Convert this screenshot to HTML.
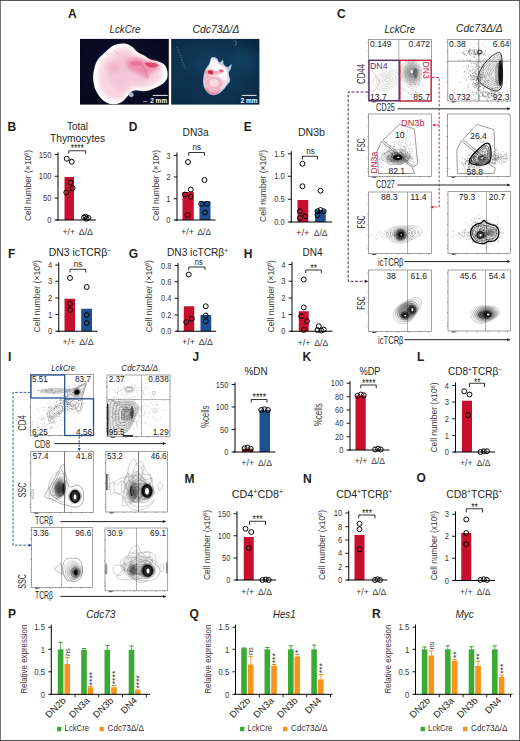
<!DOCTYPE html>
<html lang="en"><head><meta charset="utf-8"><title>Figure</title>
<style>
html,body{margin:0;padding:0;background:#fff;}
svg{display:block;font-family:"Liberation Sans", sans-serif;}
</style></head><body>
<svg width="520" height="741" viewBox="0 0 520 741">
<defs>
<filter id="b1" x="-20%" y="-20%" width="140%" height="140%"><feGaussianBlur stdDeviation="0.7"/></filter>
<filter id="b2" x="-30%" y="-30%" width="160%" height="160%"><feGaussianBlur stdDeviation="2.2"/></filter>
<filter id="b3" x="-30%" y="-30%" width="160%" height="160%"><feGaussianBlur stdDeviation="4"/></filter>
<filter id="b05" x="-20%" y="-20%" width="140%" height="140%"><feGaussianBlur stdDeviation="0.45"/></filter>
<radialGradient id="bg1" cx="50%" cy="45%" r="70%"><stop offset="0" stop-color="#0d1230"/><stop offset="1" stop-color="#05071a"/></radialGradient>
<radialGradient id="bg2" cx="45%" cy="50%" r="75%"><stop offset="0" stop-color="#12405f"/><stop offset="0.6" stop-color="#0d3350"/><stop offset="1" stop-color="#08233c"/></radialGradient>
<radialGradient id="th1" cx="45%" cy="50%" r="60%"><stop offset="0" stop-color="#f6bccb"/><stop offset="0.55" stop-color="#f8cbd7"/><stop offset="0.85" stop-color="#fde3ea"/><stop offset="1" stop-color="#ffffff"/></radialGradient>
<radialGradient id="th2" cx="50%" cy="55%" r="60%"><stop offset="0" stop-color="#f7c3d0"/><stop offset="0.7" stop-color="#f3b4c6"/><stop offset="1" stop-color="#f9dbe6"/></radialGradient>
<clipPath id="cpA1"><rect x="80" y="38.9" width="88.8" height="65.7"/></clipPath>
<clipPath id="cpA2"><rect x="171.2" y="38.9" width="88.2" height="65.7"/></clipPath>
<radialGradient id="gdark"><stop offset="0" stop-color="#000" stop-opacity="0.95"/><stop offset="0.45" stop-color="#000" stop-opacity="0.75"/><stop offset="0.8" stop-color="#000" stop-opacity="0.35"/><stop offset="1" stop-color="#000" stop-opacity="0"/></radialGradient>
<radialGradient id="gmid"><stop offset="0" stop-color="#000" stop-opacity="0.6"/><stop offset="0.6" stop-color="#000" stop-opacity="0.3"/><stop offset="1" stop-color="#000" stop-opacity="0"/></radialGradient>
<radialGradient id="glight"><stop offset="0" stop-color="#000" stop-opacity="0.25"/><stop offset="1" stop-color="#000" stop-opacity="0"/></radialGradient>
</defs>
<rect x="0" y="0" width="520" height="741" fill="#fff"/>
<text x="68.00" y="17.60" font-size="12" font-weight="700" fill="#231f20">A</text>
<text x="109.50" y="32.50" font-size="10.5" font-style="italic" fill="#231f20" textLength="31.00" lengthAdjust="spacingAndGlyphs">LckCre</text>
<text x="192.50" y="32.50" font-size="10.5" font-style="italic" fill="#231f20" textLength="47.00" lengthAdjust="spacingAndGlyphs">Cdc73Δ/Δ</text>
<rect x="80.00" y="38.90" width="88.80" height="65.70" fill="url(#bg1)" />
<g clip-path="url(#cpA1)">
<path d="M117.8,44.1C120.0,43.6 122.6,43.1 125.0,43.6C127.4,44.0 130.1,45.4 132.2,46.8C134.3,48.3 135.5,50.8 137.7,52.3C139.8,53.8 142.8,54.7 144.9,55.9C147.0,57.1 148.2,58.6 150.3,59.5C152.4,60.4 155.1,60.4 157.5,61.3C159.9,62.2 163.1,63.1 164.8,64.9C166.4,66.7 167.2,69.7 167.5,72.2C167.8,74.6 167.6,77.3 166.6,79.4C165.5,81.5 163.3,83.3 161.2,84.8C159.0,86.3 156.6,87.4 153.9,88.4C151.2,89.5 147.9,90.8 144.9,91.1C141.9,91.4 138.3,90.0 135.8,90.2C133.4,90.4 131.9,91.3 130.4,92.4C129.0,93.5 128.7,94.9 127.2,96.6C125.7,98.2 123.9,100.9 121.4,102.2C118.9,103.5 115.4,104.7 112.3,104.3C109.3,104.0 105.7,102.4 102.9,100.2C100.2,98.0 97.7,94.6 96.1,91.1C94.4,87.7 93.5,83.1 93.2,79.4C92.9,75.6 93.5,71.9 94.3,68.5C95.1,65.2 96.1,62.2 97.9,59.5C99.7,56.8 102.9,54.4 105.1,52.3C107.4,50.2 109.3,48.2 111.4,46.8C113.6,45.5 115.5,44.7 117.8,44.1Z" fill="#fff" stroke="none" stroke-width="1" filter="url(#b1)"/>
<path d="M119.2,48.0C121.1,47.6 123.3,47.2 125.4,47.6C127.5,48.0 129.8,49.1 131.6,50.4C133.5,51.6 134.5,53.7 136.3,55.0C138.1,56.3 140.7,57.1 142.5,58.1C144.3,59.2 145.4,60.5 147.2,61.2C149.0,62.0 151.3,62.0 153.4,62.8C155.5,63.6 158.2,64.4 159.6,65.9C161.0,67.5 161.7,70.1 162.0,72.1C162.2,74.2 162.1,76.5 161.2,78.4C160.3,80.2 158.3,81.7 156.5,83.0C154.7,84.3 152.6,85.2 150.3,86.1C148.0,87.0 145.1,88.2 142.5,88.5C139.9,88.7 136.8,87.5 134.7,87.7C132.7,87.9 131.3,88.6 130.1,89.5C128.8,90.5 128.6,91.7 127.3,93.1C126.0,94.5 124.4,96.8 122.3,97.9C120.2,99.1 117.2,100.1 114.5,99.8C111.9,99.5 108.8,98.1 106.5,96.2C104.1,94.3 101.9,91.4 100.5,88.5C99.1,85.5 98.3,81.6 98.1,78.4C97.8,75.1 98.3,71.9 99.0,69.0C99.7,66.2 100.5,63.6 102.1,61.2C103.7,58.9 106.4,56.8 108.3,55.0C110.3,53.2 111.9,51.5 113.8,50.4C115.6,49.2 117.3,48.5 119.2,48.0Z" fill="#f8d6e1" stroke="none" stroke-width="1" filter="url(#b2)"/>
<path d="M123.2,54.0C124.6,53.6 126.2,53.3 127.7,53.6C129.2,53.9 130.8,54.7 132.1,55.6C133.5,56.5 134.2,58.1 135.5,59.0C136.8,59.9 138.7,60.5 140.0,61.2C141.3,62.0 142.0,62.9 143.4,63.5C144.7,64.1 146.3,64.1 147.8,64.6C149.3,65.2 151.3,65.7 152.3,66.9C153.3,68.0 153.8,69.8 154.0,71.3C154.2,72.8 154.1,74.5 153.4,75.8C152.8,77.1 151.4,78.2 150.1,79.2C148.8,80.1 147.3,80.8 145.6,81.4C143.9,82.1 141.9,82.9 140.0,83.1C138.1,83.3 135.9,82.4 134.4,82.5C132.9,82.7 131.9,83.2 131.0,83.9C130.1,84.5 129.9,85.5 129.0,86.5C128.1,87.5 126.9,89.1 125.4,89.9C123.9,90.7 121.7,91.5 119.8,91.3C117.9,91.1 115.7,90.1 114.0,88.7C112.3,87.3 110.7,85.3 109.7,83.1C108.7,81.0 108.1,78.2 107.9,75.8C107.7,73.5 108.1,71.1 108.6,69.1C109.1,67.0 109.7,65.2 110.8,63.5C112.0,61.8 113.9,60.3 115.3,59.0C116.7,57.7 117.9,56.5 119.3,55.6C120.6,54.8 121.8,54.3 123.2,54.0Z" fill="#f3bfd4" stroke="none" stroke-width="1" opacity="0.65" filter="url(#b2)"/>
<path d="M126.8,61.3C128.3,59.8 132.5,57.8 135.8,57.7C139.2,57.5 143.1,59.5 146.7,60.4C150.3,61.3 155.4,61.8 157.5,63.1C159.6,64.5 160.6,67.0 159.3,68.5C158.1,70.0 152.4,70.6 150.3,72.2C148.2,73.7 148.5,77.3 146.7,77.6C144.9,77.9 141.9,75.2 139.5,74.0C137.1,72.8 134.3,71.6 132.2,70.3C130.1,69.1 127.7,68.2 126.8,66.7C125.9,65.2 125.3,62.8 126.8,61.3Z" fill="#e6608a" stroke="none" stroke-width="1" opacity="0.55" filter="url(#b2)"/>
<path d="M129.5,63.1C129.5,62.3 135.4,60.9 137.7,60.9C139.9,60.9 143.1,62.3 143.1,63.1C143.1,63.9 139.9,65.8 137.7,65.8C135.4,65.8 129.5,63.9 129.5,63.1Z" fill="#e0507a" stroke="none" stroke-width="1" opacity="0.4" filter="url(#b1)"/>
<path d="M144.9,62.8C145.6,62.0 152.6,62.6 154.8,63.1C157.1,63.6 159.2,65.1 158.4,65.8C157.7,66.6 152.6,68.1 150.3,67.6C148.0,67.1 144.1,63.5 144.9,62.8Z" fill="#d32650" stroke="none" stroke-width="1" opacity="0.7" filter="url(#b1)"/>
<ellipse cx="113.2" cy="67.6" rx="7" ry="5" fill="#ee9db4" opacity="0.45" filter="url(#b2)"/>
<path d="M142.2,64.9C142.6,65.7 144.1,67.8 144.9,69.4C145.6,71.1 146.2,73.4 146.7,74.9C147.1,76.4 147.4,77.9 147.6,78.5" fill="none" stroke="#c0315a" stroke-width="0.5" opacity="0.6"/>
<path d="M115.1,51.4C115.4,51.7 116.3,52.7 116.9,53.2C117.5,53.6 118.4,53.9 118.7,54.1" fill="none" stroke="#c03a5a" stroke-width="0.5" opacity="0.5"/>
<path d="M128.6,93.5C128.9,92.7 131.4,92.0 132.2,92.4C133.1,92.8 134.0,94.9 133.7,95.7C133.4,96.4 131.3,97.5 130.4,97.1C129.6,96.7 128.3,94.3 128.6,93.5Z" fill="#c9d4f0" stroke="none" stroke-width="1" opacity="0.85" filter="url(#b05)"/>
</g>
<line x1="152.80" y1="95.40" x2="167.80" y2="95.40" stroke="#fff" stroke-width="0.9" />
<text x="158.70" y="103.30" font-size="7" text-anchor="middle" font-weight="700" fill="#fff" textLength="17.00" lengthAdjust="spacingAndGlyphs">2 mm</text>
<line x1="143.00" y1="101.70" x2="147.20" y2="101.40" stroke="#c8cce0" stroke-width="0.7" />
<rect x="171.20" y="38.90" width="88.20" height="65.70" fill="url(#bg2)" />
<g clip-path="url(#cpA2)">
<path d="M177.0,46.8C177.5,48.1 178.8,51.7 179.7,54.1C180.7,56.5 181.4,58.7 182.5,61.3C183.5,63.9 185.5,68.1 186.1,69.4" fill="none" stroke="#8fc0dc" stroke-width="0.8" opacity="0.55" stroke-dasharray="1.5 1.2" filter="url(#b05)"/>
<path d="M234.9,40.5C235.1,41.0 236.3,42.3 236.3,43.2C236.4,44.1 235.4,45.5 235.2,45.9" fill="none" stroke="#7fb3d2" stroke-width="1.2" opacity="0.45" filter="url(#b05)"/>
<ellipse cx="200" cy="85" rx="22" ry="12" fill="#0a2a45" opacity="0.5" filter="url(#b3)"/>
<ellipse cx="245" cy="60" rx="14" ry="12" fill="#164a6b" opacity="0.45" filter="url(#b3)"/>
<path d="M213.3,57.1C214.3,57.1 216.1,57.7 217.1,58.6C218.1,59.5 218.5,62.2 219.5,62.4C220.5,62.6 222.2,59.7 222.9,60.0C223.6,60.3 223.0,63.1 223.8,64.3C224.6,65.5 226.4,67.2 227.7,67.2C229.0,67.2 231.0,64.0 231.5,64.3C232.0,64.6 231.1,67.8 230.6,69.2C230.1,70.7 228.8,71.1 228.7,73.0C228.6,74.9 230.4,78.6 230.1,80.7C229.8,82.8 227.9,83.9 226.7,85.5C225.5,87.1 224.5,88.8 222.9,90.3C221.3,91.8 219.2,93.9 217.1,94.6C215.0,95.3 212.3,95.3 210.4,94.6C208.5,93.9 206.8,92.1 205.6,90.3C204.4,88.5 203.5,86.2 203.2,83.6C202.9,81.0 203.3,77.3 203.7,74.9C204.1,72.5 204.6,71.1 205.6,69.2C206.6,67.3 208.5,65.2 209.4,63.4C210.3,61.6 210.2,59.6 210.9,58.6C211.6,57.6 212.3,57.1 213.3,57.1Z" fill="#d6e6f4" stroke="none" stroke-width="1" opacity="0.85" filter="url(#b1)"/>
<path d="M213.3,58.2C214.1,58.2 215.6,58.9 216.5,59.8C217.4,60.7 217.9,62.5 219.0,63.5C220.1,64.5 221.8,64.7 223.0,65.5C224.2,66.3 225.7,67.1 226.5,68.5C227.3,69.9 227.6,72.0 228.0,74.0C228.4,76.0 229.2,78.7 228.8,80.5C228.4,82.3 226.8,83.5 225.6,85.0C224.4,86.5 223.4,88.0 221.9,89.4C220.4,90.8 218.4,92.7 216.6,93.4C214.8,94.1 212.5,94.0 210.8,93.4C209.1,92.8 207.7,91.3 206.6,89.6C205.5,87.9 204.7,85.7 204.4,83.3C204.1,80.9 204.5,77.5 204.9,75.2C205.3,72.9 205.8,71.6 206.7,69.7C207.6,67.8 209.4,65.7 210.2,64.0C211.0,62.3 211.0,60.6 211.5,59.6C212.0,58.6 212.5,58.2 213.3,58.2Z" fill="#f8dbe4" stroke="none" stroke-width="1" filter="url(#b05)"/>
<path d="M211.5,60.0C212.6,58.9 214.8,59.7 216.0,60.5C217.2,61.3 217.7,63.8 219.0,65.0C220.3,66.2 222.7,66.3 224.0,67.5C225.3,68.7 226.6,69.9 227.0,72.0C227.4,74.1 227.5,79.0 226.5,80.0C225.5,81.0 223.1,79.8 221.0,78.0C218.9,76.2 215.9,71.3 214.0,69.5C212.1,67.7 209.9,68.6 209.5,67.0C209.1,65.4 210.4,61.1 211.5,60.0Z" fill="#fff" stroke="none" stroke-width="1" opacity="0.9" filter="url(#b1)"/>
<path d="M205.5,76.0C206.7,74.9 209.8,76.2 212.0,76.5C214.2,76.8 217.2,76.9 219.0,78.0C220.8,79.1 222.8,81.2 223.0,83.0C223.2,84.8 221.3,87.3 220.0,89.0C218.7,90.7 216.6,92.3 215.0,93.0C213.4,93.7 211.9,93.7 210.5,93.0C209.1,92.3 207.4,90.7 206.5,89.0C205.6,87.3 205.0,85.2 204.8,83.0C204.6,80.8 204.3,77.1 205.5,76.0Z" fill="#f3a9be" stroke="none" stroke-width="1" opacity="0.7" filter="url(#b1)"/>
<path d="M206.0,87.0C206.6,87.2 208.3,90.6 210.0,91.5C211.7,92.4 214.2,93.0 216.0,92.5C217.8,92.0 220.8,88.2 221.0,88.5C221.2,88.8 218.7,93.0 217.0,94.0C215.3,95.0 212.4,94.8 210.6,94.2C208.8,93.6 207.0,91.5 206.2,90.3C205.4,89.1 205.4,86.8 206.0,87.0Z" fill="#e36f90" stroke="none" stroke-width="1" opacity="0.7" filter="url(#b1)"/>
<ellipse cx="214" cy="83" rx="4.5" ry="4" fill="#fdebf0" opacity="0.7" filter="url(#b1)"/>
<path d="M205.5,71.5C206.3,70.7 208.2,69.9 210.0,69.8C211.8,69.7 214.0,71.0 216.0,71.0C218.0,71.0 220.7,69.4 222.0,69.5C223.3,69.6 224.2,70.8 224.0,71.5C223.8,72.2 222.5,73.3 221.0,73.8C219.5,74.3 217.0,74.2 215.0,74.5C213.0,74.8 210.6,75.3 209.0,75.3C207.4,75.3 206.0,75.1 205.4,74.5C204.8,73.9 204.7,72.3 205.5,71.5Z" fill="#ee7f9c" stroke="none" stroke-width="1" opacity="0.55" filter="url(#b1)"/>
<ellipse cx="210.6" cy="72.2" rx="2.6" ry="1.9" fill="#d3123e" filter="url(#b05)" transform="rotate(15 210.6 72.2)"/>
<ellipse cx="221.2" cy="70.8" rx="2.2" ry="1.4" fill="#e2507a" opacity="0.85" filter="url(#b05)"/>
</g>
<line x1="241.80" y1="95.40" x2="256.60" y2="95.40" stroke="#fff" stroke-width="0.9" />
<text x="249.00" y="103.30" font-size="7" text-anchor="middle" font-weight="700" fill="#fff" textLength="17.00" lengthAdjust="spacingAndGlyphs">2 mm</text>
<text x="77.50" y="129.50" font-size="10" text-anchor="middle" fill="#231f20" textLength="21.00" lengthAdjust="spacingAndGlyphs">Total</text>
<text x="7.50" y="131.30" font-size="12" font-weight="700" fill="#231f20">B</text>
<text x="50.00" y="142.00" font-size="10" fill="#231f20" textLength="55.00" lengthAdjust="spacingAndGlyphs">Thymocytes</text>
<rect x="64.50" y="177.00" width="9.50" height="43.00" fill="#c8102e" />
<line x1="58.00" y1="152.50" x2="58.00" y2="220.50" stroke="#000" stroke-width="1" />
<line x1="56.50" y1="220.00" x2="96.00" y2="220.00" stroke="#000" stroke-width="1" />
<line x1="54.60" y1="154.50" x2="58.00" y2="154.50" stroke="#000" stroke-width="0.9" />
<text x="51.40" y="157.70" font-size="9.6" text-anchor="end" fill="#3a3a3a" textLength="12.60" lengthAdjust="spacingAndGlyphs">150</text>
<line x1="54.60" y1="176.25" x2="58.00" y2="176.25" stroke="#000" stroke-width="0.9" />
<text x="51.40" y="179.45" font-size="9.6" text-anchor="end" fill="#3a3a3a" textLength="12.60" lengthAdjust="spacingAndGlyphs">100</text>
<line x1="54.60" y1="198.00" x2="58.00" y2="198.00" stroke="#000" stroke-width="0.9" />
<text x="51.40" y="201.20" font-size="9.6" text-anchor="end" fill="#3a3a3a" textLength="8.40" lengthAdjust="spacingAndGlyphs">50</text>
<line x1="54.60" y1="220.00" x2="58.00" y2="220.00" stroke="#000" stroke-width="0.9" />
<text x="51.40" y="223.20" font-size="9.6" text-anchor="end" fill="#3a3a3a" textLength="4.20" lengthAdjust="spacingAndGlyphs">0</text>
<circle cx="66.75" cy="158.75" r="2.45" fill="none" stroke="#000" stroke-width="1.0"/>
<circle cx="71.75" cy="161.75" r="2.45" fill="none" stroke="#000" stroke-width="1.0"/>
<circle cx="70.50" cy="182.50" r="2.45" fill="none" stroke="#000" stroke-width="1.0"/>
<circle cx="72.50" cy="188.25" r="2.45" fill="none" stroke="#000" stroke-width="1.0"/>
<circle cx="66.25" cy="192.50" r="2.45" fill="none" stroke="#000" stroke-width="1.0"/>
<circle cx="84.00" cy="217.50" r="2.45" fill="none" stroke="#000" stroke-width="1.0"/>
<circle cx="86.50" cy="218.70" r="2.45" fill="none" stroke="#000" stroke-width="1.0"/>
<circle cx="88.30" cy="217.80" r="2.45" fill="none" stroke="#000" stroke-width="1.0"/>
<circle cx="85.50" cy="216.60" r="2.45" fill="none" stroke="#000" stroke-width="1.0"/>
<path d="M68.75,153.75V150.75H85.75V153.75" fill="none" stroke="#000" stroke-width="0.8" />
<text x="77.20" y="152.40" font-size="10.5" text-anchor="middle" fill="#231f20" textLength="13.00" lengthAdjust="spacingAndGlyphs">****</text>
<text x="62.50" y="234.50" font-size="9" fill="#3a3a3a" textLength="12.50" lengthAdjust="spacingAndGlyphs">+/+</text>
<text x="78.75" y="234.50" font-size="9" fill="#3a3a3a" textLength="14.25" lengthAdjust="spacingAndGlyphs">Δ/Δ</text>
<text x="30.70" y="221.00" font-size="9.7" fill="#3a3a3a" transform="rotate(-90 30.70 221.00)" textLength="71.00" lengthAdjust="spacingAndGlyphs">Cell number (×10<tspan dy="-2.6" font-size="6.0">6</tspan><tspan dy="2.6">)</tspan></text>
<text x="128.75" y="131.30" font-size="12" font-weight="700" fill="#231f20">D</text>
<text x="182.50" y="136.25" font-size="10" fill="#231f20" textLength="26.25" lengthAdjust="spacingAndGlyphs">DN3a</text>
<rect x="182.50" y="192.00" width="11.25" height="28.00" fill="#c8102e" />
<rect x="199.50" y="201.25" width="11.00" height="18.75" fill="#1d4f91" />
<line x1="177.00" y1="152.50" x2="177.00" y2="220.50" stroke="#000" stroke-width="1" />
<line x1="175.50" y1="220.00" x2="215.50" y2="220.00" stroke="#000" stroke-width="1" />
<line x1="173.60" y1="155.50" x2="177.00" y2="155.50" stroke="#000" stroke-width="0.9" />
<text x="170.40" y="158.70" font-size="9.6" text-anchor="end" fill="#3a3a3a" textLength="4.20" lengthAdjust="spacingAndGlyphs">3</text>
<line x1="173.60" y1="177.00" x2="177.00" y2="177.00" stroke="#000" stroke-width="0.9" />
<text x="170.40" y="180.20" font-size="9.6" text-anchor="end" fill="#3a3a3a" textLength="4.20" lengthAdjust="spacingAndGlyphs">2</text>
<line x1="173.60" y1="198.75" x2="177.00" y2="198.75" stroke="#000" stroke-width="0.9" />
<text x="170.40" y="201.95" font-size="9.6" text-anchor="end" fill="#3a3a3a" textLength="4.20" lengthAdjust="spacingAndGlyphs">1</text>
<line x1="173.60" y1="220.00" x2="177.00" y2="220.00" stroke="#000" stroke-width="0.9" />
<text x="170.40" y="223.20" font-size="9.6" text-anchor="end" fill="#3a3a3a" textLength="4.20" lengthAdjust="spacingAndGlyphs">0</text>
<circle cx="188.00" cy="162.00" r="2.45" fill="none" stroke="#000" stroke-width="1.0"/>
<circle cx="190.75" cy="189.50" r="2.45" fill="none" stroke="#000" stroke-width="1.0"/>
<circle cx="185.00" cy="194.50" r="2.45" fill="none" stroke="#000" stroke-width="1.0"/>
<circle cx="190.75" cy="196.75" r="2.45" fill="none" stroke="#000" stroke-width="1.0"/>
<circle cx="187.50" cy="215.00" r="2.45" fill="none" stroke="#000" stroke-width="1.0"/>
<circle cx="204.50" cy="180.00" r="2.45" fill="none" stroke="#000" stroke-width="1.0"/>
<circle cx="201.25" cy="203.75" r="2.45" fill="none" stroke="#000" stroke-width="1.0"/>
<circle cx="207.00" cy="203.75" r="2.45" fill="none" stroke="#000" stroke-width="1.0"/>
<circle cx="205.00" cy="212.50" r="2.45" fill="none" stroke="#000" stroke-width="1.0"/>
<path d="M188.75,155.75V152.50H204.50V155.75" fill="none" stroke="#000" stroke-width="0.8" />
<text x="196.80" y="150.30" font-size="8.3" text-anchor="middle" fill="#231f20" textLength="8.50" lengthAdjust="spacingAndGlyphs">ns</text>
<text x="181.00" y="234.50" font-size="9" fill="#3a3a3a" textLength="13.00" lengthAdjust="spacingAndGlyphs">+/+</text>
<text x="197.50" y="234.50" font-size="9" fill="#3a3a3a" textLength="13.50" lengthAdjust="spacingAndGlyphs">Δ/Δ</text>
<text x="159.20" y="221.00" font-size="9.7" fill="#3a3a3a" transform="rotate(-90 159.20 221.00)" textLength="71.00" lengthAdjust="spacingAndGlyphs">Cell number (×10<tspan dy="-2.6" font-size="6.0">6</tspan><tspan dy="2.6">)</tspan></text>
<text x="243.75" y="131.30" font-size="12" font-weight="700" fill="#231f20">E</text>
<text x="298.00" y="136.25" font-size="10" fill="#231f20" textLength="27.00" lengthAdjust="spacingAndGlyphs">DN3b</text>
<rect x="297.50" y="200.00" width="10.75" height="22.00" fill="#c8102e" />
<rect x="315.00" y="210.00" width="10.75" height="12.00" fill="#1d4f91" />
<line x1="291.25" y1="151.25" x2="291.25" y2="222.50" stroke="#000" stroke-width="1" />
<line x1="289.75" y1="222.00" x2="332.00" y2="222.00" stroke="#000" stroke-width="1" />
<line x1="287.85" y1="153.75" x2="291.25" y2="153.75" stroke="#000" stroke-width="0.9" />
<text x="284.65" y="156.95" font-size="9.6" text-anchor="end" fill="#3a3a3a" textLength="10.40" lengthAdjust="spacingAndGlyphs">1.5</text>
<line x1="287.85" y1="176.25" x2="291.25" y2="176.25" stroke="#000" stroke-width="0.9" />
<text x="284.65" y="179.45" font-size="9.6" text-anchor="end" fill="#3a3a3a" textLength="10.40" lengthAdjust="spacingAndGlyphs">1.0</text>
<line x1="287.85" y1="199.25" x2="291.25" y2="199.25" stroke="#000" stroke-width="0.9" />
<text x="284.65" y="202.45" font-size="9.6" text-anchor="end" fill="#3a3a3a" textLength="10.40" lengthAdjust="spacingAndGlyphs">0.5</text>
<line x1="287.85" y1="222.00" x2="291.25" y2="222.00" stroke="#000" stroke-width="0.9" />
<text x="284.65" y="225.20" font-size="9.6" text-anchor="end" fill="#3a3a3a" textLength="10.40" lengthAdjust="spacingAndGlyphs">0.0</text>
<circle cx="302.50" cy="163.75" r="2.45" fill="none" stroke="#000" stroke-width="1.0"/>
<circle cx="302.50" cy="186.25" r="2.45" fill="none" stroke="#000" stroke-width="1.0"/>
<circle cx="300.00" cy="211.25" r="2.45" fill="none" stroke="#000" stroke-width="1.0"/>
<circle cx="305.00" cy="216.25" r="2.45" fill="none" stroke="#000" stroke-width="1.0"/>
<circle cx="300.00" cy="218.00" r="2.45" fill="none" stroke="#000" stroke-width="1.0"/>
<circle cx="320.50" cy="190.75" r="2.45" fill="none" stroke="#000" stroke-width="1.0"/>
<circle cx="317.50" cy="211.25" r="2.45" fill="none" stroke="#000" stroke-width="1.0"/>
<circle cx="320.50" cy="210.00" r="2.45" fill="none" stroke="#000" stroke-width="1.0"/>
<circle cx="323.75" cy="211.25" r="2.45" fill="none" stroke="#000" stroke-width="1.0"/>
<circle cx="317.50" cy="215.00" r="2.45" fill="none" stroke="#000" stroke-width="1.0"/>
<path d="M302.50,159.50V156.25H317.50V159.50" fill="none" stroke="#000" stroke-width="0.8" />
<text x="310.50" y="154.00" font-size="8.3" text-anchor="middle" fill="#231f20" textLength="8.50" lengthAdjust="spacingAndGlyphs">ns</text>
<text x="296.00" y="236.00" font-size="9" fill="#3a3a3a" textLength="13.50" lengthAdjust="spacingAndGlyphs">+/+</text>
<text x="313.75" y="236.00" font-size="9" fill="#3a3a3a" textLength="13.75" lengthAdjust="spacingAndGlyphs">Δ/Δ</text>
<text x="265.70" y="222.00" font-size="9.7" fill="#3a3a3a" transform="rotate(-90 265.70 222.00)" textLength="72.00" lengthAdjust="spacingAndGlyphs">Cell number (×10<tspan dy="-2.6" font-size="6.0">6</tspan><tspan dy="2.6">)</tspan></text>
<text x="8.00" y="258.00" font-size="12" font-weight="700" fill="#231f20">F</text>
<text x="48.75" y="256.25" font-size="10" fill="#231f20" textLength="62.50" lengthAdjust="spacingAndGlyphs">DN3 icTCRβ<tspan dy="-3.2" font-size="6.5">−</tspan></text>
<rect x="64.50" y="298.75" width="10.50" height="32.50" fill="#c8102e" />
<rect x="81.25" y="308.75" width="10.75" height="22.50" fill="#1d4f91" />
<line x1="58.75" y1="262.50" x2="58.75" y2="331.75" stroke="#000" stroke-width="1" />
<line x1="57.25" y1="331.25" x2="97.50" y2="331.25" stroke="#000" stroke-width="1" />
<line x1="55.35" y1="265.00" x2="58.75" y2="265.00" stroke="#000" stroke-width="0.9" />
<text x="52.15" y="268.20" font-size="9.6" text-anchor="end" fill="#3a3a3a" textLength="4.20" lengthAdjust="spacingAndGlyphs">4</text>
<line x1="55.35" y1="281.25" x2="58.75" y2="281.25" stroke="#000" stroke-width="0.9" />
<text x="52.15" y="284.45" font-size="9.6" text-anchor="end" fill="#3a3a3a" textLength="4.20" lengthAdjust="spacingAndGlyphs">3</text>
<line x1="55.35" y1="298.00" x2="58.75" y2="298.00" stroke="#000" stroke-width="0.9" />
<text x="52.15" y="301.20" font-size="9.6" text-anchor="end" fill="#3a3a3a" textLength="4.20" lengthAdjust="spacingAndGlyphs">2</text>
<line x1="55.35" y1="314.50" x2="58.75" y2="314.50" stroke="#000" stroke-width="0.9" />
<text x="52.15" y="317.70" font-size="9.6" text-anchor="end" fill="#3a3a3a" textLength="4.20" lengthAdjust="spacingAndGlyphs">1</text>
<line x1="55.35" y1="331.25" x2="58.75" y2="331.25" stroke="#000" stroke-width="0.9" />
<text x="52.15" y="334.45" font-size="9.6" text-anchor="end" fill="#3a3a3a" textLength="4.20" lengthAdjust="spacingAndGlyphs">0</text>
<circle cx="70.00" cy="278.00" r="2.45" fill="none" stroke="#000" stroke-width="1.0"/>
<circle cx="70.00" cy="303.75" r="2.45" fill="none" stroke="#000" stroke-width="1.0"/>
<circle cx="70.00" cy="310.00" r="2.45" fill="none" stroke="#000" stroke-width="1.0"/>
<circle cx="86.75" cy="287.00" r="2.45" fill="none" stroke="#000" stroke-width="1.0"/>
<circle cx="86.75" cy="315.00" r="2.45" fill="none" stroke="#000" stroke-width="1.0"/>
<circle cx="86.75" cy="323.00" r="2.45" fill="none" stroke="#000" stroke-width="1.0"/>
<path d="M70.00,272.50V269.25H85.75V272.50" fill="none" stroke="#000" stroke-width="0.8" />
<text x="78.00" y="267.00" font-size="8.3" text-anchor="middle" fill="#231f20" textLength="8.50" lengthAdjust="spacingAndGlyphs">ns</text>
<text x="62.50" y="345.00" font-size="9" fill="#3a3a3a" textLength="13.00" lengthAdjust="spacingAndGlyphs">+/+</text>
<text x="79.25" y="345.00" font-size="9" fill="#3a3a3a" textLength="14.50" lengthAdjust="spacingAndGlyphs">Δ/Δ</text>
<text x="39.70" y="332.50" font-size="9.7" fill="#3a3a3a" transform="rotate(-90 39.70 332.50)" textLength="72.50" lengthAdjust="spacingAndGlyphs">Cell number (×10<tspan dy="-2.6" font-size="6.0">6</tspan><tspan dy="2.6">)</tspan></text>
<text x="128.75" y="258.00" font-size="12" font-weight="700" fill="#231f20">G</text>
<text x="167.00" y="256.25" font-size="10" fill="#231f20" textLength="61.00" lengthAdjust="spacingAndGlyphs">DN3 icTCRβ<tspan dy="-3.2" font-size="6.5">+</tspan></text>
<rect x="183.75" y="306.25" width="10.50" height="25.00" fill="#c8102e" />
<rect x="200.50" y="315.00" width="10.75" height="16.25" fill="#1d4f91" />
<line x1="178.00" y1="263.00" x2="178.00" y2="331.75" stroke="#000" stroke-width="1" />
<line x1="176.50" y1="331.25" x2="216.25" y2="331.25" stroke="#000" stroke-width="1" />
<line x1="174.60" y1="265.50" x2="178.00" y2="265.50" stroke="#000" stroke-width="0.9" />
<text x="171.40" y="268.70" font-size="9.6" text-anchor="end" fill="#3a3a3a" textLength="10.40" lengthAdjust="spacingAndGlyphs">0.8</text>
<line x1="174.60" y1="281.75" x2="178.00" y2="281.75" stroke="#000" stroke-width="0.9" />
<text x="171.40" y="284.95" font-size="9.6" text-anchor="end" fill="#3a3a3a" textLength="10.40" lengthAdjust="spacingAndGlyphs">0.6</text>
<line x1="174.60" y1="298.25" x2="178.00" y2="298.25" stroke="#000" stroke-width="0.9" />
<text x="171.40" y="301.45" font-size="9.6" text-anchor="end" fill="#3a3a3a" textLength="10.40" lengthAdjust="spacingAndGlyphs">0.4</text>
<line x1="174.60" y1="315.00" x2="178.00" y2="315.00" stroke="#000" stroke-width="0.9" />
<text x="171.40" y="318.20" font-size="9.6" text-anchor="end" fill="#3a3a3a" textLength="10.40" lengthAdjust="spacingAndGlyphs">0.2</text>
<line x1="174.60" y1="331.25" x2="178.00" y2="331.25" stroke="#000" stroke-width="0.9" />
<text x="171.40" y="334.45" font-size="9.6" text-anchor="end" fill="#3a3a3a" textLength="10.40" lengthAdjust="spacingAndGlyphs">0.0</text>
<circle cx="188.75" cy="274.50" r="2.45" fill="none" stroke="#000" stroke-width="1.0"/>
<circle cx="191.75" cy="318.75" r="2.45" fill="none" stroke="#000" stroke-width="1.0"/>
<circle cx="186.25" cy="322.00" r="2.45" fill="none" stroke="#000" stroke-width="1.0"/>
<circle cx="205.75" cy="306.25" r="2.45" fill="none" stroke="#000" stroke-width="1.0"/>
<circle cx="205.75" cy="315.50" r="2.45" fill="none" stroke="#000" stroke-width="1.0"/>
<circle cx="205.75" cy="321.25" r="2.45" fill="none" stroke="#000" stroke-width="1.0"/>
<path d="M188.75,270.00V267.00H205.00V270.00" fill="none" stroke="#000" stroke-width="0.8" />
<text x="198.70" y="264.80" font-size="8.3" text-anchor="middle" fill="#231f20" textLength="8.00" lengthAdjust="spacingAndGlyphs">ns</text>
<text x="182.00" y="345.00" font-size="9" fill="#3a3a3a" textLength="13.00" lengthAdjust="spacingAndGlyphs">+/+</text>
<text x="198.75" y="345.00" font-size="9" fill="#3a3a3a" textLength="14.25" lengthAdjust="spacingAndGlyphs">Δ/Δ</text>
<text x="152.00" y="332.50" font-size="9.7" fill="#3a3a3a" transform="rotate(-90 152.00 332.50)" textLength="72.50" lengthAdjust="spacingAndGlyphs">Cell number (×10<tspan dy="-2.6" font-size="6.0">6</tspan><tspan dy="2.6">)</tspan></text>
<text x="243.75" y="258.00" font-size="12" font-weight="700" fill="#231f20">H</text>
<text x="302.50" y="255.50" font-size="10" fill="#231f20" textLength="20.00" lengthAdjust="spacingAndGlyphs">DN4</text>
<rect x="298.75" y="311.25" width="10.00" height="20.00" fill="#c8102e" />
<line x1="292.00" y1="261.75" x2="292.00" y2="331.75" stroke="#000" stroke-width="1" />
<line x1="290.50" y1="331.25" x2="332.50" y2="331.25" stroke="#000" stroke-width="1" />
<line x1="288.60" y1="264.50" x2="292.00" y2="264.50" stroke="#000" stroke-width="0.9" />
<text x="285.40" y="267.70" font-size="9.6" text-anchor="end" fill="#3a3a3a" textLength="4.20" lengthAdjust="spacingAndGlyphs">4</text>
<line x1="288.60" y1="281.25" x2="292.00" y2="281.25" stroke="#000" stroke-width="0.9" />
<text x="285.40" y="284.45" font-size="9.6" text-anchor="end" fill="#3a3a3a" textLength="4.20" lengthAdjust="spacingAndGlyphs">3</text>
<line x1="288.60" y1="298.00" x2="292.00" y2="298.00" stroke="#000" stroke-width="0.9" />
<text x="285.40" y="301.20" font-size="9.6" text-anchor="end" fill="#3a3a3a" textLength="4.20" lengthAdjust="spacingAndGlyphs">2</text>
<line x1="288.60" y1="314.50" x2="292.00" y2="314.50" stroke="#000" stroke-width="0.9" />
<text x="285.40" y="317.70" font-size="9.6" text-anchor="end" fill="#3a3a3a" textLength="4.20" lengthAdjust="spacingAndGlyphs">1</text>
<line x1="288.60" y1="331.25" x2="292.00" y2="331.25" stroke="#000" stroke-width="0.9" />
<text x="285.40" y="334.45" font-size="9.6" text-anchor="end" fill="#3a3a3a" textLength="4.20" lengthAdjust="spacingAndGlyphs">0</text>
<circle cx="303.75" cy="279.50" r="2.45" fill="none" stroke="#000" stroke-width="1.0"/>
<circle cx="303.75" cy="307.50" r="2.45" fill="none" stroke="#000" stroke-width="1.0"/>
<circle cx="301.25" cy="316.25" r="2.45" fill="none" stroke="#000" stroke-width="1.0"/>
<circle cx="307.00" cy="321.25" r="2.45" fill="none" stroke="#000" stroke-width="1.0"/>
<circle cx="303.75" cy="330.00" r="2.45" fill="none" stroke="#000" stroke-width="1.0"/>
<circle cx="318.75" cy="326.25" r="2.45" fill="none" stroke="#000" stroke-width="1.0"/>
<circle cx="317.50" cy="330.00" r="2.45" fill="none" stroke="#000" stroke-width="1.0"/>
<circle cx="321.25" cy="330.50" r="2.45" fill="none" stroke="#000" stroke-width="1.0"/>
<circle cx="323.75" cy="329.50" r="2.45" fill="none" stroke="#000" stroke-width="1.0"/>
<path d="M305.75,273.00V270.00H321.25V273.00" fill="none" stroke="#000" stroke-width="0.8" />
<text x="313.70" y="272.30" font-size="10.5" text-anchor="middle" fill="#231f20" textLength="6.50" lengthAdjust="spacingAndGlyphs">**</text>
<text x="297.50" y="345.50" font-size="9" fill="#3a3a3a" textLength="13.00" lengthAdjust="spacingAndGlyphs">+/+</text>
<text x="314.25" y="345.50" font-size="9" fill="#3a3a3a" textLength="14.00" lengthAdjust="spacingAndGlyphs">Δ/Δ</text>
<text x="274.00" y="332.50" font-size="9.7" fill="#3a3a3a" transform="rotate(-90 274.00 332.50)" textLength="72.50" lengthAdjust="spacingAndGlyphs">Cell number (×10<tspan dy="-2.6" font-size="6.0">6</tspan><tspan dy="2.6">)</tspan></text>
<text x="192.50" y="360.60" font-size="12" font-weight="700" fill="#231f20">J</text>
<text x="244.50" y="375.00" font-size="10" fill="#231f20" textLength="23.00" lengthAdjust="spacingAndGlyphs">%DN</text>
<rect x="242.00" y="448.75" width="11.25" height="3.25" fill="#8a1a2a" />
<rect x="259.50" y="410.00" width="10.50" height="42.00" fill="#1d4f91" />
<line x1="235.00" y1="382.50" x2="235.00" y2="452.50" stroke="#000" stroke-width="1" />
<line x1="233.50" y1="452.00" x2="275.50" y2="452.00" stroke="#000" stroke-width="1" />
<line x1="231.60" y1="384.50" x2="235.00" y2="384.50" stroke="#000" stroke-width="0.9" />
<text x="228.40" y="387.70" font-size="9.6" text-anchor="end" fill="#3a3a3a" textLength="12.60" lengthAdjust="spacingAndGlyphs">150</text>
<line x1="231.60" y1="407.00" x2="235.00" y2="407.00" stroke="#000" stroke-width="0.9" />
<text x="228.40" y="410.20" font-size="9.6" text-anchor="end" fill="#3a3a3a" textLength="12.60" lengthAdjust="spacingAndGlyphs">100</text>
<line x1="231.60" y1="429.50" x2="235.00" y2="429.50" stroke="#000" stroke-width="0.9" />
<text x="228.40" y="432.70" font-size="9.6" text-anchor="end" fill="#3a3a3a" textLength="8.40" lengthAdjust="spacingAndGlyphs">50</text>
<line x1="231.60" y1="452.00" x2="235.00" y2="452.00" stroke="#000" stroke-width="0.9" />
<text x="228.40" y="455.20" font-size="9.6" text-anchor="end" fill="#3a3a3a" textLength="4.20" lengthAdjust="spacingAndGlyphs">0</text>
<circle cx="244.50" cy="448.25" r="2.45" fill="none" stroke="#000" stroke-width="1.0"/>
<circle cx="247.50" cy="447.50" r="2.45" fill="none" stroke="#000" stroke-width="1.0"/>
<circle cx="250.75" cy="448.75" r="2.45" fill="none" stroke="#000" stroke-width="1.0"/>
<circle cx="261.25" cy="410.00" r="2.45" fill="none" stroke="#000" stroke-width="1.0"/>
<circle cx="264.50" cy="409.25" r="2.45" fill="none" stroke="#000" stroke-width="1.0"/>
<circle cx="268.00" cy="410.00" r="2.45" fill="none" stroke="#000" stroke-width="1.0"/>
<path d="M251.25,402.50V399.50H267.00V402.50" fill="none" stroke="#000" stroke-width="0.8" />
<text x="259.30" y="401.20" font-size="10.5" text-anchor="middle" fill="#231f20" textLength="13.50" lengthAdjust="spacingAndGlyphs">****</text>
<text x="241.25" y="466.00" font-size="9" fill="#3a3a3a" textLength="13.00" lengthAdjust="spacingAndGlyphs">+/+</text>
<text x="258.00" y="466.00" font-size="9" fill="#3a3a3a" textLength="14.00" lengthAdjust="spacingAndGlyphs">Δ/Δ</text>
<text x="208.80" y="428.00" font-size="10" fill="#3a3a3a" transform="rotate(-90 208.80 428.00)" textLength="22.50" lengthAdjust="spacingAndGlyphs">%cells</text>
<text x="302.50" y="360.60" font-size="12" font-weight="700" fill="#231f20">K</text>
<text x="359.50" y="375.00" font-size="10" fill="#231f20" textLength="21.00" lengthAdjust="spacingAndGlyphs">%DP</text>
<rect x="355.50" y="395.50" width="10.25" height="54.50" fill="#c8102e" />
<line x1="350.00" y1="381.25" x2="350.00" y2="450.50" stroke="#000" stroke-width="1" />
<line x1="348.50" y1="450.00" x2="389.50" y2="450.00" stroke="#000" stroke-width="1" />
<line x1="346.60" y1="383.25" x2="350.00" y2="383.25" stroke="#000" stroke-width="0.9" />
<text x="343.40" y="386.45" font-size="9.6" text-anchor="end" fill="#3a3a3a" textLength="12.60" lengthAdjust="spacingAndGlyphs">100</text>
<line x1="346.60" y1="396.75" x2="350.00" y2="396.75" stroke="#000" stroke-width="0.9" />
<text x="343.40" y="399.95" font-size="9.6" text-anchor="end" fill="#3a3a3a" textLength="8.40" lengthAdjust="spacingAndGlyphs">80</text>
<line x1="346.60" y1="410.00" x2="350.00" y2="410.00" stroke="#000" stroke-width="0.9" />
<text x="343.40" y="413.20" font-size="9.6" text-anchor="end" fill="#3a3a3a" textLength="8.40" lengthAdjust="spacingAndGlyphs">60</text>
<line x1="346.60" y1="423.25" x2="350.00" y2="423.25" stroke="#000" stroke-width="0.9" />
<text x="343.40" y="426.45" font-size="9.6" text-anchor="end" fill="#3a3a3a" textLength="8.40" lengthAdjust="spacingAndGlyphs">40</text>
<line x1="346.60" y1="436.75" x2="350.00" y2="436.75" stroke="#000" stroke-width="0.9" />
<text x="343.40" y="439.95" font-size="9.6" text-anchor="end" fill="#3a3a3a" textLength="8.40" lengthAdjust="spacingAndGlyphs">20</text>
<line x1="346.60" y1="450.00" x2="350.00" y2="450.00" stroke="#000" stroke-width="0.9" />
<text x="343.40" y="453.20" font-size="9.6" text-anchor="end" fill="#3a3a3a" textLength="4.20" lengthAdjust="spacingAndGlyphs">0</text>
<circle cx="357.50" cy="395.75" r="2.45" fill="none" stroke="#000" stroke-width="1.0"/>
<circle cx="360.75" cy="394.50" r="2.45" fill="none" stroke="#000" stroke-width="1.0"/>
<circle cx="363.75" cy="395.25" r="2.45" fill="none" stroke="#000" stroke-width="1.0"/>
<circle cx="375.00" cy="449.50" r="2.45" fill="none" stroke="#000" stroke-width="1.0"/>
<circle cx="378.00" cy="448.75" r="2.45" fill="none" stroke="#000" stroke-width="1.0"/>
<circle cx="380.75" cy="449.50" r="2.45" fill="none" stroke="#000" stroke-width="1.0"/>
<path d="M360.75,388.25V385.00H376.25V388.25" fill="none" stroke="#000" stroke-width="0.8" />
<text x="368.80" y="387.00" font-size="10.5" text-anchor="middle" fill="#231f20" textLength="13.50" lengthAdjust="spacingAndGlyphs">****</text>
<text x="354.50" y="464.00" font-size="9" fill="#3a3a3a" textLength="13.00" lengthAdjust="spacingAndGlyphs">+/+</text>
<text x="371.25" y="464.00" font-size="9" fill="#3a3a3a" textLength="13.75" lengthAdjust="spacingAndGlyphs">Δ/Δ</text>
<text x="321.80" y="426.25" font-size="10" fill="#3a3a3a" transform="rotate(-90 321.80 426.25)" textLength="23.00" lengthAdjust="spacingAndGlyphs">%cells</text>
<text x="417.00" y="360.60" font-size="12" font-weight="700" fill="#231f20">L</text>
<text x="448.00" y="375.00" font-size="10" fill="#231f20" textLength="54.00" lengthAdjust="spacingAndGlyphs">CD8<tspan dy="-3.2" font-size="6.5">+</tspan><tspan dy="3.2">TCRβ</tspan><tspan dy="-3.2" font-size="6.5">−</tspan></text>
<rect x="462.00" y="400.75" width="10.00" height="51.25" fill="#c8102e" />
<line x1="455.50" y1="382.50" x2="455.50" y2="452.50" stroke="#000" stroke-width="1" />
<line x1="454.00" y1="452.00" x2="495.00" y2="452.00" stroke="#000" stroke-width="1" />
<line x1="452.10" y1="385.50" x2="455.50" y2="385.50" stroke="#000" stroke-width="0.9" />
<text x="448.90" y="388.70" font-size="9.6" text-anchor="end" fill="#3a3a3a" textLength="4.20" lengthAdjust="spacingAndGlyphs">4</text>
<line x1="452.10" y1="402.00" x2="455.50" y2="402.00" stroke="#000" stroke-width="0.9" />
<text x="448.90" y="405.20" font-size="9.6" text-anchor="end" fill="#3a3a3a" textLength="4.20" lengthAdjust="spacingAndGlyphs">3</text>
<line x1="452.10" y1="418.75" x2="455.50" y2="418.75" stroke="#000" stroke-width="0.9" />
<text x="448.90" y="421.95" font-size="9.6" text-anchor="end" fill="#3a3a3a" textLength="4.20" lengthAdjust="spacingAndGlyphs">2</text>
<line x1="452.10" y1="435.50" x2="455.50" y2="435.50" stroke="#000" stroke-width="0.9" />
<text x="448.90" y="438.70" font-size="9.6" text-anchor="end" fill="#3a3a3a" textLength="4.20" lengthAdjust="spacingAndGlyphs">1</text>
<line x1="452.10" y1="452.00" x2="455.50" y2="452.00" stroke="#000" stroke-width="0.9" />
<text x="448.90" y="455.20" font-size="9.6" text-anchor="end" fill="#3a3a3a" textLength="4.20" lengthAdjust="spacingAndGlyphs">0</text>
<circle cx="464.25" cy="391.25" r="2.45" fill="none" stroke="#000" stroke-width="1.0"/>
<circle cx="469.50" cy="394.50" r="2.45" fill="none" stroke="#000" stroke-width="1.0"/>
<circle cx="468.00" cy="415.00" r="2.45" fill="none" stroke="#000" stroke-width="1.0"/>
<circle cx="480.50" cy="452.00" r="2.45" fill="none" stroke="#000" stroke-width="1.0"/>
<circle cx="483.75" cy="451.25" r="2.45" fill="none" stroke="#000" stroke-width="1.0"/>
<circle cx="487.00" cy="451.25" r="2.45" fill="none" stroke="#000" stroke-width="1.0"/>
<path d="M469.50,387.00V383.25H484.50V387.00" fill="none" stroke="#000" stroke-width="0.8" />
<text x="477.20" y="385.80" font-size="10.5" text-anchor="middle" fill="#231f20" textLength="6.50" lengthAdjust="spacingAndGlyphs">**</text>
<text x="460.00" y="466.00" font-size="9" fill="#3a3a3a" textLength="12.50" lengthAdjust="spacingAndGlyphs">+/+</text>
<text x="476.75" y="466.00" font-size="9" fill="#3a3a3a" textLength="13.75" lengthAdjust="spacingAndGlyphs">Δ/Δ</text>
<text x="437.20" y="452.50" font-size="9.7" fill="#3a3a3a" transform="rotate(-90 437.20 452.50)" textLength="70.00" lengthAdjust="spacingAndGlyphs">Cell number (x10<tspan dy="-2.6" font-size="6.0">6</tspan><tspan dy="2.6">)</tspan></text>
<text x="184.50" y="482.60" font-size="12" font-weight="700" fill="#231f20">M</text>
<text x="231.75" y="497.50" font-size="10" fill="#231f20" textLength="51.25" lengthAdjust="spacingAndGlyphs">CD4<tspan dy="-3.2" font-size="6.5">+</tspan><tspan dy="3.2">CD8</tspan><tspan dy="-3.2" font-size="6.5">+</tspan></text>
<rect x="243.75" y="537.00" width="10.00" height="43.00" fill="#c8102e" />
<line x1="237.00" y1="511.25" x2="237.00" y2="580.50" stroke="#000" stroke-width="1" />
<line x1="235.50" y1="580.00" x2="276.25" y2="580.00" stroke="#000" stroke-width="1" />
<line x1="233.60" y1="513.75" x2="237.00" y2="513.75" stroke="#000" stroke-width="0.9" />
<text x="230.40" y="516.95" font-size="9.6" text-anchor="end" fill="#3a3a3a" textLength="12.60" lengthAdjust="spacingAndGlyphs">150</text>
<line x1="233.60" y1="535.75" x2="237.00" y2="535.75" stroke="#000" stroke-width="0.9" />
<text x="230.40" y="538.95" font-size="9.6" text-anchor="end" fill="#3a3a3a" textLength="12.60" lengthAdjust="spacingAndGlyphs">100</text>
<line x1="233.60" y1="558.00" x2="237.00" y2="558.00" stroke="#000" stroke-width="0.9" />
<text x="230.40" y="561.20" font-size="9.6" text-anchor="end" fill="#3a3a3a" textLength="8.40" lengthAdjust="spacingAndGlyphs">50</text>
<line x1="233.60" y1="580.00" x2="237.00" y2="580.00" stroke="#000" stroke-width="0.9" />
<text x="230.40" y="583.20" font-size="9.6" text-anchor="end" fill="#3a3a3a" textLength="4.20" lengthAdjust="spacingAndGlyphs">0</text>
<circle cx="245.50" cy="528.75" r="2.45" fill="none" stroke="#000" stroke-width="1.0"/>
<circle cx="251.25" cy="532.00" r="2.45" fill="none" stroke="#000" stroke-width="1.0"/>
<circle cx="248.75" cy="548.00" r="2.45" fill="none" stroke="#000" stroke-width="1.0"/>
<circle cx="262.50" cy="580.00" r="2.45" fill="none" stroke="#000" stroke-width="1.0"/>
<circle cx="265.75" cy="579.50" r="2.45" fill="none" stroke="#000" stroke-width="1.0"/>
<circle cx="268.75" cy="580.00" r="2.45" fill="none" stroke="#000" stroke-width="1.0"/>
<path d="M249.50,525.00V521.25H265.50V525.00" fill="none" stroke="#000" stroke-width="0.8" />
<text x="257.60" y="523.30" font-size="10.5" text-anchor="middle" fill="#231f20" textLength="10.00" lengthAdjust="spacingAndGlyphs">***</text>
<text x="241.25" y="594.50" font-size="9" fill="#3a3a3a" textLength="13.00" lengthAdjust="spacingAndGlyphs">+/+</text>
<text x="258.00" y="594.50" font-size="9" fill="#3a3a3a" textLength="14.00" lengthAdjust="spacingAndGlyphs">Δ/Δ</text>
<text x="209.70" y="580.00" font-size="9.7" fill="#3a3a3a" transform="rotate(-90 209.70 580.00)" textLength="70.00" lengthAdjust="spacingAndGlyphs">Cell number (x10<tspan dy="-2.6" font-size="6.0">6</tspan><tspan dy="2.6">)</tspan></text>
<text x="303.00" y="482.60" font-size="12" font-weight="700" fill="#231f20">N</text>
<text x="336.25" y="497.50" font-size="10" fill="#231f20" textLength="56.25" lengthAdjust="spacingAndGlyphs">CD4<tspan dy="-3.2" font-size="6.5">+</tspan><tspan dy="3.2">TCRβ</tspan><tspan dy="-3.2" font-size="6.5">+</tspan></text>
<rect x="354.50" y="535.00" width="10.00" height="45.00" fill="#c8102e" />
<line x1="348.75" y1="510.75" x2="348.75" y2="580.50" stroke="#000" stroke-width="1" />
<line x1="347.25" y1="580.00" x2="387.50" y2="580.00" stroke="#000" stroke-width="1" />
<line x1="345.35" y1="513.00" x2="348.75" y2="513.00" stroke="#000" stroke-width="0.9" />
<text x="342.15" y="516.20" font-size="9.6" text-anchor="end" fill="#3a3a3a" textLength="8.40" lengthAdjust="spacingAndGlyphs">10</text>
<line x1="345.35" y1="526.75" x2="348.75" y2="526.75" stroke="#000" stroke-width="0.9" />
<text x="342.15" y="529.95" font-size="9.6" text-anchor="end" fill="#3a3a3a" textLength="4.20" lengthAdjust="spacingAndGlyphs">8</text>
<line x1="345.35" y1="540.00" x2="348.75" y2="540.00" stroke="#000" stroke-width="0.9" />
<text x="342.15" y="543.20" font-size="9.6" text-anchor="end" fill="#3a3a3a" textLength="4.20" lengthAdjust="spacingAndGlyphs">6</text>
<line x1="345.35" y1="553.25" x2="348.75" y2="553.25" stroke="#000" stroke-width="0.9" />
<text x="342.15" y="556.45" font-size="9.6" text-anchor="end" fill="#3a3a3a" textLength="4.20" lengthAdjust="spacingAndGlyphs">4</text>
<line x1="345.35" y1="566.75" x2="348.75" y2="566.75" stroke="#000" stroke-width="0.9" />
<text x="342.15" y="569.95" font-size="9.6" text-anchor="end" fill="#3a3a3a" textLength="4.20" lengthAdjust="spacingAndGlyphs">2</text>
<line x1="345.35" y1="580.00" x2="348.75" y2="580.00" stroke="#000" stroke-width="0.9" />
<text x="342.15" y="583.20" font-size="9.6" text-anchor="end" fill="#3a3a3a" textLength="4.20" lengthAdjust="spacingAndGlyphs">0</text>
<circle cx="359.50" cy="523.75" r="2.45" fill="none" stroke="#000" stroke-width="1.0"/>
<circle cx="359.50" cy="529.25" r="2.45" fill="none" stroke="#000" stroke-width="1.0"/>
<circle cx="359.50" cy="549.25" r="2.45" fill="none" stroke="#000" stroke-width="1.0"/>
<circle cx="375.00" cy="580.00" r="2.45" fill="none" stroke="#000" stroke-width="1.0"/>
<circle cx="377.50" cy="579.25" r="2.45" fill="none" stroke="#000" stroke-width="1.0"/>
<circle cx="380.00" cy="580.00" r="2.45" fill="none" stroke="#000" stroke-width="1.0"/>
<path d="M358.75,518.25V515.00H375.00V518.25" fill="none" stroke="#000" stroke-width="0.8" />
<text x="367.00" y="517.00" font-size="10.5" text-anchor="middle" fill="#231f20" textLength="10.00" lengthAdjust="spacingAndGlyphs">***</text>
<text x="356.25" y="595.00" font-size="9" fill="#3a3a3a" textLength="12.50" lengthAdjust="spacingAndGlyphs">+/+</text>
<text x="372.50" y="595.00" font-size="9" fill="#3a3a3a" textLength="13.75" lengthAdjust="spacingAndGlyphs">Δ/Δ</text>
<text x="324.70" y="580.00" font-size="9.7" fill="#3a3a3a" transform="rotate(-90 324.70 580.00)" textLength="70.00" lengthAdjust="spacingAndGlyphs">Cell number (x10<tspan dy="-2.6" font-size="6.0">6</tspan><tspan dy="2.6">)</tspan></text>
<text x="416.50" y="482.40" font-size="12" font-weight="700" fill="#231f20">O</text>
<text x="446.25" y="497.50" font-size="10" fill="#231f20" textLength="56.25" lengthAdjust="spacingAndGlyphs">CD8<tspan dy="-3.2" font-size="6.5">+</tspan><tspan dy="3.2">TCRβ</tspan><tspan dy="-3.2" font-size="6.5">+</tspan></text>
<rect x="461.25" y="533.00" width="10.00" height="47.50" fill="#c8102e" />
<line x1="455.50" y1="511.25" x2="455.50" y2="581.00" stroke="#000" stroke-width="1" />
<line x1="454.00" y1="580.50" x2="495.00" y2="580.50" stroke="#000" stroke-width="1" />
<line x1="452.10" y1="514.25" x2="455.50" y2="514.25" stroke="#000" stroke-width="0.9" />
<text x="448.90" y="517.45" font-size="9.6" text-anchor="end" fill="#3a3a3a" textLength="4.20" lengthAdjust="spacingAndGlyphs">3</text>
<line x1="452.10" y1="536.25" x2="455.50" y2="536.25" stroke="#000" stroke-width="0.9" />
<text x="448.90" y="539.45" font-size="9.6" text-anchor="end" fill="#3a3a3a" textLength="4.20" lengthAdjust="spacingAndGlyphs">2</text>
<line x1="452.10" y1="558.25" x2="455.50" y2="558.25" stroke="#000" stroke-width="0.9" />
<text x="448.90" y="561.45" font-size="9.6" text-anchor="end" fill="#3a3a3a" textLength="4.20" lengthAdjust="spacingAndGlyphs">1</text>
<line x1="452.10" y1="580.50" x2="455.50" y2="580.50" stroke="#000" stroke-width="0.9" />
<text x="448.90" y="583.70" font-size="9.6" text-anchor="end" fill="#3a3a3a" textLength="4.20" lengthAdjust="spacingAndGlyphs">0</text>
<circle cx="466.25" cy="519.50" r="2.45" fill="none" stroke="#000" stroke-width="1.0"/>
<circle cx="466.25" cy="533.00" r="2.45" fill="none" stroke="#000" stroke-width="1.0"/>
<circle cx="466.25" cy="544.25" r="2.45" fill="none" stroke="#000" stroke-width="1.0"/>
<circle cx="480.50" cy="580.00" r="2.45" fill="none" stroke="#000" stroke-width="1.0"/>
<circle cx="483.75" cy="579.25" r="2.45" fill="none" stroke="#000" stroke-width="1.0"/>
<circle cx="487.00" cy="580.00" r="2.45" fill="none" stroke="#000" stroke-width="1.0"/>
<path d="M466.25,512.50V508.75H482.50V512.50" fill="none" stroke="#000" stroke-width="0.8" />
<text x="474.50" y="511.00" font-size="10.5" text-anchor="middle" fill="#231f20" textLength="6.50" lengthAdjust="spacingAndGlyphs">**</text>
<text x="460.00" y="595.00" font-size="9" fill="#3a3a3a" textLength="12.50" lengthAdjust="spacingAndGlyphs">+/+</text>
<text x="476.75" y="595.00" font-size="9" fill="#3a3a3a" textLength="13.75" lengthAdjust="spacingAndGlyphs">Δ/Δ</text>
<text x="437.20" y="580.50" font-size="9.7" fill="#3a3a3a" transform="rotate(-90 437.20 580.50)" textLength="69.50" lengthAdjust="spacingAndGlyphs">Cell number (x10<tspan dy="-2.6" font-size="6.0">6</tspan><tspan dy="2.6">)</tspan></text>
<text x="337.00" y="17.60" font-size="12" font-weight="700" fill="#231f20">C</text>
<text x="384.50" y="32.50" font-size="10.5" font-style="italic" fill="#231f20" textLength="30.50" lengthAdjust="spacingAndGlyphs">LckCre</text>
<text x="456.00" y="32.40" font-size="10.5" font-style="italic" fill="#231f20" textLength="46.70" lengthAdjust="spacingAndGlyphs">Cdc73Δ/Δ</text>
<rect x="368.40" y="39.40" width="63.00" height="61.60" fill="#fff" stroke="#7a7a7a" stroke-width="0.7" />
<line x1="373.44" y1="101.00" x2="373.44" y2="102.10" stroke="#555" stroke-width="0.5" />
<line x1="367.30" y1="96.07" x2="368.40" y2="96.07" stroke="#555" stroke-width="0.5" />
<line x1="376.59" y1="101.00" x2="376.59" y2="102.10" stroke="#555" stroke-width="0.5" />
<line x1="367.30" y1="92.99" x2="368.40" y2="92.99" stroke="#555" stroke-width="0.5" />
<line x1="387.30" y1="101.00" x2="387.30" y2="102.10" stroke="#555" stroke-width="0.5" />
<line x1="367.30" y1="82.52" x2="368.40" y2="82.52" stroke="#555" stroke-width="0.5" />
<line x1="398.01" y1="101.00" x2="398.01" y2="102.10" stroke="#555" stroke-width="0.5" />
<line x1="367.30" y1="72.05" x2="368.40" y2="72.05" stroke="#555" stroke-width="0.5" />
<line x1="408.72" y1="101.00" x2="408.72" y2="102.10" stroke="#555" stroke-width="0.5" />
<line x1="367.30" y1="61.58" x2="368.40" y2="61.58" stroke="#555" stroke-width="0.5" />
<line x1="419.43" y1="101.00" x2="419.43" y2="102.10" stroke="#555" stroke-width="0.5" />
<line x1="367.30" y1="51.10" x2="368.40" y2="51.10" stroke="#555" stroke-width="0.5" />
<line x1="428.25" y1="101.00" x2="428.25" y2="102.10" stroke="#555" stroke-width="0.5" />
<line x1="367.30" y1="42.48" x2="368.40" y2="42.48" stroke="#555" stroke-width="0.5" />
<line x1="372.18" y1="101.90" x2="375.96" y2="101.90" stroke="#222" stroke-width="0.8" />
<line x1="398.80" y1="39.40" x2="398.80" y2="101.00" stroke="#7a7a7a" stroke-width="0.6" />
<line x1="368.40" y1="60.00" x2="431.40" y2="60.00" stroke="#7a7a7a" stroke-width="0.6" />
<path d="M402.4,75.2C402.4,76.8 400.8,78.9 399.8,80.3C398.7,81.8 397.4,82.8 396.2,84.0C395.1,85.2 394.3,86.5 392.9,87.6C391.4,88.7 389.5,90.0 387.7,90.5C385.8,91.0 383.4,90.9 381.7,90.5C379.9,90.1 378.4,89.0 377.1,88.0C375.8,87.0 374.6,85.8 374.0,84.4C373.4,83.0 372.9,81.1 373.4,79.6C373.9,78.1 375.5,76.3 377.0,75.1C378.5,74.0 380.8,73.5 382.5,72.9C384.2,72.3 385.6,72.1 387.4,71.5C389.2,71.0 391.1,69.9 393.2,69.8C395.3,69.6 398.3,69.6 399.8,70.5C401.4,71.4 402.4,73.5 402.4,75.2Z" fill="none" stroke="#8a8a8a" stroke-width="0.45" opacity="0.55"/>
<path d="M399.2,76.2C399.2,77.5 398.1,79.1 397.4,80.3C396.6,81.5 395.6,82.3 394.7,83.3C393.7,84.3 393.0,85.3 391.8,86.2C390.7,87.0 389.1,88.0 387.6,88.4C386.1,88.7 384.3,88.7 382.9,88.3C381.5,88.0 380.2,87.2 379.2,86.4C378.2,85.6 377.3,84.6 376.8,83.5C376.3,82.4 376.0,80.9 376.4,79.7C376.8,78.5 378.0,77.0 379.1,76.1C380.3,75.2 382.0,74.7 383.4,74.2C384.8,73.7 386.0,73.4 387.4,73.0C388.8,72.6 390.4,71.9 392.0,71.8C393.7,71.8 395.9,71.9 397.1,72.6C398.3,73.3 399.1,74.9 399.2,76.2Z" fill="none" stroke="#8a8a8a" stroke-width="0.45" opacity="0.66"/>
<path d="M396.1,77.2C396.1,78.2 395.5,79.3 395.0,80.2C394.5,81.1 393.7,81.8 393.0,82.6C392.3,83.3 391.7,84.1 390.8,84.7C389.9,85.3 388.7,86.0 387.6,86.2C386.5,86.5 385.1,86.5 384.0,86.2C383.0,86.0 382.0,85.4 381.3,84.8C380.5,84.2 379.9,83.4 379.5,82.6C379.2,81.8 379.0,80.7 379.3,79.8C379.5,78.8 380.4,77.8 381.2,77.1C382.1,76.4 383.3,75.9 384.4,75.5C385.4,75.1 386.3,74.9 387.4,74.6C388.5,74.3 389.7,73.9 390.9,73.9C392.1,73.9 393.7,74.0 394.5,74.6C395.4,75.1 396.0,76.3 396.1,77.2Z" fill="none" stroke="#8a8a8a" stroke-width="0.45" opacity="0.78"/>
<path d="M393.1,78.2C393.2,78.8 392.8,79.5 392.5,80.1C392.2,80.7 391.8,81.3 391.3,81.8C390.8,82.3 390.4,82.8 389.7,83.2C389.1,83.6 388.3,84.0 387.6,84.1C386.8,84.3 385.9,84.3 385.2,84.1C384.5,84.0 383.9,83.6 383.4,83.2C382.9,82.8 382.4,82.3 382.2,81.7C382.0,81.2 381.9,80.5 382.1,79.8C382.3,79.2 382.8,78.5 383.3,78.1C383.9,77.6 384.7,77.2 385.3,76.9C386.0,76.6 386.7,76.5 387.4,76.3C388.2,76.1 389.0,75.9 389.8,75.9C390.5,76.0 391.5,76.1 392.1,76.5C392.6,76.9 393.0,77.6 393.1,78.2Z" fill="none" stroke="#8a8a8a" stroke-width="0.45" opacity="0.89"/>
<path d="M390.2,79.1C390.3,79.4 390.2,79.8 390.0,80.1C389.9,80.4 389.7,80.6 389.4,80.9C389.2,81.2 389.0,81.4 388.6,81.6C388.3,81.8 387.9,82.0 387.5,82.1C387.2,82.1 386.7,82.1 386.4,82.0C386.0,82.0 385.7,81.8 385.4,81.6C385.2,81.4 385.0,81.1 384.9,80.9C384.8,80.6 384.7,80.2 384.8,79.9C384.9,79.6 385.1,79.3 385.4,79.0C385.7,78.8 386.1,78.6 386.4,78.4C386.7,78.3 387.1,78.2 387.5,78.1C387.8,78.0 388.3,77.9 388.6,78.0C389.0,78.0 389.4,78.1 389.7,78.3C390.0,78.5 390.2,78.8 390.2,79.1Z" fill="none" stroke="#8a8a8a" stroke-width="0.45" opacity="1.00"/>
<path d="M372,70 L380,82 L374,92" fill="none" stroke="#999" stroke-width="0.4" />
<path d="M402,88 L410,95 L418,92" fill="none" stroke="#999" stroke-width="0.4" />
<path d="M421.9,71.4C422.0,73.6 421.6,75.8 421.2,77.7C420.8,79.7 420.2,81.5 419.3,83.0C418.5,84.5 417.4,85.9 416.1,86.5C414.9,87.2 413.4,87.3 412.0,87.0C410.6,86.6 409.2,85.7 408.0,84.6C406.7,83.5 405.4,82.1 404.4,80.3C403.4,78.6 402.4,76.4 402.0,74.2C401.6,72.0 401.6,69.2 402.1,67.3C402.6,65.3 403.8,63.6 404.8,62.5C405.9,61.3 407.2,60.9 408.4,60.3C409.7,59.8 410.8,59.3 412.2,59.2C413.5,59.1 415.2,59.1 416.5,60.0C417.9,60.9 419.5,62.7 420.4,64.6C421.2,66.5 421.7,69.2 421.9,71.4Z" fill="url(#gmid)" opacity="0.7" stroke="none"/>
<path d="M421.8,72.1C421.9,74.4 421.5,76.7 421.1,78.8C420.6,80.8 420.0,82.7 419.1,84.3C418.2,85.8 417.0,87.3 415.8,88.0C414.5,88.7 412.8,88.8 411.4,88.4C410.0,88.1 408.5,87.1 407.2,85.9C405.8,84.8 404.5,83.3 403.4,81.5C402.4,79.7 401.2,77.3 400.8,75.0C400.4,72.7 400.4,69.8 400.9,67.7C401.5,65.7 402.7,63.9 403.9,62.7C405.0,61.5 406.4,61.0 407.7,60.4C408.9,59.9 410.2,59.3 411.6,59.2C413.0,59.2 414.7,59.1 416.2,60.1C417.6,61.0 419.3,62.9 420.2,64.9C421.1,66.9 421.6,69.7 421.8,72.1Z" fill="none" stroke="#555" stroke-width="0.35" opacity="0.55"/>
<path d="M420.8,72.0C420.9,74.1 420.6,76.2 420.2,78.0C419.8,79.8 419.2,81.6 418.4,82.9C417.7,84.3 416.6,85.6 415.4,86.2C414.3,86.8 412.8,86.9 411.6,86.6C410.3,86.3 409.0,85.4 407.8,84.4C406.6,83.4 405.4,82.0 404.5,80.4C403.5,78.8 402.6,76.7 402.2,74.6C401.8,72.6 401.9,70.0 402.3,68.2C402.7,66.4 403.9,64.8 404.8,63.7C405.8,62.6 407.1,62.1 408.2,61.6C409.3,61.1 410.5,60.6 411.7,60.6C413.0,60.5 414.5,60.5 415.8,61.4C417.1,62.3 418.5,63.9 419.3,65.7C420.2,67.5 420.6,70.0 420.8,72.0Z" fill="none" stroke="#555" stroke-width="0.35" opacity="0.61"/>
<path d="M419.8,72.0C419.9,73.8 419.6,75.6 419.3,77.2C419.0,78.8 418.5,80.4 417.8,81.6C417.1,82.8 416.1,83.9 415.1,84.5C414.1,85.0 412.8,85.1 411.7,84.8C410.6,84.6 409.4,83.8 408.4,82.9C407.4,82.0 406.3,80.8 405.5,79.3C404.7,77.9 403.9,76.1 403.6,74.3C403.3,72.5 403.3,70.3 403.6,68.7C404.0,67.1 405.0,65.6 405.8,64.7C406.7,63.7 407.7,63.2 408.7,62.7C409.8,62.3 410.8,61.9 411.9,61.9C413.0,61.9 414.3,62.0 415.4,62.7C416.5,63.5 417.8,64.9 418.5,66.5C419.2,68.0 419.6,70.2 419.8,72.0Z" fill="none" stroke="#555" stroke-width="0.35" opacity="0.66"/>
<path d="M418.8,72.0C418.9,73.5 418.7,75.1 418.4,76.5C418.1,77.9 417.7,79.2 417.1,80.2C416.5,81.2 415.7,82.2 414.8,82.7C413.9,83.1 412.8,83.2 411.9,83.0C410.9,82.8 409.9,82.1 409.0,81.3C408.1,80.5 407.2,79.5 406.6,78.3C405.9,77.0 405.2,75.5 404.9,73.9C404.7,72.4 404.7,70.5 405.0,69.1C405.3,67.7 406.1,66.5 406.8,65.6C407.5,64.8 408.4,64.3 409.3,63.9C410.2,63.5 411.1,63.2 412.0,63.2C413.0,63.2 414.1,63.4 415.1,64.0C416.0,64.7 417.1,65.9 417.7,67.3C418.3,68.6 418.6,70.4 418.8,72.0Z" fill="none" stroke="#555" stroke-width="0.35" opacity="0.72"/>
<path d="M417.8,72.0C417.9,73.2 417.7,74.6 417.5,75.7C417.3,76.9 416.9,78.0 416.4,78.8C415.9,79.7 415.2,80.5 414.5,80.9C413.8,81.3 412.9,81.4 412.0,81.2C411.2,81.0 410.4,80.4 409.6,79.8C408.9,79.1 408.2,78.2 407.6,77.2C407.0,76.2 406.5,74.8 406.3,73.6C406.0,72.3 406.0,70.7 406.3,69.6C406.6,68.4 407.2,67.4 407.8,66.6C408.4,65.9 409.1,65.5 409.9,65.2C410.6,64.8 411.4,64.6 412.2,64.6C413.0,64.6 413.9,64.8 414.7,65.3C415.5,65.9 416.3,66.9 416.9,68.0C417.4,69.1 417.7,70.7 417.8,72.0Z" fill="none" stroke="#555" stroke-width="0.35" opacity="0.78"/>
<path d="M416.8,71.9C416.9,72.9 416.8,74.0 416.6,75.0C416.4,75.9 416.1,76.8 415.7,77.5C415.3,78.2 414.8,78.8 414.2,79.1C413.6,79.4 412.9,79.5 412.2,79.3C411.6,79.2 410.9,78.8 410.3,78.2C409.7,77.7 409.1,77.0 408.6,76.1C408.2,75.3 407.7,74.2 407.6,73.2C407.4,72.2 407.4,71.0 407.6,70.0C407.8,69.1 408.3,68.2 408.8,67.6C409.2,67.0 409.9,66.7 410.4,66.4C411.0,66.1 411.6,65.9 412.3,66.0C412.9,66.0 413.7,66.1 414.3,66.6C414.9,67.1 415.6,67.9 416.0,68.8C416.5,69.7 416.7,70.9 416.8,71.9Z" fill="none" stroke="#555" stroke-width="0.35" opacity="0.83"/>
<path d="M415.8,71.9C415.9,72.7 415.8,73.5 415.7,74.2C415.6,74.9 415.3,75.6 415.0,76.1C414.7,76.6 414.3,77.1 413.9,77.3C413.4,77.6 412.9,77.6 412.4,77.5C411.9,77.4 411.4,77.1 410.9,76.7C410.5,76.3 410.0,75.7 409.7,75.1C409.3,74.4 409.0,73.6 408.9,72.9C408.8,72.1 408.8,71.2 408.9,70.5C409.1,69.8 409.4,69.1 409.8,68.7C410.1,68.2 410.6,67.9 411.0,67.7C411.5,67.5 411.9,67.3 412.4,67.4C412.9,67.4 413.5,67.5 414.0,67.9C414.4,68.3 414.9,68.9 415.2,69.6C415.6,70.2 415.8,71.1 415.8,71.9Z" fill="none" stroke="#555" stroke-width="0.35" opacity="0.89"/>
<path d="M414.9,71.9C414.9,72.4 414.9,72.9 414.8,73.4C414.7,73.9 414.5,74.4 414.3,74.7C414.1,75.1 413.8,75.4 413.5,75.5C413.2,75.7 412.9,75.7 412.5,75.7C412.2,75.6 411.8,75.4 411.5,75.1C411.2,74.8 410.9,74.4 410.7,74.0C410.5,73.6 410.3,73.0 410.2,72.5C410.1,72.0 410.1,71.4 410.2,70.9C410.3,70.4 410.5,70.0 410.8,69.7C411.0,69.3 411.3,69.1 411.6,69.0C411.9,68.8 412.2,68.8 412.6,68.8C412.9,68.8 413.3,68.9 413.6,69.2C413.9,69.4 414.3,69.8 414.5,70.3C414.7,70.7 414.8,71.3 414.9,71.9Z" fill="none" stroke="#555" stroke-width="0.35" opacity="0.94"/>
<path d="M413.9,71.8C413.9,72.1 413.9,72.4 413.9,72.6C413.8,72.9 413.7,73.1 413.6,73.3C413.5,73.5 413.4,73.7 413.2,73.8C413.1,73.8 412.9,73.9 412.7,73.8C412.5,73.8 412.3,73.7 412.2,73.5C412.0,73.4 411.9,73.2 411.7,73.0C411.6,72.7 411.5,72.4 411.5,72.2C411.4,71.9 411.4,71.6 411.5,71.3C411.5,71.1 411.6,70.8 411.8,70.7C411.9,70.5 412.0,70.4 412.2,70.3C412.4,70.2 412.5,70.2 412.7,70.2C412.9,70.2 413.1,70.3 413.2,70.4C413.4,70.6 413.6,70.8 413.7,71.0C413.8,71.2 413.9,71.6 413.9,71.8Z" fill="none" stroke="#555" stroke-width="0.35" opacity="1.00"/>
<ellipse cx="415.4" cy="73" rx="2.4" ry="5.5" fill="#000" opacity="0.3" filter="url(#b1)"/>
<ellipse cx="411.8" cy="71.5" rx="1.2" ry="1.8" fill="#fff" opacity="0.95"/>
<path d="M410.2,84.1h0.01M410.4,74.2h0.01M405.5,75.4h0.01M419.8,83.1h0.01M419.3,81.0h0.01M414.8,80.2h0.01M400.3,88.3h0.01M415.5,84.0h0.01M400.2,57.1h0.01M405.8,72.4h0.01M414.1,77.4h0.01M415.6,70.3h0.01M414.2,82.7h0.01M407.4,98.6h0.01M415.9,92.4h0.01M407.7,69.1h0.01M409.6,76.7h0.01M416.4,81.0h0.01M408.9,66.5h0.01M408.4,92.7h0.01M406.3,80.9h0.01M415.0,60.1h0.01M412.3,93.7h0.01M397.9,74.1h0.01M411.3,68.2h0.01M415.5,77.3h0.01M401.7,87.9h0.01M416.7,89.4h0.01M422.1,82.3h0.01M412.8,62.4h0.01M416.3,70.7h0.01M408.8,62.8h0.01M405.2,71.6h0.01M421.0,53.6h0.01M401.8,80.9h0.01M422.1,84.9h0.01M398.7,47.8h0.01M414.5,69.2h0.01M404.2,89.7h0.01M419.7,79.9h0.01M413.7,83.2h0.01M423.2,85.4h0.01M415.6,84.6h0.01M401.0,93.4h0.01M418.7,84.4h0.01M398.2,70.4h0.01M417.9,56.3h0.01M410.7,90.2h0.01M402.8,97.3h0.01M415.9,76.2h0.01" stroke="#000" stroke-width="0.6" stroke-linecap="round" opacity="0.35" fill="none"/>
<rect x="369.00" y="60.40" width="30.30" height="40.30" fill="none" stroke="#54296b" stroke-width="1.3" />
<rect x="399.90" y="60.40" width="31.20" height="40.60" fill="none" stroke="#c41e3a" stroke-width="1.3" />
<text x="370.00" y="47.20" font-size="8.3" fill="#222" textLength="21.50" lengthAdjust="spacingAndGlyphs">0.149</text>
<text x="430.00" y="47.20" font-size="8.3" text-anchor="end" fill="#222" textLength="21.50" lengthAdjust="spacingAndGlyphs">0.472</text>
<text x="370.00" y="99.60" font-size="8.3" fill="#222" textLength="16.65" lengthAdjust="spacingAndGlyphs">13.7</text>
<text x="430.00" y="99.60" font-size="8.3" text-anchor="end" fill="#222" textLength="16.65" lengthAdjust="spacingAndGlyphs">85.7</text>
<text x="370.00" y="69.00" font-size="8.6" fill="#5c2d7a" textLength="17.50" lengthAdjust="spacingAndGlyphs">DN4</text>
<text x="422.6" y="61.5" font-size="8.6" fill="#c41e3a" transform="rotate(90 422.6 61.5)" textLength="17.5" lengthAdjust="spacingAndGlyphs">DN3</text>
<rect x="447.80" y="39.40" width="62.70" height="61.60" fill="#fff" stroke="#7a7a7a" stroke-width="0.7" />
<line x1="452.82" y1="101.00" x2="452.82" y2="102.10" stroke="#555" stroke-width="0.5" />
<line x1="446.70" y1="96.07" x2="447.80" y2="96.07" stroke="#555" stroke-width="0.5" />
<line x1="455.95" y1="101.00" x2="455.95" y2="102.10" stroke="#555" stroke-width="0.5" />
<line x1="446.70" y1="92.99" x2="447.80" y2="92.99" stroke="#555" stroke-width="0.5" />
<line x1="466.61" y1="101.00" x2="466.61" y2="102.10" stroke="#555" stroke-width="0.5" />
<line x1="446.70" y1="82.52" x2="447.80" y2="82.52" stroke="#555" stroke-width="0.5" />
<line x1="477.27" y1="101.00" x2="477.27" y2="102.10" stroke="#555" stroke-width="0.5" />
<line x1="446.70" y1="72.05" x2="447.80" y2="72.05" stroke="#555" stroke-width="0.5" />
<line x1="487.93" y1="101.00" x2="487.93" y2="102.10" stroke="#555" stroke-width="0.5" />
<line x1="446.70" y1="61.58" x2="447.80" y2="61.58" stroke="#555" stroke-width="0.5" />
<line x1="498.59" y1="101.00" x2="498.59" y2="102.10" stroke="#555" stroke-width="0.5" />
<line x1="446.70" y1="51.10" x2="447.80" y2="51.10" stroke="#555" stroke-width="0.5" />
<line x1="507.37" y1="101.00" x2="507.37" y2="102.10" stroke="#555" stroke-width="0.5" />
<line x1="446.70" y1="42.48" x2="447.80" y2="42.48" stroke="#555" stroke-width="0.5" />
<line x1="451.56" y1="101.90" x2="455.32" y2="101.90" stroke="#222" stroke-width="0.8" />
<line x1="478.70" y1="39.40" x2="478.70" y2="101.00" stroke="#555" stroke-width="0.6" />
<line x1="447.80" y1="61.20" x2="510.50" y2="61.20" stroke="#555" stroke-width="0.6" />
<path d="M478.5,83.5h0.01M477.5,88.5h0.01M474.0,72.9h0.01M481.7,77.3h0.01M473.0,86.5h0.01M483.6,72.6h0.01M470.8,75.7h0.01M476.3,74.0h0.01M483.3,66.7h0.01M482.7,64.3h0.01M473.5,83.3h0.01M482.1,85.6h0.01M478.6,78.4h0.01M477.7,82.8h0.01M476.2,79.8h0.01M479.6,77.0h0.01M480.4,82.7h0.01M486.0,80.2h0.01M475.1,73.3h0.01M476.9,86.2h0.01M475.5,80.9h0.01M485.3,51.4h0.01M471.9,79.4h0.01M478.8,79.4h0.01M475.1,83.6h0.01M478.3,71.8h0.01M487.9,80.6h0.01M474.5,76.0h0.01M476.0,76.4h0.01M464.7,72.1h0.01M481.5,65.3h0.01M476.7,86.5h0.01M480.9,91.9h0.01M469.3,73.5h0.01M475.5,83.2h0.01M481.9,50.2h0.01M481.9,62.5h0.01M480.1,62.1h0.01M477.8,88.9h0.01M476.3,78.9h0.01M480.6,78.4h0.01M476.6,92.3h0.01M481.7,74.1h0.01M489.4,65.5h0.01M481.1,74.3h0.01M477.6,84.1h0.01M478.0,83.4h0.01M470.1,61.9h0.01M479.8,67.4h0.01M472.4,62.3h0.01M482.7,84.5h0.01M483.6,67.6h0.01M477.0,65.6h0.01M480.4,92.9h0.01M473.0,92.6h0.01M481.4,75.2h0.01M468.1,91.1h0.01M476.6,71.0h0.01M478.8,81.1h0.01M483.7,66.8h0.01M482.1,91.9h0.01M483.5,75.2h0.01M473.7,87.2h0.01M477.5,78.2h0.01M483.4,74.4h0.01M466.7,73.1h0.01M468.7,85.2h0.01M478.4,70.9h0.01M477.0,85.3h0.01M477.4,90.3h0.01M476.7,87.4h0.01M483.7,93.1h0.01M474.0,85.8h0.01M468.6,66.2h0.01M468.2,87.7h0.01M471.5,76.9h0.01M476.1,76.7h0.01M474.3,79.3h0.01M485.1,77.4h0.01M479.4,87.0h0.01M476.1,64.4h0.01M474.5,87.7h0.01M469.6,71.0h0.01M481.5,84.9h0.01M477.0,85.1h0.01M477.7,65.2h0.01M470.0,70.6h0.01M481.2,71.3h0.01M472.9,69.3h0.01M470.1,75.8h0.01M471.7,80.6h0.01M466.4,80.3h0.01M474.1,57.6h0.01M480.3,74.2h0.01M467.0,68.2h0.01M478.3,72.4h0.01M480.5,84.5h0.01M480.0,80.3h0.01M483.0,83.6h0.01M479.0,56.2h0.01M481.0,90.1h0.01M475.7,72.3h0.01M485.7,59.4h0.01M472.8,83.9h0.01M485.5,75.8h0.01M479.5,86.0h0.01M472.9,76.1h0.01M478.3,85.3h0.01M476.8,75.0h0.01M472.4,73.4h0.01M481.0,78.0h0.01M473.2,68.6h0.01M489.0,88.4h0.01M479.9,51.1h0.01M479.8,81.8h0.01M484.6,81.3h0.01M476.7,82.2h0.01M468.3,87.3h0.01M478.5,70.0h0.01M483.0,95.1h0.01M470.7,70.3h0.01M478.3,78.8h0.01M475.2,67.3h0.01M486.5,87.4h0.01M471.6,63.5h0.01M484.7,86.9h0.01M485.2,85.1h0.01M473.1,79.6h0.01M467.3,69.5h0.01M476.7,82.2h0.01M473.7,75.8h0.01M479.1,80.8h0.01M479.9,79.1h0.01M475.5,84.9h0.01M477.2,68.7h0.01M474.2,77.0h0.01M476.5,78.6h0.01M477.0,78.8h0.01M476.4,64.4h0.01M478.9,87.5h0.01M479.0,75.1h0.01M479.0,67.3h0.01M468.5,77.6h0.01M472.8,84.4h0.01M472.1,50.7h0.01M472.3,92.8h0.01M475.3,63.3h0.01M473.6,82.2h0.01M479.2,78.8h0.01M483.7,84.1h0.01M476.9,83.0h0.01M484.4,86.7h0.01M481.6,66.2h0.01M476.3,84.3h0.01M475.7,87.7h0.01M479.7,86.1h0.01M482.6,74.8h0.01M475.5,85.7h0.01M481.4,77.1h0.01M471.7,78.9h0.01M478.6,88.3h0.01M480.5,77.2h0.01M480.8,82.4h0.01M477.9,77.6h0.01M475.9,83.9h0.01M472.3,70.7h0.01M477.0,62.4h0.01M475.0,56.9h0.01M473.9,82.7h0.01M479.5,76.5h0.01M476.0,62.8h0.01M485.2,82.2h0.01M481.9,68.2h0.01M476.2,58.8h0.01M480.5,86.4h0.01M468.5,76.5h0.01M479.8,59.4h0.01M468.8,66.3h0.01M474.2,63.0h0.01M477.1,79.5h0.01M479.9,84.0h0.01M483.8,88.6h0.01M471.1,71.9h0.01M472.2,66.2h0.01M476.6,77.1h0.01M479.2,61.1h0.01M471.4,76.8h0.01M476.1,73.9h0.01M476.7,69.4h0.01M480.2,80.5h0.01M476.6,70.3h0.01M476.2,49.8h0.01M472.6,77.4h0.01M470.2,79.0h0.01M477.7,63.2h0.01M475.9,73.9h0.01M479.1,83.1h0.01M476.8,68.5h0.01M476.4,76.3h0.01M480.3,79.9h0.01M473.7,63.5h0.01M475.3,69.6h0.01M472.0,75.8h0.01M474.8,78.1h0.01M479.4,72.9h0.01M487.5,73.8h0.01M482.0,78.2h0.01M482.0,53.2h0.01M473.6,79.5h0.01M479.7,100.4h0.01M478.5,89.8h0.01M480.4,86.5h0.01M479.3,75.4h0.01M479.3,66.2h0.01M482.3,66.8h0.01M478.1,98.2h0.01M476.0,77.2h0.01M482.2,77.3h0.01M473.4,79.6h0.01M479.6,84.1h0.01M473.5,94.5h0.01M484.5,77.2h0.01M478.2,72.7h0.01M483.4,70.0h0.01M480.0,72.2h0.01M473.9,84.2h0.01M483.0,76.9h0.01M474.0,85.1h0.01M476.8,80.1h0.01M483.9,88.3h0.01M474.7,99.8h0.01M477.0,84.9h0.01M474.1,76.6h0.01M469.1,94.9h0.01M483.1,64.8h0.01M470.2,60.8h0.01M482.3,72.4h0.01M476.7,73.9h0.01M476.5,66.1h0.01M477.1,62.6h0.01M476.7,80.1h0.01M479.1,74.7h0.01M472.9,78.6h0.01M474.8,92.7h0.01M480.5,75.8h0.01M474.9,70.0h0.01M472.8,73.5h0.01M478.3,82.2h0.01M479.6,98.0h0.01M473.8,77.1h0.01M489.6,58.3h0.01M474.7,78.7h0.01M477.7,81.1h0.01M475.9,80.7h0.01M477.2,84.7h0.01M468.5,68.1h0.01M477.0,66.7h0.01" stroke="#000" stroke-width="0.6" stroke-linecap="round" opacity="0.55" fill="none"/>
<path d="M479.6,96.2h0.01M482.8,96.2h0.01M494.0,95.1h0.01M492.1,93.6h0.01M476.7,93.9h0.01M491.6,92.1h0.01M487.2,96.6h0.01M481.0,96.2h0.01M502.9,92.1h0.01M489.2,93.5h0.01M500.3,95.1h0.01M495.2,91.6h0.01M487.9,94.0h0.01M473.8,99.0h0.01M495.2,87.9h0.01M494.0,93.5h0.01M491.6,95.3h0.01M476.0,93.3h0.01M499.9,92.0h0.01M479.8,89.2h0.01M478.2,95.2h0.01M501.5,95.5h0.01M483.8,91.6h0.01M492.2,95.9h0.01M479.9,89.9h0.01M490.3,94.9h0.01M477.5,93.3h0.01M483.7,95.6h0.01M487.1,93.7h0.01M485.2,97.7h0.01M499.1,92.7h0.01M494.8,91.3h0.01M488.6,96.6h0.01M500.1,92.7h0.01M487.4,94.7h0.01M476.0,94.1h0.01M482.6,95.3h0.01M479.0,87.1h0.01M488.3,94.9h0.01M483.6,97.1h0.01M485.8,91.9h0.01M491.8,88.5h0.01M482.6,93.9h0.01M494.8,93.4h0.01M490.5,91.7h0.01M490.4,99.8h0.01M482.8,94.1h0.01M489.4,97.6h0.01M478.1,86.6h0.01M492.8,96.8h0.01M489.6,94.9h0.01M495.4,95.3h0.01M501.3,89.7h0.01M485.0,81.9h0.01M494.5,92.7h0.01M488.0,93.1h0.01M484.0,91.1h0.01M483.0,96.2h0.01M488.3,94.2h0.01M486.6,97.2h0.01M492.0,93.5h0.01M493.3,93.5h0.01M478.8,99.1h0.01M491.7,90.6h0.01M496.6,95.2h0.01M475.5,99.6h0.01M490.7,97.1h0.01M489.6,93.5h0.01M475.6,97.4h0.01M488.2,93.0h0.01M490.8,94.3h0.01M493.4,92.7h0.01M487.7,86.5h0.01M484.6,96.4h0.01M498.7,92.7h0.01M487.0,99.5h0.01M485.4,96.6h0.01M501.4,94.1h0.01M497.8,91.5h0.01M489.7,93.7h0.01M488.9,98.0h0.01M507.1,91.7h0.01M483.4,95.7h0.01M479.6,95.7h0.01M492.6,93.0h0.01M492.2,88.6h0.01M494.1,88.6h0.01M482.4,92.1h0.01M484.8,97.0h0.01M488.7,92.6h0.01M492.3,99.5h0.01M488.0,95.3h0.01M497.9,94.9h0.01M505.7,87.1h0.01M487.7,95.5h0.01M495.7,96.3h0.01M485.8,90.3h0.01M488.8,97.6h0.01M479.3,90.4h0.01M487.8,87.2h0.01M485.9,92.5h0.01M491.6,91.5h0.01M480.9,92.6h0.01M487.6,91.7h0.01M488.1,96.6h0.01M497.5,100.0h0.01M481.7,92.5h0.01M482.2,93.9h0.01M492.2,89.2h0.01M491.7,93.9h0.01M473.4,95.0h0.01M497.6,87.5h0.01M494.5,94.7h0.01M491.8,95.5h0.01M498.4,93.2h0.01M495.0,92.6h0.01M493.8,91.2h0.01M487.1,100.1h0.01M491.6,93.4h0.01M478.8,91.2h0.01M489.5,97.3h0.01M491.4,95.8h0.01M487.7,98.7h0.01M484.9,92.1h0.01M495.1,94.2h0.01M485.8,92.0h0.01M485.9,96.2h0.01M490.8,89.8h0.01M491.4,94.6h0.01M480.0,96.7h0.01M485.8,92.8h0.01M494.4,98.6h0.01M482.5,95.5h0.01" stroke="#000" stroke-width="0.6" stroke-linecap="round" opacity="0.5" fill="none"/>
<path d="M472.1,91.1h0.01M469.6,85.0h0.01M473.0,80.0h0.01M478.5,61.3h0.01M453.7,85.7h0.01M452.5,90.4h0.01M470.8,74.3h0.01M500.2,73.9h0.01M457.7,44.9h0.01M498.9,83.8h0.01M466.9,85.8h0.01M487.9,82.4h0.01M494.4,83.7h0.01M482.7,79.9h0.01M474.7,72.6h0.01M494.2,64.9h0.01M498.4,59.4h0.01M484.3,63.6h0.01M482.5,60.9h0.01M454.4,89.5h0.01M484.9,63.1h0.01M483.2,87.8h0.01M464.4,70.2h0.01M488.6,80.4h0.01M499.9,77.3h0.01M480.2,67.5h0.01M484.2,65.2h0.01M463.6,60.2h0.01M470.5,62.2h0.01M461.5,82.2h0.01M459.0,82.6h0.01M463.8,77.6h0.01M502.0,75.3h0.01M468.3,72.8h0.01M482.4,44.3h0.01M470.3,74.6h0.01M472.5,73.3h0.01M491.7,84.3h0.01M494.5,81.4h0.01M475.4,71.7h0.01M475.7,67.0h0.01M477.1,44.4h0.01M474.7,71.6h0.01M464.4,71.6h0.01M488.2,69.4h0.01M476.7,42.8h0.01M488.3,67.2h0.01M493.6,78.0h0.01M480.4,62.6h0.01M490.2,64.2h0.01M483.6,63.8h0.01M483.2,84.1h0.01M466.0,71.5h0.01M489.9,74.3h0.01M465.5,41.3h0.01M493.7,96.5h0.01M494.8,85.0h0.01M470.1,60.6h0.01M494.2,57.4h0.01M451.0,56.0h0.01M469.0,60.3h0.01M483.7,60.0h0.01M501.0,70.7h0.01M462.6,92.9h0.01M470.7,75.5h0.01M479.8,67.0h0.01M485.2,60.9h0.01M459.7,59.9h0.01M479.6,72.9h0.01M488.9,73.9h0.01M467.3,60.7h0.01M487.8,80.5h0.01M478.1,69.2h0.01M495.0,72.2h0.01M491.8,81.3h0.01M483.4,92.9h0.01M470.8,66.3h0.01M467.1,59.2h0.01M504.9,100.1h0.01M480.4,81.1h0.01M498.8,84.9h0.01M499.3,51.8h0.01M469.8,79.2h0.01M503.0,73.7h0.01M466.3,66.3h0.01M469.4,58.3h0.01M504.0,62.0h0.01M499.0,77.4h0.01M470.2,78.6h0.01M505.9,82.0h0.01M500.2,73.6h0.01M488.3,68.8h0.01M486.8,92.8h0.01M457.1,71.0h0.01M483.8,62.9h0.01M475.1,84.6h0.01M485.2,47.2h0.01M479.5,54.1h0.01M479.1,54.5h0.01M481.1,79.5h0.01M480.5,76.5h0.01M466.4,94.9h0.01M469.5,42.9h0.01M477.0,59.8h0.01M463.8,66.3h0.01M484.7,53.1h0.01M477.8,94.8h0.01M490.9,69.6h0.01M482.0,70.1h0.01M479.2,83.7h0.01M479.7,57.8h0.01" stroke="#000" stroke-width="0.6" stroke-linecap="round" opacity="0.4" fill="none"/>
<path d="M476.9,51.5h0.01M473.9,56.5h0.01M466.7,50.6h0.01M464.5,48.3h0.01M461.7,53.3h0.01M469.2,49.2h0.01M464.1,53.7h0.01M468.3,51.9h0.01M475.0,55.0h0.01M484.6,54.5h0.01M473.9,52.9h0.01M483.8,55.2h0.01M471.1,53.4h0.01M474.7,52.7h0.01M470.0,50.2h0.01M469.8,49.8h0.01M480.3,53.6h0.01M465.8,55.1h0.01M478.4,49.2h0.01M484.0,54.1h0.01M485.4,50.4h0.01M476.2,53.4h0.01M474.2,52.9h0.01M479.3,49.9h0.01M465.5,50.1h0.01M469.7,51.5h0.01M475.2,53.1h0.01M473.2,51.4h0.01M470.3,54.3h0.01M477.6,52.8h0.01M471.1,55.4h0.01M469.4,53.8h0.01M479.9,52.1h0.01M478.0,50.6h0.01M479.1,53.0h0.01M463.5,53.8h0.01M467.6,54.9h0.01M468.9,52.3h0.01M474.7,52.0h0.01M474.6,51.6h0.01M477.0,52.6h0.01M474.3,47.6h0.01M480.0,52.7h0.01M462.3,52.8h0.01M475.8,54.5h0.01M466.5,55.4h0.01M472.0,56.9h0.01M472.1,53.8h0.01M470.8,50.6h0.01M479.6,54.2h0.01M482.2,54.1h0.01M469.6,49.6h0.01M469.1,51.4h0.01M468.1,53.6h0.01M475.0,52.1h0.01M474.0,52.3h0.01M474.3,54.0h0.01M478.8,51.4h0.01M464.0,55.2h0.01M473.7,54.6h0.01M463.1,52.0h0.01M473.2,50.0h0.01M469.9,53.9h0.01M479.5,55.5h0.01M467.8,50.1h0.01M476.1,54.3h0.01M474.2,50.3h0.01M477.7,54.0h0.01M476.3,51.7h0.01M474.8,54.0h0.01M469.6,49.3h0.01M475.0,53.5h0.01M473.1,54.2h0.01M469.5,52.5h0.01M471.2,53.6h0.01M482.6,52.1h0.01M485.3,55.4h0.01M477.7,53.7h0.01M483.6,52.3h0.01M472.3,50.7h0.01M475.8,55.0h0.01M476.2,53.4h0.01M471.8,52.9h0.01M464.4,54.5h0.01M470.5,50.6h0.01M468.5,51.1h0.01M478.1,54.5h0.01M464.9,54.3h0.01M478.3,51.6h0.01M464.1,51.3h0.01M469.2,53.2h0.01M470.9,48.9h0.01M474.4,49.8h0.01M478.4,50.4h0.01M468.8,51.1h0.01M469.7,54.9h0.01M478.1,53.7h0.01M474.9,49.8h0.01M469.9,51.6h0.01M467.1,53.5h0.01M468.6,51.3h0.01M466.7,48.9h0.01M476.6,55.0h0.01M474.0,50.8h0.01M456.8,52.9h0.01M480.3,53.1h0.01M478.6,55.3h0.01M479.8,51.8h0.01M479.3,54.0h0.01M463.8,51.9h0.01" stroke="#000" stroke-width="0.6" stroke-linecap="round" opacity="0.5" fill="none"/>
<path d="M477.9,77.3C478.1,75.4 479.2,72.6 480.3,70.3C481.4,68.0 483.0,65.8 484.6,63.6C486.2,61.5 488.1,59.2 490.2,57.4C492.3,55.6 495.5,53.3 497.3,52.9C499.1,52.5 500.3,51.9 501.2,54.7C502.1,57.5 502.4,64.6 502.5,69.7C502.6,74.8 502.8,81.9 501.9,85.4C501.0,88.9 499.3,90.2 497.3,90.8C495.3,91.4 492.3,90.2 490.0,89.3C487.7,88.4 485.4,86.9 483.6,85.6C481.8,84.3 480.1,83.0 479.2,81.6C478.2,80.2 477.7,79.2 477.9,77.3Z" fill="#000" stroke="none" stroke-width="1" opacity="0.07"/>
<path d="M477.9,77.3C478.1,75.4 479.2,72.6 480.3,70.3C481.4,68.0 483.0,65.8 484.6,63.6C486.2,61.5 488.1,59.2 490.2,57.4C492.3,55.6 495.5,53.3 497.3,52.9C499.1,52.5 500.3,51.9 501.2,54.7C502.1,57.5 502.4,64.6 502.5,69.7C502.6,74.8 502.8,81.9 501.9,85.4C501.0,88.9 499.3,90.2 497.3,90.8C495.3,91.4 492.3,90.2 490.0,89.3C487.7,88.4 485.4,86.9 483.6,85.6C481.8,84.3 480.1,83.0 479.2,81.6C478.2,80.2 477.7,79.2 477.9,77.3Z" fill="none" stroke="#111" stroke-width="0.9" opacity="0.95"/>
<path d="M480.1,77.0C480.2,75.3 481.2,72.7 482.2,70.7C483.2,68.6 484.6,66.6 486.1,64.6C487.6,62.7 489.2,60.7 491.1,59.1C493.0,57.5 495.9,55.4 497.5,55.0C499.2,54.6 500.2,54.1 501.0,56.6C501.8,59.2 502.1,65.5 502.2,70.1C502.3,74.7 502.4,81.1 501.7,84.3C500.9,87.4 499.3,88.5 497.5,89.1C495.7,89.7 493.0,88.5 490.9,87.8C488.9,87.0 486.8,85.6 485.2,84.4C483.6,83.3 482.1,82.1 481.2,80.8C480.4,79.6 479.9,78.7 480.1,77.0Z" fill="none" stroke="#111" stroke-width="0.35" opacity="0.7"/>
<path d="M482.2,76.6C482.4,75.1 483.2,72.9 484.1,71.0C485.0,69.2 486.3,67.4 487.6,65.7C488.9,64.0 490.4,62.1 492.1,60.7C493.8,59.3 496.3,57.5 497.7,57.1C499.2,56.8 500.2,56.3 500.9,58.6C501.6,60.8 501.8,66.5 501.9,70.6C502.0,74.7 502.1,80.3 501.4,83.1C500.7,85.9 499.3,86.9 497.7,87.4C496.2,88.0 493.7,86.9 491.9,86.2C490.1,85.5 488.2,84.3 486.8,83.3C485.3,82.3 484.0,81.2 483.3,80.1C482.5,79.0 482.1,78.1 482.2,76.6Z" fill="none" stroke="#111" stroke-width="0.35" opacity="0.6"/>
<path d="M484.4,76.3C484.5,75.0 485.3,73.0 486.1,71.4C486.8,69.8 487.9,68.2 489.1,66.7C490.2,65.2 491.5,63.6 493.0,62.4C494.5,61.1 496.7,59.5 498.0,59.2C499.2,58.9 500.1,58.5 500.7,60.5C501.3,62.5 501.5,67.4 501.6,71.0C501.7,74.6 501.8,79.5 501.2,82.0C500.6,84.4 499.3,85.3 498.0,85.8C496.6,86.2 494.4,85.3 492.9,84.7C491.3,84.1 489.6,83.0 488.4,82.1C487.1,81.2 486.0,80.3 485.3,79.3C484.6,78.4 484.3,77.6 484.4,76.3Z" fill="none" stroke="#111" stroke-width="0.35" opacity="0.6"/>
<path d="M486.5,76.0C486.6,74.9 487.3,73.2 488.0,71.8C488.7,70.4 489.6,69.1 490.6,67.8C491.6,66.5 492.7,65.1 493.9,64.0C495.2,63.0 497.1,61.6 498.2,61.3C499.3,61.1 500.0,60.7 500.5,62.4C501.0,64.1 501.2,68.3 501.3,71.4C501.4,74.5 501.5,78.7 500.9,80.8C500.4,83.0 499.4,83.7 498.2,84.1C497.0,84.5 495.2,83.7 493.8,83.2C492.4,82.7 491.0,81.7 490.0,81.0C488.9,80.2 487.9,79.4 487.3,78.6C486.8,77.7 486.4,77.1 486.5,76.0Z" fill="none" stroke="#111" stroke-width="0.35" opacity="0.6"/>
<path d="M488.7,75.7C488.8,74.7 489.3,73.3 489.9,72.2C490.5,71.0 491.2,69.9 492.1,68.8C492.9,67.7 493.8,66.6 494.9,65.7C495.9,64.8 497.5,63.7 498.4,63.5C499.3,63.2 499.9,62.9 500.4,64.3C500.8,65.8 500.9,69.3 501.0,71.8C501.1,74.4 501.1,77.9 500.7,79.7C500.3,81.5 499.4,82.1 498.4,82.4C497.4,82.7 495.9,82.1 494.8,81.7C493.6,81.2 492.4,80.4 491.6,79.8C490.7,79.2 489.8,78.5 489.4,77.8C488.9,77.1 488.6,76.6 488.7,75.7Z" fill="none" stroke="#111" stroke-width="0.35" opacity="0.7"/>
<path d="M490.9,75.3C490.9,74.6 491.4,73.4 491.8,72.5C492.3,71.6 492.9,70.7 493.5,69.8C494.2,69.0 494.9,68.1 495.8,67.4C496.6,66.6 497.9,65.7 498.6,65.6C499.4,65.4 499.8,65.2 500.2,66.3C500.5,67.4 500.7,70.2 500.7,72.3C500.7,74.3 500.8,77.2 500.5,78.6C500.1,80.0 499.4,80.5 498.6,80.7C497.8,81.0 496.6,80.5 495.7,80.1C494.8,79.8 493.9,79.2 493.1,78.6C492.4,78.1 491.8,77.6 491.4,77.0C491.0,76.5 490.8,76.1 490.9,75.3Z" fill="none" stroke="#111" stroke-width="0.35" opacity="0.8"/>
<ellipse cx="500.3" cy="73" rx="2.1" ry="13" fill="#000" opacity="0.85" filter="url(#b05)"/>
<ellipse cx="498" cy="74" rx="3.2" ry="12" fill="#000" opacity="0.25" filter="url(#b1)"/>
<circle cx="479.8" cy="52" r="2.6" fill="#000" opacity="0.55" filter="url(#b05)"/>
<circle cx="479.8" cy="52" r="1" fill="#fff"/>
<text x="449.00" y="47.20" font-size="8.3" fill="#222" textLength="16.65" lengthAdjust="spacingAndGlyphs">0.38</text>
<text x="509.50" y="47.20" font-size="8.3" text-anchor="end" fill="#222" textLength="16.65" lengthAdjust="spacingAndGlyphs">6.64</text>
<text x="449.00" y="99.60" font-size="8.3" fill="#222" textLength="21.50" lengthAdjust="spacingAndGlyphs">0.732</text>
<text x="509.50" y="99.60" font-size="8.3" text-anchor="end" fill="#222" textLength="16.65" lengthAdjust="spacingAndGlyphs">92.3</text>
<text x="364.60" y="84.00" font-size="10.8" fill="#2a2a2a" transform="rotate(-90 364.60 84.00)" textLength="20.00" lengthAdjust="spacingAndGlyphs">CD44</text>
<text x="376.00" y="111.20" font-size="10.8" fill="#2a2a2a" textLength="19.00" lengthAdjust="spacingAndGlyphs">CD25</text>
<line x1="397.50" y1="108.80" x2="508.60" y2="108.80" stroke="#222" stroke-width="1" />
<path d="M510.60,108.80l-3.4,-1.5v3z" fill="#222" stroke="none" stroke-width="1" />
<rect x="368.40" y="114.00" width="63.20" height="62.40" fill="#fff" stroke="#7a7a7a" stroke-width="0.7" />
<line x1="373.46" y1="176.40" x2="373.46" y2="177.50" stroke="#555" stroke-width="0.5" />
<line x1="367.30" y1="171.41" x2="368.40" y2="171.41" stroke="#555" stroke-width="0.5" />
<line x1="376.62" y1="176.40" x2="376.62" y2="177.50" stroke="#555" stroke-width="0.5" />
<line x1="367.30" y1="168.29" x2="368.40" y2="168.29" stroke="#555" stroke-width="0.5" />
<line x1="387.36" y1="176.40" x2="387.36" y2="177.50" stroke="#555" stroke-width="0.5" />
<line x1="367.30" y1="157.68" x2="368.40" y2="157.68" stroke="#555" stroke-width="0.5" />
<line x1="398.10" y1="176.40" x2="398.10" y2="177.50" stroke="#555" stroke-width="0.5" />
<line x1="367.30" y1="147.07" x2="368.40" y2="147.07" stroke="#555" stroke-width="0.5" />
<line x1="408.85" y1="176.40" x2="408.85" y2="177.50" stroke="#555" stroke-width="0.5" />
<line x1="367.30" y1="136.46" x2="368.40" y2="136.46" stroke="#555" stroke-width="0.5" />
<line x1="419.59" y1="176.40" x2="419.59" y2="177.50" stroke="#555" stroke-width="0.5" />
<line x1="367.30" y1="125.86" x2="368.40" y2="125.86" stroke="#555" stroke-width="0.5" />
<line x1="428.44" y1="176.40" x2="428.44" y2="177.50" stroke="#555" stroke-width="0.5" />
<line x1="367.30" y1="117.12" x2="368.40" y2="117.12" stroke="#555" stroke-width="0.5" />
<line x1="372.19" y1="177.30" x2="375.98" y2="177.30" stroke="#222" stroke-width="0.8" />
<path d="M386.6,155.5h0.01M402.6,150.7h0.01M381.6,162.5h0.01M401.0,163.4h0.01M387.4,161.3h0.01M414.6,166.0h0.01M396.3,157.3h0.01M396.8,161.0h0.01M406.3,156.4h0.01M387.1,159.7h0.01M394.2,159.1h0.01M400.1,164.1h0.01M407.1,153.7h0.01M400.8,164.8h0.01M393.7,158.2h0.01M407.5,162.3h0.01M402.1,149.4h0.01M387.9,157.2h0.01M401.1,168.7h0.01M391.1,161.7h0.01M404.2,147.6h0.01M391.5,156.8h0.01M394.1,155.2h0.01M401.8,152.0h0.01M401.7,152.8h0.01M393.6,158.7h0.01M393.4,157.4h0.01M410.8,156.1h0.01M396.8,159.7h0.01M395.1,161.4h0.01M387.7,159.1h0.01M393.9,152.0h0.01M412.2,151.7h0.01M412.1,159.3h0.01M409.6,151.1h0.01M407.6,163.3h0.01M397.1,155.4h0.01M417.6,156.9h0.01M394.6,152.9h0.01M401.6,157.7h0.01M399.4,164.6h0.01M395.4,158.4h0.01M409.7,151.0h0.01M406.3,165.2h0.01M387.2,150.5h0.01M389.7,146.8h0.01M401.6,146.7h0.01M402.0,163.3h0.01M385.1,154.4h0.01M382.7,159.9h0.01M392.1,154.7h0.01M398.4,158.7h0.01M395.2,156.1h0.01M393.6,156.6h0.01M388.6,156.3h0.01M382.5,153.5h0.01M413.3,156.4h0.01M387.9,157.3h0.01M390.2,147.7h0.01M392.1,159.7h0.01M401.1,155.5h0.01M390.6,150.6h0.01M408.8,157.2h0.01M390.4,145.4h0.01M387.0,168.4h0.01M388.8,155.6h0.01M399.7,155.2h0.01M395.8,149.1h0.01M389.6,164.4h0.01M391.9,160.2h0.01M384.4,154.6h0.01M400.1,161.2h0.01M389.0,159.0h0.01M401.1,152.3h0.01M401.8,151.5h0.01M391.6,155.9h0.01M376.3,155.5h0.01M390.0,148.7h0.01M394.6,159.8h0.01M394.8,162.3h0.01M388.7,149.4h0.01M410.4,158.0h0.01M405.6,151.9h0.01M404.4,157.3h0.01M403.2,156.1h0.01M407.7,152.8h0.01M390.3,148.6h0.01M407.3,152.3h0.01M389.7,151.3h0.01M394.4,149.6h0.01M395.7,152.9h0.01M393.6,151.2h0.01M398.3,153.7h0.01M398.9,157.2h0.01M400.7,145.1h0.01M393.7,152.0h0.01M404.2,148.1h0.01M392.3,154.5h0.01M395.3,161.0h0.01M394.5,160.8h0.01M386.3,146.9h0.01M407.8,158.2h0.01M401.9,156.6h0.01M401.9,149.9h0.01M405.6,153.3h0.01M405.9,156.4h0.01M382.2,149.6h0.01M407.0,155.3h0.01M394.8,157.2h0.01M394.6,153.3h0.01M398.8,156.7h0.01M410.1,156.2h0.01M413.0,165.0h0.01M411.7,161.3h0.01M399.0,156.7h0.01M396.9,152.3h0.01M397.5,152.8h0.01M411.1,158.7h0.01M394.4,146.4h0.01M397.6,153.9h0.01M389.3,150.3h0.01M380.0,158.8h0.01M397.5,168.9h0.01M397.8,155.3h0.01M409.6,156.7h0.01M399.3,154.1h0.01M393.2,163.5h0.01M406.0,164.6h0.01M395.2,156.2h0.01M391.0,160.8h0.01M386.9,158.8h0.01M406.8,163.1h0.01M390.5,161.4h0.01M392.3,152.2h0.01M387.4,161.8h0.01M411.2,153.0h0.01M391.9,154.3h0.01M418.1,161.0h0.01M393.7,147.0h0.01M392.6,161.9h0.01M412.9,154.7h0.01M392.5,153.5h0.01M382.9,160.5h0.01M389.3,161.3h0.01M384.3,149.6h0.01M400.3,152.2h0.01M404.3,156.0h0.01M388.6,159.1h0.01M404.7,146.4h0.01M412.6,158.5h0.01M404.1,146.7h0.01M392.2,154.3h0.01M406.6,148.7h0.01M390.9,145.9h0.01M396.1,157.7h0.01M384.5,153.0h0.01M402.1,163.9h0.01M403.3,154.5h0.01M388.6,151.3h0.01M392.7,156.7h0.01M397.6,164.3h0.01M400.3,150.6h0.01M410.4,160.7h0.01M398.8,152.4h0.01M383.0,150.9h0.01M405.3,152.0h0.01M387.4,157.0h0.01M400.0,159.0h0.01M403.2,163.0h0.01M391.3,160.9h0.01M390.1,159.5h0.01M399.4,157.2h0.01M405.7,155.9h0.01M406.9,160.4h0.01M399.1,153.2h0.01M392.0,153.4h0.01M396.4,155.9h0.01M421.8,159.2h0.01M404.2,151.7h0.01M392.3,154.4h0.01M399.5,150.8h0.01M410.9,153.2h0.01M406.6,144.3h0.01M397.9,157.4h0.01M399.5,159.0h0.01M400.2,156.8h0.01M382.9,152.4h0.01M379.3,159.1h0.01M400.5,155.0h0.01M391.4,153.1h0.01M412.8,164.7h0.01M397.5,162.4h0.01M385.3,146.3h0.01M394.1,151.6h0.01M393.5,156.9h0.01M422.2,152.7h0.01M398.4,157.4h0.01M397.7,160.7h0.01M412.2,149.8h0.01M399.3,154.7h0.01M400.9,148.3h0.01M383.9,144.4h0.01M402.2,157.0h0.01M398.6,144.2h0.01M395.0,152.2h0.01M386.7,151.4h0.01M403.6,158.7h0.01M397.8,158.6h0.01M393.2,156.4h0.01M398.3,158.8h0.01M397.4,155.3h0.01M396.9,152.8h0.01M415.9,158.6h0.01M401.4,167.5h0.01M409.2,148.2h0.01M403.6,160.2h0.01M413.1,162.6h0.01M404.2,150.1h0.01M391.0,157.3h0.01M402.0,150.9h0.01M394.9,154.0h0.01M398.5,157.7h0.01M395.7,149.8h0.01M407.9,164.0h0.01M397.2,161.1h0.01M401.6,159.3h0.01M401.9,152.2h0.01M402.6,161.1h0.01M390.8,165.8h0.01M414.7,165.1h0.01M413.9,159.7h0.01M395.3,153.0h0.01M391.5,156.6h0.01M397.7,159.4h0.01M381.8,167.6h0.01M416.2,155.9h0.01M403.4,158.4h0.01M400.2,155.0h0.01M397.0,151.9h0.01M399.4,155.9h0.01M400.6,151.7h0.01M398.3,156.2h0.01M402.8,150.7h0.01M401.4,160.9h0.01M402.8,154.2h0.01M394.1,154.8h0.01M403.8,163.8h0.01M396.7,152.8h0.01M401.0,157.0h0.01M390.7,152.3h0.01M397.2,159.4h0.01M388.5,150.9h0.01M402.0,149.9h0.01M398.9,157.8h0.01M397.1,150.9h0.01M397.5,154.3h0.01M400.7,151.8h0.01M406.7,147.6h0.01M396.6,156.0h0.01M405.7,153.0h0.01" stroke="#000" stroke-width="0.6" stroke-linecap="round" opacity="0.45" fill="none"/>
<path d="M405.8,142.9h0.01M407.2,163.6h0.01M399.2,152.0h0.01M395.5,156.8h0.01M410.5,148.3h0.01M394.1,151.6h0.01M410.0,157.8h0.01M407.7,131.5h0.01M397.2,160.8h0.01M393.4,158.2h0.01M415.2,154.9h0.01M409.8,145.0h0.01M393.4,147.1h0.01M400.6,147.6h0.01M406.9,146.7h0.01M403.3,151.8h0.01M402.0,164.6h0.01M405.1,148.8h0.01M400.5,142.4h0.01M411.4,149.4h0.01M394.4,142.9h0.01M401.0,144.0h0.01M409.6,137.5h0.01M405.4,149.3h0.01M393.8,148.4h0.01M401.3,152.5h0.01M398.8,150.7h0.01M390.3,138.2h0.01M407.5,157.4h0.01M401.9,142.6h0.01M409.6,129.2h0.01M396.4,154.0h0.01M406.6,138.7h0.01M388.8,161.1h0.01M403.1,139.9h0.01M402.4,156.1h0.01M383.9,158.0h0.01M407.2,129.3h0.01M407.4,132.0h0.01M410.0,151.6h0.01M417.8,142.5h0.01M402.0,157.4h0.01M397.5,141.7h0.01M399.4,147.3h0.01M394.4,152.4h0.01M405.8,148.6h0.01M413.9,145.1h0.01M411.1,143.1h0.01M407.3,130.6h0.01M403.4,146.4h0.01M398.5,142.5h0.01M399.6,141.5h0.01M386.6,142.6h0.01M398.2,143.3h0.01M394.6,146.8h0.01M407.5,145.7h0.01M398.6,160.2h0.01M408.8,156.3h0.01M410.1,145.1h0.01M401.1,158.0h0.01M398.1,146.9h0.01M404.6,151.4h0.01M400.1,156.9h0.01M400.8,154.5h0.01M409.5,153.9h0.01M407.1,137.6h0.01M392.8,142.4h0.01M405.3,161.5h0.01M393.4,150.8h0.01M396.0,141.4h0.01M400.1,154.2h0.01M403.5,158.6h0.01M395.1,156.0h0.01M408.5,148.6h0.01M405.3,142.9h0.01M394.4,144.4h0.01M397.5,174.0h0.01M398.6,162.9h0.01M403.4,150.8h0.01M407.2,141.0h0.01" stroke="#000" stroke-width="0.6" stroke-linecap="round" opacity="0.35" fill="none"/>
<path d="M383,140.1L399.3,124.4L414.4,129L417.7,163.7L413.7,167Z" fill="none" stroke="#4a4a4a" stroke-width="0.55" />
<path d="M381.7,141.4L412.4,167.6L414.4,173.5L378.4,173.5L377.1,151.2Z" fill="none" stroke="#4a4a4a" stroke-width="0.55" />
<path d="M381.0,157.0C381.0,155.0 385.2,152.8 388.0,151.5C390.8,150.2 395.2,149.7 398.0,149.5C400.8,149.3 403.1,149.6 405.0,150.5C406.9,151.4 409.2,153.2 409.5,155.0C409.8,156.8 408.9,159.4 407.0,161.0C405.1,162.6 401.2,164.1 398.0,164.5C394.8,164.9 390.8,164.8 388.0,163.5C385.2,162.2 381.0,159.0 381.0,157.0Z" fill="none" stroke="#555" stroke-width="0.4" />
<path d="M411.5,158.3C411.2,159.2 409.8,160.1 408.6,160.7C407.4,161.4 405.8,161.8 404.3,162.2C402.9,162.6 401.4,163.0 399.7,163.1C397.9,163.3 395.9,163.4 394.1,163.2C392.3,162.9 390.4,162.4 389.0,161.8C387.5,161.2 386.4,160.4 385.5,159.6C384.7,158.7 383.9,157.8 383.9,156.9C383.8,156.0 384.0,154.9 384.9,154.2C385.9,153.5 387.7,152.8 389.4,152.5C391.0,152.2 393.2,152.3 394.9,152.3C396.7,152.3 398.3,152.5 400.0,152.7C401.8,152.9 403.7,153.0 405.4,153.5C407.1,153.9 409.3,154.6 410.3,155.4C411.3,156.2 411.8,157.5 411.5,158.3Z" fill="url(#gmid)" opacity="1.0" stroke="none"/>
<path d="M412.0,158.4C411.7,159.3 410.2,160.2 408.9,160.9C407.7,161.6 406.0,162.0 404.5,162.4C402.9,162.9 401.3,163.3 399.5,163.4C397.7,163.6 395.6,163.7 393.7,163.5C391.8,163.2 389.8,162.7 388.3,162.0C386.8,161.4 385.6,160.5 384.7,159.7C383.8,158.8 383.0,157.8 382.9,156.9C382.8,155.9 383.1,154.8 384.1,154.0C385.0,153.2 386.9,152.6 388.7,152.2C390.5,151.9 392.7,152.0 394.6,152.0C396.4,152.0 398.1,152.2 399.9,152.4C401.7,152.7 403.8,152.8 405.6,153.2C407.4,153.7 409.7,154.5 410.7,155.3C411.8,156.2 412.3,157.5 412.0,158.4Z" fill="none" stroke="#222" stroke-width="0.4" opacity="0.55"/>
<path d="M410.0,158.3C409.7,159.1 408.5,159.9 407.4,160.5C406.4,161.1 405.0,161.5 403.6,161.8C402.2,162.2 400.8,162.6 399.3,162.7C397.7,162.8 395.8,162.9 394.2,162.7C392.6,162.5 390.8,162.0 389.5,161.4C388.2,160.9 387.1,160.1 386.4,159.4C385.6,158.6 384.9,157.8 384.9,157.0C384.8,156.1 385.1,155.2 385.9,154.5C386.7,153.8 388.4,153.2 389.9,152.9C391.4,152.6 393.3,152.7 394.9,152.7C396.6,152.7 398.0,152.9 399.6,153.1C401.2,153.3 403.0,153.4 404.5,153.8C406.1,154.2 408.0,154.9 408.9,155.6C409.8,156.4 410.2,157.5 410.0,158.3Z" fill="none" stroke="#222" stroke-width="0.4" opacity="0.61"/>
<path d="M408.0,158.2C407.8,158.9 406.8,159.5 406.0,160.0C405.1,160.5 403.9,160.9 402.7,161.2C401.6,161.5 400.4,161.8 399.0,161.9C397.7,162.1 396.1,162.1 394.7,161.9C393.3,161.7 391.8,161.3 390.7,160.9C389.6,160.4 388.7,159.8 388.0,159.1C387.4,158.5 386.9,157.7 386.8,157.1C386.8,156.4 387.0,155.6 387.7,155.0C388.4,154.4 389.8,153.9 391.0,153.6C392.3,153.4 393.9,153.4 395.3,153.4C396.7,153.4 398.0,153.5 399.3,153.7C400.7,153.9 402.2,154.0 403.5,154.4C404.8,154.8 406.3,155.3 407.1,155.9C407.8,156.6 408.2,157.5 408.0,158.2Z" fill="none" stroke="#222" stroke-width="0.4" opacity="0.68"/>
<path d="M406.1,158.1C405.9,158.6 405.2,159.2 404.5,159.6C403.8,160.0 402.8,160.3 401.8,160.6C400.9,160.9 399.9,161.1 398.8,161.2C397.7,161.3 396.3,161.3 395.2,161.2C394.1,161.0 392.9,160.7 391.9,160.3C391.0,159.9 390.3,159.4 389.7,158.8C389.2,158.3 388.8,157.7 388.8,157.2C388.7,156.6 388.9,155.9 389.5,155.5C390.1,155.0 391.2,154.6 392.2,154.4C393.2,154.1 394.6,154.1 395.7,154.1C396.8,154.1 397.9,154.2 399.0,154.4C400.2,154.5 401.4,154.6 402.4,155.0C403.5,155.3 404.7,155.7 405.3,156.2C405.9,156.8 406.2,157.5 406.1,158.1Z" fill="none" stroke="#222" stroke-width="0.4" opacity="0.74"/>
<path d="M404.1,158.0C404.0,158.4 403.5,158.8 403.0,159.2C402.4,159.5 401.7,159.8 400.9,160.0C400.2,160.2 399.4,160.4 398.5,160.4C397.6,160.5 396.6,160.5 395.7,160.4C394.8,160.3 393.9,160.0 393.2,159.7C392.5,159.4 391.9,159.0 391.4,158.6C391.0,158.2 390.7,157.7 390.7,157.3C390.7,156.8 390.9,156.3 391.3,155.9C391.7,155.6 392.6,155.2 393.4,155.1C394.2,154.9 395.2,154.9 396.1,154.8C397.0,154.8 397.9,154.9 398.7,155.0C399.6,155.2 400.6,155.3 401.4,155.5C402.2,155.8 403.1,156.1 403.6,156.6C404.0,157.0 404.2,157.5 404.1,158.0Z" fill="none" stroke="#222" stroke-width="0.4" opacity="0.81"/>
<path d="M402.3,157.9C402.2,158.2 401.8,158.5 401.5,158.7C401.1,159.0 400.6,159.2 400.0,159.3C399.5,159.5 398.9,159.6 398.2,159.7C397.6,159.7 396.9,159.7 396.2,159.6C395.6,159.5 394.9,159.3 394.4,159.1C393.9,158.9 393.4,158.6 393.1,158.3C392.8,158.0 392.6,157.7 392.6,157.4C392.6,157.0 392.7,156.7 393.1,156.4C393.4,156.1 394.0,155.9 394.5,155.8C395.1,155.6 395.8,155.6 396.5,155.6C397.1,155.6 397.8,155.6 398.4,155.7C399.1,155.8 399.7,155.9 400.3,156.1C400.9,156.3 401.5,156.6 401.9,156.8C402.2,157.1 402.3,157.5 402.3,157.9Z" fill="none" stroke="#222" stroke-width="0.4" opacity="0.87"/>
<path d="M400.4,157.8C400.4,158.0 400.2,158.1 400.0,158.3C399.7,158.5 399.4,158.6 399.1,158.7C398.8,158.8 398.4,158.8 398.0,158.9C397.6,158.9 397.1,158.9 396.7,158.8C396.3,158.8 395.9,158.7 395.6,158.5C395.3,158.4 395.0,158.2 394.8,158.0C394.6,157.9 394.5,157.6 394.5,157.4C394.5,157.3 394.6,157.0 394.8,156.9C395.0,156.7 395.3,156.6 395.7,156.5C396.0,156.4 396.5,156.4 396.9,156.4C397.3,156.3 397.7,156.4 398.1,156.4C398.5,156.5 398.9,156.6 399.3,156.7C399.6,156.8 400.0,157.0 400.2,157.1C400.4,157.3 400.5,157.6 400.4,157.8Z" fill="none" stroke="#222" stroke-width="0.4" opacity="0.94"/>
<path d="M398.6,157.7C398.6,157.7 398.5,157.8 398.5,157.9C398.4,157.9 398.3,158.0 398.1,158.0C398.0,158.0 397.9,158.1 397.7,158.1C397.6,158.1 397.4,158.1 397.2,158.1C397.1,158.0 396.9,158.0 396.8,158.0C396.7,157.9 396.6,157.8 396.5,157.8C396.4,157.7 396.4,157.6 396.4,157.5C396.4,157.5 396.4,157.4 396.5,157.3C396.6,157.3 396.7,157.2 396.8,157.2C397.0,157.1 397.1,157.1 397.3,157.1C397.4,157.1 397.6,157.1 397.8,157.2C397.9,157.2 398.1,157.2 398.2,157.2C398.3,157.3 398.5,157.4 398.5,157.4C398.6,157.5 398.6,157.6 398.6,157.7Z" fill="none" stroke="#222" stroke-width="0.4" opacity="1.00"/>
<ellipse cx="397.8" cy="157.3" rx="4.6" ry="2.6" fill="#000" opacity="0.9" filter="url(#b05)"/>
<ellipse cx="398.2" cy="157.3" rx="1.6" ry="0.6" fill="#fff" opacity="0.95"/>
<text x="401.00" y="126.00" font-size="8.6" fill="#c41e3a" textLength="23.50" lengthAdjust="spacingAndGlyphs">DN3b</text>
<text x="377.4" y="173.8" font-size="8.6" fill="#c41e3a" transform="rotate(-90 377.4 173.8)" textLength="22" lengthAdjust="spacingAndGlyphs">DN3a</text>
<text x="399.80" y="138.20" font-size="8.3" text-anchor="middle" fill="#222" textLength="9.70" lengthAdjust="spacingAndGlyphs">10</text>
<text x="396.80" y="173.80" font-size="8.3" text-anchor="middle" fill="#222" textLength="16.65" lengthAdjust="spacingAndGlyphs">82.1</text>
<rect x="447.60" y="114.00" width="62.60" height="62.40" fill="#fff" stroke="#7a7a7a" stroke-width="0.7" />
<line x1="452.61" y1="176.40" x2="452.61" y2="177.50" stroke="#555" stroke-width="0.5" />
<line x1="446.50" y1="171.41" x2="447.60" y2="171.41" stroke="#555" stroke-width="0.5" />
<line x1="455.74" y1="176.40" x2="455.74" y2="177.50" stroke="#555" stroke-width="0.5" />
<line x1="446.50" y1="168.29" x2="447.60" y2="168.29" stroke="#555" stroke-width="0.5" />
<line x1="466.38" y1="176.40" x2="466.38" y2="177.50" stroke="#555" stroke-width="0.5" />
<line x1="446.50" y1="157.68" x2="447.60" y2="157.68" stroke="#555" stroke-width="0.5" />
<line x1="477.02" y1="176.40" x2="477.02" y2="177.50" stroke="#555" stroke-width="0.5" />
<line x1="446.50" y1="147.07" x2="447.60" y2="147.07" stroke="#555" stroke-width="0.5" />
<line x1="487.66" y1="176.40" x2="487.66" y2="177.50" stroke="#555" stroke-width="0.5" />
<line x1="446.50" y1="136.46" x2="447.60" y2="136.46" stroke="#555" stroke-width="0.5" />
<line x1="498.31" y1="176.40" x2="498.31" y2="177.50" stroke="#555" stroke-width="0.5" />
<line x1="446.50" y1="125.86" x2="447.60" y2="125.86" stroke="#555" stroke-width="0.5" />
<line x1="507.07" y1="176.40" x2="507.07" y2="177.50" stroke="#555" stroke-width="0.5" />
<line x1="446.50" y1="117.12" x2="447.60" y2="117.12" stroke="#555" stroke-width="0.5" />
<line x1="451.36" y1="177.30" x2="455.11" y2="177.30" stroke="#222" stroke-width="0.8" />
<path d="M487.3,157.7h0.01M467.9,168.0h0.01M484.5,159.4h0.01M491.1,151.6h0.01M484.8,160.9h0.01M474.2,168.4h0.01M464.4,159.1h0.01M481.0,152.6h0.01M474.6,152.5h0.01M477.2,154.1h0.01M478.6,151.3h0.01M482.1,156.6h0.01M479.4,159.0h0.01M477.3,153.0h0.01M458.2,169.4h0.01M470.4,161.0h0.01M478.3,148.9h0.01M471.5,159.6h0.01M471.1,165.0h0.01M476.1,156.3h0.01M472.7,166.9h0.01M474.9,164.7h0.01M478.7,149.2h0.01M470.2,163.6h0.01M483.4,161.7h0.01M487.7,161.1h0.01M475.5,160.0h0.01M484.4,154.6h0.01M484.3,148.3h0.01M484.0,156.2h0.01M465.0,171.4h0.01M481.6,158.4h0.01M469.2,161.5h0.01M489.6,150.0h0.01M448.9,168.8h0.01M468.9,163.5h0.01M473.9,156.9h0.01M474.3,167.4h0.01M471.4,173.9h0.01M472.3,156.6h0.01M486.6,159.1h0.01M472.1,166.9h0.01M462.0,162.3h0.01M487.6,154.1h0.01M469.5,166.8h0.01M486.4,155.9h0.01M463.5,164.8h0.01M484.0,161.4h0.01M493.6,151.3h0.01M475.0,161.2h0.01M486.8,150.6h0.01M483.8,142.1h0.01M484.1,153.4h0.01M484.2,160.9h0.01M469.2,163.6h0.01M482.2,161.2h0.01M469.3,158.5h0.01M477.0,159.2h0.01M468.8,169.4h0.01M477.7,168.0h0.01M486.0,156.4h0.01M482.6,151.7h0.01M475.1,158.1h0.01M468.7,164.4h0.01M480.9,166.6h0.01M450.2,169.2h0.01M470.5,160.9h0.01M483.3,159.7h0.01M478.2,157.2h0.01M483.8,159.2h0.01M463.4,165.3h0.01M465.3,159.4h0.01M480.3,159.2h0.01M478.1,155.1h0.01M475.4,156.1h0.01M483.6,161.2h0.01M496.0,158.6h0.01M471.5,160.5h0.01M472.0,164.5h0.01M496.7,155.2h0.01M458.4,162.2h0.01M469.5,166.8h0.01M479.6,160.9h0.01M491.8,149.0h0.01M476.2,171.6h0.01M480.1,154.7h0.01M459.2,160.3h0.01M459.2,169.1h0.01M481.5,163.8h0.01M476.4,156.9h0.01M477.0,170.9h0.01M465.0,167.0h0.01M480.5,162.2h0.01M476.8,163.3h0.01M485.3,155.7h0.01M474.9,160.4h0.01M470.7,162.2h0.01M477.0,161.6h0.01M492.7,160.3h0.01M476.6,163.9h0.01M483.0,161.8h0.01M479.7,160.6h0.01M473.5,157.7h0.01M488.9,162.1h0.01M485.3,159.0h0.01M480.2,156.4h0.01M465.9,169.3h0.01M479.5,156.2h0.01M473.8,169.0h0.01M468.0,174.3h0.01M489.2,167.8h0.01M473.1,162.1h0.01M475.2,162.1h0.01M475.7,156.9h0.01M486.1,151.9h0.01M476.0,163.9h0.01M473.7,159.6h0.01M481.1,156.5h0.01M468.6,163.8h0.01M480.8,168.1h0.01M472.1,168.1h0.01M471.8,160.9h0.01M476.9,162.0h0.01M489.7,164.1h0.01M476.6,167.9h0.01M488.8,159.4h0.01M474.7,166.5h0.01M478.9,161.5h0.01M478.2,163.5h0.01M490.5,160.4h0.01M479.4,164.8h0.01M488.9,149.7h0.01M488.2,147.8h0.01M484.7,160.1h0.01M491.7,155.1h0.01M473.4,157.7h0.01M470.4,167.7h0.01M475.6,157.1h0.01M481.7,154.0h0.01M474.5,159.1h0.01M495.6,159.8h0.01M474.4,153.0h0.01M481.4,158.8h0.01M483.0,160.7h0.01M478.3,164.9h0.01M486.3,157.3h0.01M474.7,158.9h0.01M482.3,151.9h0.01M476.1,156.7h0.01M468.9,167.5h0.01M478.9,159.8h0.01M483.0,149.4h0.01M479.1,161.1h0.01M483.5,151.4h0.01M485.3,157.8h0.01M492.5,159.5h0.01M488.0,167.1h0.01M478.1,157.6h0.01M474.2,156.5h0.01M474.8,151.1h0.01M479.2,161.8h0.01M486.4,154.2h0.01M489.0,151.3h0.01M473.9,151.5h0.01M471.1,158.8h0.01M492.0,156.3h0.01M471.3,166.0h0.01M482.4,156.7h0.01M478.6,158.1h0.01M471.0,153.7h0.01M480.9,165.5h0.01M489.8,152.9h0.01M472.6,161.3h0.01M486.9,157.7h0.01M475.1,163.3h0.01M478.4,162.5h0.01M472.7,154.5h0.01M481.0,162.6h0.01M470.0,163.1h0.01M485.2,154.6h0.01M478.0,170.9h0.01M487.7,161.0h0.01M474.8,170.2h0.01M464.8,163.3h0.01M487.6,162.6h0.01M470.3,160.0h0.01M476.6,150.3h0.01M485.2,159.6h0.01M476.6,163.5h0.01M485.8,158.0h0.01M486.2,164.2h0.01M475.5,162.0h0.01M477.0,166.0h0.01M476.7,163.1h0.01M480.2,159.3h0.01M492.4,152.8h0.01M491.9,157.9h0.01M489.1,153.9h0.01M487.9,159.4h0.01M474.7,162.9h0.01M477.9,159.8h0.01M487.8,151.6h0.01M462.2,158.1h0.01M474.1,158.3h0.01M480.3,161.9h0.01M493.5,154.4h0.01M481.2,154.6h0.01M486.3,163.3h0.01M485.6,146.0h0.01M489.2,163.2h0.01M482.5,149.9h0.01M477.8,163.2h0.01M480.6,154.4h0.01M474.0,167.0h0.01M471.4,170.6h0.01M479.8,160.7h0.01M467.3,161.8h0.01M481.4,150.6h0.01M492.4,145.8h0.01M469.5,164.2h0.01M484.3,160.9h0.01M475.7,160.0h0.01M476.0,157.9h0.01M460.7,173.1h0.01M481.3,159.3h0.01M474.6,162.9h0.01M478.7,159.2h0.01M484.2,148.0h0.01M478.8,153.9h0.01M479.6,167.2h0.01M470.3,163.0h0.01M476.3,165.8h0.01M467.9,155.8h0.01M482.3,156.1h0.01M478.7,165.4h0.01M471.3,161.1h0.01M481.0,160.8h0.01M477.1,165.9h0.01M495.7,149.5h0.01M489.4,143.5h0.01M489.3,152.9h0.01M479.4,157.5h0.01M471.4,156.3h0.01M478.5,166.6h0.01M487.2,153.8h0.01M473.4,158.4h0.01M473.3,171.7h0.01M484.4,157.6h0.01M473.1,156.8h0.01M490.9,158.1h0.01M473.5,167.3h0.01M471.6,166.3h0.01M470.6,161.2h0.01M483.8,159.6h0.01M485.2,152.2h0.01M494.1,159.6h0.01M479.9,161.6h0.01M472.6,161.7h0.01M468.8,164.7h0.01M483.3,164.6h0.01M488.1,159.6h0.01M475.7,159.8h0.01M476.8,161.7h0.01M465.4,169.9h0.01M465.7,163.0h0.01M478.1,157.2h0.01M491.8,153.0h0.01M493.7,158.9h0.01M475.9,163.1h0.01M488.5,153.3h0.01M478.6,156.7h0.01M478.7,157.7h0.01M481.7,163.6h0.01M490.2,155.0h0.01M482.3,162.5h0.01M474.6,156.0h0.01M485.8,151.4h0.01M484.3,151.9h0.01M491.2,148.3h0.01M488.7,162.9h0.01M474.5,169.5h0.01M469.0,154.8h0.01M486.1,159.9h0.01M472.3,149.3h0.01M478.0,158.4h0.01M475.4,159.6h0.01M463.8,163.6h0.01M496.2,159.7h0.01M474.7,157.7h0.01M484.3,162.7h0.01M482.3,151.8h0.01M480.6,159.5h0.01M492.7,159.5h0.01M485.6,162.9h0.01M479.0,167.6h0.01M476.5,162.8h0.01M484.3,152.2h0.01M469.9,154.4h0.01M480.2,158.7h0.01" stroke="#000" stroke-width="0.6" stroke-linecap="round" opacity="0.5" fill="none"/>
<path d="M495.8,158.9h0.01M483.8,157.4h0.01M498.6,156.7h0.01M503.3,162.5h0.01M495.0,154.8h0.01M493.9,157.8h0.01M501.9,155.0h0.01M504.7,154.5h0.01M503.6,158.7h0.01M501.1,163.7h0.01M496.2,157.0h0.01M501.2,160.0h0.01M489.0,158.3h0.01M493.0,159.3h0.01M507.2,157.6h0.01M497.3,158.0h0.01M478.1,159.7h0.01M501.8,158.0h0.01M495.3,155.4h0.01M496.8,161.0h0.01M497.3,161.4h0.01M480.7,156.2h0.01M499.8,157.5h0.01M486.8,155.6h0.01M506.4,153.8h0.01M491.3,154.3h0.01M494.3,159.4h0.01M502.0,151.7h0.01M507.8,155.8h0.01M494.0,162.3h0.01M497.5,153.9h0.01M493.7,155.4h0.01M491.2,156.5h0.01M503.9,158.5h0.01M488.7,165.5h0.01M491.3,157.8h0.01M498.2,159.7h0.01M495.8,158.8h0.01M490.7,158.4h0.01M492.6,156.4h0.01M499.3,158.5h0.01M496.1,159.9h0.01M496.7,153.7h0.01M503.9,156.5h0.01M506.2,155.6h0.01M501.8,158.4h0.01M479.9,153.2h0.01M490.5,161.6h0.01M485.3,160.1h0.01M505.3,158.9h0.01M502.5,156.1h0.01M497.9,158.1h0.01M500.8,159.5h0.01M496.6,155.5h0.01M494.2,158.7h0.01M486.8,153.9h0.01M495.2,155.9h0.01M496.2,149.8h0.01M495.7,156.8h0.01M503.2,151.8h0.01M495.9,158.9h0.01M501.3,160.9h0.01M505.1,154.5h0.01M502.3,156.5h0.01M492.6,161.9h0.01M493.8,155.0h0.01M495.3,155.0h0.01M504.8,158.6h0.01M507.4,158.7h0.01M493.9,160.5h0.01M493.6,156.2h0.01M496.9,157.6h0.01M506.0,155.8h0.01M500.4,157.4h0.01M489.5,154.3h0.01M496.5,158.7h0.01M500.2,158.9h0.01M498.3,156.2h0.01M500.9,154.6h0.01M488.9,156.5h0.01M488.4,156.0h0.01M493.0,155.9h0.01M497.7,155.2h0.01M495.1,152.6h0.01M499.0,155.0h0.01M500.7,149.3h0.01M492.6,158.2h0.01M481.5,156.5h0.01M498.6,157.8h0.01M487.9,158.2h0.01M499.0,154.7h0.01M503.0,157.4h0.01M498.1,156.2h0.01M501.7,157.8h0.01M505.7,158.8h0.01M493.8,156.9h0.01M504.2,156.4h0.01M500.6,159.0h0.01M496.8,150.8h0.01M498.9,158.1h0.01M498.9,155.3h0.01M506.2,157.1h0.01M493.8,155.4h0.01M500.4,154.3h0.01M491.2,163.3h0.01M506.9,160.6h0.01M507.2,159.2h0.01M486.6,161.0h0.01M506.4,158.9h0.01M484.7,161.1h0.01M507.3,156.1h0.01M498.9,159.8h0.01M497.4,160.7h0.01M498.6,159.5h0.01M498.6,153.2h0.01M491.3,166.7h0.01M499.9,161.3h0.01M505.7,162.5h0.01M501.8,155.8h0.01M498.1,151.9h0.01M496.7,160.1h0.01M483.3,158.1h0.01M503.6,161.4h0.01M491.7,155.6h0.01M485.3,154.5h0.01M501.6,163.5h0.01M490.2,161.5h0.01M500.9,156.1h0.01M497.5,158.1h0.01M504.7,161.5h0.01M501.5,158.5h0.01M496.8,156.3h0.01M489.6,163.2h0.01M495.0,151.4h0.01M499.8,157.4h0.01M499.2,162.8h0.01M497.3,156.7h0.01M492.9,157.4h0.01M495.0,158.1h0.01M492.2,163.1h0.01M503.9,159.9h0.01M502.9,159.9h0.01M502.6,161.6h0.01M504.9,161.4h0.01M494.6,157.5h0.01M493.0,160.3h0.01M503.7,156.1h0.01M502.0,165.2h0.01M506.4,154.2h0.01M497.4,159.4h0.01M497.8,158.6h0.01M506.0,158.5h0.01M490.5,159.6h0.01M497.3,157.8h0.01M494.1,153.5h0.01M489.5,156.5h0.01M490.7,149.6h0.01M505.8,154.1h0.01M493.1,159.1h0.01M481.6,161.4h0.01M492.8,159.4h0.01M494.7,158.4h0.01M498.7,157.5h0.01M485.5,153.2h0.01M497.7,161.6h0.01" stroke="#000" stroke-width="0.6" stroke-linecap="round" opacity="0.4" fill="none"/>
<path d="M479.7,154.7h0.01M485.3,154.2h0.01M491.7,136.9h0.01M486.1,148.4h0.01M481.6,142.5h0.01M477.9,141.0h0.01M475.4,172.0h0.01M497.2,150.1h0.01M489.8,141.4h0.01M462.3,134.0h0.01M485.1,162.6h0.01M483.7,141.2h0.01M482.1,141.3h0.01M473.1,148.0h0.01M480.9,142.9h0.01M477.1,141.8h0.01M485.8,162.2h0.01M482.4,169.6h0.01M471.4,152.4h0.01M475.0,148.6h0.01M484.8,154.9h0.01M492.8,145.1h0.01M474.3,148.3h0.01M486.3,143.9h0.01M491.0,164.8h0.01M472.9,153.2h0.01M491.9,133.1h0.01M485.6,148.0h0.01M472.9,161.5h0.01M485.7,145.8h0.01M487.5,155.6h0.01M490.0,155.1h0.01M487.2,139.7h0.01M480.7,151.1h0.01M462.4,168.7h0.01M481.0,140.7h0.01M469.8,152.2h0.01M484.3,144.9h0.01M480.8,142.2h0.01M478.2,149.1h0.01M479.0,156.0h0.01M482.9,151.2h0.01M487.2,161.1h0.01M488.7,152.0h0.01M482.7,142.9h0.01M481.3,156.0h0.01M485.8,146.6h0.01M473.6,136.6h0.01M486.5,159.0h0.01M486.9,138.0h0.01M482.3,151.9h0.01M476.8,153.0h0.01M482.4,142.7h0.01M474.3,157.1h0.01M486.8,142.2h0.01M476.1,157.8h0.01M488.6,147.3h0.01M496.4,147.5h0.01M475.8,159.6h0.01M482.5,153.0h0.01M484.3,141.2h0.01M474.7,148.3h0.01M495.0,141.2h0.01M494.6,151.9h0.01M475.3,152.3h0.01M488.4,142.1h0.01M467.4,153.1h0.01M475.4,153.9h0.01M469.1,148.8h0.01M477.7,137.0h0.01" stroke="#000" stroke-width="0.6" stroke-linecap="round" opacity="0.3" fill="none"/>
<path d="M469.1,162.5h0.01M467.8,158.6h0.01M470.8,156.9h0.01M472.1,163.4h0.01M476.5,164.6h0.01M471.4,162.8h0.01M470.1,158.1h0.01M475.7,163.5h0.01M468.9,158.7h0.01M475.8,163.6h0.01M465.4,164.0h0.01M477.4,161.9h0.01M471.6,160.8h0.01M467.6,165.1h0.01M482.0,162.3h0.01M469.5,164.3h0.01M468.8,164.1h0.01M473.2,159.0h0.01M465.8,161.8h0.01M473.2,162.8h0.01M474.8,158.0h0.01M471.9,160.2h0.01M470.4,162.9h0.01M466.2,161.3h0.01M465.5,162.8h0.01M466.7,160.6h0.01M470.8,160.1h0.01M474.5,160.1h0.01M473.3,162.8h0.01M466.0,161.4h0.01M466.8,160.9h0.01M468.9,167.3h0.01M468.4,166.6h0.01M471.7,158.2h0.01M461.0,164.0h0.01M462.3,164.1h0.01M474.0,163.1h0.01M469.2,161.3h0.01M471.0,161.1h0.01M467.9,160.9h0.01M474.5,160.2h0.01M471.5,158.7h0.01M467.2,158.0h0.01M469.2,164.0h0.01M471.2,160.6h0.01M472.4,161.0h0.01M471.4,162.8h0.01M472.1,154.8h0.01M465.0,164.2h0.01M469.6,168.5h0.01M469.1,160.4h0.01M475.8,163.6h0.01M477.3,163.5h0.01M469.2,164.1h0.01M467.0,160.7h0.01M467.9,161.4h0.01M473.0,160.6h0.01M471.2,160.6h0.01M473.4,154.0h0.01M469.2,162.5h0.01M465.8,164.9h0.01M470.8,165.7h0.01M473.7,163.9h0.01M469.4,158.8h0.01M469.1,160.7h0.01M471.0,160.7h0.01M481.8,157.4h0.01M474.5,160.6h0.01M469.1,164.7h0.01M470.0,158.5h0.01M471.6,161.4h0.01M462.0,162.6h0.01M465.9,159.8h0.01M471.9,162.9h0.01M468.9,168.3h0.01M471.6,160.2h0.01M470.9,161.6h0.01M461.5,157.4h0.01M464.6,168.0h0.01M469.3,161.2h0.01" stroke="#000" stroke-width="0.6" stroke-linecap="round" opacity="0.5" fill="none"/>
<path d="M462.7,139.5L477,124.4L494,129.7L495.3,164L490.8,162.5Z" fill="none" stroke="#4a4a4a" stroke-width="0.55" />
<path d="M461.3,140.8L491,165.5L495.3,168L494,173.5L457.4,173.5L456.8,150Z" fill="none" stroke="#4a4a4a" stroke-width="0.55" />
<path d="M469.2,161.0C469.2,159.7 470.7,157.8 472.0,156.0C473.3,154.2 475.3,152.2 477.0,150.5C478.7,148.8 480.4,147.2 482.0,146.0C483.6,144.8 485.2,143.4 486.5,143.2C487.8,142.9 488.8,143.4 489.5,144.5C490.2,145.6 490.6,148.1 490.8,150.0C491.1,151.9 491.2,154.1 491.0,156.0C490.8,157.9 490.5,160.1 489.5,161.5C488.5,162.9 486.9,163.9 485.0,164.5C483.1,165.1 480.2,165.1 478.0,165.0C475.8,164.9 473.5,164.7 472.0,164.0C470.5,163.3 469.2,162.3 469.2,161.0Z" fill="#000" stroke="#000" stroke-width="1.3" fill-opacity="0.08"/>
<path d="M471.4,160.3C471.4,159.2 472.7,157.7 473.7,156.2C474.8,154.8 476.5,153.1 477.8,151.7C479.2,150.4 480.6,149.0 481.9,148.0C483.2,147.0 484.6,145.9 485.6,145.7C486.6,145.5 487.5,145.9 488.1,146.8C488.7,147.7 488.9,149.7 489.1,151.3C489.3,152.9 489.5,154.7 489.3,156.2C489.1,157.8 488.9,159.6 488.1,160.7C487.3,161.9 486.0,162.7 484.4,163.2C482.8,163.7 480.4,163.7 478.6,163.6C476.9,163.5 474.9,163.3 473.7,162.8C472.5,162.2 471.4,161.4 471.4,160.3Z" fill="none" stroke="#111" stroke-width="0.6" />
<path d="M473.4,159.7C473.4,158.9 474.4,157.6 475.3,156.4C476.1,155.3 477.5,153.9 478.6,152.8C479.7,151.7 480.8,150.6 481.9,149.8C482.9,149.0 484.0,148.2 484.8,148.0C485.7,147.8 486.3,148.1 486.8,148.9C487.3,149.6 487.5,151.2 487.7,152.5C487.8,153.7 487.9,155.2 487.8,156.4C487.7,157.7 487.5,159.1 486.8,160.1C486.2,161.0 485.1,161.7 483.8,162.1C482.6,162.4 480.7,162.4 479.2,162.4C477.8,162.3 476.2,162.2 475.3,161.7C474.3,161.3 473.4,160.6 473.4,159.7Z" fill="none" stroke="#111" stroke-width="0.5" />
<path d="M486.2,155.9C486.4,156.3 486.4,156.8 486.3,157.3C486.3,157.8 486.0,158.3 485.6,158.9C485.3,159.4 484.7,159.9 484.2,160.3C483.6,160.7 482.9,161.1 482.2,161.3C481.6,161.6 480.8,161.7 480.2,161.7C479.6,161.8 478.9,161.7 478.5,161.5C478.0,161.2 477.6,160.9 477.4,160.5C477.2,160.1 477.2,159.6 477.3,159.1C477.3,158.6 477.6,158.1 478.0,157.5C478.3,157.0 478.9,156.5 479.4,156.1C480.0,155.7 480.7,155.3 481.4,155.1C482.0,154.8 482.8,154.7 483.4,154.7C484.0,154.6 484.7,154.7 485.1,154.9C485.6,155.2 486.0,155.5 486.2,155.9Z" fill="url(#gmid)" opacity="1.0" stroke="none"/>
<path d="M486.4,155.8C486.6,156.2 486.7,156.7 486.6,157.2C486.5,157.7 486.2,158.4 485.8,158.9C485.5,159.4 484.9,160.0 484.3,160.4C483.7,160.8 482.9,161.2 482.2,161.5C481.5,161.8 480.8,161.9 480.1,161.9C479.5,162.0 478.8,161.8 478.3,161.6C477.8,161.4 477.4,161.0 477.2,160.6C477.0,160.2 476.9,159.7 477.0,159.2C477.1,158.7 477.4,158.0 477.8,157.5C478.1,157.0 478.7,156.4 479.3,156.0C479.9,155.6 480.7,155.2 481.4,154.9C482.1,154.6 482.8,154.5 483.5,154.5C484.1,154.4 484.8,154.6 485.3,154.8C485.8,155.0 486.2,155.4 486.4,155.8Z" fill="none" stroke="#111" stroke-width="0.5" opacity="0.55"/>
<path d="M485.3,156.3C485.5,156.6 485.5,157.1 485.5,157.5C485.4,157.9 485.2,158.3 484.9,158.7C484.6,159.1 484.2,159.6 483.7,159.9C483.2,160.2 482.7,160.5 482.1,160.7C481.6,160.9 481.0,161.0 480.5,161.1C480.0,161.1 479.5,161.0 479.1,160.8C478.8,160.7 478.4,160.4 478.3,160.1C478.1,159.8 478.1,159.3 478.1,158.9C478.2,158.5 478.4,158.1 478.7,157.7C479.0,157.3 479.4,156.8 479.9,156.5C480.4,156.2 480.9,155.9 481.5,155.7C482.0,155.5 482.6,155.4 483.1,155.3C483.6,155.3 484.1,155.4 484.5,155.6C484.8,155.7 485.2,156.0 485.3,156.3Z" fill="none" stroke="#111" stroke-width="0.5" opacity="0.70"/>
<path d="M484.2,156.9C484.4,157.1 484.4,157.4 484.4,157.7C484.3,158.0 484.2,158.3 484.0,158.6C483.7,158.8 483.4,159.1 483.1,159.4C482.8,159.6 482.4,159.8 482.0,160.0C481.7,160.1 481.2,160.2 480.9,160.2C480.6,160.2 480.2,160.1 479.9,160.0C479.7,159.9 479.5,159.7 479.4,159.5C479.2,159.3 479.2,159.0 479.2,158.7C479.3,158.4 479.4,158.1 479.6,157.8C479.9,157.6 480.2,157.3 480.5,157.0C480.8,156.8 481.2,156.6 481.6,156.4C481.9,156.3 482.4,156.2 482.7,156.2C483.0,156.2 483.4,156.3 483.7,156.4C483.9,156.5 484.1,156.7 484.2,156.9Z" fill="none" stroke="#111" stroke-width="0.5" opacity="0.85"/>
<path d="M483.2,157.5C483.2,157.6 483.3,157.8 483.2,157.9C483.2,158.1 483.1,158.2 483.0,158.4C482.9,158.6 482.7,158.7 482.5,158.9C482.4,159.0 482.1,159.1 481.9,159.2C481.7,159.3 481.5,159.3 481.3,159.3C481.1,159.3 480.9,159.3 480.8,159.2C480.6,159.2 480.5,159.1 480.4,158.9C480.4,158.8 480.3,158.6 480.4,158.5C480.4,158.3 480.5,158.2 480.6,158.0C480.7,157.8 480.9,157.7 481.1,157.5C481.2,157.4 481.5,157.3 481.7,157.2C481.9,157.1 482.1,157.1 482.3,157.1C482.5,157.1 482.7,157.1 482.8,157.2C483.0,157.2 483.1,157.3 483.2,157.5Z" fill="none" stroke="#111" stroke-width="0.5" opacity="1.00"/>
<ellipse cx="482" cy="158.2" rx="1.5" ry="0.7" fill="#fff" opacity="0.95" transform="rotate(-28 482 158.2)"/>
<text x="478.50" y="139.20" font-size="8.3" text-anchor="middle" fill="#222" textLength="16.65" lengthAdjust="spacingAndGlyphs">26.4</text>
<text x="474.80" y="174.60" font-size="8.3" text-anchor="middle" fill="#222" textLength="16.65" lengthAdjust="spacingAndGlyphs">58.8</text>
<text x="365.20" y="151.25" font-size="10.8" fill="#2a2a2a" transform="rotate(-90 365.20 151.25)" textLength="12.50" lengthAdjust="spacingAndGlyphs">FSC</text>
<text x="376.00" y="188.00" font-size="10.8" fill="#2a2a2a" textLength="19.00" lengthAdjust="spacingAndGlyphs">CD27</text>
<line x1="397.50" y1="185.00" x2="508.60" y2="185.00" stroke="#222" stroke-width="1" />
<path d="M510.60,185.00l-3.4,-1.5v3z" fill="#222" stroke="none" stroke-width="1" />
<rect x="368.40" y="192.00" width="63.20" height="61.60" fill="#fff" stroke="#7a7a7a" stroke-width="0.7" />
<line x1="373.46" y1="253.60" x2="373.46" y2="254.70" stroke="#555" stroke-width="0.5" />
<line x1="367.30" y1="248.67" x2="368.40" y2="248.67" stroke="#555" stroke-width="0.5" />
<line x1="376.62" y1="253.60" x2="376.62" y2="254.70" stroke="#555" stroke-width="0.5" />
<line x1="367.30" y1="245.59" x2="368.40" y2="245.59" stroke="#555" stroke-width="0.5" />
<line x1="387.36" y1="253.60" x2="387.36" y2="254.70" stroke="#555" stroke-width="0.5" />
<line x1="367.30" y1="235.12" x2="368.40" y2="235.12" stroke="#555" stroke-width="0.5" />
<line x1="398.10" y1="253.60" x2="398.10" y2="254.70" stroke="#555" stroke-width="0.5" />
<line x1="367.30" y1="224.65" x2="368.40" y2="224.65" stroke="#555" stroke-width="0.5" />
<line x1="408.85" y1="253.60" x2="408.85" y2="254.70" stroke="#555" stroke-width="0.5" />
<line x1="367.30" y1="214.18" x2="368.40" y2="214.18" stroke="#555" stroke-width="0.5" />
<line x1="419.59" y1="253.60" x2="419.59" y2="254.70" stroke="#555" stroke-width="0.5" />
<line x1="367.30" y1="203.70" x2="368.40" y2="203.70" stroke="#555" stroke-width="0.5" />
<line x1="428.44" y1="253.60" x2="428.44" y2="254.70" stroke="#555" stroke-width="0.5" />
<line x1="367.30" y1="195.08" x2="368.40" y2="195.08" stroke="#555" stroke-width="0.5" />
<line x1="372.19" y1="254.50" x2="375.98" y2="254.50" stroke="#222" stroke-width="0.8" />
<line x1="407.50" y1="192.00" x2="407.50" y2="253.60" stroke="#7a7a7a" stroke-width="0.6" />
<path d="M391.5,236.4h0.01M398.3,238.1h0.01M407.1,238.0h0.01M396.6,234.9h0.01M393.0,233.6h0.01M378.0,232.6h0.01M387.0,232.4h0.01M412.1,234.6h0.01M412.2,236.1h0.01M408.6,236.4h0.01M391.0,235.9h0.01M394.3,232.7h0.01M411.8,239.2h0.01M386.7,238.2h0.01M407.6,232.0h0.01M401.2,234.9h0.01M402.3,233.1h0.01M383.1,234.1h0.01M408.0,235.9h0.01M405.6,236.7h0.01M386.5,233.9h0.01M401.9,236.4h0.01M399.8,235.2h0.01M399.5,239.1h0.01M372.8,233.9h0.01M426.6,234.6h0.01M376.8,234.3h0.01M381.4,232.4h0.01M400.6,238.1h0.01M403.3,235.6h0.01M409.8,234.5h0.01M388.1,233.8h0.01M401.9,233.3h0.01M390.3,233.1h0.01M380.6,231.5h0.01M397.0,233.1h0.01M398.4,237.4h0.01M401.5,233.9h0.01M384.4,231.4h0.01M402.3,231.9h0.01M403.0,231.4h0.01M399.6,233.8h0.01M409.5,233.1h0.01M393.7,234.6h0.01M398.6,238.1h0.01M395.0,232.7h0.01M394.3,235.1h0.01M400.7,235.7h0.01M382.0,240.0h0.01M419.2,233.9h0.01M384.0,234.4h0.01M402.8,228.6h0.01M398.2,230.4h0.01M403.3,237.3h0.01M409.9,230.4h0.01M414.0,236.2h0.01M393.8,235.2h0.01M415.5,233.2h0.01M397.8,232.7h0.01M411.4,228.8h0.01M414.4,231.7h0.01M408.7,230.1h0.01M387.2,232.6h0.01M407.6,230.1h0.01M405.0,232.5h0.01M412.3,233.3h0.01M403.6,233.6h0.01M418.7,233.1h0.01M397.7,238.8h0.01M398.9,235.7h0.01M389.5,234.5h0.01M371.8,234.3h0.01M390.5,230.4h0.01M381.6,236.7h0.01M402.9,230.4h0.01M418.9,232.3h0.01M393.7,234.6h0.01M384.9,230.1h0.01M389.4,236.8h0.01M409.0,230.2h0.01M411.9,234.1h0.01M403.8,234.1h0.01M402.8,231.6h0.01M387.5,232.3h0.01M393.7,235.5h0.01M384.0,237.8h0.01M390.7,232.6h0.01M406.1,235.0h0.01M394.1,231.4h0.01M386.5,230.2h0.01M411.2,236.6h0.01M419.6,235.2h0.01M401.8,235.8h0.01M409.0,233.4h0.01M402.1,239.2h0.01M378.4,230.6h0.01M386.9,235.8h0.01M411.7,233.2h0.01M405.8,233.9h0.01M401.5,232.7h0.01M397.7,234.0h0.01M411.1,239.4h0.01M377.0,235.3h0.01M397.9,236.3h0.01M410.3,235.9h0.01M407.3,231.7h0.01M378.3,238.0h0.01M412.0,231.7h0.01M412.9,235.6h0.01M369.6,236.2h0.01M386.6,236.8h0.01M390.1,232.2h0.01M380.1,233.5h0.01M409.8,232.4h0.01M376.5,239.2h0.01M419.3,235.7h0.01M391.8,231.1h0.01M379.1,235.3h0.01M413.0,231.4h0.01M398.0,233.3h0.01M395.0,235.2h0.01M422.2,232.5h0.01M407.8,236.6h0.01M394.7,233.6h0.01M382.5,236.6h0.01M391.9,232.4h0.01M398.8,231.9h0.01M385.9,233.3h0.01M415.2,233.5h0.01M404.1,230.5h0.01M375.5,238.4h0.01M393.4,230.3h0.01M396.8,235.5h0.01M378.0,231.9h0.01M401.0,231.8h0.01M407.2,236.3h0.01M403.1,233.0h0.01M397.5,232.5h0.01M396.5,234.8h0.01M394.5,236.3h0.01" stroke="#000" stroke-width="0.6" stroke-linecap="round" opacity="0.35" fill="none"/>
<path d="M421.9,231.9C421.7,233.3 419.8,235.1 418.3,236.3C416.8,237.5 414.7,238.4 412.9,239.3C411.2,240.2 409.6,241.0 407.6,241.7C405.6,242.3 403.2,243.1 400.9,243.2C398.7,243.3 396.0,242.9 394.1,242.3C392.2,241.6 390.7,240.5 389.5,239.4C388.3,238.2 387.3,236.9 386.9,235.5C386.6,234.2 386.5,232.4 387.4,231.1C388.3,229.7 390.4,228.2 392.5,227.4C394.5,226.6 397.3,226.3 399.5,226.1C401.7,225.8 403.5,226.0 405.7,225.9C407.8,225.9 410.1,225.5 412.4,225.8C414.7,226.0 417.9,226.5 419.4,227.5C421.0,228.5 422.0,230.4 421.9,231.9Z" fill="none" stroke="#444" stroke-width="0.4" opacity="0.55"/>
<path d="M418.5,232.3C418.4,233.5 417.0,235.0 415.8,236.1C414.5,237.2 412.8,237.9 411.3,238.7C409.8,239.5 408.3,240.3 406.6,240.8C404.8,241.4 402.7,242.0 400.8,242.0C398.8,242.1 396.6,241.8 394.9,241.2C393.3,240.6 391.9,239.7 390.9,238.7C389.9,237.8 389.1,236.6 388.8,235.4C388.5,234.2 388.5,232.8 389.3,231.6C390.1,230.4 391.8,229.2 393.5,228.4C395.2,227.7 397.6,227.4 399.5,227.1C401.4,226.9 403.1,227.0 404.9,226.9C406.8,226.9 408.8,226.7 410.7,227.0C412.6,227.2 415.2,227.7 416.5,228.6C417.8,229.5 418.6,231.0 418.5,232.3Z" fill="none" stroke="#444" stroke-width="0.4" opacity="0.66"/>
<path d="M415.3,232.7C415.2,233.7 414.2,235.0 413.2,235.9C412.3,236.8 410.9,237.5 409.6,238.2C408.3,238.8 407.1,239.5 405.6,239.9C404.1,240.4 402.3,240.8 400.6,240.9C399.0,240.9 397.1,240.6 395.8,240.1C394.4,239.7 393.2,238.9 392.4,238.1C391.5,237.3 390.8,236.3 390.6,235.3C390.4,234.3 390.5,233.1 391.1,232.1C391.8,231.1 393.2,230.1 394.6,229.5C396.0,228.8 397.9,228.5 399.5,228.3C401.1,228.0 402.6,228.0 404.2,228.0C405.8,228.0 407.4,227.9 409.0,228.2C410.6,228.4 412.6,228.9 413.6,229.6C414.7,230.4 415.3,231.7 415.3,232.7Z" fill="none" stroke="#444" stroke-width="0.4" opacity="0.78"/>
<path d="M412.1,233.1C412.1,233.9 411.4,234.9 410.7,235.6C410.0,236.4 408.9,237.0 407.9,237.6C406.8,238.1 405.7,238.7 404.5,239.0C403.3,239.4 401.8,239.7 400.5,239.7C399.1,239.7 397.7,239.5 396.6,239.1C395.4,238.7 394.5,238.1 393.8,237.4C393.1,236.8 392.6,236.0 392.4,235.2C392.3,234.4 392.4,233.4 392.9,232.6C393.4,231.8 394.5,231.0 395.6,230.5C396.7,229.9 398.2,229.6 399.5,229.4C400.8,229.2 402.1,229.1 403.4,229.1C404.7,229.1 406.1,229.1 407.3,229.4C408.5,229.6 410.0,230.1 410.8,230.7C411.6,231.3 412.2,232.3 412.1,233.1Z" fill="none" stroke="#444" stroke-width="0.4" opacity="0.89"/>
<path d="M409.1,233.5C409.1,234.1 408.6,234.9 408.1,235.4C407.6,236.0 406.9,236.5 406.1,237.0C405.3,237.4 404.4,237.8 403.4,238.1C402.5,238.3 401.4,238.5 400.3,238.5C399.3,238.5 398.2,238.3 397.3,238.1C396.5,237.8 395.7,237.3 395.2,236.8C394.7,236.3 394.3,235.7 394.2,235.1C394.1,234.5 394.2,233.7 394.6,233.1C395.0,232.5 395.8,231.9 396.6,231.5C397.5,231.1 398.6,230.8 399.6,230.6C400.6,230.4 401.6,230.3 402.6,230.3C403.6,230.4 404.7,230.4 405.6,230.6C406.5,230.8 407.5,231.2 408.1,231.7C408.7,232.2 409.1,232.9 409.1,233.5Z" fill="none" stroke="#444" stroke-width="0.4" opacity="1.00"/>
<path d="M407.3,234.6C407.3,235.5 406.8,236.4 406.3,237.2C405.9,238.0 405.1,238.6 404.4,239.1C403.7,239.7 402.9,240.2 402.0,240.5C401.1,240.8 400.0,241.0 399.1,240.8C398.2,240.6 397.1,240.1 396.5,239.5C395.8,238.9 395.3,238.0 395.0,237.2C394.6,236.3 394.5,235.5 394.4,234.6C394.4,233.7 394.4,232.8 394.7,231.9C395.0,231.1 395.6,230.2 396.4,229.6C397.1,229.1 398.2,228.7 399.2,228.6C400.1,228.5 401.1,228.7 402.0,228.9C402.9,229.2 403.7,229.5 404.5,230.0C405.3,230.5 406.1,231.1 406.6,231.9C407.1,232.6 407.4,233.7 407.3,234.6Z" fill="url(#gdark)" opacity="1.0" stroke="none"/>
<path d="M407.7,234.6C407.7,235.5 407.2,236.5 406.6,237.3C406.1,238.1 405.4,238.8 404.6,239.4C403.9,239.9 403.0,240.5 402.1,240.8C401.2,241.1 400.0,241.3 399.0,241.1C398.0,241.0 397.0,240.4 396.2,239.7C395.5,239.1 395.0,238.1 394.7,237.3C394.3,236.4 394.1,235.5 394.1,234.6C394.1,233.7 394.0,232.7 394.4,231.8C394.7,230.9 395.4,229.9 396.1,229.3C396.9,228.8 398.1,228.4 399.1,228.3C400.1,228.2 401.1,228.4 402.0,228.6C403.0,228.9 403.9,229.2 404.7,229.7C405.5,230.3 406.4,230.9 406.9,231.7C407.4,232.5 407.7,233.7 407.7,234.6Z" fill="none" stroke="#1a1a1a" stroke-width="0.4" opacity="0.55"/>
<path d="M406.6,234.6C406.6,235.4 406.2,236.3 405.7,236.9C405.3,237.6 404.7,238.2 404.0,238.7C403.4,239.2 402.7,239.6 401.9,239.9C401.1,240.1 400.1,240.3 399.3,240.1C398.4,240.0 397.5,239.5 396.9,239.0C396.3,238.4 395.9,237.6 395.5,236.9C395.2,236.2 395.1,235.4 395.0,234.6C395.0,233.8 395.0,233.0 395.3,232.2C395.6,231.5 396.2,230.6 396.8,230.2C397.5,229.7 398.5,229.4 399.3,229.3C400.1,229.1 401.0,229.3 401.8,229.5C402.6,229.7 403.4,230.0 404.1,230.5C404.8,230.9 405.5,231.5 406.0,232.2C406.4,232.9 406.6,233.8 406.6,234.6Z" fill="none" stroke="#1a1a1a" stroke-width="0.4" opacity="0.62"/>
<path d="M405.5,234.6C405.5,235.3 405.2,236.0 404.8,236.5C404.5,237.1 404.0,237.6 403.4,238.0C402.9,238.4 402.3,238.7 401.7,238.9C401.0,239.1 400.2,239.3 399.5,239.1C398.8,239.0 398.1,238.6 397.6,238.2C397.1,237.7 396.7,237.1 396.4,236.5C396.2,235.9 396.0,235.2 396.0,234.6C396.0,234.0 396.0,233.2 396.3,232.6C396.5,232.0 397.0,231.4 397.5,231.0C398.1,230.6 398.8,230.3 399.5,230.2C400.2,230.1 401.0,230.2 401.6,230.4C402.3,230.6 402.9,230.8 403.5,231.2C404.1,231.5 404.7,232.0 405.0,232.6C405.3,233.2 405.6,233.9 405.5,234.6Z" fill="none" stroke="#1a1a1a" stroke-width="0.4" opacity="0.70"/>
<path d="M404.5,234.6C404.4,235.1 404.2,235.7 403.9,236.1C403.7,236.6 403.3,236.9 402.9,237.3C402.4,237.6 401.9,237.9 401.4,238.0C400.9,238.2 400.3,238.2 399.7,238.1C399.2,238.0 398.6,237.7 398.2,237.4C397.8,237.1 397.5,236.6 397.3,236.1C397.1,235.6 397.0,235.1 397.0,234.6C397.0,234.1 397.0,233.5 397.2,233.1C397.4,232.6 397.8,232.1 398.2,231.8C398.6,231.4 399.2,231.2 399.8,231.1C400.3,231.1 400.9,231.2 401.4,231.3C401.9,231.4 402.4,231.6 402.9,231.9C403.3,232.2 403.8,232.6 404.0,233.0C404.3,233.5 404.5,234.1 404.5,234.6Z" fill="none" stroke="#1a1a1a" stroke-width="0.4" opacity="0.78"/>
<path d="M403.4,234.6C403.4,235.0 403.2,235.4 403.0,235.7C402.8,236.0 402.5,236.3 402.2,236.5C401.9,236.8 401.6,237.0 401.2,237.1C400.8,237.2 400.4,237.2 400.0,237.2C399.6,237.1 399.2,236.9 398.9,236.6C398.6,236.4 398.4,236.0 398.2,235.7C398.0,235.3 398.0,235.0 398.0,234.6C397.9,234.2 398.0,233.8 398.1,233.5C398.3,233.1 398.5,232.8 398.9,232.5C399.2,232.3 399.6,232.2 400.0,232.1C400.4,232.0 400.8,232.1 401.2,232.2C401.6,232.3 401.9,232.4 402.3,232.6C402.6,232.8 402.9,233.1 403.1,233.5C403.3,233.8 403.4,234.2 403.4,234.6Z" fill="none" stroke="#1a1a1a" stroke-width="0.4" opacity="0.85"/>
<path d="M402.3,234.6C402.3,234.8 402.2,235.1 402.1,235.3C402.0,235.5 401.8,235.7 401.6,235.8C401.4,236.0 401.2,236.1 401.0,236.2C400.7,236.2 400.5,236.2 400.2,236.2C400.0,236.1 399.7,236.0 399.5,235.9C399.3,235.7 399.2,235.5 399.1,235.3C399.0,235.1 398.9,234.8 398.9,234.6C398.9,234.4 399.0,234.1 399.1,233.9C399.2,233.7 399.3,233.5 399.5,233.3C399.7,233.2 400.0,233.1 400.2,233.0C400.5,233.0 400.7,233.0 401.0,233.1C401.2,233.1 401.4,233.2 401.6,233.4C401.8,233.5 402.0,233.7 402.2,233.9C402.3,234.1 402.3,234.4 402.3,234.6Z" fill="none" stroke="#1a1a1a" stroke-width="0.4" opacity="0.93"/>
<path d="M401.3,234.6C401.3,234.7 401.3,234.8 401.2,234.9C401.2,235.0 401.1,235.0 401.0,235.1C400.9,235.1 400.8,235.2 400.8,235.2C400.7,235.2 400.5,235.3 400.4,235.2C400.3,235.2 400.2,235.2 400.2,235.1C400.1,235.0 400.0,235.0 400.0,234.9C400.0,234.8 399.9,234.7 399.9,234.6C399.9,234.5 399.9,234.4 400.0,234.3C400.0,234.2 400.1,234.1 400.2,234.1C400.2,234.0 400.4,234.0 400.4,234.0C400.5,234.0 400.7,234.0 400.7,234.0C400.8,234.0 400.9,234.1 401.0,234.1C401.1,234.2 401.2,234.2 401.2,234.3C401.3,234.4 401.3,234.5 401.3,234.6Z" fill="none" stroke="#1a1a1a" stroke-width="0.4" opacity="1.00"/>
<ellipse cx="401" cy="234.6" rx="2.6" ry="2.5" fill="#000" opacity="0.85" filter="url(#b05)"/>
<circle cx="401.2" cy="234.8" r="0.7" fill="#fff"/>
<text x="389.30" y="200.30" font-size="8.3" text-anchor="middle" fill="#222" textLength="16.65" lengthAdjust="spacingAndGlyphs">88.3</text>
<text x="418.50" y="200.30" font-size="8.3" text-anchor="middle" fill="#222" textLength="16.65" lengthAdjust="spacingAndGlyphs">11.4</text>
<rect x="448.00" y="191.50" width="62.50" height="61.90" fill="#fff" stroke="#7a7a7a" stroke-width="0.7" />
<line x1="453.00" y1="253.40" x2="453.00" y2="254.50" stroke="#555" stroke-width="0.5" />
<line x1="446.90" y1="248.45" x2="448.00" y2="248.45" stroke="#555" stroke-width="0.5" />
<line x1="456.12" y1="253.40" x2="456.12" y2="254.50" stroke="#555" stroke-width="0.5" />
<line x1="446.90" y1="245.35" x2="448.00" y2="245.35" stroke="#555" stroke-width="0.5" />
<line x1="466.75" y1="253.40" x2="466.75" y2="254.50" stroke="#555" stroke-width="0.5" />
<line x1="446.90" y1="234.83" x2="448.00" y2="234.83" stroke="#555" stroke-width="0.5" />
<line x1="477.38" y1="253.40" x2="477.38" y2="254.50" stroke="#555" stroke-width="0.5" />
<line x1="446.90" y1="224.31" x2="448.00" y2="224.31" stroke="#555" stroke-width="0.5" />
<line x1="488.00" y1="253.40" x2="488.00" y2="254.50" stroke="#555" stroke-width="0.5" />
<line x1="446.90" y1="213.78" x2="448.00" y2="213.78" stroke="#555" stroke-width="0.5" />
<line x1="498.62" y1="253.40" x2="498.62" y2="254.50" stroke="#555" stroke-width="0.5" />
<line x1="446.90" y1="203.26" x2="448.00" y2="203.26" stroke="#555" stroke-width="0.5" />
<line x1="507.38" y1="253.40" x2="507.38" y2="254.50" stroke="#555" stroke-width="0.5" />
<line x1="446.90" y1="194.59" x2="448.00" y2="194.59" stroke="#555" stroke-width="0.5" />
<line x1="451.75" y1="254.30" x2="455.50" y2="254.30" stroke="#222" stroke-width="0.8" />
<line x1="486.50" y1="191.50" x2="486.50" y2="253.40" stroke="#7a7a7a" stroke-width="0.6" />
<path d="M504.0,229.1h0.01M486.6,236.4h0.01M489.0,230.7h0.01M480.3,237.3h0.01M488.8,234.7h0.01M477.8,235.4h0.01M490.1,231.0h0.01M489.0,243.5h0.01M469.5,235.2h0.01M475.0,224.8h0.01M482.2,234.9h0.01M484.4,225.8h0.01M472.9,229.0h0.01M484.1,227.6h0.01M472.4,241.3h0.01M477.5,231.2h0.01M479.8,228.9h0.01M484.3,230.4h0.01M488.8,225.7h0.01M472.5,242.4h0.01M483.4,236.1h0.01M493.1,234.9h0.01M484.3,223.7h0.01M471.6,237.2h0.01M489.2,235.0h0.01M471.2,220.6h0.01M475.8,225.7h0.01M485.2,226.6h0.01M496.3,228.7h0.01M479.6,236.6h0.01M486.5,227.2h0.01M490.4,242.2h0.01M474.5,230.7h0.01M475.6,221.6h0.01M488.9,235.7h0.01M491.6,234.3h0.01M468.4,231.9h0.01M478.8,225.7h0.01M475.4,236.1h0.01M481.7,242.5h0.01M487.7,221.8h0.01M490.9,238.7h0.01M484.2,225.5h0.01M497.7,225.0h0.01M483.3,221.8h0.01M474.2,222.9h0.01M492.5,238.3h0.01M480.8,224.7h0.01M483.5,234.0h0.01M472.1,225.8h0.01M483.2,235.8h0.01M484.6,234.4h0.01M474.3,218.7h0.01M486.4,227.1h0.01M483.0,230.0h0.01M487.7,227.9h0.01M495.3,232.2h0.01M488.1,235.4h0.01M492.1,234.2h0.01M470.3,228.6h0.01M498.5,234.5h0.01M488.4,234.5h0.01M479.0,228.4h0.01M478.9,238.2h0.01M486.8,241.6h0.01M487.9,242.2h0.01M487.6,225.6h0.01M497.6,233.8h0.01M493.3,233.2h0.01M481.4,232.9h0.01M475.2,225.6h0.01M477.0,229.2h0.01M473.4,231.4h0.01M486.4,242.9h0.01M498.4,231.7h0.01M490.9,230.8h0.01M487.1,231.8h0.01M479.8,232.4h0.01M472.4,234.4h0.01M481.7,226.1h0.01M481.2,235.0h0.01M478.7,234.6h0.01M488.5,240.4h0.01M475.4,231.4h0.01M488.0,240.1h0.01M486.1,236.1h0.01M472.4,228.8h0.01M497.1,230.5h0.01M501.0,228.1h0.01M481.8,223.4h0.01M489.0,233.4h0.01M499.9,232.9h0.01M482.0,224.4h0.01M483.4,237.1h0.01M489.8,238.7h0.01M490.8,231.7h0.01M488.8,232.9h0.01M473.5,241.3h0.01M487.0,226.3h0.01M487.0,233.6h0.01M491.9,239.8h0.01M460.0,235.0h0.01M496.1,226.8h0.01M469.3,233.5h0.01M486.7,233.9h0.01M475.2,229.5h0.01M485.5,236.1h0.01M501.4,233.6h0.01M479.2,219.2h0.01M492.5,231.3h0.01M483.1,226.6h0.01M489.8,222.2h0.01M484.9,232.7h0.01M486.4,239.1h0.01M483.2,232.5h0.01M490.8,223.5h0.01M481.7,232.4h0.01M491.6,227.6h0.01M490.4,234.1h0.01M472.2,223.9h0.01M472.6,232.8h0.01M485.6,236.0h0.01M490.5,229.0h0.01M492.5,236.5h0.01M487.7,234.6h0.01M473.8,234.0h0.01M475.8,225.5h0.01M481.2,232.8h0.01M483.6,230.2h0.01M476.0,233.0h0.01M478.1,224.3h0.01M484.7,239.9h0.01M480.8,226.2h0.01M495.0,241.4h0.01M481.7,230.8h0.01M485.7,248.1h0.01M485.1,237.4h0.01M487.5,222.0h0.01M475.2,225.3h0.01M487.4,232.6h0.01M498.3,230.5h0.01M486.5,232.4h0.01M485.1,244.7h0.01M486.3,240.1h0.01M494.3,228.7h0.01M489.5,229.9h0.01M484.9,232.9h0.01M484.2,229.4h0.01M496.4,230.5h0.01M489.6,241.2h0.01M489.0,237.6h0.01M495.1,238.0h0.01M497.7,224.2h0.01M499.6,232.2h0.01M470.1,228.5h0.01M472.9,231.9h0.01M472.1,226.5h0.01M486.4,232.9h0.01M477.6,230.7h0.01M483.2,232.4h0.01M483.9,230.8h0.01M491.0,223.2h0.01M480.1,232.7h0.01M480.8,229.0h0.01M480.5,233.1h0.01M493.9,231.0h0.01M481.9,234.0h0.01M482.1,221.4h0.01M486.1,229.9h0.01M479.4,235.5h0.01M484.4,228.9h0.01M466.6,222.5h0.01M484.1,231.4h0.01M487.5,233.2h0.01M480.2,225.0h0.01M475.2,231.2h0.01M474.8,236.2h0.01M473.4,222.2h0.01M482.5,222.2h0.01M497.0,226.5h0.01M483.6,230.7h0.01M477.4,222.3h0.01M469.1,236.8h0.01M492.2,243.9h0.01M472.3,235.1h0.01M483.9,236.6h0.01M479.9,236.0h0.01M491.2,235.3h0.01M495.6,231.0h0.01M496.3,228.1h0.01M497.3,216.9h0.01M484.1,227.6h0.01M484.0,237.7h0.01M489.7,232.5h0.01M497.6,223.9h0.01M477.5,240.3h0.01M486.6,220.6h0.01M486.7,225.5h0.01M495.8,238.3h0.01M479.6,239.1h0.01M477.3,237.1h0.01M488.6,231.3h0.01M472.6,230.5h0.01M465.7,228.9h0.01M469.2,238.7h0.01M476.3,218.6h0.01M488.7,234.0h0.01M479.9,243.6h0.01M490.2,232.4h0.01M478.8,215.7h0.01M487.8,237.3h0.01M479.3,224.2h0.01M483.7,222.8h0.01M484.1,236.2h0.01M496.1,233.5h0.01M485.6,236.1h0.01M495.2,230.2h0.01M474.2,227.6h0.01M473.9,227.1h0.01M483.0,233.9h0.01M485.2,232.4h0.01M481.1,234.3h0.01M491.1,236.2h0.01M496.0,230.4h0.01M482.0,241.3h0.01M485.6,234.3h0.01M481.3,237.3h0.01M480.8,226.5h0.01M483.5,229.6h0.01M490.7,229.9h0.01M485.0,230.8h0.01M486.7,228.5h0.01M492.8,224.2h0.01M480.9,228.1h0.01M489.2,232.2h0.01M487.9,230.2h0.01M478.3,225.8h0.01M481.3,229.1h0.01M486.2,234.0h0.01M491.8,231.4h0.01M478.0,226.2h0.01M484.5,234.0h0.01M499.6,233.0h0.01M498.1,242.3h0.01M475.6,238.7h0.01M493.1,239.4h0.01M483.9,237.3h0.01M480.2,231.6h0.01M484.2,241.8h0.01M482.3,237.3h0.01M484.5,228.1h0.01M485.9,235.6h0.01M478.3,235.5h0.01M478.3,227.2h0.01M485.8,230.7h0.01M476.1,223.0h0.01M484.2,233.3h0.01M480.3,233.0h0.01M471.8,234.2h0.01M487.3,233.5h0.01M479.1,232.4h0.01M485.0,237.9h0.01M486.2,233.4h0.01M478.2,236.7h0.01M493.4,229.3h0.01M489.1,233.7h0.01M483.6,224.9h0.01M498.1,221.7h0.01M486.4,229.9h0.01M493.2,229.7h0.01M484.3,235.4h0.01M487.6,229.1h0.01M489.4,234.2h0.01M491.9,229.2h0.01M483.6,229.9h0.01M477.3,233.4h0.01M487.3,239.8h0.01M481.4,234.1h0.01M493.1,231.4h0.01M484.5,232.7h0.01M478.5,226.6h0.01M492.9,232.9h0.01M483.4,225.2h0.01M484.9,238.4h0.01M474.8,227.1h0.01M492.8,239.8h0.01M496.4,229.0h0.01M488.8,227.9h0.01M488.1,230.0h0.01M485.6,239.3h0.01M486.7,230.7h0.01M484.4,233.5h0.01M479.9,233.1h0.01M488.8,240.5h0.01M467.6,225.5h0.01M474.2,236.8h0.01M503.4,233.1h0.01M485.0,238.2h0.01M464.6,231.0h0.01M459.2,232.8h0.01M480.0,229.3h0.01M486.7,228.8h0.01M492.8,232.0h0.01M487.0,245.9h0.01M480.4,237.1h0.01M477.4,238.8h0.01M491.7,232.8h0.01M491.9,240.8h0.01M494.9,232.0h0.01M483.6,238.0h0.01M472.3,228.7h0.01M487.8,235.1h0.01M498.8,241.6h0.01M486.6,234.4h0.01M473.5,231.0h0.01M486.1,230.8h0.01M484.5,235.3h0.01M476.5,228.9h0.01M469.9,238.2h0.01M475.6,222.7h0.01M490.1,230.8h0.01M491.7,230.0h0.01M500.8,235.9h0.01M485.2,232.6h0.01M482.4,236.4h0.01M499.8,229.7h0.01M475.4,235.2h0.01M492.4,223.9h0.01M478.5,226.6h0.01M488.4,234.7h0.01M478.2,225.9h0.01M489.4,220.8h0.01M489.1,231.2h0.01M499.2,237.4h0.01M479.4,230.5h0.01M481.8,228.1h0.01M484.6,237.2h0.01M472.1,230.8h0.01M495.8,236.0h0.01M477.6,227.6h0.01M477.3,223.3h0.01M493.1,232.4h0.01M478.5,224.2h0.01M481.0,229.2h0.01M497.6,229.5h0.01M484.9,237.8h0.01M489.3,231.0h0.01M466.8,239.6h0.01M488.7,229.7h0.01M483.3,226.8h0.01M476.9,224.0h0.01M487.9,234.8h0.01M485.4,236.2h0.01M488.2,232.7h0.01M477.1,235.2h0.01M493.3,235.4h0.01M493.8,229.4h0.01M476.3,238.8h0.01M479.4,233.3h0.01M482.5,232.1h0.01M481.9,229.1h0.01M470.0,242.3h0.01M485.6,221.6h0.01M476.9,225.9h0.01M478.2,218.2h0.01M488.5,240.8h0.01M482.1,236.0h0.01M488.7,225.3h0.01M493.6,222.9h0.01M479.5,230.1h0.01M493.9,232.6h0.01M483.0,227.7h0.01M484.7,232.2h0.01M489.7,239.5h0.01M489.8,232.1h0.01M482.8,240.6h0.01M485.6,231.9h0.01M498.1,240.4h0.01M488.5,231.4h0.01M479.0,237.7h0.01M480.5,237.2h0.01M477.9,232.6h0.01M487.2,232.8h0.01M485.8,234.1h0.01M475.2,226.0h0.01M482.8,241.7h0.01M483.0,227.0h0.01M478.8,232.2h0.01M493.3,229.0h0.01M488.4,233.0h0.01M481.2,226.9h0.01M482.8,228.1h0.01M488.2,222.5h0.01M492.8,236.1h0.01M488.5,240.0h0.01M488.7,222.8h0.01M484.4,234.4h0.01M478.7,225.9h0.01M487.4,234.7h0.01M480.7,230.7h0.01M480.0,229.0h0.01M483.6,237.8h0.01M471.4,230.2h0.01M496.6,233.7h0.01M485.2,236.5h0.01M476.2,225.5h0.01M471.1,224.2h0.01M485.9,236.6h0.01M480.8,228.4h0.01M487.2,235.3h0.01M486.0,221.8h0.01M479.8,218.4h0.01M485.9,227.4h0.01M478.9,240.1h0.01M494.3,234.6h0.01M486.2,232.9h0.01M479.4,231.7h0.01M498.9,227.3h0.01M478.8,232.9h0.01M491.0,236.5h0.01" stroke="#000" stroke-width="0.6" stroke-linecap="round" opacity="0.5" fill="none"/>
<path d="M459.5,233.7h0.01M465.7,231.0h0.01M468.7,232.8h0.01M476.1,235.1h0.01M461.2,234.2h0.01M464.9,232.5h0.01M463.7,236.6h0.01M464.4,229.8h0.01M461.2,236.0h0.01M486.8,231.4h0.01M464.9,233.2h0.01M455.7,235.0h0.01M467.6,234.7h0.01M487.6,233.4h0.01M474.9,236.0h0.01M462.4,232.6h0.01M481.6,235.7h0.01M469.3,231.3h0.01M475.7,235.3h0.01M487.2,237.6h0.01M475.0,234.7h0.01M468.5,232.7h0.01M470.7,234.6h0.01M473.7,236.6h0.01M470.7,232.7h0.01M475.1,237.8h0.01M460.7,235.0h0.01M472.8,235.3h0.01M472.4,233.8h0.01M467.1,238.1h0.01M483.2,230.6h0.01M462.1,232.7h0.01M454.1,234.9h0.01M467.5,232.7h0.01M475.9,239.9h0.01M480.9,236.9h0.01M464.4,235.6h0.01M467.7,236.8h0.01M473.1,233.9h0.01M472.8,232.3h0.01M474.9,237.7h0.01M464.8,235.4h0.01M453.4,236.3h0.01M475.7,231.5h0.01M483.2,234.3h0.01M452.9,230.7h0.01M475.6,233.3h0.01M477.7,230.2h0.01M467.1,236.4h0.01M462.1,235.7h0.01M464.9,234.8h0.01M470.8,239.4h0.01M457.2,235.9h0.01M479.5,231.3h0.01M468.7,239.6h0.01M477.2,226.8h0.01M465.9,229.8h0.01M470.7,232.2h0.01M463.1,232.0h0.01M470.6,232.9h0.01M460.1,233.4h0.01M471.6,231.9h0.01M477.7,230.0h0.01M471.6,233.1h0.01M481.8,232.4h0.01M462.2,230.7h0.01M485.4,235.5h0.01M458.5,233.2h0.01M459.6,237.7h0.01M471.7,229.1h0.01M469.8,236.2h0.01M468.0,235.2h0.01M467.0,234.5h0.01M469.9,232.3h0.01M471.0,234.4h0.01M467.7,232.3h0.01M459.1,234.6h0.01M475.2,228.1h0.01M463.3,237.3h0.01M476.0,232.3h0.01M479.8,231.6h0.01M461.1,238.7h0.01M464.2,233.5h0.01M453.6,231.5h0.01M457.7,233.7h0.01M451.9,236.6h0.01M464.9,232.5h0.01M462.5,235.8h0.01M481.4,233.0h0.01" stroke="#000" stroke-width="0.6" stroke-linecap="round" opacity="0.4" fill="none"/>
<path d="M470.5,234.0C470.3,232.0 471.1,229.6 472.0,228.0C472.9,226.4 474.5,225.3 476.0,224.5C477.5,223.7 479.7,223.7 481.0,223.0C482.3,222.3 483.0,220.5 484.0,220.5C485.0,220.5 485.8,222.3 487.0,223.0C488.2,223.7 489.5,224.0 491.0,224.5C492.5,225.0 494.7,224.9 496.0,226.0C497.3,227.1 498.5,229.2 498.8,231.0C499.1,232.8 498.8,235.3 498.0,237.0C497.2,238.7 495.7,240.2 494.0,241.0C492.3,241.8 489.7,241.1 488.0,241.5C486.3,241.9 485.7,243.2 484.0,243.5C482.3,243.8 479.8,243.6 478.0,243.0C476.2,242.4 474.2,241.5 473.0,240.0C471.8,238.5 470.7,236.0 470.5,234.0Z" fill="#000" stroke="#000" stroke-width="1.3" fill-opacity="0.12"/>
<path d="M472.5,234.0C472.1,232.1 473.1,230.1 474.0,228.8C474.9,227.5 476.5,226.6 478.0,226.0C479.5,225.4 481.5,225.0 483.0,225.0C484.5,225.0 485.7,225.7 487.0,226.0C488.3,226.3 489.6,226.5 491.0,227.0C492.4,227.5 494.6,227.8 495.5,229.0C496.4,230.2 496.9,232.4 496.5,234.0C496.1,235.6 494.6,237.6 493.0,238.5C491.4,239.4 488.8,239.1 487.0,239.5C485.2,239.9 483.8,240.8 482.0,241.0C480.2,241.2 478.1,241.7 476.5,240.5C474.9,239.3 472.9,235.9 472.5,234.0Z" fill="none" stroke="#222" stroke-width="0.5" />
<path d="M485.2,235.0C485.2,235.7 485.1,236.4 484.8,237.1C484.4,237.7 483.9,238.3 483.4,238.7C482.8,239.1 482.1,239.5 481.4,239.6C480.7,239.8 479.9,239.8 479.2,239.6C478.5,239.5 477.8,239.1 477.2,238.7C476.7,238.3 476.2,237.7 475.8,237.1C475.5,236.4 475.4,235.7 475.4,235.0C475.4,234.3 475.5,233.6 475.8,232.9C476.2,232.3 476.7,231.7 477.2,231.3C477.8,230.9 478.5,230.5 479.2,230.4C479.9,230.2 480.7,230.2 481.4,230.4C482.1,230.5 482.8,230.9 483.4,231.3C483.9,231.7 484.4,232.3 484.8,232.9C485.1,233.6 485.2,234.3 485.2,235.0Z" fill="url(#gmid)" opacity="1.0" stroke="none"/>
<path d="M485.5,235.0C485.5,235.7 485.3,236.5 485.0,237.2C484.7,237.8 484.1,238.5 483.5,238.9C483.0,239.4 482.2,239.7 481.5,239.9C480.7,240.0 479.9,240.0 479.1,239.9C478.4,239.7 477.6,239.4 477.1,238.9C476.5,238.5 475.9,237.8 475.6,237.2C475.3,236.5 475.1,235.7 475.1,235.0C475.1,234.3 475.3,233.5 475.6,232.8C475.9,232.2 476.5,231.5 477.1,231.1C477.6,230.6 478.4,230.3 479.1,230.1C479.9,230.0 480.7,230.0 481.5,230.1C482.2,230.3 483.0,230.6 483.5,231.1C484.1,231.5 484.7,232.2 485.0,232.8C485.3,233.5 485.5,234.3 485.5,235.0Z" fill="none" stroke="#111" stroke-width="0.45" opacity="0.55"/>
<path d="M484.5,235.0C484.5,235.6 484.4,236.2 484.1,236.8C483.8,237.3 483.4,237.8 482.9,238.2C482.5,238.5 481.8,238.8 481.2,239.0C480.6,239.1 480.0,239.1 479.4,239.0C478.8,238.8 478.1,238.5 477.7,238.2C477.2,237.8 476.8,237.3 476.5,236.8C476.2,236.2 476.1,235.6 476.1,235.0C476.1,234.4 476.2,233.8 476.5,233.2C476.8,232.7 477.2,232.2 477.7,231.8C478.1,231.5 478.8,231.2 479.4,231.0C480.0,230.9 480.6,230.9 481.2,231.0C481.8,231.2 482.5,231.5 482.9,231.8C483.4,232.2 483.8,232.7 484.1,233.2C484.4,233.8 484.5,234.4 484.5,235.0Z" fill="none" stroke="#111" stroke-width="0.45" opacity="0.66"/>
<path d="M483.6,235.0C483.6,235.5 483.4,235.9 483.2,236.4C483.0,236.8 482.7,237.2 482.3,237.4C482.0,237.7 481.5,237.9 481.0,238.0C480.6,238.1 480.0,238.1 479.6,238.0C479.1,237.9 478.6,237.7 478.3,237.4C477.9,237.2 477.6,236.8 477.4,236.4C477.2,235.9 477.1,235.5 477.1,235.0C477.1,234.5 477.2,234.1 477.4,233.6C477.6,233.2 477.9,232.8 478.3,232.6C478.6,232.3 479.1,232.1 479.6,232.0C480.0,231.9 480.6,231.9 481.0,232.0C481.5,232.1 482.0,232.3 482.3,232.6C482.7,232.8 483.0,233.2 483.2,233.6C483.4,234.1 483.6,234.5 483.6,235.0Z" fill="none" stroke="#111" stroke-width="0.45" opacity="0.78"/>
<path d="M482.6,235.0C482.6,235.3 482.5,235.7 482.3,235.9C482.2,236.2 482.0,236.5 481.7,236.7C481.5,236.9 481.1,237.1 480.8,237.1C480.5,237.2 480.1,237.2 479.8,237.1C479.5,237.1 479.1,236.9 478.9,236.7C478.6,236.5 478.4,236.2 478.3,235.9C478.1,235.7 478.0,235.3 478.0,235.0C478.0,234.7 478.1,234.3 478.3,234.1C478.4,233.8 478.6,233.5 478.9,233.3C479.1,233.1 479.5,232.9 479.8,232.9C480.1,232.8 480.5,232.8 480.8,232.9C481.1,232.9 481.5,233.1 481.7,233.3C482.0,233.5 482.2,233.8 482.3,234.1C482.5,234.3 482.6,234.7 482.6,235.0Z" fill="none" stroke="#111" stroke-width="0.45" opacity="0.89"/>
<path d="M481.6,235.0C481.6,235.2 481.6,235.4 481.5,235.5C481.4,235.7 481.3,235.9 481.1,236.0C481.0,236.1 480.8,236.2 480.6,236.2C480.4,236.3 480.2,236.3 480.0,236.2C479.8,236.2 479.6,236.1 479.5,236.0C479.3,235.9 479.2,235.7 479.1,235.5C479.0,235.4 479.0,235.2 479.0,235.0C479.0,234.8 479.0,234.6 479.1,234.5C479.2,234.3 479.3,234.1 479.5,234.0C479.6,233.9 479.8,233.8 480.0,233.8C480.2,233.7 480.4,233.7 480.6,233.8C480.8,233.8 481.0,233.9 481.1,234.0C481.3,234.1 481.4,234.3 481.5,234.5C481.6,234.6 481.6,234.8 481.6,235.0Z" fill="none" stroke="#111" stroke-width="0.45" opacity="1.00"/>
<circle cx="480.3" cy="235" r="3.2" fill="none" stroke="#000" stroke-width="1.1" opacity="0.8"/>
<circle cx="480.5" cy="235.2" r="1.1" fill="#fff"/>
<path d="M495.8,232.5C495.8,233.1 495.6,233.8 495.3,234.3C495.0,234.9 494.5,235.4 494.0,235.8C493.4,236.1 492.7,236.4 492.1,236.6C491.4,236.7 490.6,236.7 489.9,236.6C489.3,236.4 488.6,236.1 488.0,235.8C487.5,235.4 487.0,234.9 486.7,234.3C486.4,233.8 486.2,233.1 486.2,232.5C486.2,231.9 486.4,231.2 486.7,230.7C487.0,230.1 487.5,229.6 488.0,229.2C488.6,228.9 489.3,228.6 489.9,228.4C490.6,228.3 491.4,228.3 492.1,228.4C492.7,228.6 493.4,228.9 494.0,229.2C494.5,229.6 495.0,230.1 495.3,230.7C495.6,231.2 495.8,231.9 495.8,232.5Z" fill="url(#glight)" opacity="1.0" stroke="none"/>
<path d="M496.0,232.5C496.0,233.1 495.8,233.8 495.5,234.4C495.2,235.0 494.7,235.5 494.1,235.9C493.6,236.3 492.8,236.6 492.1,236.8C491.4,236.9 490.6,236.9 489.9,236.8C489.2,236.6 488.4,236.3 487.9,235.9C487.3,235.5 486.8,235.0 486.5,234.4C486.2,233.8 486.0,233.1 486.0,232.5C486.0,231.9 486.2,231.2 486.5,230.6C486.8,230.0 487.3,229.5 487.9,229.1C488.4,228.7 489.2,228.4 489.9,228.2C490.6,228.1 491.4,228.1 492.1,228.2C492.8,228.4 493.6,228.7 494.1,229.1C494.7,229.5 495.2,230.0 495.5,230.6C495.8,231.2 496.0,231.9 496.0,232.5Z" fill="none" stroke="#555" stroke-width="0.4" opacity="0.55"/>
<path d="M494.8,232.5C494.8,233.0 494.6,233.5 494.4,233.9C494.1,234.4 493.8,234.8 493.3,235.1C492.9,235.4 492.4,235.6 491.8,235.7C491.3,235.8 490.7,235.8 490.2,235.7C489.6,235.6 489.1,235.4 488.7,235.1C488.2,234.8 487.9,234.4 487.6,233.9C487.4,233.5 487.2,233.0 487.2,232.5C487.2,232.0 487.4,231.5 487.6,231.1C487.9,230.6 488.2,230.2 488.7,229.9C489.1,229.6 489.6,229.4 490.2,229.3C490.7,229.2 491.3,229.2 491.8,229.3C492.4,229.4 492.9,229.6 493.3,229.9C493.8,230.2 494.1,230.6 494.4,231.1C494.6,231.5 494.8,232.0 494.8,232.5Z" fill="none" stroke="#555" stroke-width="0.4" opacity="0.70"/>
<path d="M493.5,232.5C493.5,232.8 493.4,233.2 493.3,233.5C493.1,233.7 492.8,234.0 492.6,234.2C492.3,234.4 491.9,234.6 491.6,234.6C491.2,234.7 490.8,234.7 490.4,234.6C490.1,234.6 489.7,234.4 489.4,234.2C489.2,234.0 488.9,233.7 488.7,233.5C488.6,233.2 488.5,232.8 488.5,232.5C488.5,232.2 488.6,231.8 488.7,231.5C488.9,231.3 489.2,231.0 489.4,230.8C489.7,230.6 490.1,230.4 490.4,230.4C490.8,230.3 491.2,230.3 491.6,230.4C491.9,230.4 492.3,230.6 492.6,230.8C492.8,231.0 493.1,231.3 493.3,231.5C493.4,231.8 493.5,232.2 493.5,232.5Z" fill="none" stroke="#555" stroke-width="0.4" opacity="0.85"/>
<path d="M492.2,232.5C492.2,232.7 492.2,232.8 492.1,233.0C492.0,233.1 491.9,233.3 491.8,233.4C491.6,233.5 491.5,233.5 491.3,233.6C491.1,233.6 490.9,233.6 490.7,233.6C490.5,233.5 490.4,233.5 490.2,233.4C490.1,233.3 490.0,233.1 489.9,233.0C489.8,232.8 489.8,232.7 489.8,232.5C489.8,232.3 489.8,232.2 489.9,232.0C490.0,231.9 490.1,231.7 490.2,231.6C490.4,231.5 490.5,231.5 490.7,231.4C490.9,231.4 491.1,231.4 491.3,231.4C491.5,231.5 491.6,231.5 491.8,231.6C491.9,231.7 492.0,231.9 492.1,232.0C492.2,232.2 492.2,232.3 492.2,232.5Z" fill="none" stroke="#555" stroke-width="0.4" opacity="1.00"/>
<text x="467.00" y="199.60" font-size="8.3" text-anchor="middle" fill="#222" textLength="16.65" lengthAdjust="spacingAndGlyphs">79.3</text>
<text x="497.00" y="199.60" font-size="8.3" text-anchor="middle" fill="#222" textLength="16.65" lengthAdjust="spacingAndGlyphs">20.7</text>
<text x="365.20" y="228.60" font-size="10.8" fill="#2a2a2a" transform="rotate(-90 365.20 228.60)" textLength="13.20" lengthAdjust="spacingAndGlyphs">FSC</text>
<text x="378.00" y="265.60" font-size="10.8" fill="#2a2a2a" textLength="25.50" lengthAdjust="spacingAndGlyphs">icTCRβ</text>
<line x1="404.50" y1="261.60" x2="508.60" y2="261.60" stroke="#222" stroke-width="1" />
<path d="M510.60,261.60l-3.4,-1.5v3z" fill="#222" stroke="none" stroke-width="1" />
<rect x="368.40" y="270.00" width="63.20" height="61.60" fill="#fff" stroke="#7a7a7a" stroke-width="0.7" />
<line x1="373.46" y1="331.60" x2="373.46" y2="332.70" stroke="#555" stroke-width="0.5" />
<line x1="367.30" y1="326.67" x2="368.40" y2="326.67" stroke="#555" stroke-width="0.5" />
<line x1="376.62" y1="331.60" x2="376.62" y2="332.70" stroke="#555" stroke-width="0.5" />
<line x1="367.30" y1="323.59" x2="368.40" y2="323.59" stroke="#555" stroke-width="0.5" />
<line x1="387.36" y1="331.60" x2="387.36" y2="332.70" stroke="#555" stroke-width="0.5" />
<line x1="367.30" y1="313.12" x2="368.40" y2="313.12" stroke="#555" stroke-width="0.5" />
<line x1="398.10" y1="331.60" x2="398.10" y2="332.70" stroke="#555" stroke-width="0.5" />
<line x1="367.30" y1="302.65" x2="368.40" y2="302.65" stroke="#555" stroke-width="0.5" />
<line x1="408.85" y1="331.60" x2="408.85" y2="332.70" stroke="#555" stroke-width="0.5" />
<line x1="367.30" y1="292.18" x2="368.40" y2="292.18" stroke="#555" stroke-width="0.5" />
<line x1="419.59" y1="331.60" x2="419.59" y2="332.70" stroke="#555" stroke-width="0.5" />
<line x1="367.30" y1="281.70" x2="368.40" y2="281.70" stroke="#555" stroke-width="0.5" />
<line x1="428.44" y1="331.60" x2="428.44" y2="332.70" stroke="#555" stroke-width="0.5" />
<line x1="367.30" y1="273.08" x2="368.40" y2="273.08" stroke="#555" stroke-width="0.5" />
<line x1="372.19" y1="332.50" x2="375.98" y2="332.50" stroke="#222" stroke-width="0.8" />
<line x1="407.50" y1="270.00" x2="407.50" y2="331.60" stroke="#7a7a7a" stroke-width="0.6" />
<path d="M420.2,300.7C421.0,302.0 420.7,304.6 420.2,306.4C419.8,308.2 418.3,310.0 417.3,311.5C416.3,313.1 415.5,314.3 414.4,315.7C413.3,317.2 412.2,318.9 410.7,320.1C409.1,321.3 406.9,322.5 405.1,322.9C403.3,323.3 401.3,323.0 399.7,322.4C398.2,321.9 396.9,320.8 395.9,319.6C394.9,318.4 394.1,316.9 394.0,315.3C393.9,313.7 394.4,311.5 395.3,309.9C396.2,308.3 398.0,306.7 399.5,305.5C401.0,304.3 402.6,303.7 404.2,302.8C405.8,301.9 407.2,300.8 409.0,300.1C410.9,299.3 413.4,298.2 415.3,298.3C417.1,298.4 419.3,299.3 420.2,300.7Z" fill="url(#gmid)" opacity="1.0" stroke="none"/>
<path d="M420.8,300.1C421.7,301.6 421.4,304.2 420.9,306.1C420.4,308.0 418.8,309.9 417.8,311.6C416.8,313.2 415.9,314.5 414.8,316.0C413.6,317.5 412.5,319.3 410.8,320.6C409.2,321.8 406.9,323.1 405.0,323.5C403.1,323.9 400.9,323.6 399.3,323.0C397.7,322.5 396.3,321.3 395.3,320.1C394.3,318.8 393.4,317.2 393.3,315.5C393.2,313.8 393.7,311.6 394.7,309.9C395.6,308.2 397.6,306.5 399.1,305.2C400.7,304.0 402.4,303.3 404.0,302.4C405.7,301.4 407.2,300.3 409.1,299.5C411.1,298.7 413.7,297.5 415.7,297.6C417.6,297.7 420.0,298.7 420.8,300.1Z" fill="none" stroke="#333" stroke-width="0.4" opacity="0.55"/>
<path d="M418.7,301.8C419.4,303.0 419.3,305.2 419.0,306.8C418.6,308.4 417.4,310.1 416.6,311.5C415.7,312.9 414.9,314.1 413.9,315.4C412.9,316.7 411.8,318.2 410.4,319.3C408.9,320.3 407.0,321.3 405.3,321.7C403.7,322.0 401.8,321.8 400.5,321.3C399.1,320.8 397.9,319.8 397.0,318.8C396.1,317.7 395.4,316.3 395.3,314.8C395.2,313.4 395.6,311.5 396.4,310.0C397.2,308.5 398.8,307.1 400.1,305.9C401.5,304.8 402.9,304.2 404.4,303.3C405.9,302.5 407.2,301.6 408.9,301.0C410.6,300.3 412.8,299.5 414.4,299.6C416.0,299.8 417.9,300.6 418.7,301.8Z" fill="none" stroke="#333" stroke-width="0.4" opacity="0.66"/>
<path d="M416.6,303.4C417.3,304.4 417.2,306.1 417.0,307.5C416.8,308.8 415.9,310.2 415.2,311.4C414.6,312.6 413.9,313.7 413.0,314.8C412.1,315.8 411.1,317.1 409.9,317.9C408.6,318.8 407.0,319.6 405.6,319.9C404.3,320.1 402.7,319.9 401.6,319.5C400.4,319.1 399.4,318.4 398.7,317.5C398.0,316.6 397.4,315.4 397.3,314.2C397.2,312.9 397.5,311.4 398.2,310.1C398.8,308.9 400.1,307.6 401.2,306.7C402.3,305.7 403.5,305.0 404.8,304.3C406.0,303.6 407.2,302.9 408.6,302.5C410.0,302.0 411.8,301.4 413.1,301.6C414.5,301.8 416.0,302.5 416.6,303.4Z" fill="none" stroke="#333" stroke-width="0.4" opacity="0.78"/>
<path d="M414.6,305.0C415.2,305.8 415.2,307.1 415.1,308.1C415.0,309.2 414.4,310.3 413.8,311.3C413.3,312.3 412.7,313.2 412.0,314.1C411.2,315.0 410.4,315.9 409.4,316.6C408.4,317.3 407.1,317.9 405.9,318.1C404.8,318.3 403.6,318.2 402.7,317.8C401.7,317.5 400.9,316.9 400.3,316.2C399.8,315.4 399.3,314.5 399.2,313.5C399.2,312.5 399.4,311.3 399.9,310.3C400.4,309.2 401.4,308.2 402.3,307.4C403.1,306.6 404.2,306.0 405.2,305.4C406.2,304.8 407.3,304.3 408.4,304.0C409.5,303.6 410.9,303.3 411.9,303.5C413.0,303.6 414.1,304.2 414.6,305.0Z" fill="none" stroke="#333" stroke-width="0.4" opacity="0.89"/>
<path d="M412.7,306.5C413.2,307.0 413.3,308.0 413.2,308.8C413.2,309.5 412.8,310.4 412.4,311.2C412.0,312.0 411.5,312.7 410.9,313.4C410.4,314.1 409.7,314.8 408.9,315.3C408.1,315.8 407.1,316.2 406.2,316.3C405.4,316.5 404.5,316.4 403.8,316.1C403.0,315.9 402.4,315.4 402.0,314.9C401.5,314.3 401.2,313.6 401.2,312.9C401.1,312.1 401.3,311.2 401.7,310.4C402.0,309.6 402.7,308.8 403.4,308.2C404.0,307.5 404.8,307.0 405.6,306.6C406.4,306.1 407.3,305.7 408.1,305.5C409.0,305.3 410.0,305.1 410.7,305.3C411.5,305.4 412.3,305.9 412.7,306.5Z" fill="none" stroke="#333" stroke-width="0.4" opacity="1.00"/>
<path d="M410.0,315.3C410.0,315.9 409.8,316.5 409.5,317.0C409.2,317.5 408.6,318.0 408.1,318.3C407.5,318.7 406.7,319.0 406.0,319.1C405.2,319.2 404.4,319.2 403.6,319.1C402.9,319.0 402.1,318.7 401.5,318.3C401.0,318.0 400.4,317.5 400.1,317.0C399.8,316.5 399.6,315.9 399.6,315.3C399.6,314.7 399.8,314.1 400.1,313.6C400.4,313.1 401.0,312.6 401.5,312.3C402.1,311.9 402.9,311.6 403.6,311.5C404.4,311.4 405.2,311.4 406.0,311.5C406.7,311.6 407.5,311.9 408.1,312.3C408.6,312.6 409.2,313.1 409.5,313.6C409.8,314.1 410.0,314.7 410.0,315.3Z" fill="url(#gdark)" opacity="1.0" stroke="none"/>
<path d="M410.3,315.3C410.3,315.9 410.1,316.5 409.8,317.1C409.4,317.6 408.9,318.1 408.2,318.5C407.6,318.9 406.8,319.2 406.0,319.3C405.2,319.4 404.4,319.4 403.6,319.3C402.8,319.2 402.0,318.9 401.4,318.5C400.7,318.1 400.2,317.6 399.8,317.1C399.5,316.5 399.3,315.9 399.3,315.3C399.3,314.7 399.5,314.1 399.8,313.5C400.2,313.0 400.7,312.5 401.4,312.1C402.0,311.7 402.8,311.4 403.6,311.3C404.4,311.2 405.2,311.2 406.0,311.3C406.8,311.4 407.6,311.7 408.2,312.1C408.9,312.5 409.4,313.0 409.8,313.5C410.1,314.1 410.3,314.7 410.3,315.3Z" fill="none" stroke="#111" stroke-width="0.4" opacity="0.55"/>
<path d="M409.1,315.3C409.1,315.8 409.0,316.3 408.7,316.7C408.4,317.1 408.0,317.5 407.5,317.8C407.0,318.1 406.4,318.3 405.8,318.4C405.2,318.6 404.4,318.6 403.8,318.4C403.2,318.3 402.6,318.1 402.1,317.8C401.6,317.5 401.2,317.1 400.9,316.7C400.6,316.3 400.5,315.8 400.5,315.3C400.5,314.8 400.6,314.3 400.9,313.9C401.2,313.5 401.6,313.1 402.1,312.8C402.6,312.5 403.2,312.3 403.8,312.2C404.4,312.0 405.2,312.0 405.8,312.2C406.4,312.3 407.0,312.5 407.5,312.8C408.0,313.1 408.4,313.5 408.7,313.9C409.0,314.3 409.1,314.8 409.1,315.3Z" fill="none" stroke="#111" stroke-width="0.4" opacity="0.66"/>
<path d="M408.0,315.3C408.0,315.6 407.8,316.0 407.6,316.3C407.5,316.6 407.1,316.9 406.8,317.1C406.4,317.4 405.9,317.5 405.5,317.6C405.1,317.7 404.5,317.7 404.1,317.6C403.7,317.5 403.2,317.4 402.8,317.1C402.5,316.9 402.1,316.6 402.0,316.3C401.8,316.0 401.6,315.6 401.6,315.3C401.6,315.0 401.8,314.6 402.0,314.3C402.1,314.0 402.5,313.7 402.8,313.5C403.2,313.2 403.7,313.1 404.1,313.0C404.5,312.9 405.1,312.9 405.5,313.0C405.9,313.1 406.4,313.2 406.8,313.5C407.1,313.7 407.5,314.0 407.6,314.3C407.8,314.6 408.0,315.0 408.0,315.3Z" fill="none" stroke="#111" stroke-width="0.4" opacity="0.78"/>
<path d="M406.8,315.3C406.8,315.5 406.7,315.8 406.6,315.9C406.5,316.1 406.3,316.3 406.0,316.5C405.8,316.6 405.5,316.7 405.2,316.7C405.0,316.8 404.6,316.8 404.4,316.7C404.1,316.7 403.8,316.6 403.6,316.5C403.3,316.3 403.1,316.1 403.0,315.9C402.9,315.8 402.8,315.5 402.8,315.3C402.8,315.1 402.9,314.8 403.0,314.7C403.1,314.5 403.3,314.3 403.6,314.1C403.8,314.0 404.1,313.9 404.4,313.9C404.6,313.8 405.0,313.8 405.2,313.9C405.5,313.9 405.8,314.0 406.0,314.1C406.3,314.3 406.5,314.5 406.6,314.7C406.7,314.8 406.8,315.1 406.8,315.3Z" fill="none" stroke="#111" stroke-width="0.4" opacity="0.89"/>
<path d="M405.6,315.3C405.6,315.4 405.6,315.5 405.5,315.6C405.5,315.6 405.4,315.7 405.3,315.8C405.2,315.8 405.1,315.9 405.0,315.9C404.9,315.9 404.7,315.9 404.6,315.9C404.5,315.9 404.4,315.8 404.3,315.8C404.2,315.7 404.1,315.6 404.1,315.6C404.0,315.5 404.0,315.4 404.0,315.3C404.0,315.2 404.0,315.1 404.1,315.0C404.1,315.0 404.2,314.9 404.3,314.8C404.4,314.8 404.5,314.7 404.6,314.7C404.7,314.7 404.9,314.7 405.0,314.7C405.1,314.7 405.2,314.8 405.3,314.8C405.4,314.9 405.5,315.0 405.5,315.0C405.6,315.1 405.6,315.2 405.6,315.3Z" fill="none" stroke="#111" stroke-width="0.4" opacity="1.00"/>
<path d="M416.8,309.6C416.8,310.4 416.6,311.2 416.3,311.9C416.0,312.6 415.6,313.3 415.0,313.8C414.5,314.2 413.9,314.6 413.2,314.8C412.6,315.0 411.8,315.0 411.2,314.8C410.5,314.6 409.9,314.2 409.4,313.8C408.8,313.3 408.4,312.6 408.1,311.9C407.8,311.2 407.6,310.4 407.6,309.6C407.6,308.8 407.8,308.0 408.1,307.3C408.4,306.6 408.8,305.9 409.4,305.4C409.9,305.0 410.5,304.6 411.2,304.4C411.8,304.2 412.6,304.2 413.2,304.4C413.9,304.6 414.5,305.0 415.0,305.4C415.6,305.9 416.0,306.6 416.3,307.3C416.6,308.0 416.8,308.8 416.8,309.6Z" fill="url(#gdark)" opacity="1.0" stroke="none"/>
<path d="M417.0,309.6C417.0,310.4 416.8,311.3 416.5,312.0C416.2,312.8 415.7,313.5 415.2,314.0C414.6,314.5 413.9,314.9 413.3,315.1C412.6,315.2 411.8,315.2 411.1,315.1C410.5,314.9 409.8,314.5 409.2,314.0C408.7,313.5 408.2,312.8 407.9,312.0C407.6,311.3 407.4,310.4 407.4,309.6C407.4,308.8 407.6,307.9 407.9,307.2C408.2,306.4 408.7,305.7 409.2,305.2C409.8,304.7 410.5,304.3 411.1,304.1C411.8,304.0 412.6,304.0 413.3,304.1C413.9,304.3 414.6,304.7 415.2,305.2C415.7,305.7 416.2,306.4 416.5,307.2C416.8,307.9 417.0,308.8 417.0,309.6Z" fill="none" stroke="#111" stroke-width="0.4" opacity="0.55"/>
<path d="M416.0,309.6C416.0,310.2 415.8,310.9 415.6,311.5C415.4,312.1 415.0,312.7 414.6,313.0C414.1,313.4 413.6,313.8 413.0,313.9C412.5,314.0 411.9,314.0 411.4,313.9C410.8,313.8 410.3,313.4 409.8,313.0C409.4,312.7 409.0,312.1 408.8,311.5C408.6,310.9 408.4,310.2 408.4,309.6C408.4,309.0 408.6,308.3 408.8,307.7C409.0,307.1 409.4,306.5 409.8,306.2C410.3,305.8 410.8,305.4 411.4,305.3C411.9,305.2 412.5,305.2 413.0,305.3C413.6,305.4 414.1,305.8 414.6,306.2C415.0,306.5 415.4,307.1 415.6,307.7C415.8,308.3 416.0,309.0 416.0,309.6Z" fill="none" stroke="#111" stroke-width="0.4" opacity="0.66"/>
<path d="M415.0,309.6C415.0,310.1 414.9,310.6 414.7,311.0C414.5,311.4 414.2,311.8 413.9,312.1C413.6,312.4 413.2,312.6 412.8,312.7C412.4,312.8 412.0,312.8 411.6,312.7C411.2,312.6 410.8,312.4 410.5,312.1C410.2,311.8 409.9,311.4 409.7,311.0C409.5,310.6 409.4,310.1 409.4,309.6C409.4,309.1 409.5,308.6 409.7,308.2C409.9,307.8 410.2,307.4 410.5,307.1C410.8,306.8 411.2,306.6 411.6,306.5C412.0,306.4 412.4,306.4 412.8,306.5C413.2,306.6 413.6,306.8 413.9,307.1C414.2,307.4 414.5,307.8 414.7,308.2C414.9,308.6 415.0,309.1 415.0,309.6Z" fill="none" stroke="#111" stroke-width="0.4" opacity="0.78"/>
<path d="M413.9,309.6C413.9,309.9 413.9,310.2 413.8,310.5C413.7,310.7 413.5,311.0 413.3,311.2C413.1,311.4 412.8,311.5 412.6,311.6C412.3,311.6 412.1,311.6 411.8,311.6C411.6,311.5 411.3,311.4 411.1,311.2C410.9,311.0 410.7,310.7 410.6,310.5C410.5,310.2 410.5,309.9 410.5,309.6C410.5,309.3 410.5,309.0 410.6,308.7C410.7,308.5 410.9,308.2 411.1,308.0C411.3,307.8 411.6,307.7 411.8,307.6C412.1,307.6 412.3,307.6 412.6,307.6C412.8,307.7 413.1,307.8 413.3,308.0C413.5,308.2 413.7,308.5 413.8,308.7C413.9,309.0 413.9,309.3 413.9,309.6Z" fill="none" stroke="#111" stroke-width="0.4" opacity="0.89"/>
<path d="M412.9,309.6C412.9,309.7 412.9,309.9 412.8,310.0C412.8,310.1 412.7,310.2 412.6,310.3C412.6,310.3 412.5,310.4 412.4,310.4C412.3,310.4 412.1,310.4 412.0,310.4C411.9,310.4 411.8,310.3 411.8,310.3C411.7,310.2 411.6,310.1 411.6,310.0C411.5,309.9 411.5,309.7 411.5,309.6C411.5,309.5 411.5,309.3 411.6,309.2C411.6,309.1 411.7,309.0 411.8,308.9C411.8,308.9 411.9,308.8 412.0,308.8C412.1,308.8 412.3,308.8 412.4,308.8C412.5,308.8 412.6,308.9 412.6,308.9C412.7,309.0 412.8,309.1 412.8,309.2C412.9,309.3 412.9,309.5 412.9,309.6Z" fill="none" stroke="#111" stroke-width="0.4" opacity="1.00"/>
<circle cx="405.2" cy="315.6" r="0.9" fill="#fff"/>
<ellipse cx="412.4" cy="309.7" rx="1.1" ry="1.6" fill="#fff"/>
<text x="391.00" y="279.00" font-size="8.3" text-anchor="middle" fill="#222" textLength="9.70" lengthAdjust="spacingAndGlyphs">38</text>
<text x="418.70" y="279.00" font-size="8.3" text-anchor="middle" fill="#222" textLength="16.65" lengthAdjust="spacingAndGlyphs">61.6</text>
<rect x="448.00" y="270.00" width="62.50" height="61.00" fill="#fff" stroke="#7a7a7a" stroke-width="0.7" />
<line x1="453.00" y1="331.00" x2="453.00" y2="332.10" stroke="#555" stroke-width="0.5" />
<line x1="446.90" y1="326.12" x2="448.00" y2="326.12" stroke="#555" stroke-width="0.5" />
<line x1="456.12" y1="331.00" x2="456.12" y2="332.10" stroke="#555" stroke-width="0.5" />
<line x1="446.90" y1="323.07" x2="448.00" y2="323.07" stroke="#555" stroke-width="0.5" />
<line x1="466.75" y1="331.00" x2="466.75" y2="332.10" stroke="#555" stroke-width="0.5" />
<line x1="446.90" y1="312.70" x2="448.00" y2="312.70" stroke="#555" stroke-width="0.5" />
<line x1="477.38" y1="331.00" x2="477.38" y2="332.10" stroke="#555" stroke-width="0.5" />
<line x1="446.90" y1="302.33" x2="448.00" y2="302.33" stroke="#555" stroke-width="0.5" />
<line x1="488.00" y1="331.00" x2="488.00" y2="332.10" stroke="#555" stroke-width="0.5" />
<line x1="446.90" y1="291.96" x2="448.00" y2="291.96" stroke="#555" stroke-width="0.5" />
<line x1="498.62" y1="331.00" x2="498.62" y2="332.10" stroke="#555" stroke-width="0.5" />
<line x1="446.90" y1="281.59" x2="448.00" y2="281.59" stroke="#555" stroke-width="0.5" />
<line x1="507.38" y1="331.00" x2="507.38" y2="332.10" stroke="#555" stroke-width="0.5" />
<line x1="446.90" y1="273.05" x2="448.00" y2="273.05" stroke="#555" stroke-width="0.5" />
<line x1="451.75" y1="331.90" x2="455.50" y2="331.90" stroke="#222" stroke-width="0.8" />
<line x1="485.50" y1="270.00" x2="485.50" y2="331.00" stroke="#7a7a7a" stroke-width="0.6" />
<path d="M499.8,311.7C499.9,313.1 498.7,314.8 497.6,316.0C496.5,317.2 494.7,318.0 493.2,318.8C491.8,319.7 490.4,320.3 488.8,321.0C487.2,321.6 485.4,322.4 483.6,322.5C481.8,322.7 479.5,322.6 477.9,322.0C476.3,321.5 475.0,320.3 474.0,319.3C473.1,318.2 472.6,316.8 472.4,315.6C472.2,314.3 472.2,312.8 472.8,311.5C473.4,310.2 474.6,308.8 476.1,307.9C477.5,307.0 479.7,306.4 481.4,306.1C483.2,305.8 485.0,306.0 486.7,306.0C488.4,306.0 490.1,306.0 491.8,306.3C493.6,306.6 495.9,307.0 497.2,307.9C498.5,308.8 499.7,310.4 499.8,311.7Z" fill="url(#gmid)" opacity="1.0" stroke="none"/>
<path d="M499.8,311.8C499.9,313.3 498.6,315.1 497.5,316.3C496.3,317.6 494.4,318.5 492.9,319.3C491.3,320.2 490.0,320.9 488.3,321.6C486.6,322.2 484.7,323.1 482.8,323.2C480.9,323.4 478.5,323.3 476.8,322.7C475.1,322.1 473.7,320.9 472.7,319.8C471.7,318.7 471.2,317.3 471.0,315.9C470.8,314.5 470.7,313.0 471.4,311.6C472.0,310.3 473.3,308.8 474.8,307.8C476.3,306.9 478.6,306.3 480.5,306.0C482.4,305.6 484.2,305.8 486.0,305.8C487.8,305.9 489.6,305.8 491.4,306.1C493.3,306.5 495.7,306.9 497.1,307.8C498.5,308.8 499.7,310.4 499.8,311.8Z" fill="none" stroke="#333" stroke-width="0.4" opacity="0.55"/>
<path d="M498.1,312.0C498.1,313.3 497.2,314.8 496.2,315.9C495.2,317.0 493.6,317.9 492.3,318.7C490.9,319.5 489.7,320.1 488.2,320.7C486.7,321.2 485.0,321.9 483.3,322.0C481.6,322.2 479.5,322.0 478.1,321.5C476.6,321.0 475.3,320.0 474.5,319.0C473.6,318.0 473.1,316.8 472.9,315.6C472.7,314.4 472.7,313.0 473.3,311.8C473.9,310.7 475.0,309.3 476.3,308.5C477.6,307.7 479.6,307.1 481.3,306.8C482.9,306.5 484.5,306.6 486.2,306.6C487.8,306.6 489.3,306.6 491.0,306.9C492.6,307.3 494.6,307.7 495.8,308.5C497.0,309.4 498.0,310.8 498.1,312.0Z" fill="none" stroke="#333" stroke-width="0.4" opacity="0.64"/>
<path d="M496.4,312.2C496.5,313.3 495.7,314.6 494.9,315.6C494.1,316.5 492.8,317.3 491.6,318.0C490.5,318.7 489.4,319.3 488.1,319.7C486.7,320.2 485.3,320.7 483.8,320.8C482.3,320.9 480.6,320.8 479.3,320.3C478.1,319.9 476.9,319.0 476.2,318.2C475.4,317.3 475.0,316.3 474.9,315.2C474.7,314.2 474.7,313.0 475.2,312.0C475.7,311.0 476.7,309.9 477.8,309.2C478.9,308.4 480.6,307.9 482.0,307.6C483.4,307.3 484.9,307.4 486.3,307.4C487.7,307.4 489.1,307.4 490.4,307.8C491.8,308.1 493.5,308.5 494.5,309.2C495.5,309.9 496.3,311.2 496.4,312.2Z" fill="none" stroke="#333" stroke-width="0.4" opacity="0.73"/>
<path d="M494.8,312.4C494.8,313.3 494.3,314.4 493.6,315.2C493.0,316.0 491.9,316.7 491.0,317.3C490.0,317.9 489.0,318.4 487.9,318.8C486.8,319.2 485.5,319.6 484.3,319.6C483.1,319.7 481.6,319.6 480.6,319.2C479.5,318.8 478.6,318.1 477.9,317.4C477.3,316.7 476.9,315.8 476.8,314.9C476.6,314.1 476.7,313.1 477.1,312.2C477.5,311.4 478.3,310.4 479.3,309.8C480.2,309.2 481.6,308.7 482.8,308.5C484.0,308.2 485.2,308.2 486.4,308.2C487.6,308.2 488.8,308.3 489.9,308.6C491.1,308.8 492.4,309.2 493.2,309.9C494.0,310.5 494.7,311.5 494.8,312.4Z" fill="none" stroke="#333" stroke-width="0.4" opacity="0.82"/>
<path d="M493.2,312.5C493.2,313.3 492.8,314.1 492.4,314.8C491.9,315.5 491.1,316.0 490.3,316.5C489.5,317.0 488.7,317.5 487.8,317.8C486.9,318.1 485.8,318.4 484.8,318.4C483.8,318.5 482.6,318.3 481.8,318.0C480.9,317.7 480.2,317.1 479.6,316.6C479.1,316.0 478.8,315.3 478.7,314.6C478.6,313.9 478.7,313.1 479.0,312.4C479.3,311.7 480.0,311.0 480.8,310.4C481.5,309.9 482.6,309.5 483.6,309.3C484.5,309.1 485.6,309.1 486.5,309.1C487.5,309.1 488.5,309.2 489.4,309.4C490.3,309.6 491.3,310.0 492.0,310.5C492.6,311.0 493.1,311.8 493.2,312.5Z" fill="none" stroke="#333" stroke-width="0.4" opacity="0.91"/>
<path d="M491.7,312.7C491.7,313.2 491.4,313.9 491.1,314.4C490.8,314.9 490.2,315.4 489.6,315.8C489.0,316.2 488.3,316.5 487.6,316.7C486.9,317.0 486.1,317.2 485.3,317.2C484.5,317.2 483.7,317.1 483.0,316.9C482.3,316.6 481.8,316.2 481.4,315.8C481.0,315.3 480.7,314.8 480.6,314.3C480.5,313.7 480.6,313.1 480.9,312.6C481.1,312.1 481.6,311.5 482.2,311.1C482.8,310.7 483.6,310.4 484.3,310.2C485.1,310.0 485.9,309.9 486.7,310.0C487.4,310.0 488.2,310.1 488.9,310.3C489.6,310.5 490.3,310.7 490.8,311.2C491.2,311.6 491.6,312.2 491.7,312.7Z" fill="none" stroke="#333" stroke-width="0.4" opacity="1.00"/>
<ellipse cx="484.5" cy="314.8" rx="7" ry="4" fill="#000" opacity="0.4" filter="url(#b1)"/>
<path d="M492.4,314.2C492.4,314.7 492.3,315.4 492.0,315.8C491.6,316.3 491.1,316.8 490.6,317.2C490.0,317.5 489.3,317.8 488.6,317.9C487.9,318.0 487.1,318.0 486.4,317.9C485.7,317.8 485.0,317.5 484.4,317.2C483.9,316.8 483.4,316.3 483.0,315.8C482.7,315.4 482.6,314.7 482.6,314.2C482.6,313.7 482.7,313.0 483.0,312.6C483.4,312.1 483.9,311.6 484.4,311.2C485.0,310.9 485.7,310.6 486.4,310.5C487.1,310.4 487.9,310.4 488.6,310.5C489.3,310.6 490.0,310.9 490.6,311.2C491.1,311.6 491.6,312.1 492.0,312.6C492.3,313.0 492.4,313.7 492.4,314.2Z" fill="url(#gdark)" opacity="1.0" stroke="none"/>
<path d="M492.7,314.2C492.7,314.8 492.5,315.4 492.2,315.9C491.9,316.5 491.3,317.0 490.7,317.3C490.2,317.7 489.4,318.0 488.7,318.1C487.9,318.2 487.1,318.2 486.3,318.1C485.6,318.0 484.8,317.7 484.3,317.3C483.7,317.0 483.1,316.5 482.8,315.9C482.5,315.4 482.3,314.8 482.3,314.2C482.3,313.6 482.5,313.0 482.8,312.5C483.1,311.9 483.7,311.4 484.3,311.1C484.8,310.7 485.6,310.4 486.3,310.3C487.1,310.2 487.9,310.2 488.7,310.3C489.4,310.4 490.2,310.7 490.7,311.1C491.3,311.4 491.9,311.9 492.2,312.5C492.5,313.0 492.7,313.6 492.7,314.2Z" fill="none" stroke="#111" stroke-width="0.45" opacity="0.55"/>
<path d="M491.6,314.2C491.6,314.7 491.4,315.2 491.2,315.6C490.9,316.0 490.5,316.4 490.1,316.7C489.6,316.9 489.0,317.2 488.4,317.3C487.8,317.4 487.2,317.4 486.6,317.3C486.0,317.2 485.4,316.9 484.9,316.7C484.5,316.4 484.1,316.0 483.8,315.6C483.6,315.2 483.4,314.7 483.4,314.2C483.4,313.7 483.6,313.2 483.8,312.8C484.1,312.4 484.5,312.0 484.9,311.7C485.4,311.5 486.0,311.2 486.6,311.1C487.2,311.0 487.8,311.0 488.4,311.1C489.0,311.2 489.6,311.5 490.1,311.7C490.5,312.0 490.9,312.4 491.2,312.8C491.4,313.2 491.6,313.7 491.6,314.2Z" fill="none" stroke="#111" stroke-width="0.45" opacity="0.66"/>
<path d="M490.5,314.2C490.5,314.5 490.4,314.9 490.2,315.2C490.0,315.5 489.7,315.8 489.4,316.0C489.0,316.2 488.6,316.4 488.2,316.4C487.7,316.5 487.3,316.5 486.8,316.4C486.4,316.4 486.0,316.2 485.6,316.0C485.3,315.8 485.0,315.5 484.8,315.2C484.6,314.9 484.5,314.5 484.5,314.2C484.5,313.9 484.6,313.5 484.8,313.2C485.0,312.9 485.3,312.6 485.6,312.4C486.0,312.2 486.4,312.0 486.8,312.0C487.3,311.9 487.7,311.9 488.2,312.0C488.6,312.0 489.0,312.2 489.4,312.4C489.7,312.6 490.0,312.9 490.2,313.2C490.4,313.5 490.5,313.9 490.5,314.2Z" fill="none" stroke="#111" stroke-width="0.45" opacity="0.78"/>
<path d="M489.4,314.2C489.4,314.4 489.3,314.6 489.2,314.8C489.1,315.0 488.9,315.2 488.7,315.3C488.5,315.5 488.2,315.6 487.9,315.6C487.7,315.7 487.3,315.7 487.1,315.6C486.8,315.6 486.5,315.5 486.3,315.3C486.1,315.2 485.9,315.0 485.8,314.8C485.7,314.6 485.6,314.4 485.6,314.2C485.6,314.0 485.7,313.8 485.8,313.6C485.9,313.4 486.1,313.2 486.3,313.1C486.5,312.9 486.8,312.8 487.1,312.8C487.3,312.7 487.7,312.7 487.9,312.8C488.2,312.8 488.5,312.9 488.7,313.1C488.9,313.2 489.1,313.4 489.2,313.6C489.3,313.8 489.4,314.0 489.4,314.2Z" fill="none" stroke="#111" stroke-width="0.45" opacity="0.89"/>
<path d="M488.3,314.2C488.3,314.3 488.3,314.4 488.2,314.5C488.2,314.5 488.1,314.6 488.0,314.7C487.9,314.7 487.8,314.8 487.7,314.8C487.6,314.8 487.4,314.8 487.3,314.8C487.2,314.8 487.1,314.7 487.0,314.7C486.9,314.6 486.8,314.5 486.8,314.5C486.7,314.4 486.7,314.3 486.7,314.2C486.7,314.1 486.7,314.0 486.8,313.9C486.8,313.9 486.9,313.8 487.0,313.7C487.1,313.7 487.2,313.6 487.3,313.6C487.4,313.6 487.6,313.6 487.7,313.6C487.8,313.6 487.9,313.7 488.0,313.7C488.1,313.8 488.2,313.9 488.2,313.9C488.3,314.0 488.3,314.1 488.3,314.2Z" fill="none" stroke="#111" stroke-width="0.45" opacity="1.00"/>
<ellipse cx="488.2" cy="314.4" rx="1.3" ry="1" fill="#fff"/>
<text x="468.00" y="279.20" font-size="8.3" text-anchor="middle" fill="#222" textLength="16.65" lengthAdjust="spacingAndGlyphs">45.6</text>
<text x="497.00" y="279.20" font-size="8.3" text-anchor="middle" fill="#222" textLength="16.65" lengthAdjust="spacingAndGlyphs">54.4</text>
<text x="365.20" y="309.75" font-size="10.8" fill="#2a2a2a" transform="rotate(-90 365.20 309.75)" textLength="13.50" lengthAdjust="spacingAndGlyphs">FSC</text>
<text x="378.00" y="343.60" font-size="10.8" fill="#2a2a2a" textLength="25.50" lengthAdjust="spacingAndGlyphs">icTCRβ</text>
<line x1="404.50" y1="339.70" x2="508.60" y2="339.70" stroke="#222" stroke-width="1" />
<path d="M510.60,339.70l-3.4,-1.5v3z" fill="#222" stroke="none" stroke-width="1" />
<path d="M432,77.5H439.2V207H433.5" fill="none" stroke="#c41e3a" stroke-width="0.9" stroke-dasharray="2.7 1.5"/>
<line x1="439.20" y1="125.00" x2="434.00" y2="125.00" stroke="#c41e3a" stroke-width="0.9" stroke-dasharray="2.7 1.5"/>
<path d="M432.3,125l3.2,-1.5v3z" fill="#c41e3a" stroke="none" stroke-width="1" />
<path d="M430.3,207l3.2,-1.5v3z" fill="#c41e3a" stroke="none" stroke-width="1" />
<path d="M368,92H348.2V281.3H366" fill="none" stroke="#4a2a58" stroke-width="1" stroke-dasharray="2.9 1.6"/>
<path d="M368.3,281.3l-3.4,-1.6v3.2z" fill="#3a2046" stroke="none" stroke-width="1" />
<text x="8.00" y="360.60" font-size="12" font-weight="700" fill="#231f20">I</text>
<text x="51.25" y="370.50" font-size="8.8" font-style="italic" fill="#2a2a2a" textLength="23.75" lengthAdjust="spacingAndGlyphs">LckCre</text>
<text x="121.25" y="370.50" font-size="8.8" font-style="italic" fill="#2a2a2a" textLength="36.75" lengthAdjust="spacingAndGlyphs">Cdc73Δ/Δ</text>
<rect x="30.50" y="374.50" width="63.00" height="61.00" fill="#fff" stroke="#7a7a7a" stroke-width="0.7" />
<line x1="35.54" y1="435.50" x2="35.54" y2="436.60" stroke="#555" stroke-width="0.5" />
<line x1="29.40" y1="430.62" x2="30.50" y2="430.62" stroke="#555" stroke-width="0.5" />
<line x1="38.69" y1="435.50" x2="38.69" y2="436.60" stroke="#555" stroke-width="0.5" />
<line x1="29.40" y1="427.57" x2="30.50" y2="427.57" stroke="#555" stroke-width="0.5" />
<line x1="49.40" y1="435.50" x2="49.40" y2="436.60" stroke="#555" stroke-width="0.5" />
<line x1="29.40" y1="417.20" x2="30.50" y2="417.20" stroke="#555" stroke-width="0.5" />
<line x1="60.11" y1="435.50" x2="60.11" y2="436.60" stroke="#555" stroke-width="0.5" />
<line x1="29.40" y1="406.83" x2="30.50" y2="406.83" stroke="#555" stroke-width="0.5" />
<line x1="70.82" y1="435.50" x2="70.82" y2="436.60" stroke="#555" stroke-width="0.5" />
<line x1="29.40" y1="396.46" x2="30.50" y2="396.46" stroke="#555" stroke-width="0.5" />
<line x1="81.53" y1="435.50" x2="81.53" y2="436.60" stroke="#555" stroke-width="0.5" />
<line x1="29.40" y1="386.09" x2="30.50" y2="386.09" stroke="#555" stroke-width="0.5" />
<line x1="90.35" y1="435.50" x2="90.35" y2="436.60" stroke="#555" stroke-width="0.5" />
<line x1="29.40" y1="377.55" x2="30.50" y2="377.55" stroke="#555" stroke-width="0.5" />
<line x1="34.28" y1="436.40" x2="38.06" y2="436.40" stroke="#222" stroke-width="0.8" />
<path d="M75.1,405.3h0.01M68.6,402.5h0.01M47.4,424.1h0.01M54.4,414.6h0.01M41.1,423.5h0.01M55.8,405.9h0.01M64.8,414.9h0.01M56.6,406.9h0.01M69.0,386.1h0.01M51.0,419.1h0.01M44.8,406.9h0.01M61.8,412.1h0.01M55.5,422.0h0.01M64.9,411.7h0.01M44.8,421.9h0.01M76.3,406.8h0.01M67.5,401.6h0.01M56.4,407.4h0.01M63.5,400.6h0.01M51.3,402.6h0.01M50.8,428.2h0.01M58.2,411.4h0.01M39.4,426.6h0.01M68.6,390.7h0.01M37.5,427.5h0.01M52.1,414.1h0.01M42.6,415.1h0.01M49.2,422.2h0.01M59.3,414.3h0.01M50.3,420.9h0.01M53.8,414.5h0.01M64.6,404.4h0.01M48.8,407.5h0.01M60.1,413.4h0.01M51.7,415.3h0.01M38.5,418.9h0.01M64.5,412.8h0.01M49.0,407.2h0.01M48.8,408.0h0.01M61.1,420.0h0.01M58.9,408.3h0.01M64.1,402.1h0.01M60.3,409.3h0.01M55.8,402.4h0.01M65.6,409.1h0.01M54.7,422.9h0.01M59.4,413.3h0.01M64.4,410.2h0.01M50.0,413.5h0.01M62.0,410.5h0.01M62.7,408.1h0.01M56.7,418.5h0.01M64.3,411.5h0.01M39.9,433.1h0.01M38.1,429.4h0.01M52.1,416.3h0.01M52.2,413.3h0.01M59.7,410.9h0.01M42.2,407.5h0.01M52.5,418.6h0.01M51.6,418.7h0.01M50.9,410.2h0.01M71.9,408.6h0.01M56.0,411.6h0.01M60.3,399.2h0.01M53.7,421.5h0.01M62.6,402.6h0.01M51.9,417.9h0.01M44.0,419.4h0.01M47.0,403.7h0.01M64.3,409.5h0.01M60.9,398.0h0.01M43.9,417.4h0.01M53.2,428.1h0.01M48.1,417.0h0.01M60.2,411.2h0.01M65.1,396.4h0.01M64.6,405.1h0.01M48.0,420.1h0.01M51.0,427.2h0.01M54.4,420.0h0.01M65.5,399.2h0.01M50.2,418.0h0.01M51.5,422.0h0.01M55.9,406.9h0.01M53.8,418.7h0.01M50.8,427.8h0.01M50.0,416.0h0.01M54.9,423.8h0.01M68.0,409.8h0.01M62.6,406.6h0.01M73.0,401.1h0.01M62.5,409.9h0.01M63.9,406.6h0.01M50.3,406.3h0.01M69.4,391.1h0.01M37.1,424.1h0.01M76.8,401.3h0.01M53.0,416.4h0.01M50.2,403.8h0.01M55.2,414.5h0.01M62.5,397.9h0.01M33.4,421.7h0.01M60.0,408.9h0.01M58.7,410.5h0.01M49.5,408.6h0.01M62.0,409.1h0.01M65.9,411.4h0.01M39.1,411.4h0.01M49.6,432.0h0.01M50.9,419.2h0.01M59.3,413.8h0.01M81.5,385.5h0.01M53.6,410.0h0.01M60.7,411.1h0.01M53.5,423.0h0.01M67.9,404.2h0.01M55.3,410.9h0.01M45.8,425.5h0.01M47.4,416.3h0.01M62.1,400.3h0.01M55.6,418.0h0.01M69.9,394.8h0.01M63.8,400.4h0.01M61.8,409.9h0.01M51.1,423.2h0.01M71.9,398.0h0.01M55.3,404.7h0.01M71.8,398.1h0.01M49.1,423.2h0.01M42.8,419.2h0.01M44.2,431.8h0.01M72.9,392.4h0.01M49.7,413.7h0.01M54.2,417.2h0.01M65.6,396.5h0.01M54.6,401.1h0.01M69.2,399.5h0.01M56.4,421.8h0.01M60.7,416.9h0.01M71.3,409.2h0.01M50.6,417.1h0.01M59.4,407.6h0.01M67.1,397.1h0.01M69.8,408.7h0.01M37.8,421.8h0.01M47.8,415.6h0.01M59.6,407.5h0.01M56.1,408.7h0.01M58.0,413.4h0.01M60.5,402.6h0.01M53.5,409.0h0.01M50.7,407.0h0.01M67.0,406.5h0.01M53.7,409.4h0.01M51.0,411.9h0.01M49.8,428.4h0.01M79.8,382.2h0.01M49.4,421.7h0.01M56.7,400.7h0.01M43.1,427.2h0.01M45.5,430.9h0.01M53.2,415.0h0.01M55.1,408.9h0.01M54.8,410.9h0.01M66.9,401.5h0.01M55.0,409.3h0.01M49.4,412.9h0.01M63.2,417.7h0.01M66.9,403.7h0.01M74.0,402.5h0.01M58.1,408.9h0.01M48.9,420.0h0.01M49.1,407.4h0.01M53.0,427.7h0.01M60.4,411.3h0.01M57.1,407.8h0.01M64.4,411.6h0.01M56.2,415.2h0.01M63.8,401.7h0.01M55.9,407.0h0.01M60.7,405.2h0.01M63.8,399.7h0.01M69.8,397.4h0.01M47.1,413.8h0.01M59.6,402.9h0.01M76.0,402.5h0.01M56.5,401.9h0.01M54.4,408.5h0.01M43.6,425.9h0.01M73.2,392.8h0.01M67.9,409.8h0.01M48.0,416.8h0.01M60.8,410.8h0.01M48.4,420.2h0.01M59.3,415.3h0.01M42.1,420.7h0.01M51.8,413.5h0.01M60.8,403.3h0.01M77.0,388.2h0.01M67.3,408.6h0.01M64.2,403.1h0.01M49.4,416.2h0.01M62.8,406.6h0.01M63.7,408.9h0.01M46.6,414.0h0.01M67.2,398.6h0.01M50.3,429.6h0.01M47.1,413.7h0.01M61.1,399.7h0.01M53.4,421.3h0.01M58.7,426.4h0.01M66.8,420.3h0.01M58.2,410.3h0.01M51.0,414.9h0.01M52.8,414.6h0.01M59.1,400.6h0.01M42.5,410.0h0.01M69.0,399.7h0.01M56.7,410.9h0.01M66.3,404.8h0.01M63.4,404.1h0.01M55.8,411.7h0.01M45.4,428.8h0.01M40.8,418.9h0.01M62.7,406.3h0.01M69.4,411.4h0.01M76.8,402.4h0.01M62.0,420.3h0.01M49.5,417.2h0.01M64.4,402.9h0.01M54.8,410.6h0.01M59.9,391.8h0.01M70.9,405.6h0.01M58.3,413.6h0.01M52.8,422.2h0.01M78.9,385.1h0.01M68.2,400.5h0.01M52.6,411.7h0.01M51.3,407.7h0.01M51.5,427.2h0.01M58.7,413.2h0.01M61.1,410.5h0.01M41.4,418.7h0.01M65.5,410.0h0.01M45.7,417.3h0.01M50.4,421.3h0.01M59.9,408.6h0.01M52.8,417.1h0.01M54.8,408.0h0.01M57.5,406.1h0.01M66.9,406.3h0.01M53.3,418.2h0.01M55.2,407.9h0.01M44.0,411.5h0.01M48.9,420.6h0.01M64.8,399.8h0.01M59.5,411.1h0.01M64.9,406.9h0.01M69.6,404.8h0.01M52.1,418.1h0.01M37.3,427.6h0.01M59.1,413.0h0.01M57.3,416.3h0.01M65.0,398.2h0.01M53.4,416.0h0.01M61.5,407.9h0.01M59.8,400.5h0.01M67.2,409.6h0.01M67.5,404.4h0.01M56.4,414.2h0.01M51.1,405.7h0.01M51.9,415.3h0.01M49.7,411.3h0.01M53.9,411.3h0.01M57.4,410.3h0.01M61.7,413.4h0.01M59.5,411.5h0.01M37.1,409.0h0.01M56.0,416.5h0.01M52.1,411.2h0.01M49.8,423.4h0.01M53.5,415.8h0.01M68.0,404.7h0.01M74.9,394.0h0.01M67.1,406.5h0.01M51.8,416.0h0.01M49.0,411.3h0.01M56.9,405.9h0.01M68.3,395.9h0.01M52.9,415.3h0.01M52.9,415.0h0.01M47.3,410.2h0.01M33.0,424.0h0.01M70.9,401.5h0.01M56.7,408.1h0.01M56.8,413.2h0.01M43.0,418.3h0.01M53.9,422.2h0.01M52.3,423.1h0.01M62.3,424.6h0.01M56.5,411.7h0.01M71.0,404.3h0.01M61.1,400.1h0.01M71.9,408.9h0.01M54.5,410.0h0.01M51.5,422.8h0.01M59.4,408.9h0.01M52.3,426.1h0.01M64.1,404.5h0.01M65.9,396.6h0.01M60.9,400.8h0.01M67.6,399.6h0.01M65.6,400.5h0.01M64.1,412.3h0.01M50.0,418.0h0.01M53.0,420.3h0.01M50.8,414.1h0.01M59.2,416.8h0.01M48.4,418.6h0.01M52.5,411.4h0.01M50.0,416.2h0.01M53.4,403.8h0.01M54.9,404.9h0.01M64.7,419.4h0.01M48.9,417.9h0.01M58.2,416.5h0.01M47.1,407.9h0.01M44.4,423.5h0.01" stroke="#000" stroke-width="0.6" stroke-linecap="round" opacity="0.4" fill="none"/>
<path d="M74.6,401.5h0.01M67.5,403.3h0.01M64.9,408.4h0.01M67.8,395.4h0.01M75.7,404.7h0.01M60.3,396.4h0.01M59.2,397.6h0.01M70.5,399.7h0.01M69.2,399.6h0.01M78.5,391.4h0.01M54.5,393.7h0.01M70.2,394.0h0.01M69.1,400.9h0.01M69.7,389.1h0.01M62.7,402.6h0.01M71.7,403.6h0.01M60.9,391.3h0.01M75.0,385.7h0.01M63.4,404.1h0.01M68.0,413.5h0.01M73.2,399.2h0.01M72.1,409.6h0.01M72.4,392.5h0.01M75.6,385.0h0.01M66.2,401.9h0.01M68.7,393.2h0.01M86.0,397.3h0.01M63.6,403.8h0.01M64.0,399.0h0.01M78.0,394.1h0.01M69.4,398.9h0.01M63.9,408.6h0.01M67.4,407.0h0.01M65.3,398.1h0.01M82.1,392.1h0.01M63.7,398.6h0.01M79.4,403.4h0.01M73.8,393.5h0.01M59.6,400.1h0.01M69.7,399.6h0.01M68.1,406.5h0.01M60.8,399.2h0.01M75.1,397.8h0.01M69.4,403.9h0.01M63.1,411.4h0.01M91.9,396.6h0.01M75.8,406.0h0.01M73.7,403.5h0.01M68.9,399.7h0.01M69.7,388.1h0.01M72.7,406.4h0.01M48.2,412.8h0.01M78.0,395.3h0.01M75.0,403.1h0.01M67.9,388.3h0.01M61.9,401.0h0.01M70.0,395.4h0.01M73.4,405.7h0.01M50.0,416.2h0.01M78.8,396.4h0.01M70.3,398.2h0.01M73.4,397.4h0.01M66.3,404.6h0.01M63.5,401.5h0.01M64.3,394.6h0.01M74.5,395.0h0.01M60.7,402.9h0.01M62.9,410.4h0.01M79.0,404.3h0.01M67.3,403.6h0.01M60.3,398.7h0.01M70.3,400.2h0.01M76.5,392.7h0.01M81.0,397.2h0.01M62.8,401.2h0.01M67.1,409.5h0.01M67.9,404.3h0.01M76.5,392.8h0.01M67.1,401.7h0.01M60.8,396.0h0.01M63.3,403.8h0.01M75.9,404.7h0.01M57.1,408.4h0.01M63.9,408.2h0.01M75.7,395.4h0.01M80.5,389.8h0.01M63.3,395.8h0.01M65.2,401.4h0.01M78.4,400.5h0.01M66.1,396.1h0.01M66.3,397.7h0.01M65.4,398.4h0.01M63.1,401.7h0.01M65.6,399.6h0.01M59.6,404.8h0.01M76.0,398.2h0.01M62.9,395.5h0.01M57.0,398.8h0.01M64.3,399.5h0.01M57.9,408.8h0.01M56.4,401.9h0.01M66.5,404.8h0.01M83.3,388.3h0.01M66.9,397.5h0.01M68.0,398.2h0.01M86.4,382.3h0.01M67.2,395.1h0.01M71.5,394.2h0.01M71.8,390.8h0.01M86.8,389.5h0.01M58.1,408.9h0.01M63.5,395.1h0.01M72.1,393.8h0.01M74.3,392.4h0.01M77.3,394.6h0.01M73.2,397.1h0.01M66.3,398.1h0.01M75.2,399.0h0.01M72.4,409.4h0.01M80.2,385.6h0.01" stroke="#000" stroke-width="0.6" stroke-linecap="round" opacity="0.3" fill="none"/>
<path d="M59.7,390.9h0.01M52.1,390.1h0.01M64.7,390.0h0.01M49.3,390.1h0.01M67.2,392.5h0.01M38.3,390.5h0.01M53.2,390.5h0.01M46.9,389.7h0.01M52.2,389.7h0.01M57.4,393.8h0.01M47.1,392.9h0.01M53.3,390.2h0.01M46.9,389.9h0.01M51.0,391.8h0.01M58.3,390.7h0.01M39.4,390.9h0.01M64.9,391.3h0.01M49.4,388.5h0.01M46.2,391.6h0.01M41.6,392.6h0.01M45.0,390.0h0.01M44.9,390.9h0.01M58.9,390.3h0.01M34.2,390.9h0.01M54.6,392.8h0.01M40.0,392.7h0.01M56.0,391.5h0.01M43.2,390.0h0.01M41.5,392.1h0.01M51.9,392.3h0.01M66.1,391.0h0.01M49.6,393.3h0.01M38.4,390.5h0.01M46.7,390.6h0.01M51.3,390.0h0.01M60.3,389.4h0.01M42.8,389.0h0.01M37.6,391.7h0.01M55.6,390.8h0.01M57.5,391.7h0.01M44.9,391.0h0.01M53.3,393.4h0.01M46.1,391.4h0.01M54.8,392.4h0.01M53.8,392.3h0.01M40.6,390.7h0.01M32.9,390.9h0.01M70.6,391.3h0.01M50.8,391.3h0.01M51.3,389.5h0.01M43.9,390.8h0.01M51.5,390.0h0.01M49.1,390.1h0.01M38.3,390.2h0.01M42.9,392.0h0.01M61.9,391.7h0.01M48.1,390.4h0.01M36.1,390.4h0.01M63.8,392.4h0.01M52.0,390.7h0.01" stroke="#000" stroke-width="0.6" stroke-linecap="round" opacity="0.35" fill="none"/>
<path d="M41.0,390.5C42.3,390.0 46.5,389.2 50.0,388.9C53.5,388.6 58.7,388.5 62.0,388.8C65.3,389.1 70.0,390.0 70.0,390.6C70.0,391.2 65.3,392.2 62.0,392.6C58.7,393.0 53.3,393.1 50.0,393.0C46.7,392.9 43.5,392.2 42.0,391.8C40.5,391.4 39.7,391.0 41.0,390.5Z" fill="#000" stroke="#666" stroke-width="0.4" fill-opacity="0.06"/>
<path d="M46.0,390.6C47.3,390.3 52.0,390.0 55.0,390.0C58.0,390.0 63.8,390.1 64.0,390.4C64.2,390.7 58.8,391.6 56.0,391.8C53.2,392.0 48.7,391.8 47.0,391.6C45.3,391.4 44.7,390.9 46.0,390.6Z" fill="none" stroke="#777" stroke-width="0.35" />
<path d="M86.5,383.3C87.1,384.0 85.2,386.9 84.5,389.0C83.8,391.1 83.2,394.0 82.5,396.0C81.8,398.0 81.1,400.5 80.0,401.0C78.9,401.5 77.3,399.0 76.0,399.0C74.7,399.0 73.2,400.0 72.0,401.0C70.8,402.0 69.5,405.2 68.5,405.0C67.5,404.8 66.1,401.8 66.0,400.0C65.9,398.2 68.0,396.0 68.0,394.5C68.0,393.0 65.7,391.8 66.0,391.0C66.3,390.2 68.3,390.0 70.0,389.5C71.7,389.0 74.2,388.8 76.0,388.0C77.8,387.2 79.2,385.8 81.0,385.0C82.8,384.2 85.9,382.6 86.5,383.3Z" fill="#000" stroke="#444" stroke-width="0.45" fill-opacity="0.07"/>
<path d="M85.5,384.5C86.0,385.0 83.8,388.1 83.0,390.0C82.2,391.9 81.5,394.8 80.5,396.0C79.5,397.2 78.2,397.0 77.0,397.0C75.8,397.0 74.2,396.8 73.0,396.0C71.8,395.2 69.8,393.6 70.0,392.5C70.2,391.4 72.3,390.4 74.0,389.5C75.7,388.6 78.1,387.8 80.0,387.0C81.9,386.2 85.0,384.0 85.5,384.5Z" fill="none" stroke="#555" stroke-width="0.4" />
<path d="M69.0,402.0C69.7,402.1 70.5,406.1 71.5,406.5C72.5,406.9 73.8,405.1 75.0,404.5C76.2,403.9 78.7,402.4 79.0,403.0C79.3,403.6 78.3,407.0 77.0,408.0C75.7,409.0 72.6,409.3 71.0,409.0C69.4,408.7 67.8,407.2 67.5,406.0C67.2,404.8 68.3,401.9 69.0,402.0Z" fill="none" stroke="#666" stroke-width="0.4" />
<path d="M69.5,407.0C70.0,406.5 71.5,404.1 72.5,404.2C73.5,404.3 74.5,406.3 75.5,407.5C76.5,408.7 77.6,411.4 78.5,411.5C79.4,411.6 80.2,409.6 80.8,408.0C81.4,406.4 81.6,403.8 82.0,402.0C82.4,400.2 82.8,398.2 83.0,397.5" fill="none" stroke="#555" stroke-width="0.5" />
<path d="M71.5,408.5C71.8,408.2 72.2,406.2 73.0,406.5C73.8,406.8 75.0,408.8 76.0,410.0C77.0,411.2 77.8,413.7 78.8,413.5C79.8,413.3 81.2,410.9 82.0,409.0C82.8,407.1 83.2,403.2 83.5,402.0" fill="none" stroke="#888" stroke-width="0.4" />
<path d="M80.2,389.8C80.5,390.2 80.6,390.7 80.7,391.3C80.7,391.8 80.7,392.4 80.5,392.9C80.3,393.4 79.9,393.9 79.5,394.3C79.1,394.7 78.6,395.1 78.1,395.3C77.6,395.6 76.9,395.7 76.4,395.7C75.8,395.7 75.3,395.6 74.8,395.4C74.3,395.2 73.9,394.8 73.6,394.4C73.3,394.0 73.2,393.5 73.1,392.9C73.1,392.4 73.1,391.8 73.3,391.3C73.5,390.8 73.9,390.3 74.3,389.9C74.7,389.5 75.2,389.1 75.7,388.9C76.2,388.6 76.9,388.5 77.4,388.5C78.0,388.5 78.5,388.6 79.0,388.8C79.5,389.0 79.9,389.4 80.2,389.8Z" fill="url(#gdark)" opacity="1.0" stroke="none"/>
<path d="M80.3,389.7C80.6,390.1 80.8,390.7 80.9,391.2C80.9,391.7 80.9,392.4 80.7,392.9C80.5,393.4 80.1,394.0 79.7,394.4C79.3,394.9 78.7,395.3 78.1,395.5C77.6,395.8 76.9,395.9 76.4,395.9C75.8,395.9 75.2,395.8 74.7,395.5C74.2,395.3 73.8,394.9 73.5,394.5C73.2,394.1 73.0,393.5 72.9,393.0C72.9,392.5 72.9,391.8 73.1,391.3C73.3,390.8 73.7,390.2 74.1,389.8C74.5,389.3 75.1,388.9 75.7,388.7C76.2,388.4 76.9,388.3 77.4,388.3C78.0,388.3 78.6,388.4 79.1,388.7C79.6,388.9 80.0,389.3 80.3,389.7Z" fill="none" stroke="#222" stroke-width="0.4" opacity="0.55"/>
<path d="M79.7,390.2C79.9,390.5 80.1,391.0 80.1,391.4C80.1,391.8 80.1,392.3 79.9,392.7C79.7,393.2 79.5,393.6 79.1,394.0C78.8,394.3 78.3,394.6 77.9,394.8C77.5,395.0 76.9,395.1 76.5,395.1C76.0,395.2 75.5,395.0 75.1,394.9C74.7,394.7 74.4,394.4 74.1,394.0C73.9,393.7 73.7,393.2 73.7,392.8C73.7,392.4 73.7,391.9 73.9,391.5C74.1,391.0 74.3,390.6 74.7,390.2C75.0,389.9 75.5,389.6 75.9,389.4C76.3,389.2 76.9,389.1 77.3,389.1C77.8,389.0 78.3,389.2 78.7,389.3C79.1,389.5 79.4,389.8 79.7,390.2Z" fill="none" stroke="#222" stroke-width="0.4" opacity="0.66"/>
<path d="M79.0,390.7C79.1,390.9 79.3,391.2 79.3,391.6C79.3,391.9 79.3,392.3 79.2,392.6C79.0,392.9 78.8,393.2 78.6,393.5C78.3,393.8 78.0,394.0 77.6,394.1C77.3,394.3 76.9,394.4 76.6,394.4C76.2,394.4 75.9,394.3 75.6,394.2C75.3,394.0 75.0,393.8 74.8,393.5C74.7,393.3 74.5,393.0 74.5,392.6C74.5,392.3 74.5,391.9 74.6,391.6C74.8,391.3 75.0,391.0 75.2,390.7C75.5,390.4 75.8,390.2 76.2,390.1C76.5,389.9 76.9,389.8 77.2,389.8C77.6,389.8 77.9,389.9 78.2,390.0C78.5,390.2 78.8,390.4 79.0,390.7Z" fill="none" stroke="#222" stroke-width="0.4" opacity="0.78"/>
<path d="M78.3,391.1C78.4,391.3 78.5,391.5 78.5,391.7C78.5,392.0 78.5,392.2 78.4,392.4C78.3,392.6 78.2,392.9 78.0,393.0C77.8,393.2 77.6,393.4 77.4,393.5C77.2,393.6 76.9,393.6 76.7,393.6C76.5,393.6 76.2,393.6 76.0,393.5C75.8,393.4 75.6,393.2 75.5,393.1C75.4,392.9 75.3,392.7 75.3,392.5C75.3,392.2 75.3,392.0 75.4,391.8C75.5,391.6 75.6,391.3 75.8,391.2C76.0,391.0 76.2,390.8 76.4,390.7C76.6,390.6 76.9,390.6 77.1,390.6C77.3,390.6 77.6,390.6 77.8,390.7C78.0,390.8 78.2,391.0 78.3,391.1Z" fill="none" stroke="#222" stroke-width="0.4" opacity="0.89"/>
<path d="M77.6,391.6C77.6,391.7 77.7,391.8 77.7,391.9C77.7,392.0 77.7,392.2 77.7,392.3C77.6,392.4 77.5,392.5 77.5,392.6C77.4,392.7 77.3,392.7 77.1,392.8C77.0,392.8 76.9,392.9 76.8,392.9C76.7,392.9 76.6,392.8 76.5,392.8C76.4,392.7 76.3,392.7 76.2,392.6C76.2,392.5 76.1,392.4 76.1,392.3C76.1,392.2 76.1,392.0 76.1,391.9C76.2,391.8 76.3,391.7 76.3,391.6C76.4,391.5 76.5,391.5 76.7,391.4C76.8,391.4 76.9,391.3 77.0,391.3C77.1,391.3 77.2,391.4 77.3,391.4C77.4,391.5 77.5,391.5 77.6,391.6Z" fill="none" stroke="#222" stroke-width="0.4" opacity="1.00"/>
<ellipse cx="77" cy="392" rx="2.4" ry="2.1" fill="#000" opacity="0.95" transform="rotate(-35 77 392)"/>
<rect x="49" y="408" width="14.5" height="5.6" rx="2.6" fill="#fff" stroke="#555" stroke-width="0.45" transform="rotate(-33 56.3 411)"/>
<rect x="47" y="406.3" width="19" height="9" rx="4" fill="none" stroke="#888" stroke-width="0.4" transform="rotate(-33 56.3 411)"/>
<rect x="51.5" y="409.4" width="9.5" height="2.8" rx="1.4" fill="none" stroke="#777" stroke-width="0.35" transform="rotate(-33 56.3 411)"/>
<rect x="31.00" y="375.00" width="33.70" height="23.00" fill="none" stroke="#1f4e8c" stroke-width="1.25" />
<rect x="64.70" y="398.80" width="28.80" height="36.70" fill="none" stroke="#1f4e8c" stroke-width="1.25" />
<text x="32.00" y="382.30" font-size="8.3" fill="#222" textLength="15.90" lengthAdjust="spacingAndGlyphs">5.51</text>
<text x="90.90" y="382.30" font-size="8.3" text-anchor="end" fill="#222" textLength="15.90" lengthAdjust="spacingAndGlyphs">83.7</text>
<text x="32.00" y="434.90" font-size="8.3" fill="#222" textLength="15.90" lengthAdjust="spacingAndGlyphs">6.25</text>
<text x="92.00" y="434.90" font-size="8.3" text-anchor="end" fill="#222" textLength="15.90" lengthAdjust="spacingAndGlyphs">4.56</text>
<rect x="107.00" y="375.00" width="63.00" height="61.50" fill="#fff" stroke="#7a7a7a" stroke-width="0.7" />
<line x1="112.04" y1="436.50" x2="112.04" y2="437.60" stroke="#555" stroke-width="0.5" />
<line x1="105.90" y1="431.58" x2="107.00" y2="431.58" stroke="#555" stroke-width="0.5" />
<line x1="115.19" y1="436.50" x2="115.19" y2="437.60" stroke="#555" stroke-width="0.5" />
<line x1="105.90" y1="428.50" x2="107.00" y2="428.50" stroke="#555" stroke-width="0.5" />
<line x1="125.90" y1="436.50" x2="125.90" y2="437.60" stroke="#555" stroke-width="0.5" />
<line x1="105.90" y1="418.05" x2="107.00" y2="418.05" stroke="#555" stroke-width="0.5" />
<line x1="136.61" y1="436.50" x2="136.61" y2="437.60" stroke="#555" stroke-width="0.5" />
<line x1="105.90" y1="407.60" x2="107.00" y2="407.60" stroke="#555" stroke-width="0.5" />
<line x1="147.32" y1="436.50" x2="147.32" y2="437.60" stroke="#555" stroke-width="0.5" />
<line x1="105.90" y1="397.14" x2="107.00" y2="397.14" stroke="#555" stroke-width="0.5" />
<line x1="158.03" y1="436.50" x2="158.03" y2="437.60" stroke="#555" stroke-width="0.5" />
<line x1="105.90" y1="386.69" x2="107.00" y2="386.69" stroke="#555" stroke-width="0.5" />
<line x1="166.85" y1="436.50" x2="166.85" y2="437.60" stroke="#555" stroke-width="0.5" />
<line x1="105.90" y1="378.07" x2="107.00" y2="378.07" stroke="#555" stroke-width="0.5" />
<line x1="110.78" y1="437.40" x2="114.56" y2="437.40" stroke="#222" stroke-width="0.8" />
<line x1="141.50" y1="375.00" x2="141.50" y2="436.50" stroke="#7a7a7a" stroke-width="0.6" />
<line x1="107.00" y1="399.60" x2="170.00" y2="399.60" stroke="#7a7a7a" stroke-width="0.6" />
<path d="M124.0,417.8h0.01M123.9,417.8h0.01M116.4,414.5h0.01M120.6,423.5h0.01M111.8,425.5h0.01M123.2,409.6h0.01M124.2,415.1h0.01M121.7,417.8h0.01M118.3,399.2h0.01M130.8,413.8h0.01M140.4,417.5h0.01M117.2,418.9h0.01M145.8,423.6h0.01M113.3,413.3h0.01M108.2,419.9h0.01M129.5,405.1h0.01M128.5,422.3h0.01M131.9,408.2h0.01M117.2,404.2h0.01M111.3,416.8h0.01M124.4,425.5h0.01M126.7,411.2h0.01M110.0,427.6h0.01M125.6,413.8h0.01M114.1,404.9h0.01M130.2,405.5h0.01M129.7,419.6h0.01M120.3,399.9h0.01M128.0,426.4h0.01M115.9,403.0h0.01M134.7,415.3h0.01M117.9,424.8h0.01M121.3,418.0h0.01M120.1,407.5h0.01M126.2,406.6h0.01M136.1,423.7h0.01M145.3,422.8h0.01M139.8,416.3h0.01M119.7,418.2h0.01M114.7,420.5h0.01M119.6,416.3h0.01M115.6,412.9h0.01M133.6,412.2h0.01M117.4,416.6h0.01M132.6,412.5h0.01M112.5,400.5h0.01M110.9,423.4h0.01M123.1,418.3h0.01M134.5,416.6h0.01M128.7,409.7h0.01M108.2,419.6h0.01M123.1,419.1h0.01M113.6,412.9h0.01M143.8,406.8h0.01M125.0,425.5h0.01M121.7,415.2h0.01M119.7,425.3h0.01M123.1,410.9h0.01M128.3,412.0h0.01M119.0,427.5h0.01M133.6,415.1h0.01M131.9,421.3h0.01M129.7,414.5h0.01M124.7,417.7h0.01M129.5,417.2h0.01M118.6,413.5h0.01M128.5,405.6h0.01M123.9,420.7h0.01M125.7,411.6h0.01M123.8,409.9h0.01M133.6,410.9h0.01M107.7,403.7h0.01M126.9,415.9h0.01M119.4,402.8h0.01M122.5,406.9h0.01M117.6,414.1h0.01M116.5,416.8h0.01M116.8,410.1h0.01M121.8,426.8h0.01M139.4,422.3h0.01M116.8,414.2h0.01M132.9,421.1h0.01M108.1,413.7h0.01M116.8,420.6h0.01M130.2,409.5h0.01M145.0,411.7h0.01M147.9,412.7h0.01M123.2,430.5h0.01M118.8,410.1h0.01M138.4,413.8h0.01M128.7,403.3h0.01M141.5,422.6h0.01M127.5,420.2h0.01M119.1,410.1h0.01M108.6,417.3h0.01M136.1,421.5h0.01M133.0,420.2h0.01M115.0,402.9h0.01M130.3,415.6h0.01M133.6,411.8h0.01M115.4,418.0h0.01M118.6,400.1h0.01M118.0,406.6h0.01M113.1,409.4h0.01M133.3,434.3h0.01M140.9,410.6h0.01M135.2,413.5h0.01M127.9,408.3h0.01M123.3,399.8h0.01M141.5,407.6h0.01M129.7,409.1h0.01M126.6,404.1h0.01M120.3,422.0h0.01M129.8,397.5h0.01M132.3,402.9h0.01M126.8,418.6h0.01M117.7,411.4h0.01M121.6,417.6h0.01M132.9,425.8h0.01M127.2,431.2h0.01M114.7,429.4h0.01M121.4,420.7h0.01M122.8,414.9h0.01M115.0,417.5h0.01M143.8,415.4h0.01M123.8,414.2h0.01M131.0,412.4h0.01M124.0,416.0h0.01M136.8,422.3h0.01M113.7,408.7h0.01M124.2,421.4h0.01M133.5,412.4h0.01M144.8,412.8h0.01M137.8,426.3h0.01M139.6,415.9h0.01M129.6,401.1h0.01M131.0,423.2h0.01M123.0,423.0h0.01M129.7,427.2h0.01M108.4,407.1h0.01M114.6,405.2h0.01M140.1,406.2h0.01M115.9,410.7h0.01M132.7,410.2h0.01M131.2,418.9h0.01M117.7,393.9h0.01M115.0,403.5h0.01M140.0,408.0h0.01M113.5,417.4h0.01M124.5,406.1h0.01M134.7,422.0h0.01M126.7,407.7h0.01M115.5,396.6h0.01M127.8,417.5h0.01M115.0,414.4h0.01M156.1,404.5h0.01M119.8,409.9h0.01M130.1,413.0h0.01M133.7,418.5h0.01M135.4,415.2h0.01M126.5,402.3h0.01M124.7,421.7h0.01M114.0,414.5h0.01M116.8,405.5h0.01M117.9,425.0h0.01M130.7,413.9h0.01M123.2,415.2h0.01M126.8,415.7h0.01M115.6,391.8h0.01M130.9,403.8h0.01M122.6,413.3h0.01M118.2,418.7h0.01M121.3,411.7h0.01M114.6,411.7h0.01M113.8,414.5h0.01M137.0,422.7h0.01M128.2,402.4h0.01M134.1,422.1h0.01M144.2,394.8h0.01M124.2,411.2h0.01M134.7,404.8h0.01M120.3,434.0h0.01M133.8,397.0h0.01M124.2,425.8h0.01M117.9,419.2h0.01M125.0,401.6h0.01M117.8,423.8h0.01M135.6,408.9h0.01M135.1,408.0h0.01M126.4,413.9h0.01M111.7,416.8h0.01M120.2,390.6h0.01M115.9,406.8h0.01M115.8,405.7h0.01M117.2,393.1h0.01M132.8,414.7h0.01M126.5,411.8h0.01M124.6,411.8h0.01M113.3,401.0h0.01M124.7,422.8h0.01M126.3,427.9h0.01M110.6,411.8h0.01M117.9,424.6h0.01M140.7,409.6h0.01M131.2,412.0h0.01M114.2,413.1h0.01M113.8,427.4h0.01M129.8,424.3h0.01M127.5,393.2h0.01M131.9,414.8h0.01M133.9,428.7h0.01M113.9,420.8h0.01M127.3,412.6h0.01M121.2,418.6h0.01M129.7,419.7h0.01M120.0,402.7h0.01M137.0,425.2h0.01M118.4,413.8h0.01M131.9,398.9h0.01M128.9,434.9h0.01M126.7,408.0h0.01M144.1,414.1h0.01M126.1,410.4h0.01M125.8,398.6h0.01M111.4,401.3h0.01M132.9,413.2h0.01M135.3,396.5h0.01M118.1,426.6h0.01M116.2,398.0h0.01M116.7,411.1h0.01M123.9,425.3h0.01M137.1,427.4h0.01M129.7,409.7h0.01M119.1,401.3h0.01M136.5,424.8h0.01M124.9,406.3h0.01M130.6,418.2h0.01M125.5,404.0h0.01M126.4,409.1h0.01M131.3,419.2h0.01M128.3,410.3h0.01M139.0,420.7h0.01M136.5,421.3h0.01M130.5,417.4h0.01M113.5,398.3h0.01M114.8,419.3h0.01M133.0,415.6h0.01M124.9,429.8h0.01M120.1,398.6h0.01M108.8,411.2h0.01M130.9,420.4h0.01" stroke="#000" stroke-width="0.6" stroke-linecap="round" opacity="0.4" fill="none"/>
<path d="M127.4,394.9h0.01M129.4,387.5h0.01M125.5,394.6h0.01M141.2,385.6h0.01M118.4,391.6h0.01M155.0,385.4h0.01M115.2,393.0h0.01M136.0,388.1h0.01M129.7,393.3h0.01M109.5,390.9h0.01M137.1,395.4h0.01M143.7,390.7h0.01M113.0,397.4h0.01M139.1,388.0h0.01M142.2,396.0h0.01M128.4,379.7h0.01M124.5,387.4h0.01M120.2,390.6h0.01M117.3,392.9h0.01M152.2,385.3h0.01M142.2,388.5h0.01M136.4,390.4h0.01M145.1,387.6h0.01M138.6,387.3h0.01M132.7,390.9h0.01M142.8,383.4h0.01M114.1,397.7h0.01M134.5,399.1h0.01M117.9,392.0h0.01M137.1,399.5h0.01M129.4,388.9h0.01M138.4,390.5h0.01M121.2,394.7h0.01M107.6,386.1h0.01M146.0,388.6h0.01M126.2,392.8h0.01M143.2,393.5h0.01M118.7,388.3h0.01M142.3,390.4h0.01M122.6,395.2h0.01M143.4,401.4h0.01M117.4,387.6h0.01M121.9,392.7h0.01M124.4,396.3h0.01M122.5,389.7h0.01M136.7,392.0h0.01M118.1,398.2h0.01M136.8,388.6h0.01M132.5,385.7h0.01M115.6,389.6h0.01M134.3,391.5h0.01M120.9,384.4h0.01M110.3,398.7h0.01M134.3,387.2h0.01M143.9,393.6h0.01M125.2,388.1h0.01M143.3,392.6h0.01M149.2,392.7h0.01M123.2,388.1h0.01M121.8,392.2h0.01M133.0,393.9h0.01M135.3,386.0h0.01M127.6,386.5h0.01M135.6,384.7h0.01M123.2,386.9h0.01M122.8,389.8h0.01M147.7,389.8h0.01M113.2,389.6h0.01M138.8,393.7h0.01M132.8,400.6h0.01M143.0,391.4h0.01M144.2,384.6h0.01M128.0,386.8h0.01M132.1,398.8h0.01M124.2,398.6h0.01M118.1,397.8h0.01M110.2,386.9h0.01M141.7,390.6h0.01M131.7,390.9h0.01M132.1,390.1h0.01M118.6,389.6h0.01M131.3,386.7h0.01M135.5,399.5h0.01M110.9,388.4h0.01M126.7,391.1h0.01M131.1,387.5h0.01M129.6,391.0h0.01M129.0,398.4h0.01M131.5,383.9h0.01" stroke="#000" stroke-width="0.6" stroke-linecap="round" opacity="0.3" fill="none"/>
<path d="M141.3,412.5h0.01M149.7,403.3h0.01M142.8,405.6h0.01M151.4,402.7h0.01M149.6,414.8h0.01M157.3,412.2h0.01M150.8,397.6h0.01M157.3,419.5h0.01M160.7,416.9h0.01M153.9,410.9h0.01M151.9,417.6h0.01M150.2,424.5h0.01M157.3,405.5h0.01M152.0,395.7h0.01M147.0,405.7h0.01M168.7,401.8h0.01M158.2,408.6h0.01M150.0,412.8h0.01M138.5,415.3h0.01M165.2,410.3h0.01M151.6,409.2h0.01M156.5,404.2h0.01M152.8,411.9h0.01M149.6,411.0h0.01M154.3,413.5h0.01M145.3,403.9h0.01M149.1,417.2h0.01M153.7,395.3h0.01M143.3,422.9h0.01M154.3,398.1h0.01M145.8,409.1h0.01M161.7,420.4h0.01M149.5,405.7h0.01M165.0,400.5h0.01M162.6,410.6h0.01M152.6,417.9h0.01M155.3,401.6h0.01M141.6,408.1h0.01M155.5,418.5h0.01M134.2,418.3h0.01M156.2,419.7h0.01M157.4,409.6h0.01M154.9,411.1h0.01M147.7,407.1h0.01M152.9,404.5h0.01M142.0,396.9h0.01M155.4,412.0h0.01M152.7,399.0h0.01M157.8,405.0h0.01M137.9,420.0h0.01" stroke="#000" stroke-width="0.6" stroke-linecap="round" opacity="0.3" fill="none"/>
<path d="M107.8,402.0C109.5,396.8 114.6,401.7 118.0,401.5C121.4,401.3 125.2,400.8 128.0,401.0C130.8,401.2 133.2,401.5 135.0,402.5C136.8,403.5 138.4,405.2 138.8,407.0C139.2,408.8 138.3,410.8 137.5,413.0C136.7,415.2 135.2,417.5 134.0,420.0C132.8,422.5 131.7,425.8 130.0,428.0C128.3,430.2 126.7,432.4 124.0,433.5C121.3,434.6 116.7,434.6 114.0,434.5C111.3,434.4 108.8,438.4 107.8,433.0C106.8,427.6 106.1,407.2 107.8,402.0Z" fill="none" stroke="#555" stroke-width="0.4" opacity="0.8"/>
<path d="M110.6,403.5C112.1,399.0 116.5,403.3 119.4,403.1C122.3,403.0 125.6,402.5 128.0,402.7C130.4,402.8 132.5,403.1 134.0,404.0C135.6,404.8 136.9,406.3 137.3,407.8C137.6,409.3 136.9,411.1 136.2,413.0C135.5,414.9 134.2,416.9 133.2,419.0C132.1,421.2 131.2,424.0 129.7,425.9C128.3,427.8 126.9,429.7 124.6,430.6C122.3,431.6 118.3,431.6 116.0,431.5C113.6,431.4 111.5,434.9 110.6,430.2C109.7,425.5 109.2,408.1 110.6,403.5Z" fill="none" stroke="#555" stroke-width="0.4" opacity="0.8"/>
<path d="M113.5,405.1C114.7,401.3 118.4,404.8 120.8,404.7C123.2,404.6 126.0,404.2 128.0,404.4C130.0,404.5 131.7,404.7 133.0,405.4C134.3,406.2 135.5,407.4 135.8,408.7C136.1,409.9 135.4,411.4 134.8,413.0C134.3,414.6 133.2,416.2 132.3,418.0C131.4,419.8 130.6,422.2 129.4,423.8C128.2,425.4 127.0,427.0 125.1,427.8C123.2,428.5 119.9,428.5 117.9,428.5C116.0,428.4 114.2,431.3 113.5,427.4C112.7,423.5 112.2,408.9 113.5,405.1Z" fill="none" stroke="#444" stroke-width="0.4" opacity="0.8"/>
<path d="M116.3,406.6C117.3,403.6 120.2,406.4 122.2,406.3C124.2,406.2 126.4,405.9 128.0,406.0C129.6,406.1 131.0,406.3 132.1,406.9C133.1,407.5 134.0,408.5 134.3,409.5C134.5,410.5 134.0,411.7 133.5,413.0C133.0,414.3 132.2,415.6 131.5,417.1C130.8,418.5 130.1,420.4 129.2,421.7C128.2,423.0 127.2,424.3 125.7,424.9C124.1,425.5 121.4,425.5 119.9,425.5C118.3,425.4 116.9,427.7 116.3,424.6C115.7,421.5 115.3,409.7 116.3,406.6Z" fill="none" stroke="#444" stroke-width="0.4" opacity="0.85"/>
<path d="M119.1,408.2C119.9,405.9 122.1,408.0 123.6,407.9C125.1,407.9 126.8,407.6 128.0,407.7C129.2,407.8 130.3,407.9 131.1,408.4C131.9,408.8 132.6,409.6 132.8,410.4C132.9,411.1 132.5,412.0 132.2,413.0C131.8,414.0 131.2,415.0 130.6,416.1C130.1,417.2 129.6,418.6 128.9,419.6C128.1,420.6 127.4,421.5 126.2,422.0C125.1,422.5 123.0,422.5 121.8,422.5C120.7,422.4 119.6,424.2 119.1,421.8C118.7,419.4 118.4,410.5 119.1,408.2Z" fill="none" stroke="#333" stroke-width="0.4" opacity="0.85"/>
<path d="M121.9,409.7C122.5,408.1 124.0,409.6 125.0,409.6C126.0,409.5 127.2,409.3 128.0,409.4C128.8,409.4 129.6,409.6 130.1,409.9C130.6,410.2 131.1,410.7 131.2,411.2C131.4,411.7 131.1,412.4 130.8,413.0C130.6,413.6 130.2,414.4 129.8,415.1C129.4,415.9 129.1,416.8 128.6,417.5C128.1,418.2 127.6,418.8 126.8,419.1C126.0,419.5 124.6,419.5 123.8,419.4C123.0,419.4 122.2,420.6 121.9,419.0C121.6,417.4 121.4,411.3 121.9,409.7Z" fill="none" stroke="#333" stroke-width="0.4" opacity="0.9"/>
<path d="M124.6,411.1C124.9,410.2 125.7,411.1 126.3,411.0C126.9,411.0 127.5,410.9 128.0,411.0C128.5,411.0 128.9,411.0 129.2,411.2C129.5,411.4 129.8,411.7 129.8,412.0C129.9,412.3 129.8,412.6 129.6,413.0C129.5,413.4 129.2,413.8 129.0,414.2C128.8,414.6 128.6,415.2 128.3,415.6C128.1,415.9 127.8,416.3 127.3,416.5C126.9,416.7 126.1,416.7 125.6,416.7C125.2,416.6 124.7,417.3 124.6,416.4C124.4,415.5 124.3,412.0 124.6,411.1Z" fill="none" stroke="#333" stroke-width="0.4" opacity="0.9"/>
<path d="M107.8,402.0C109.5,396.8 114.6,401.7 118.0,401.5C121.4,401.3 125.2,400.8 128.0,401.0C130.8,401.2 133.2,401.5 135.0,402.5C136.8,403.5 138.4,405.2 138.8,407.0C139.2,408.8 138.3,410.8 137.5,413.0C136.7,415.2 135.2,417.5 134.0,420.0C132.8,422.5 131.7,425.8 130.0,428.0C128.3,430.2 126.7,432.4 124.0,433.5C121.3,434.6 116.7,434.6 114.0,434.5C111.3,434.4 108.8,438.4 107.8,433.0C106.8,427.6 106.1,407.2 107.8,402.0Z" fill="#000" stroke="none" stroke-width="1" opacity="0.10"/>
<ellipse cx="132" cy="412.5" rx="1.6" ry="6.5" fill="#000" opacity="0.6" filter="url(#b1)"/>
<ellipse cx="126" cy="414" rx="5" ry="7" fill="#000" opacity="0.18" filter="url(#b1)"/>
<rect x="107.10" y="404.00" width="1.30" height="31.50" fill="#000" opacity="0.9"/>
<rect x="122.50" y="435.20" width="10.50" height="1.30" fill="#000" />
<ellipse cx="129.2" cy="389.3" rx="3.6" ry="1.9" fill="#fff" stroke="#333" stroke-width="0.5"/>
<ellipse cx="129.2" cy="389.3" rx="5.2" ry="3.2" fill="none" stroke="#999" stroke-width="0.35"/>
<circle cx="153.8" cy="392.7" r="1.5" fill="#fff" stroke="#777" stroke-width="0.4"/>
<circle cx="154.6" cy="410.4" r="2" fill="none" stroke="#aaa" stroke-width="0.35"/>
<text x="108.70" y="381.90" font-size="8.3" fill="#222" textLength="15.90" lengthAdjust="spacingAndGlyphs">2.37</text>
<text x="168.70" y="381.90" font-size="8.3" text-anchor="end" fill="#222" textLength="20.50" lengthAdjust="spacingAndGlyphs">0.838</text>
<text x="108.70" y="435.30" font-size="8.3" fill="#222" textLength="15.90" lengthAdjust="spacingAndGlyphs">95.5</text>
<text x="168.70" y="435.30" font-size="8.3" text-anchor="end" fill="#222" textLength="15.90" lengthAdjust="spacingAndGlyphs">1.29</text>
<text x="26.30" y="430.75" font-size="10.8" fill="#2a2a2a" transform="rotate(-90 26.30 430.75)" textLength="15.50" lengthAdjust="spacingAndGlyphs">CD4</text>
<text x="34.50" y="448.00" font-size="10.8" fill="#2a2a2a" textLength="15.50" lengthAdjust="spacingAndGlyphs">CD8</text>
<line x1="54.50" y1="443.60" x2="164.30" y2="443.60" stroke="#222" stroke-width="1" />
<path d="M166.30,443.60l-3.4,-1.5v3z" fill="#222" stroke="none" stroke-width="1" />
<rect x="30.80" y="451.50" width="62.70" height="60.90" fill="#fff" stroke="#7a7a7a" stroke-width="0.7" />
<line x1="35.82" y1="512.40" x2="35.82" y2="513.50" stroke="#555" stroke-width="0.5" />
<line x1="29.70" y1="507.53" x2="30.80" y2="507.53" stroke="#555" stroke-width="0.5" />
<line x1="38.95" y1="512.40" x2="38.95" y2="513.50" stroke="#555" stroke-width="0.5" />
<line x1="29.70" y1="504.48" x2="30.80" y2="504.48" stroke="#555" stroke-width="0.5" />
<line x1="49.61" y1="512.40" x2="49.61" y2="513.50" stroke="#555" stroke-width="0.5" />
<line x1="29.70" y1="494.13" x2="30.80" y2="494.13" stroke="#555" stroke-width="0.5" />
<line x1="60.27" y1="512.40" x2="60.27" y2="513.50" stroke="#555" stroke-width="0.5" />
<line x1="29.70" y1="483.78" x2="30.80" y2="483.78" stroke="#555" stroke-width="0.5" />
<line x1="70.93" y1="512.40" x2="70.93" y2="513.50" stroke="#555" stroke-width="0.5" />
<line x1="29.70" y1="473.42" x2="30.80" y2="473.42" stroke="#555" stroke-width="0.5" />
<line x1="81.59" y1="512.40" x2="81.59" y2="513.50" stroke="#555" stroke-width="0.5" />
<line x1="29.70" y1="463.07" x2="30.80" y2="463.07" stroke="#555" stroke-width="0.5" />
<line x1="90.36" y1="512.40" x2="90.36" y2="513.50" stroke="#555" stroke-width="0.5" />
<line x1="29.70" y1="454.55" x2="30.80" y2="454.55" stroke="#555" stroke-width="0.5" />
<line x1="34.56" y1="513.30" x2="38.32" y2="513.30" stroke="#222" stroke-width="0.8" />
<line x1="64.50" y1="451.50" x2="64.50" y2="512.40" stroke="#444" stroke-width="0.7" />
<path d="M62.7,464.2C61.5,464.5 59.8,468.9 58.0,472.0C56.2,475.1 54.2,479.0 52.0,483.0C49.8,487.0 45.0,493.1 45.0,495.8C45.0,498.5 49.5,497.7 52.0,499.0C54.5,500.3 57.6,502.5 60.0,503.5C62.4,504.5 64.5,504.4 66.5,505.0C68.5,505.6 69.8,506.8 72.0,507.0C74.2,507.2 78.1,507.3 80.0,506.0C81.9,504.7 83.1,501.8 83.5,499.0C83.9,496.2 83.6,491.3 82.5,489.0C81.4,486.7 79.1,485.3 77.0,485.0C74.9,484.7 71.8,487.8 70.0,487.0C68.2,486.2 67.3,482.8 66.5,480.0C65.7,477.2 65.6,472.6 65.0,470.0C64.4,467.4 63.9,463.9 62.7,464.2Z" fill="none" stroke="#555" stroke-width="0.45" />
<path d="M61.5,470.0C60.1,470.3 57.8,476.2 56.0,480.0C54.2,483.8 50.3,489.8 50.5,493.0C50.7,496.2 54.8,497.6 57.0,499.0C59.2,500.4 62.6,503.0 64.0,501.5C65.4,500.0 65.4,493.9 65.5,490.0C65.6,486.1 65.2,481.3 64.5,478.0C63.8,474.7 62.9,469.7 61.5,470.0Z" fill="none" stroke="#666" stroke-width="0.4" />
<ellipse cx="58" cy="487" rx="7.2" ry="12.0" fill="#000" opacity="0.06" transform="rotate(25 58 487)" filter="url(#b2)"/>
<path d="M67.6,490.6C66.9,492.3 65.4,494.2 64.2,495.1C62.9,496.0 61.2,495.2 60.0,495.9C58.8,496.5 58.0,498.3 56.9,499.1C55.7,499.9 54.3,500.7 53.2,500.8C52.1,500.9 50.9,500.4 50.1,499.6C49.4,498.8 48.9,497.3 48.8,495.9C48.7,494.5 49.5,492.6 49.4,491.1C49.4,489.7 48.3,488.8 48.3,487.3C48.3,485.8 48.8,483.8 49.5,482.1C50.1,480.5 51.2,478.8 52.2,477.3C53.3,475.7 54.5,473.6 55.7,473.0C56.9,472.3 58.4,473.3 59.5,473.4C60.7,473.5 61.6,473.3 62.6,473.5C63.5,473.7 64.5,473.8 65.3,474.4C66.0,475.1 66.3,476.2 66.9,477.2C67.5,478.1 68.6,478.8 68.9,480.2C69.2,481.5 68.7,483.3 68.5,485.1C68.3,486.8 68.4,488.9 67.6,490.6Z" fill="none" stroke="#777" stroke-width="0.4" opacity="0.85"/>
<path d="M63.8,490.4C63.5,491.6 62.9,493.2 62.1,494.1C61.4,495.1 60.2,495.6 59.3,495.9C58.5,496.2 57.6,495.9 56.9,495.8C56.2,495.8 55.8,495.4 55.1,495.4C54.4,495.4 53.5,495.9 52.9,495.8C52.2,495.6 51.6,495.1 51.1,494.4C50.6,493.8 50.1,493.1 49.9,492.1C49.6,491.1 49.3,489.7 49.6,488.5C50.0,487.3 51.1,485.9 51.8,484.8C52.6,483.8 53.3,482.9 54.1,482.1C54.8,481.3 55.6,480.6 56.4,480.1C57.1,479.6 57.9,479.5 58.6,479.3C59.4,479.0 60.1,478.8 60.8,478.7C61.5,478.7 62.2,478.8 63.0,479.0C63.7,479.2 64.7,479.3 65.1,480.1C65.5,480.8 65.4,482.2 65.2,483.4C65.1,484.5 64.3,485.7 64.0,486.9C63.8,488.1 64.1,489.2 63.8,490.4Z" fill="none" stroke="#777" stroke-width="0.4" opacity="0.85"/>
<path d="M61.8,489.2C61.6,489.9 61.5,490.7 61.2,491.3C60.9,491.9 60.3,492.5 59.9,492.9C59.4,493.2 58.9,493.3 58.4,493.4C57.9,493.5 57.3,493.8 57.0,493.6C56.7,493.3 56.6,492.5 56.4,492.0C56.2,491.6 56.0,491.5 55.8,491.1C55.6,490.8 55.1,490.6 55.0,490.1C55.0,489.6 55.1,488.9 55.2,488.3C55.3,487.7 55.4,487.0 55.6,486.4C55.9,485.7 56.4,485.2 56.8,484.7C57.2,484.1 57.6,483.5 58.1,483.1C58.5,482.7 59.1,482.4 59.5,482.4C59.9,482.4 60.2,483.0 60.6,483.2C61.0,483.3 61.5,482.9 61.8,483.1C62.2,483.2 62.5,483.6 62.6,484.1C62.8,484.5 62.7,485.2 62.6,485.8C62.6,486.4 62.7,486.9 62.5,487.5C62.4,488.1 62.0,488.6 61.8,489.2Z" fill="none" stroke="#777" stroke-width="0.4" opacity="0.85"/>
<path d="M66.0,489.8C65.6,491.5 64.9,493.2 64.1,494.6C63.4,495.9 62.4,496.9 61.5,497.7C60.7,498.4 59.7,498.8 58.9,499.0C58.0,499.1 57.1,499.1 56.3,498.7C55.6,498.3 54.8,497.6 54.2,496.5C53.7,495.5 53.3,494.0 53.2,492.4C53.1,490.9 53.2,488.8 53.6,487.2C54.0,485.5 54.7,483.8 55.5,482.4C56.2,481.1 57.2,480.1 58.1,479.3C58.9,478.6 59.9,478.2 60.7,478.0C61.6,477.9 62.5,477.9 63.3,478.3C64.0,478.7 64.8,479.4 65.4,480.5C65.9,481.5 66.3,483.0 66.4,484.6C66.5,486.1 66.4,488.2 66.0,489.8Z" fill="url(#gdark)" opacity="0.8" stroke="none"/>
<path d="M65.8,489.4C65.4,491.1 64.6,493.0 63.8,494.4C63.1,495.8 62.0,496.9 61.1,497.6C60.2,498.4 59.2,498.9 58.3,499.0C57.4,499.2 56.5,499.1 55.6,498.7C54.8,498.3 54.0,497.5 53.4,496.4C52.9,495.3 52.4,493.8 52.3,492.1C52.2,490.5 52.4,488.4 52.8,486.6C53.2,484.9 54.0,483.0 54.8,481.6C55.5,480.2 56.6,479.1 57.5,478.4C58.4,477.6 59.4,477.1 60.3,477.0C61.2,476.8 62.1,476.9 63.0,477.3C63.8,477.7 64.6,478.5 65.2,479.6C65.7,480.7 66.2,482.2 66.3,483.9C66.4,485.5 66.2,487.6 65.8,489.4Z" fill="none" stroke="#333" stroke-width="0.4" opacity="0.55"/>
<path d="M64.9,489.3C64.5,490.8 63.9,492.3 63.3,493.5C62.6,494.6 61.8,495.6 61.0,496.2C60.3,496.9 59.4,497.3 58.7,497.4C57.9,497.6 57.1,497.5 56.5,497.1C55.8,496.8 55.1,496.1 54.6,495.2C54.2,494.3 53.8,493.0 53.7,491.6C53.7,490.2 53.8,488.5 54.1,487.1C54.5,485.6 55.1,484.1 55.7,482.9C56.4,481.8 57.2,480.8 58.0,480.2C58.7,479.5 59.6,479.1 60.3,479.0C61.1,478.8 61.9,478.9 62.5,479.3C63.2,479.6 63.9,480.3 64.4,481.2C64.8,482.1 65.2,483.4 65.3,484.8C65.3,486.2 65.2,487.9 64.9,489.3Z" fill="none" stroke="#333" stroke-width="0.4" opacity="0.64"/>
<path d="M63.9,489.3C63.7,490.4 63.2,491.7 62.7,492.6C62.2,493.5 61.5,494.3 60.9,494.8C60.3,495.4 59.6,495.7 59.0,495.8C58.4,495.9 57.8,495.8 57.3,495.5C56.7,495.2 56.2,494.7 55.8,494.0C55.5,493.2 55.2,492.2 55.1,491.1C55.1,490.0 55.2,488.6 55.5,487.5C55.7,486.4 56.2,485.1 56.7,484.2C57.2,483.3 57.9,482.5 58.5,482.0C59.1,481.4 59.8,481.1 60.4,481.0C61.0,480.9 61.6,481.0 62.1,481.3C62.7,481.6 63.2,482.1 63.6,482.8C63.9,483.6 64.2,484.6 64.3,485.7C64.3,486.8 64.2,488.2 63.9,489.3Z" fill="none" stroke="#333" stroke-width="0.4" opacity="0.73"/>
<path d="M63.0,489.3C62.8,490.1 62.5,491.0 62.1,491.7C61.7,492.4 61.3,493.0 60.8,493.4C60.4,493.8 59.9,494.0 59.4,494.1C58.9,494.2 58.5,494.2 58.1,493.9C57.7,493.7 57.3,493.3 57.0,492.7C56.8,492.2 56.6,491.4 56.5,490.6C56.5,489.8 56.6,488.8 56.8,487.9C57.0,487.1 57.3,486.2 57.7,485.5C58.1,484.8 58.5,484.2 59.0,483.8C59.4,483.4 59.9,483.2 60.4,483.1C60.9,483.0 61.3,483.0 61.7,483.3C62.1,483.5 62.5,483.9 62.8,484.5C63.0,485.0 63.2,485.8 63.3,486.6C63.3,487.4 63.2,488.4 63.0,489.3Z" fill="none" stroke="#333" stroke-width="0.4" opacity="0.82"/>
<path d="M62.1,489.2C62.0,489.8 61.8,490.4 61.5,490.8C61.3,491.3 61.0,491.7 60.7,491.9C60.4,492.2 60.1,492.4 59.8,492.4C59.5,492.5 59.2,492.5 58.9,492.3C58.7,492.1 58.4,491.9 58.2,491.5C58.1,491.1 57.9,490.6 57.9,490.1C57.9,489.6 57.9,488.9 58.1,488.4C58.2,487.8 58.4,487.2 58.7,486.8C58.9,486.3 59.2,485.9 59.5,485.7C59.8,485.4 60.1,485.2 60.4,485.2C60.7,485.1 61.0,485.1 61.3,485.3C61.5,485.5 61.8,485.7 62.0,486.1C62.1,486.5 62.3,487.0 62.3,487.5C62.3,488.0 62.3,488.7 62.1,489.2Z" fill="none" stroke="#333" stroke-width="0.4" opacity="0.91"/>
<path d="M61.2,489.2C61.2,489.5 61.1,489.7 61.0,489.9C60.9,490.2 60.7,490.3 60.6,490.5C60.4,490.6 60.3,490.7 60.1,490.7C60.0,490.7 59.9,490.7 59.7,490.6C59.6,490.6 59.5,490.4 59.4,490.3C59.4,490.1 59.3,489.8 59.3,489.6C59.3,489.4 59.3,489.1 59.4,488.8C59.4,488.5 59.5,488.3 59.6,488.1C59.7,487.8 59.9,487.7 60.0,487.5C60.2,487.4 60.3,487.3 60.5,487.3C60.6,487.3 60.7,487.3 60.9,487.4C61.0,487.4 61.1,487.6 61.2,487.7C61.2,487.9 61.3,488.2 61.3,488.4C61.3,488.6 61.3,488.9 61.2,489.2Z" fill="none" stroke="#333" stroke-width="0.4" opacity="1.00"/>
<ellipse cx="63.3" cy="489" rx="1.1" ry="6" fill="#000" opacity="0.7" filter="url(#b05)"/>
<path d="M81.2,496.3C81.2,497.4 80.8,498.6 80.4,499.5C80.0,500.4 79.3,501.2 78.6,501.8C77.9,502.4 77.1,502.8 76.2,503.0C75.4,503.2 74.6,503.3 73.7,503.1C72.9,502.9 72.0,502.6 71.3,502.0C70.6,501.4 69.9,500.5 69.5,499.6C69.1,498.6 68.8,497.4 68.8,496.3C68.8,495.2 69.2,494.0 69.6,493.1C70.0,492.2 70.7,491.4 71.4,490.8C72.1,490.2 72.9,489.8 73.8,489.6C74.6,489.4 75.4,489.3 76.3,489.5C77.1,489.7 78.0,490.0 78.7,490.6C79.4,491.2 80.1,492.1 80.5,493.0C80.9,494.0 81.2,495.2 81.2,496.3Z" fill="url(#gdark)" opacity="1.0" stroke="none"/>
<path d="M81.5,496.3C81.5,497.4 81.1,498.7 80.7,499.7C80.2,500.6 79.5,501.5 78.8,502.1C78.0,502.7 77.2,503.1 76.3,503.3C75.5,503.6 74.5,503.6 73.7,503.4C72.8,503.3 71.9,502.9 71.1,502.3C70.4,501.6 69.6,500.7 69.2,499.7C68.7,498.7 68.5,497.4 68.5,496.3C68.5,495.2 68.9,493.9 69.3,492.9C69.8,492.0 70.5,491.1 71.2,490.5C72.0,489.9 72.8,489.5 73.7,489.3C74.5,489.0 75.5,489.0 76.3,489.2C77.2,489.3 78.1,489.7 78.9,490.3C79.6,491.0 80.4,491.9 80.8,492.9C81.3,493.9 81.5,495.2 81.5,496.3Z" fill="none" stroke="#111" stroke-width="0.45" opacity="0.55"/>
<path d="M80.6,496.3C80.5,497.3 80.3,498.3 79.9,499.2C79.5,500.0 78.9,500.8 78.3,501.3C77.6,501.8 76.9,502.2 76.1,502.4C75.4,502.6 74.6,502.6 73.9,502.5C73.1,502.3 72.3,502.0 71.7,501.4C71.0,500.9 70.4,500.1 70.0,499.2C69.7,498.4 69.4,497.3 69.4,496.3C69.5,495.3 69.7,494.3 70.1,493.4C70.5,492.6 71.1,491.8 71.7,491.3C72.4,490.8 73.1,490.4 73.9,490.2C74.6,490.0 75.4,490.0 76.1,490.1C76.9,490.3 77.7,490.6 78.3,491.2C79.0,491.7 79.6,492.5 80.0,493.4C80.3,494.2 80.6,495.3 80.6,496.3Z" fill="none" stroke="#111" stroke-width="0.45" opacity="0.64"/>
<path d="M79.6,496.3C79.6,497.1 79.4,498.0 79.1,498.7C78.8,499.4 78.3,500.0 77.7,500.5C77.2,501.0 76.6,501.3 76.0,501.4C75.3,501.6 74.7,501.6 74.0,501.5C73.4,501.3 72.7,501.0 72.2,500.6C71.7,500.1 71.2,499.5 70.9,498.7C70.5,498.0 70.4,497.1 70.4,496.3C70.4,495.5 70.6,494.6 70.9,493.9C71.2,493.2 71.7,492.6 72.3,492.1C72.8,491.6 73.4,491.3 74.0,491.2C74.7,491.0 75.3,491.0 76.0,491.1C76.6,491.3 77.3,491.6 77.8,492.0C78.3,492.5 78.8,493.1 79.1,493.9C79.5,494.6 79.6,495.5 79.6,496.3Z" fill="none" stroke="#111" stroke-width="0.45" opacity="0.73"/>
<path d="M78.7,496.3C78.7,496.9 78.5,497.7 78.3,498.2C78.0,498.8 77.6,499.3 77.2,499.7C76.8,500.1 76.3,500.3 75.8,500.5C75.3,500.6 74.7,500.6 74.2,500.5C73.7,500.4 73.2,500.1 72.8,499.8C72.3,499.4 71.9,498.8 71.7,498.3C71.4,497.7 71.3,496.9 71.3,496.3C71.3,495.7 71.5,494.9 71.7,494.4C72.0,493.8 72.4,493.3 72.8,492.9C73.2,492.5 73.7,492.3 74.2,492.1C74.7,492.0 75.3,492.0 75.8,492.1C76.3,492.2 76.8,492.5 77.2,492.8C77.7,493.2 78.1,493.8 78.3,494.3C78.6,494.9 78.7,495.7 78.7,496.3Z" fill="none" stroke="#111" stroke-width="0.45" opacity="0.82"/>
<path d="M77.8,496.3C77.8,496.8 77.7,497.3 77.5,497.8C77.3,498.2 77.0,498.6 76.7,498.9C76.4,499.2 76.0,499.4 75.6,499.5C75.2,499.6 74.8,499.6 74.4,499.5C74.0,499.4 73.6,499.2 73.3,498.9C73.0,498.6 72.7,498.2 72.5,497.8C72.3,497.3 72.2,496.8 72.2,496.3C72.2,495.8 72.3,495.3 72.5,494.8C72.7,494.4 73.0,494.0 73.3,493.7C73.6,493.4 74.0,493.2 74.4,493.1C74.8,493.0 75.2,493.0 75.6,493.1C76.0,493.2 76.4,493.4 76.7,493.7C77.0,494.0 77.3,494.4 77.5,494.8C77.7,495.3 77.8,495.8 77.8,496.3Z" fill="none" stroke="#111" stroke-width="0.45" opacity="0.91"/>
<path d="M76.9,496.3C76.9,496.6 76.8,497.0 76.7,497.3C76.6,497.6 76.4,497.9 76.1,498.1C75.9,498.3 75.7,498.4 75.4,498.5C75.1,498.5 74.9,498.6 74.6,498.5C74.3,498.4 74.1,498.3 73.8,498.1C73.6,497.9 73.4,497.6 73.3,497.3C73.2,497.0 73.1,496.6 73.1,496.3C73.1,496.0 73.2,495.6 73.3,495.3C73.4,495.0 73.6,494.7 73.9,494.5C74.1,494.3 74.3,494.2 74.6,494.1C74.9,494.1 75.1,494.0 75.4,494.1C75.7,494.2 75.9,494.3 76.2,494.5C76.4,494.7 76.6,495.0 76.7,495.3C76.8,495.6 76.9,496.0 76.9,496.3Z" fill="none" stroke="#111" stroke-width="0.45" opacity="1.00"/>
<ellipse cx="75" cy="496.5" rx="4.2" ry="5.6" fill="none" stroke="#000" stroke-width="2.2" opacity="0.85"/>
<ellipse cx="75" cy="496.8" rx="1.5" ry="2.6" fill="#fff"/>
<ellipse cx="32.8" cy="494" rx="0.9" ry="5" fill="none" stroke="#777" stroke-width="0.4"/>
<text x="32.70" y="458.70" font-size="8.3" fill="#222" textLength="15.90" lengthAdjust="spacingAndGlyphs">57.4</text>
<text x="92.00" y="458.70" font-size="8.3" text-anchor="end" fill="#222" textLength="15.90" lengthAdjust="spacingAndGlyphs">41.8</text>
<rect x="105.80" y="451.50" width="61.60" height="60.50" fill="#fff" stroke="#7a7a7a" stroke-width="0.7" />
<line x1="110.73" y1="512.00" x2="110.73" y2="513.10" stroke="#555" stroke-width="0.5" />
<line x1="104.70" y1="507.16" x2="105.80" y2="507.16" stroke="#555" stroke-width="0.5" />
<line x1="113.81" y1="512.00" x2="113.81" y2="513.10" stroke="#555" stroke-width="0.5" />
<line x1="104.70" y1="504.13" x2="105.80" y2="504.13" stroke="#555" stroke-width="0.5" />
<line x1="124.28" y1="512.00" x2="124.28" y2="513.10" stroke="#555" stroke-width="0.5" />
<line x1="104.70" y1="493.85" x2="105.80" y2="493.85" stroke="#555" stroke-width="0.5" />
<line x1="134.75" y1="512.00" x2="134.75" y2="513.10" stroke="#555" stroke-width="0.5" />
<line x1="104.70" y1="483.56" x2="105.80" y2="483.56" stroke="#555" stroke-width="0.5" />
<line x1="145.22" y1="512.00" x2="145.22" y2="513.10" stroke="#555" stroke-width="0.5" />
<line x1="104.70" y1="473.28" x2="105.80" y2="473.28" stroke="#555" stroke-width="0.5" />
<line x1="155.70" y1="512.00" x2="155.70" y2="513.10" stroke="#555" stroke-width="0.5" />
<line x1="104.70" y1="463.00" x2="105.80" y2="463.00" stroke="#555" stroke-width="0.5" />
<line x1="164.32" y1="512.00" x2="164.32" y2="513.10" stroke="#555" stroke-width="0.5" />
<line x1="104.70" y1="454.52" x2="105.80" y2="454.52" stroke="#555" stroke-width="0.5" />
<line x1="109.50" y1="512.90" x2="113.19" y2="512.90" stroke="#222" stroke-width="0.8" />
<line x1="138.50" y1="451.50" x2="138.50" y2="512.00" stroke="#444" stroke-width="0.7" />
<path d="M110.0,486.0C110.3,483.8 111.8,482.2 113.0,482.0C114.2,481.8 115.7,485.2 117.0,485.0C118.3,484.8 119.5,481.2 121.0,481.0C122.5,480.8 125.5,482.5 126.0,484.0C126.5,485.5 125.2,488.3 124.0,490.0C122.8,491.7 120.7,493.7 119.0,494.0C117.3,494.3 115.3,491.8 114.0,492.0C112.7,492.2 111.7,496.0 111.0,495.0C110.3,494.0 109.7,488.2 110.0,486.0Z" fill="none" stroke="#888" stroke-width="0.4" />
<path d="M128.0,470.0C128.2,466.7 129.8,463.8 131.0,462.0C132.2,460.2 134.0,458.3 135.0,459.0C136.0,459.7 136.0,465.7 137.0,466.0C138.0,466.3 139.8,460.8 141.0,461.0C142.2,461.2 143.8,464.5 144.0,467.0C144.2,469.5 141.7,473.8 142.0,476.0C142.3,478.2 144.3,479.7 146.0,480.0C147.7,480.3 151.3,477.3 152.0,478.0C152.7,478.7 152.0,483.0 150.0,484.0C148.0,485.0 143.3,484.3 140.0,484.0C136.7,483.7 132.0,484.3 130.0,482.0C128.0,479.7 127.8,473.3 128.0,470.0Z" fill="none" stroke="#888" stroke-width="0.4" />
<path d="M158.0,484.0C158.4,482.9 160.2,482.2 161.0,482.5C161.8,482.8 162.6,484.7 162.5,486.0C162.4,487.3 161.2,490.0 160.5,490.5C159.8,491.0 158.9,490.1 158.5,489.0C158.1,487.9 157.6,485.1 158.0,484.0Z" fill="none" stroke="#888" stroke-width="0.4" />
<path d="M124.0,497.0C124.0,496.2 127.7,501.3 130.0,503.0C132.3,504.7 135.0,506.7 138.0,507.0C141.0,507.3 145.3,506.2 148.0,505.0C150.7,503.8 153.7,499.8 154.0,500.0C154.3,500.2 152.3,504.3 150.0,506.0C147.7,507.7 143.3,509.7 140.0,510.0C136.7,510.3 132.7,510.2 130.0,508.0C127.3,505.8 124.0,497.8 124.0,497.0Z" fill="none" stroke="#888" stroke-width="0.4" />
<ellipse cx="136" cy="487" rx="12.0" ry="15.2" fill="#000" opacity="0.1" transform="rotate(10 136 487)" filter="url(#b2)"/>
<path d="M153.1,489.2C152.9,491.6 152.1,494.7 150.7,496.6C149.3,498.4 146.7,499.4 144.8,500.2C142.9,501.0 141.1,501.6 139.5,501.2C137.8,500.7 136.6,497.2 135.1,497.4C133.6,497.5 132.2,501.1 130.4,501.8C128.7,502.6 126.0,502.9 124.6,501.9C123.3,500.9 124.2,497.4 122.6,495.7C121.0,494.0 116.2,493.7 114.9,491.5C113.6,489.3 113.5,484.8 114.9,482.4C116.3,480.1 120.7,478.3 123.2,477.5C125.6,476.6 128.2,477.8 129.7,477.2C131.3,476.6 131.3,476.3 132.4,474.0C133.5,471.8 134.9,464.8 136.4,463.7C137.9,462.7 140.2,466.1 141.4,467.8C142.7,469.6 142.3,472.9 143.7,474.1C145.2,475.3 148.9,473.8 150.3,475.1C151.6,476.3 151.5,479.4 152.0,481.7C152.4,484.1 153.3,486.7 153.1,489.2Z" fill="none" stroke="#777" stroke-width="0.4" opacity="0.85"/>
<path d="M149.1,488.5C148.7,490.5 148.7,493.1 147.4,494.1C146.2,495.1 142.9,493.7 141.5,494.4C140.2,495.1 140.3,497.3 139.3,498.4C138.3,499.5 137.1,500.2 135.6,501.0C134.2,501.9 132.7,502.8 130.6,503.6C128.4,504.4 123.9,507.2 122.7,505.9C121.4,504.6 122.8,498.8 123.1,496.0C123.5,493.2 124.7,491.2 124.9,489.2C125.1,487.3 124.1,485.9 124.2,484.1C124.2,482.4 124.6,480.4 125.2,478.6C125.8,476.8 126.3,473.7 127.7,473.4C129.1,473.0 132.1,476.5 133.6,476.4C135.1,476.3 135.2,474.5 136.7,472.8C138.1,471.2 141.0,466.7 142.6,466.4C144.2,466.2 145.1,469.8 146.4,471.4C147.7,472.9 149.6,473.9 150.3,475.7C150.9,477.6 150.3,480.4 150.2,482.6C150.0,484.7 149.6,486.6 149.1,488.5Z" fill="none" stroke="#777" stroke-width="0.4" opacity="0.85"/>
<path d="M148.2,489.7C148.2,491.5 147.5,494.0 146.2,495.1C145.0,496.2 142.2,495.2 140.9,496.3C139.7,497.4 139.9,500.9 138.8,501.9C137.8,502.8 135.8,502.6 134.6,502.1C133.3,501.6 132.5,499.5 131.4,498.6C130.4,497.8 129.3,497.8 128.5,496.9C127.8,496.1 128.0,494.5 126.9,493.5C125.8,492.5 122.8,492.3 121.9,490.9C121.1,489.4 121.3,486.8 121.7,485.0C122.1,483.2 123.5,481.6 124.4,479.9C125.2,478.3 125.6,475.5 127.0,475.1C128.3,474.6 131.0,477.0 132.4,477.1C133.8,477.1 134.4,475.8 135.5,475.3C136.7,474.8 138.4,473.6 139.4,474.0C140.5,474.3 140.8,476.6 141.8,477.6C142.8,478.5 144.7,478.5 145.4,479.7C146.2,480.8 145.9,482.8 146.3,484.4C146.8,486.1 148.2,487.9 148.2,489.7Z" fill="none" stroke="#777" stroke-width="0.4" opacity="0.85"/>
<path d="M142.9,488.5C142.1,489.6 141.5,489.7 141.4,491.1C141.2,492.5 142.5,495.4 142.2,496.8C141.8,498.3 140.3,499.0 139.1,499.8C138.0,500.6 136.7,501.4 135.4,501.5C134.2,501.6 132.5,501.4 131.6,500.5C130.7,499.6 130.5,497.2 130.0,495.9C129.5,494.6 129.0,493.9 128.5,492.8C128.0,491.8 127.6,490.8 127.1,489.6C126.6,488.4 125.2,486.7 125.4,485.4C125.7,484.2 127.4,482.8 128.5,482.2C129.7,481.6 131.6,483.0 132.4,481.9C133.1,480.8 132.2,477.2 132.9,475.5C133.5,473.7 135.3,471.6 136.5,471.5C137.7,471.3 139.1,473.5 140.0,474.6C141.0,475.7 141.6,477.0 142.3,478.1C143.0,479.1 143.6,480.0 144.3,481.1C144.9,482.2 146.2,483.4 146.0,484.6C145.8,485.9 143.7,487.5 142.9,488.5Z" fill="none" stroke="#777" stroke-width="0.4" opacity="0.85"/>
<path d="M143.7,487.5C143.1,488.5 141.7,488.7 141.3,489.9C141.0,491.1 141.9,493.4 141.4,494.6C141.0,495.8 139.7,497.1 138.7,497.3C137.7,497.5 136.3,496.4 135.5,495.7C134.6,495.0 134.0,493.9 133.6,493.0C133.2,492.1 133.5,490.8 132.8,490.4C132.2,490.0 130.6,491.0 129.6,490.7C128.6,490.4 127.3,489.5 126.8,488.5C126.2,487.4 126.3,485.7 126.5,484.4C126.7,483.1 127.4,481.6 128.2,480.8C129.1,480.0 130.9,480.5 131.8,479.9C132.7,479.3 132.8,477.9 133.5,477.2C134.3,476.6 135.4,475.7 136.2,475.9C137.0,476.2 137.5,478.2 138.2,478.8C138.9,479.4 139.5,479.3 140.2,479.7C140.9,480.1 141.6,480.5 142.4,481.2C143.1,481.9 144.3,482.7 144.6,483.8C144.8,484.8 144.2,486.4 143.7,487.5Z" fill="none" stroke="#777" stroke-width="0.4" opacity="0.85"/>
<path d="M140.0,488.2C140.5,489.0 142.0,490.7 142.0,491.6C142.0,492.4 140.7,493.0 140.0,493.4C139.3,493.8 138.5,493.5 137.8,493.8C137.1,494.1 136.6,495.1 135.9,495.4C135.2,495.6 134.4,495.4 133.7,495.2C133.0,495.0 132.1,494.7 131.7,494.1C131.3,493.4 131.3,492.2 131.1,491.3C131.0,490.5 130.9,489.7 130.8,489.0C130.8,488.2 130.7,487.3 131.0,486.6C131.3,486.0 132.3,485.8 132.7,485.1C133.1,484.5 132.9,483.6 133.1,482.9C133.4,482.2 133.9,481.5 134.5,480.9C135.0,480.3 135.7,480.0 136.5,479.5C137.3,479.0 138.6,477.6 139.4,477.7C140.2,477.8 141.0,479.1 141.2,480.2C141.4,481.3 141.0,483.1 140.7,484.2C140.3,485.3 139.3,486.1 139.2,486.7C139.1,487.4 139.6,487.4 140.0,488.2Z" fill="none" stroke="#777" stroke-width="0.4" opacity="0.85"/>
<ellipse cx="140" cy="492" rx="10.4" ry="8.0" fill="#000" opacity="0.1" transform="rotate(0 140 492)" filter="url(#b2)"/>
<path d="M154.6,492.6C154.6,493.7 153.4,495.1 152.4,495.9C151.3,496.8 149.4,496.9 148.5,497.9C147.6,498.8 148.1,500.9 147.1,501.7C146.2,502.4 144.1,502.4 142.6,502.4C141.1,502.5 139.7,501.8 138.2,501.7C136.7,501.6 134.8,502.2 133.3,501.9C131.9,501.5 130.7,500.4 129.4,499.6C128.2,498.7 126.3,497.7 126.0,496.6C125.7,495.4 127.0,493.7 127.8,492.6C128.6,491.5 130.2,490.8 130.9,489.9C131.5,489.0 131.1,487.9 131.7,487.0C132.3,486.1 133.3,485.6 134.3,484.5C135.2,483.4 136.1,481.1 137.5,480.5C139.0,479.8 141.6,479.9 143.0,480.7C144.4,481.4 144.9,483.9 146.0,484.9C147.1,485.9 148.4,485.9 149.5,486.6C150.6,487.3 151.7,488.1 152.5,489.1C153.4,490.1 154.7,491.4 154.6,492.6Z" fill="none" stroke="#555" stroke-width="0.4" opacity="0.85"/>
<path d="M148.3,491.8C148.8,492.6 149.6,493.6 149.8,494.6C150.1,495.7 150.3,497.4 149.6,498.1C148.8,498.9 146.7,499.0 145.4,499.2C144.1,499.5 142.9,499.5 141.6,499.6C140.4,499.7 139.1,500.1 138.0,499.9C136.9,499.6 136.3,498.5 135.2,498.1C134.1,497.6 132.4,497.8 131.5,497.2C130.7,496.6 130.0,495.5 129.9,494.6C129.8,493.7 130.8,492.7 130.9,491.8C131.1,491.0 130.6,490.1 130.8,489.3C131.0,488.5 131.6,487.7 132.2,486.9C132.8,486.1 133.3,485.0 134.3,484.4C135.2,483.9 136.7,483.8 138.0,483.7C139.2,483.5 140.4,483.6 141.8,483.5C143.2,483.4 145.4,482.6 146.3,483.2C147.3,483.8 147.2,485.9 147.3,487.1C147.3,488.2 146.2,489.2 146.4,490.0C146.6,490.8 147.7,491.1 148.3,491.8Z" fill="none" stroke="#555" stroke-width="0.4" opacity="0.85"/>
<path d="M146.5,491.9C146.3,492.5 145.7,492.9 145.5,493.5C145.3,494.1 145.5,494.6 145.3,495.5C145.2,496.3 145.4,497.9 144.7,498.5C144.1,499.0 142.4,498.9 141.3,498.7C140.3,498.5 139.5,497.5 138.6,497.2C137.7,496.9 136.9,497.1 136.1,496.8C135.3,496.6 134.4,496.2 133.9,495.7C133.5,495.2 133.3,494.4 133.2,493.7C133.1,493.1 133.4,492.5 133.3,491.9C133.2,491.3 132.6,490.6 132.6,489.9C132.6,489.2 132.5,488.1 133.1,487.6C133.7,487.1 135.2,487.2 136.1,486.9C136.9,486.7 137.6,486.3 138.5,486.1C139.3,485.9 140.4,485.5 141.2,485.6C142.1,485.7 142.9,486.3 143.7,486.7C144.4,487.1 145.2,487.5 145.7,488.1C146.3,488.6 146.7,489.3 146.8,489.9C146.9,490.6 146.7,491.3 146.5,491.9Z" fill="none" stroke="#555" stroke-width="0.4" opacity="0.85"/>
<path d="M146.1,492.7C146.0,493.1 145.4,493.5 145.1,493.9C144.8,494.2 144.5,494.6 144.1,494.8C143.7,495.1 143.2,495.1 142.8,495.4C142.4,495.6 142.1,496.0 141.6,496.3C141.1,496.7 140.3,497.5 139.7,497.5C139.1,497.5 138.4,496.9 137.9,496.5C137.5,496.1 137.4,495.5 137.1,495.0C136.9,494.6 136.6,494.3 136.4,493.9C136.2,493.5 136.1,493.1 136.0,492.7C136.0,492.3 136.0,491.7 136.3,491.4C136.6,491.1 137.4,491.0 137.7,490.7C138.1,490.4 138.1,489.9 138.4,489.5C138.7,489.1 139.2,488.4 139.8,488.2C140.3,488.1 141.1,488.5 141.7,488.7C142.3,488.8 142.9,489.0 143.3,489.3C143.8,489.6 144.1,489.9 144.5,490.3C144.9,490.6 145.2,491.0 145.5,491.4C145.7,491.8 146.1,492.3 146.1,492.7Z" fill="none" stroke="#555" stroke-width="0.4" opacity="0.85"/>
<path d="M138.8,491.5C138.6,493.4 137.9,495.5 137.3,496.9C136.7,498.3 135.9,499.1 135.3,500.0C134.6,500.8 134.0,501.5 133.3,502.0C132.6,502.4 131.8,503.0 131.1,502.8C130.4,502.6 129.7,501.8 129.2,500.7C128.7,499.6 128.4,497.8 128.2,496.1C128.1,494.4 128.1,492.4 128.2,490.6C128.4,488.7 128.6,486.6 129.1,485.0C129.6,483.4 130.3,481.7 131.0,480.8C131.6,480.0 132.5,479.7 133.2,479.7C133.9,479.6 134.5,480.1 135.1,480.5C135.8,480.9 136.4,481.2 137.0,482.0C137.6,482.9 138.3,484.0 138.6,485.6C138.9,487.1 139.0,489.6 138.8,491.5Z" fill="url(#gmid)" opacity="1.0" stroke="none"/>
<path d="M138.9,490.5C138.6,492.5 137.9,494.7 137.3,496.2C136.7,497.7 135.8,498.5 135.1,499.4C134.4,500.3 133.8,501.0 133.0,501.5C132.3,502.0 131.5,502.6 130.8,502.4C130.0,502.2 129.2,501.4 128.7,500.2C128.2,499.0 127.9,497.1 127.7,495.3C127.5,493.6 127.5,491.5 127.7,489.5C127.9,487.6 128.1,485.4 128.6,483.7C129.1,482.0 129.9,480.3 130.6,479.3C131.3,478.4 132.2,478.1 133.0,478.1C133.7,478.0 134.3,478.5 135.0,478.9C135.7,479.4 136.3,479.7 136.9,480.6C137.6,481.5 138.3,482.6 138.7,484.3C139.0,485.9 139.1,488.5 138.9,490.5Z" fill="none" stroke="#444" stroke-width="0.4" opacity="0.55"/>
<path d="M138.0,490.8C137.8,492.5 137.2,494.3 136.7,495.6C136.2,496.8 135.5,497.7 134.9,498.4C134.3,499.2 133.8,499.8 133.1,500.2C132.5,500.6 131.8,501.0 131.2,500.8C130.6,500.6 130.0,499.9 129.5,498.9C129.1,498.0 128.8,496.4 128.7,494.9C128.5,493.4 128.5,491.6 128.7,490.0C128.8,488.4 129.0,486.6 129.4,485.1C129.9,483.7 130.5,482.3 131.1,481.4C131.7,480.6 132.4,480.4 133.1,480.3C133.7,480.2 134.2,480.6 134.8,481.0C135.4,481.3 135.9,481.7 136.4,482.4C136.9,483.2 137.5,484.3 137.8,485.7C138.1,487.1 138.1,489.2 138.0,490.8Z" fill="none" stroke="#444" stroke-width="0.4" opacity="0.64"/>
<path d="M137.1,491.1C136.9,492.5 136.5,493.9 136.1,495.0C135.7,496.0 135.2,496.7 134.7,497.4C134.2,498.0 133.7,498.5 133.2,498.8C132.7,499.1 132.2,499.4 131.7,499.2C131.2,499.1 130.7,498.5 130.3,497.7C130.0,496.9 129.7,495.6 129.6,494.4C129.5,493.2 129.5,491.8 129.6,490.5C129.7,489.2 129.9,487.7 130.3,486.6C130.6,485.4 131.1,484.2 131.6,483.6C132.1,482.9 132.7,482.6 133.2,482.5C133.7,482.5 134.1,482.7 134.6,483.0C135.1,483.3 135.5,483.7 135.9,484.3C136.3,485.0 136.8,485.9 137.0,487.0C137.2,488.1 137.2,489.8 137.1,491.1Z" fill="none" stroke="#444" stroke-width="0.4" opacity="0.73"/>
<path d="M136.2,491.5C136.1,492.5 135.8,493.6 135.5,494.4C135.2,495.2 134.8,495.8 134.4,496.3C134.1,496.8 133.7,497.2 133.3,497.4C132.9,497.7 132.5,497.8 132.1,497.7C131.8,497.5 131.4,497.1 131.1,496.4C130.8,495.8 130.7,494.9 130.6,494.0C130.5,493.0 130.5,492.0 130.6,491.0C130.6,490.0 130.8,488.8 131.1,488.0C131.3,487.1 131.7,486.2 132.1,485.7C132.4,485.2 132.9,484.9 133.3,484.8C133.7,484.8 134.0,484.9 134.4,485.2C134.7,485.4 135.1,485.7 135.4,486.2C135.7,486.7 136.0,487.5 136.1,488.3C136.3,489.2 136.3,490.4 136.2,491.5Z" fill="none" stroke="#444" stroke-width="0.4" opacity="0.82"/>
<path d="M135.4,491.8C135.3,492.5 135.1,493.2 134.9,493.8C134.7,494.4 134.5,494.8 134.2,495.2C134.0,495.5 133.7,495.8 133.4,496.0C133.1,496.1 132.8,496.2 132.6,496.1C132.3,496.0 132.1,495.6 131.9,495.2C131.7,494.8 131.6,494.1 131.5,493.5C131.5,492.9 131.5,492.1 131.5,491.4C131.6,490.7 131.7,490.0 131.9,489.4C132.0,488.8 132.3,488.2 132.5,487.8C132.8,487.4 133.1,487.2 133.4,487.2C133.7,487.1 133.9,487.2 134.2,487.4C134.4,487.5 134.7,487.8 134.8,488.1C135.0,488.5 135.3,489.0 135.4,489.6C135.4,490.2 135.5,491.1 135.4,491.8Z" fill="none" stroke="#444" stroke-width="0.4" opacity="0.91"/>
<path d="M134.6,492.1C134.6,492.5 134.5,492.9 134.3,493.2C134.2,493.5 134.1,493.8 134.0,494.0C133.8,494.2 133.7,494.4 133.5,494.4C133.4,494.5 133.2,494.6 133.1,494.5C132.9,494.4 132.8,494.2 132.7,494.0C132.6,493.8 132.5,493.4 132.5,493.1C132.4,492.7 132.4,492.3 132.5,491.9C132.5,491.5 132.6,491.1 132.6,490.8C132.7,490.4 132.9,490.1 133.0,489.9C133.2,489.7 133.3,489.6 133.5,489.5C133.6,489.5 133.8,489.5 133.9,489.6C134.1,489.7 134.2,489.8 134.3,490.1C134.4,490.3 134.5,490.6 134.6,490.9C134.6,491.3 134.6,491.7 134.6,492.1Z" fill="none" stroke="#444" stroke-width="0.4" opacity="1.00"/>
<path d="M131.5,486 q-1.8,5 0.3,10" stroke="#111" stroke-width="1.1" fill="none" opacity="0.85"/>
<path d="M153.6,491.0C153.6,492.2 153.2,493.5 152.8,494.5C152.3,495.5 151.6,496.4 150.8,497.0C150.1,497.7 149.2,498.1 148.3,498.3C147.5,498.5 146.5,498.6 145.7,498.4C144.8,498.2 143.8,497.8 143.1,497.2C142.3,496.5 141.6,495.6 141.1,494.6C140.7,493.5 140.4,492.2 140.4,491.0C140.4,489.8 140.8,488.5 141.2,487.5C141.7,486.5 142.4,485.6 143.2,485.0C143.9,484.3 144.8,483.9 145.7,483.7C146.5,483.5 147.5,483.4 148.3,483.6C149.2,483.8 150.2,484.2 150.9,484.8C151.7,485.5 152.4,486.4 152.9,487.4C153.3,488.5 153.6,489.8 153.6,491.0Z" fill="url(#gdark)" opacity="1.0" stroke="none"/>
<path d="M153.9,491.0C153.9,492.2 153.6,493.6 153.1,494.7C152.6,495.7 151.8,496.7 151.0,497.4C150.2,498.0 149.3,498.5 148.4,498.7C147.5,498.9 146.5,499.0 145.6,498.8C144.7,498.6 143.7,498.2 142.9,497.5C142.1,496.8 141.3,495.8 140.8,494.7C140.4,493.7 140.1,492.2 140.1,491.0C140.1,489.8 140.4,488.4 140.9,487.3C141.4,486.3 142.2,485.3 143.0,484.6C143.8,484.0 144.7,483.5 145.6,483.3C146.5,483.1 147.5,483.0 148.4,483.2C149.3,483.4 150.3,483.8 151.1,484.5C151.9,485.2 152.7,486.2 153.2,487.3C153.6,488.3 153.9,489.8 153.9,491.0Z" fill="none" stroke="#111" stroke-width="0.45" opacity="0.55"/>
<path d="M152.9,491.0C152.9,492.1 152.6,493.2 152.2,494.2C151.8,495.1 151.2,495.9 150.5,496.5C149.8,497.1 149.0,497.5 148.2,497.7C147.4,497.9 146.6,497.9 145.8,497.7C145.0,497.6 144.1,497.2 143.5,496.6C142.8,496.0 142.1,495.1 141.7,494.2C141.3,493.3 141.1,492.1 141.1,491.0C141.1,489.9 141.4,488.8 141.8,487.8C142.2,486.9 142.8,486.1 143.5,485.5C144.2,484.9 145.0,484.5 145.8,484.3C146.6,484.1 147.4,484.1 148.2,484.3C149.0,484.4 149.9,484.8 150.5,485.4C151.2,486.0 151.9,486.9 152.3,487.8C152.7,488.7 152.9,489.9 152.9,491.0Z" fill="none" stroke="#111" stroke-width="0.45" opacity="0.66"/>
<path d="M151.9,491.0C151.9,491.9 151.7,492.9 151.4,493.7C151.0,494.4 150.5,495.1 149.9,495.6C149.4,496.1 148.7,496.5 148.0,496.7C147.4,496.8 146.6,496.9 146.0,496.7C145.3,496.5 144.6,496.2 144.0,495.7C143.5,495.2 142.9,494.5 142.6,493.7C142.2,492.9 142.0,491.9 142.1,491.0C142.1,490.1 142.3,489.1 142.6,488.3C143.0,487.6 143.5,486.9 144.1,486.4C144.6,485.9 145.3,485.5 146.0,485.3C146.6,485.2 147.4,485.1 148.0,485.3C148.7,485.5 149.4,485.8 150.0,486.3C150.5,486.8 151.1,487.5 151.4,488.3C151.8,489.1 152.0,490.1 151.9,491.0Z" fill="none" stroke="#111" stroke-width="0.45" opacity="0.78"/>
<path d="M151.0,491.0C151.0,491.7 150.8,492.5 150.5,493.1C150.3,493.8 149.8,494.4 149.4,494.8C148.9,495.2 148.4,495.5 147.8,495.6C147.3,495.8 146.7,495.8 146.2,495.6C145.6,495.5 145.0,495.2 144.6,494.8C144.1,494.4 143.7,493.8 143.4,493.2C143.2,492.5 143.0,491.7 143.0,491.0C143.0,490.3 143.2,489.5 143.5,488.9C143.7,488.2 144.2,487.6 144.6,487.2C145.1,486.8 145.6,486.5 146.2,486.4C146.7,486.2 147.3,486.2 147.8,486.4C148.4,486.5 149.0,486.8 149.4,487.2C149.9,487.6 150.3,488.2 150.6,488.8C150.8,489.5 151.0,490.3 151.0,491.0Z" fill="none" stroke="#111" stroke-width="0.45" opacity="0.89"/>
<path d="M150.0,491.0C150.0,491.5 149.9,492.2 149.7,492.6C149.5,493.1 149.2,493.6 148.8,493.9C148.5,494.2 148.1,494.5 147.6,494.6C147.2,494.7 146.8,494.7 146.3,494.6C145.9,494.5 145.5,494.2 145.1,493.9C144.8,493.6 144.5,493.1 144.3,492.6C144.1,492.2 144.0,491.5 144.0,491.0C144.0,490.5 144.1,489.8 144.3,489.4C144.5,488.9 144.8,488.4 145.2,488.1C145.5,487.8 145.9,487.5 146.4,487.4C146.8,487.3 147.2,487.3 147.7,487.4C148.1,487.5 148.5,487.8 148.9,488.1C149.2,488.4 149.5,488.9 149.7,489.4C149.9,489.8 150.0,490.5 150.0,491.0Z" fill="none" stroke="#111" stroke-width="0.45" opacity="1.00"/>
<ellipse cx="147" cy="491" rx="4.3" ry="5.8" fill="none" stroke="#000" stroke-width="2" opacity="0.85"/>
<ellipse cx="147" cy="491.3" rx="1.9" ry="3.2" fill="#fff"/>
<rect x="106.00" y="474.00" width="1.60" height="16.00" fill="#333" opacity="0.8"/>
<ellipse cx="108" cy="482" rx="1.4" ry="8" fill="none" stroke="#666" stroke-width="0.4"/>
<text x="107.00" y="458.70" font-size="8.3" fill="#222" textLength="15.90" lengthAdjust="spacingAndGlyphs">53.2</text>
<text x="166.60" y="458.70" font-size="8.3" text-anchor="end" fill="#222" textLength="15.90" lengthAdjust="spacingAndGlyphs">46.6</text>
<text x="26.30" y="497.50" font-size="10.8" fill="#2a2a2a" transform="rotate(-90 26.30 497.50)" textLength="15.00" lengthAdjust="spacingAndGlyphs">SSC</text>
<text x="35.00" y="524.40" font-size="10.8" fill="#2a2a2a" textLength="18.00" lengthAdjust="spacingAndGlyphs">TCRβ</text>
<line x1="60.40" y1="521.60" x2="164.30" y2="521.60" stroke="#222" stroke-width="1" />
<path d="M166.30,521.60l-3.4,-1.5v3z" fill="#222" stroke="none" stroke-width="1" />
<rect x="31.50" y="527.50" width="60.90" height="59.90" fill="#fff" stroke="#7a7a7a" stroke-width="0.7" />
<line x1="36.37" y1="587.40" x2="36.37" y2="588.50" stroke="#555" stroke-width="0.5" />
<line x1="30.40" y1="582.61" x2="31.50" y2="582.61" stroke="#555" stroke-width="0.5" />
<line x1="39.42" y1="587.40" x2="39.42" y2="588.50" stroke="#555" stroke-width="0.5" />
<line x1="30.40" y1="579.61" x2="31.50" y2="579.61" stroke="#555" stroke-width="0.5" />
<line x1="49.77" y1="587.40" x2="49.77" y2="588.50" stroke="#555" stroke-width="0.5" />
<line x1="30.40" y1="569.43" x2="31.50" y2="569.43" stroke="#555" stroke-width="0.5" />
<line x1="60.12" y1="587.40" x2="60.12" y2="588.50" stroke="#555" stroke-width="0.5" />
<line x1="30.40" y1="559.25" x2="31.50" y2="559.25" stroke="#555" stroke-width="0.5" />
<line x1="70.48" y1="587.40" x2="70.48" y2="588.50" stroke="#555" stroke-width="0.5" />
<line x1="30.40" y1="549.06" x2="31.50" y2="549.06" stroke="#555" stroke-width="0.5" />
<line x1="80.83" y1="587.40" x2="80.83" y2="588.50" stroke="#555" stroke-width="0.5" />
<line x1="30.40" y1="538.88" x2="31.50" y2="538.88" stroke="#555" stroke-width="0.5" />
<line x1="89.36" y1="587.40" x2="89.36" y2="588.50" stroke="#555" stroke-width="0.5" />
<line x1="30.40" y1="530.50" x2="31.50" y2="530.50" stroke="#555" stroke-width="0.5" />
<line x1="35.15" y1="588.30" x2="38.81" y2="588.30" stroke="#222" stroke-width="0.8" />
<line x1="61.60" y1="527.50" x2="61.60" y2="587.40" stroke="#7a7a7a" stroke-width="0.6" />
<path d="M54.2,569L61,563.5L61.8,574Z" fill="none" stroke="#666" stroke-width="0.4" />
<path d="M62.8,571.0C62.3,568.2 62.8,565.0 63.5,563.0C64.2,561.0 65.4,559.6 67.0,558.8C68.6,558.0 71.0,558.2 73.0,558.3C75.0,558.4 77.5,558.4 79.0,559.5C80.5,560.6 81.5,562.8 82.0,565.0C82.5,567.2 82.7,570.6 82.3,573.0C81.9,575.4 81.0,578.1 79.5,579.5C78.0,580.9 75.2,581.6 73.0,581.6C70.8,581.6 68.2,581.3 66.5,579.5C64.8,577.7 63.3,573.8 62.8,571.0Z" fill="none" stroke="#555" stroke-width="0.45" />
<path d="M83.3,573.2C82.9,574.7 81.8,576.3 80.8,577.3C79.8,578.3 78.5,578.8 77.3,579.4C76.2,579.9 75.1,580.3 74.0,580.5C72.8,580.7 71.4,581.1 70.3,580.7C69.1,580.4 67.7,579.7 66.8,578.7C66.0,577.6 65.4,576.0 65.2,574.6C64.9,573.1 65.0,571.5 65.3,570.1C65.6,568.6 66.1,567.0 66.8,565.8C67.6,564.6 68.7,563.4 69.8,562.7C71.0,562.1 72.4,562.0 73.6,562.1C74.8,562.1 75.9,562.7 77.0,563.2C78.1,563.7 79.2,564.2 80.1,565.1C81.1,565.9 82.3,567.0 82.8,568.4C83.4,569.7 83.6,571.7 83.3,573.2Z" fill="url(#glight)" opacity="1.0" stroke="none"/>
<path d="M82.8,572.6C82.4,574.1 81.2,575.8 80.2,576.9C79.1,577.9 77.7,578.5 76.5,579.0C75.3,579.6 74.2,580.0 73.0,580.2C71.7,580.5 70.3,580.8 69.1,580.5C67.8,580.2 66.4,579.4 65.5,578.3C64.6,577.2 64.0,575.5 63.7,574.0C63.5,572.5 63.6,570.8 63.9,569.2C64.1,567.7 64.6,566.0 65.4,564.8C66.2,563.5 67.4,562.2 68.6,561.5C69.8,560.9 71.4,560.7 72.6,560.8C73.9,560.9 75.0,561.5 76.2,562.0C77.3,562.5 78.4,563.1 79.5,564.0C80.5,564.9 81.7,566.0 82.3,567.5C82.9,568.9 83.1,571.0 82.8,572.6Z" fill="none" stroke="#444" stroke-width="0.4" opacity="0.55"/>
<path d="M81.8,572.7C81.5,574.0 80.5,575.4 79.6,576.4C78.8,577.3 77.6,577.9 76.6,578.4C75.5,578.9 74.5,579.2 73.5,579.4C72.4,579.6 71.2,579.8 70.1,579.5C69.0,579.2 67.8,578.5 67.0,577.6C66.3,576.6 65.8,575.2 65.5,573.9C65.3,572.6 65.4,571.1 65.6,569.8C65.8,568.5 66.3,567.1 67.0,566.0C67.6,564.9 68.7,563.8 69.7,563.2C70.7,562.6 72.0,562.5 73.1,562.5C74.2,562.5 75.3,563.0 76.3,563.5C77.3,563.9 78.2,564.5 79.1,565.3C79.9,566.1 81.0,567.1 81.4,568.3C81.8,569.6 82.1,571.3 81.8,572.7Z" fill="none" stroke="#444" stroke-width="0.4" opacity="0.66"/>
<path d="M80.8,572.8C80.6,573.9 79.8,575.1 79.1,575.9C78.4,576.7 77.4,577.2 76.6,577.7C75.7,578.1 74.8,578.5 73.9,578.6C73.0,578.7 72.0,578.9 71.1,578.6C70.2,578.3 69.2,577.7 68.6,576.9C67.9,576.1 67.5,574.9 67.3,573.8C67.1,572.8 67.1,571.5 67.3,570.4C67.5,569.3 67.9,568.1 68.5,567.2C69.1,566.3 69.9,565.4 70.8,564.9C71.6,564.4 72.7,564.2 73.7,564.2C74.6,564.2 75.5,564.6 76.3,565.0C77.2,565.4 78.0,565.8 78.7,566.5C79.4,567.3 80.2,568.2 80.5,569.2C80.9,570.2 81.0,571.7 80.8,572.8Z" fill="none" stroke="#444" stroke-width="0.4" opacity="0.78"/>
<path d="M79.9,572.9C79.7,573.8 79.1,574.8 78.6,575.4C78.0,576.1 77.3,576.6 76.6,577.0C75.9,577.4 75.2,577.6 74.4,577.7C73.7,577.8 72.8,577.9 72.1,577.6C71.4,577.4 70.6,576.9 70.1,576.2C69.6,575.6 69.2,574.6 69.0,573.8C68.9,572.9 68.9,571.9 69.1,571.0C69.2,570.1 69.6,569.2 70.0,568.4C70.5,567.7 71.2,566.9 71.9,566.5C72.6,566.1 73.4,565.9 74.2,565.9C74.9,565.9 75.7,566.2 76.4,566.5C77.1,566.8 77.7,567.3 78.3,567.8C78.8,568.4 79.4,569.2 79.7,570.0C80.0,570.9 80.1,572.0 79.9,572.9Z" fill="none" stroke="#444" stroke-width="0.4" opacity="0.89"/>
<path d="M79.0,573.0C78.9,573.7 78.5,574.5 78.1,575.0C77.7,575.5 77.1,575.9 76.6,576.2C76.0,576.5 75.5,576.7 74.9,576.8C74.3,576.9 73.7,576.9 73.1,576.7C72.6,576.5 72.0,576.1 71.6,575.6C71.2,575.1 70.9,574.4 70.8,573.7C70.7,573.0 70.7,572.3 70.8,571.6C70.9,570.9 71.2,570.2 71.5,569.6C71.9,569.1 72.4,568.5 72.9,568.2C73.5,567.9 74.1,567.7 74.7,567.7C75.3,567.7 75.9,567.8 76.4,568.1C76.9,568.3 77.5,568.7 77.9,569.2C78.3,569.6 78.7,570.2 78.9,570.9C79.1,571.5 79.1,572.4 79.0,573.0Z" fill="none" stroke="#444" stroke-width="0.4" opacity="1.00"/>
<path d="M79.9,572.3C79.9,573.1 79.7,573.9 79.4,574.6C79.2,575.3 78.7,576.0 78.2,576.5C77.7,576.9 77.1,577.3 76.5,577.5C75.9,577.7 75.1,577.7 74.5,577.5C73.9,577.3 73.3,576.9 72.8,576.5C72.3,576.0 71.8,575.3 71.6,574.6C71.3,573.9 71.1,573.1 71.1,572.3C71.1,571.5 71.3,570.7 71.6,570.0C71.8,569.3 72.3,568.6 72.8,568.1C73.3,567.7 73.9,567.3 74.5,567.1C75.1,566.9 75.9,566.9 76.5,567.1C77.1,567.3 77.7,567.7 78.2,568.1C78.7,568.6 79.2,569.3 79.4,570.0C79.7,570.7 79.9,571.5 79.9,572.3Z" fill="url(#gmid)" opacity="1.0" stroke="none"/>
<path d="M80.1,572.3C80.1,573.1 79.9,574.0 79.6,574.7C79.4,575.5 78.9,576.2 78.4,576.7C77.8,577.2 77.2,577.6 76.5,577.8C75.9,577.9 75.1,577.9 74.5,577.8C73.8,577.6 73.2,577.2 72.6,576.7C72.1,576.2 71.6,575.5 71.4,574.7C71.1,574.0 70.9,573.1 70.9,572.3C70.9,571.5 71.1,570.6 71.4,569.9C71.6,569.1 72.1,568.4 72.6,567.9C73.2,567.4 73.8,567.0 74.5,566.8C75.1,566.7 75.9,566.7 76.5,566.8C77.2,567.0 77.8,567.4 78.4,567.9C78.9,568.4 79.4,569.1 79.6,569.9C79.9,570.6 80.1,571.5 80.1,572.3Z" fill="none" stroke="#111" stroke-width="0.4" opacity="0.55"/>
<path d="M79.3,572.3C79.3,573.0 79.2,573.7 78.9,574.3C78.7,574.9 78.3,575.5 77.9,575.9C77.4,576.4 76.9,576.7 76.3,576.8C75.8,577.0 75.2,577.0 74.7,576.8C74.1,576.7 73.6,576.4 73.1,575.9C72.7,575.5 72.3,574.9 72.1,574.3C71.8,573.7 71.7,573.0 71.7,572.3C71.7,571.6 71.8,570.9 72.1,570.3C72.3,569.7 72.7,569.1 73.1,568.7C73.6,568.2 74.1,567.9 74.7,567.8C75.2,567.6 75.8,567.6 76.3,567.8C76.9,567.9 77.4,568.2 77.9,568.7C78.3,569.1 78.7,569.7 78.9,570.3C79.2,570.9 79.3,571.6 79.3,572.3Z" fill="none" stroke="#111" stroke-width="0.4" opacity="0.64"/>
<path d="M78.5,572.3C78.5,572.8 78.4,573.4 78.2,573.9C78.0,574.4 77.7,574.9 77.4,575.2C77.0,575.5 76.6,575.8 76.2,575.9C75.7,576.0 75.3,576.0 74.8,575.9C74.4,575.8 74.0,575.5 73.6,575.2C73.3,574.9 73.0,574.4 72.8,573.9C72.6,573.4 72.5,572.8 72.5,572.3C72.5,571.8 72.6,571.2 72.8,570.7C73.0,570.2 73.3,569.7 73.6,569.4C74.0,569.1 74.4,568.8 74.8,568.7C75.3,568.6 75.7,568.6 76.2,568.7C76.6,568.8 77.0,569.1 77.4,569.4C77.7,569.7 78.0,570.2 78.2,570.7C78.4,571.2 78.5,571.8 78.5,572.3Z" fill="none" stroke="#111" stroke-width="0.4" opacity="0.73"/>
<path d="M77.8,572.3C77.8,572.7 77.7,573.1 77.5,573.5C77.4,573.8 77.2,574.2 76.9,574.4C76.7,574.7 76.3,574.9 76.0,575.0C75.7,575.1 75.3,575.1 75.0,575.0C74.7,574.9 74.3,574.7 74.1,574.4C73.8,574.2 73.6,573.8 73.5,573.5C73.3,573.1 73.2,572.7 73.2,572.3C73.2,571.9 73.3,571.5 73.5,571.1C73.6,570.8 73.8,570.4 74.1,570.2C74.3,569.9 74.7,569.7 75.0,569.6C75.3,569.5 75.7,569.5 76.0,569.6C76.3,569.7 76.7,569.9 76.9,570.2C77.2,570.4 77.4,570.8 77.5,571.1C77.7,571.5 77.8,571.9 77.8,572.3Z" fill="none" stroke="#111" stroke-width="0.4" opacity="0.82"/>
<path d="M77.0,572.3C77.0,572.6 76.9,572.8 76.8,573.1C76.7,573.3 76.6,573.5 76.4,573.7C76.3,573.9 76.0,574.0 75.8,574.0C75.6,574.1 75.4,574.1 75.2,574.0C75.0,574.0 74.7,573.9 74.6,573.7C74.4,573.5 74.3,573.3 74.2,573.1C74.1,572.8 74.0,572.6 74.0,572.3C74.0,572.0 74.1,571.8 74.2,571.5C74.3,571.3 74.4,571.1 74.6,570.9C74.7,570.7 75.0,570.6 75.2,570.6C75.4,570.5 75.6,570.5 75.8,570.6C76.0,570.6 76.3,570.7 76.4,570.9C76.6,571.1 76.7,571.3 76.8,571.5C76.9,571.8 77.0,572.0 77.0,572.3Z" fill="none" stroke="#111" stroke-width="0.4" opacity="0.91"/>
<path d="M76.2,572.3C76.2,572.4 76.2,572.6 76.1,572.7C76.1,572.8 76.0,572.9 75.9,573.0C75.9,573.0 75.8,573.1 75.7,573.1C75.6,573.1 75.4,573.1 75.3,573.1C75.2,573.1 75.1,573.0 75.1,573.0C75.0,572.9 74.9,572.8 74.9,572.7C74.8,572.6 74.8,572.4 74.8,572.3C74.8,572.2 74.8,572.0 74.9,571.9C74.9,571.8 75.0,571.7 75.1,571.6C75.1,571.6 75.2,571.5 75.3,571.5C75.4,571.5 75.6,571.5 75.7,571.5C75.8,571.5 75.9,571.6 75.9,571.6C76.0,571.7 76.1,571.8 76.1,571.9C76.2,572.0 76.2,572.2 76.2,572.3Z" fill="none" stroke="#111" stroke-width="0.4" opacity="1.00"/>
<ellipse cx="75.9" cy="572.4" rx="1.9" ry="3" fill="#000" opacity="0.85" filter="url(#b05)"/>
<text x="33.00" y="536.10" font-size="8.3" fill="#222" textLength="15.90" lengthAdjust="spacingAndGlyphs">3.36</text>
<text x="91.20" y="536.10" font-size="8.3" text-anchor="end" fill="#222" textLength="15.90" lengthAdjust="spacingAndGlyphs">96.6</text>
<rect x="105.00" y="528.00" width="62.70" height="62.80" fill="#fff" stroke="#7a7a7a" stroke-width="0.7" />
<line x1="110.02" y1="590.80" x2="110.02" y2="591.90" stroke="#555" stroke-width="0.5" />
<line x1="103.90" y1="585.78" x2="105.00" y2="585.78" stroke="#555" stroke-width="0.5" />
<line x1="113.15" y1="590.80" x2="113.15" y2="591.90" stroke="#555" stroke-width="0.5" />
<line x1="103.90" y1="582.64" x2="105.00" y2="582.64" stroke="#555" stroke-width="0.5" />
<line x1="123.81" y1="590.80" x2="123.81" y2="591.90" stroke="#555" stroke-width="0.5" />
<line x1="103.90" y1="571.96" x2="105.00" y2="571.96" stroke="#555" stroke-width="0.5" />
<line x1="134.47" y1="590.80" x2="134.47" y2="591.90" stroke="#555" stroke-width="0.5" />
<line x1="103.90" y1="561.28" x2="105.00" y2="561.28" stroke="#555" stroke-width="0.5" />
<line x1="145.13" y1="590.80" x2="145.13" y2="591.90" stroke="#555" stroke-width="0.5" />
<line x1="103.90" y1="550.61" x2="105.00" y2="550.61" stroke="#555" stroke-width="0.5" />
<line x1="155.79" y1="590.80" x2="155.79" y2="591.90" stroke="#555" stroke-width="0.5" />
<line x1="103.90" y1="539.93" x2="105.00" y2="539.93" stroke="#555" stroke-width="0.5" />
<line x1="164.56" y1="590.80" x2="164.56" y2="591.90" stroke="#555" stroke-width="0.5" />
<line x1="103.90" y1="531.14" x2="105.00" y2="531.14" stroke="#555" stroke-width="0.5" />
<line x1="108.76" y1="591.70" x2="112.52" y2="591.70" stroke="#222" stroke-width="0.8" />
<line x1="136.50" y1="528.00" x2="136.50" y2="590.80" stroke="#7a7a7a" stroke-width="0.6" />
<path d="M113.0,568.0C113.3,566.5 115.5,565.2 117.0,565.0C118.5,564.8 120.7,565.5 122.0,566.5C123.3,567.5 125.2,569.6 125.0,571.0C124.8,572.4 122.7,574.5 121.0,575.0C119.3,575.5 116.3,575.2 115.0,574.0C113.7,572.8 112.7,569.5 113.0,568.0Z" fill="none" stroke="#888" stroke-width="0.4" />
<path d="M124.0,563.0C124.5,560.5 126.8,559.3 128.0,557.0C129.2,554.7 129.8,550.8 131.0,549.0C132.2,547.2 133.8,546.7 135.0,546.0C136.2,545.3 137.2,544.2 138.0,545.0C138.8,545.8 139.2,549.7 140.0,551.0C140.8,552.3 141.7,552.8 143.0,553.0C144.3,553.2 146.2,551.8 148.0,552.0C149.8,552.2 152.7,552.7 154.0,554.0C155.3,555.3 155.3,558.0 156.0,560.0C156.7,562.0 157.3,564.0 158.0,566.0C158.7,568.0 160.3,570.0 160.0,572.0C159.7,574.0 158.0,576.5 156.0,578.0C154.0,579.5 151.0,580.7 148.0,581.0C145.0,581.3 141.0,580.5 138.0,580.0C135.0,579.5 132.2,579.3 130.0,578.0C127.8,576.7 126.0,574.5 125.0,572.0C124.0,569.5 123.5,565.5 124.0,563.0Z" fill="none" stroke="#888" stroke-width="0.4" />
<path d="M128.0,560.0C128.8,558.8 131.5,554.7 133.0,553.0C134.5,551.3 136.0,549.5 137.0,550.0C138.0,550.5 137.8,554.8 139.0,556.0C140.2,557.2 142.2,556.7 144.0,557.0C145.8,557.3 148.5,557.0 150.0,558.0C151.5,559.0 152.5,562.2 153.0,563.0" fill="none" stroke="#888" stroke-width="0.4" />
<path d="M160.0,566.0C160.3,564.7 162.3,563.5 163.0,564.0C163.7,564.5 164.3,567.7 164.0,569.0C163.7,570.3 161.7,572.5 161.0,572.0C160.3,571.5 159.7,567.3 160.0,566.0Z" fill="none" stroke="#888" stroke-width="0.4" />
<ellipse cx="138" cy="565.5" rx="14.0" ry="10.0" fill="#000" opacity="0.1" transform="rotate(-15 138 565.5)" filter="url(#b2)"/>
<path d="M154.9,560.9C155.8,562.1 155.7,564.1 155.1,565.6C154.4,567.0 152.1,568.2 151.1,569.6C150.0,571.0 150.1,573.2 148.6,574.0C147.1,574.8 143.9,573.8 142.0,574.4C140.2,574.9 139.3,576.3 137.5,577.2C135.6,578.0 133.4,579.1 131.1,579.6C128.8,580.0 126.0,580.1 123.6,579.7C121.2,579.4 116.6,579.1 116.6,577.4C116.7,575.6 122.2,571.2 123.8,569.3C125.5,567.3 126.5,567.0 126.4,565.8C126.2,564.5 123.0,563.0 122.9,561.6C122.9,560.2 124.9,559.0 126.1,557.6C127.4,556.2 128.6,554.0 130.4,553.3C132.2,552.6 134.8,553.5 137.0,553.3C139.1,553.1 141.2,552.1 143.3,552.0C145.5,551.9 148.8,551.5 149.9,552.6C151.0,553.7 149.0,557.1 149.8,558.5C150.7,559.9 154.0,559.8 154.9,560.9Z" fill="none" stroke="#777" stroke-width="0.4" opacity="0.85"/>
<path d="M152.8,562.6C153.9,563.7 157.0,564.9 157.0,566.2C157.0,567.5 154.3,569.2 152.8,570.4C151.4,571.6 149.7,572.0 148.5,573.4C147.2,574.8 147.1,577.7 145.5,578.5C143.9,579.3 140.9,578.5 139.0,578.2C137.1,577.9 135.3,577.7 134.1,577.0C132.8,576.2 132.1,574.9 131.5,573.9C130.9,572.9 131.7,571.6 130.6,571.0C129.5,570.4 126.2,570.9 124.8,570.1C123.5,569.4 123.2,568.0 122.5,566.5C121.8,565.0 120.1,562.8 120.6,561.2C121.2,559.6 123.6,557.5 125.8,556.9C128.1,556.4 131.9,558.0 134.1,557.8C136.2,557.6 137.1,556.0 138.6,555.8C140.1,555.6 141.8,556.3 143.0,556.8C144.3,557.2 145.0,558.1 146.3,558.6C147.5,559.1 149.4,559.1 150.5,559.7C151.6,560.4 151.8,561.5 152.8,562.6Z" fill="none" stroke="#777" stroke-width="0.4" opacity="0.85"/>
<path d="M152.6,561.3C152.2,562.6 150.2,564.0 149.4,565.1C148.6,566.2 148.5,567.0 148.0,568.0C147.4,568.9 147.0,570.0 146.1,571.0C145.3,572.0 144.3,573.5 143.0,573.9C141.7,574.3 139.7,573.4 138.3,573.3C136.9,573.3 135.8,573.6 134.3,573.7C132.8,573.9 130.6,574.6 129.3,574.3C128.0,573.9 128.0,572.4 126.8,571.6C125.6,570.8 122.8,570.5 122.0,569.5C121.1,568.4 120.5,566.5 121.6,565.3C122.6,564.1 126.4,563.0 128.3,562.3C130.2,561.7 131.8,561.8 132.9,561.3C134.0,560.8 134.1,560.4 134.9,559.3C135.7,558.1 136.6,555.3 137.9,554.5C139.3,553.7 141.5,554.0 142.9,554.4C144.3,554.8 144.7,556.3 146.2,556.8C147.8,557.3 151.1,556.5 152.1,557.2C153.2,558.0 153.1,560.0 152.6,561.3Z" fill="none" stroke="#777" stroke-width="0.4" opacity="0.85"/>
<path d="M149.8,562.5C150.2,563.4 148.9,564.5 149.0,565.7C149.1,566.8 150.8,568.3 150.2,569.3C149.6,570.2 147.1,571.0 145.5,571.3C144.0,571.7 142.2,571.0 140.9,571.4C139.7,571.7 139.0,573.2 138.0,573.4C136.9,573.6 135.7,573.0 134.7,572.8C133.7,572.5 132.7,572.3 131.8,572.0C130.9,571.6 130.3,571.1 129.3,570.6C128.3,570.1 126.5,569.8 125.6,569.0C124.7,568.2 123.3,566.8 124.0,565.8C124.8,564.9 128.9,564.4 130.1,563.5C131.2,562.7 130.7,562.0 131.1,560.9C131.6,559.8 131.9,557.4 132.9,556.9C134.0,556.4 136.4,557.2 137.7,557.6C139.0,558.0 139.9,558.7 140.7,559.3C141.5,559.8 141.6,560.6 142.6,560.8C143.6,561.0 145.6,560.4 146.8,560.7C148.0,560.9 149.4,561.7 149.8,562.5Z" fill="none" stroke="#777" stroke-width="0.4" opacity="0.85"/>
<path d="M144.7,563.7C144.5,564.6 145.4,565.0 145.1,565.6C144.8,566.2 143.3,566.6 142.8,567.2C142.3,567.8 142.4,568.1 142.1,569.0C141.9,569.9 142.1,572.0 141.4,572.6C140.6,573.3 138.8,573.0 137.7,573.1C136.5,573.1 135.2,573.3 134.2,573.1C133.3,572.8 132.6,572.0 131.9,571.5C131.2,570.9 130.5,570.5 129.9,570.0C129.3,569.4 128.0,568.8 128.4,568.1C128.7,567.4 131.7,566.4 132.2,565.7C132.7,565.0 131.4,564.7 131.2,563.9C131.0,563.1 130.5,561.6 131.0,560.9C131.5,560.2 133.2,560.2 134.3,559.9C135.4,559.5 136.4,558.9 137.4,558.9C138.4,558.8 139.1,559.5 140.2,559.5C141.3,559.5 142.9,558.8 144.0,559.0C145.1,559.1 146.5,559.7 146.7,560.5C146.8,561.3 145.0,562.9 144.7,563.7Z" fill="none" stroke="#777" stroke-width="0.4" opacity="0.85"/>
<path d="M145.0,563.3C145.0,563.9 144.2,564.6 144.0,565.2C143.7,565.9 143.9,566.4 143.6,567.0C143.3,567.5 142.6,568.0 142.1,568.5C141.5,569.0 141.0,569.6 140.2,570.0C139.5,570.3 138.5,570.6 137.8,570.5C137.0,570.4 136.4,569.8 135.8,569.5C135.2,569.2 134.7,569.0 134.3,568.7C133.9,568.4 134.0,567.9 133.4,567.7C132.9,567.4 131.5,567.5 130.7,567.1C130.0,566.8 128.8,566.0 129.0,565.4C129.1,564.8 130.7,564.0 131.5,563.5C132.3,563.0 132.9,562.7 133.5,562.3C134.2,561.9 134.7,561.4 135.4,561.1C136.0,560.8 136.9,560.5 137.6,560.5C138.3,560.5 139.1,560.7 139.6,560.9C140.2,561.1 140.2,561.8 140.9,562.0C141.5,562.2 142.9,561.7 143.6,561.9C144.3,562.1 144.9,562.8 145.0,563.3Z" fill="none" stroke="#777" stroke-width="0.4" opacity="0.85"/>
<ellipse cx="141" cy="571" rx="11.2" ry="7.2" fill="#000" opacity="0.1" transform="rotate(0 141 571)" filter="url(#b2)"/>
<path d="M155.1,571.4C155.0,572.3 153.3,573.2 152.3,574.0C151.4,574.8 150.3,575.1 149.6,576.0C148.9,576.8 149.0,578.2 148.1,579.2C147.1,580.1 145.6,581.3 143.9,581.8C142.3,582.4 139.7,582.7 138.1,582.3C136.4,581.8 135.3,580.0 134.1,579.1C133.0,578.1 132.2,577.5 131.2,576.7C130.2,575.9 128.5,575.3 128.0,574.4C127.4,573.5 127.9,572.4 127.9,571.4C127.8,570.3 127.1,569.1 127.6,568.2C128.1,567.3 129.8,566.5 131.1,566.0C132.3,565.4 134.0,565.5 135.3,565.0C136.6,564.4 137.2,563.2 138.6,562.5C140.0,561.8 142.1,561.1 143.9,560.9C145.8,560.8 148.4,560.9 149.8,561.7C151.1,562.4 151.5,564.3 151.9,565.5C152.4,566.7 152.0,567.7 152.5,568.7C153.0,569.7 155.1,570.5 155.1,571.4Z" fill="none" stroke="#555" stroke-width="0.4" opacity="0.85"/>
<path d="M151.4,571.4C151.5,572.2 151.7,573.1 151.4,573.9C151.1,574.7 150.7,575.8 149.6,576.2C148.6,576.6 146.3,576.1 145.0,576.2C143.8,576.4 143.4,576.7 142.3,577.2C141.2,577.7 139.8,579.1 138.5,579.3C137.1,579.6 135.4,579.1 134.2,578.6C133.0,578.1 131.9,577.2 131.2,576.4C130.6,575.7 130.6,574.6 130.4,573.8C130.1,572.9 129.8,572.2 129.9,571.4C130.0,570.6 130.1,569.7 130.7,569.0C131.3,568.4 132.7,568.1 133.5,567.5C134.2,566.8 134.3,565.8 135.2,565.2C136.0,564.7 137.5,564.3 138.7,564.2C139.9,564.0 141.2,564.3 142.6,564.4C144.0,564.4 145.7,564.1 146.9,564.4C148.1,564.8 149.0,565.8 149.7,566.5C150.4,567.3 150.7,568.1 151.0,569.0C151.2,569.8 151.4,570.5 151.4,571.4Z" fill="none" stroke="#555" stroke-width="0.4" opacity="0.85"/>
<path d="M148.8,570.6C148.6,571.2 148.4,571.8 148.1,572.4C147.8,572.9 147.5,573.6 146.9,574.1C146.4,574.5 145.4,574.8 144.6,575.1C143.8,575.5 142.9,576.3 142.1,576.3C141.2,576.2 140.0,575.5 139.3,575.1C138.5,574.7 138.3,574.2 137.4,574.0C136.6,573.8 135.0,574.3 134.1,574.0C133.2,573.8 132.4,573.2 131.8,572.6C131.2,572.0 130.7,571.2 130.7,570.6C130.8,569.9 131.5,569.2 132.1,568.6C132.7,568.1 133.6,567.7 134.3,567.2C135.0,566.8 135.6,566.2 136.5,566.1C137.3,566.0 138.5,566.6 139.4,566.6C140.3,566.6 140.8,566.2 141.8,566.0C142.7,565.9 144.0,565.5 144.9,565.7C145.8,565.8 146.4,566.5 147.1,567.0C147.8,567.5 148.9,568.0 149.1,568.6C149.4,569.2 149.0,569.9 148.8,570.6Z" fill="none" stroke="#555" stroke-width="0.4" opacity="0.85"/>
<path d="M146.4,571.1C146.5,571.4 145.8,571.9 145.5,572.2C145.2,572.6 144.8,572.9 144.4,573.2C144.0,573.4 143.5,573.6 143.0,573.8C142.4,573.9 141.9,574.1 141.4,574.2C140.8,574.3 140.2,574.5 139.6,574.5C138.9,574.5 138.2,574.5 137.6,574.3C137.0,574.2 136.1,574.0 135.8,573.6C135.4,573.3 135.6,572.7 135.5,572.2C135.5,571.8 135.6,571.4 135.6,571.1C135.6,570.7 135.4,570.2 135.6,569.9C135.9,569.6 136.7,569.5 137.2,569.3C137.6,569.0 137.8,568.8 138.2,568.5C138.6,568.2 138.9,567.6 139.5,567.3C140.1,567.0 141.0,566.7 141.7,566.8C142.3,566.9 143.1,567.4 143.4,567.8C143.8,568.2 143.5,569.0 143.7,569.3C144.0,569.7 144.7,569.7 145.2,570.0C145.6,570.3 146.4,570.7 146.4,571.1Z" fill="none" stroke="#555" stroke-width="0.4" opacity="0.85"/>
<path d="M137.8,570.4C137.7,571.5 137.3,572.7 136.9,573.6C136.5,574.5 135.9,575.2 135.3,575.7C134.7,576.2 134.0,576.5 133.4,576.7C132.7,576.8 132.1,576.8 131.5,576.6C130.8,576.4 130.2,576.0 129.7,575.4C129.2,574.8 128.7,573.9 128.4,572.9C128.2,571.9 128.1,570.7 128.2,569.6C128.3,568.5 128.7,567.3 129.1,566.4C129.5,565.5 130.1,564.8 130.7,564.3C131.3,563.8 132.0,563.5 132.6,563.3C133.3,563.2 133.9,563.2 134.5,563.4C135.2,563.6 135.8,564.0 136.3,564.6C136.8,565.2 137.3,566.1 137.6,567.1C137.8,568.1 137.9,569.3 137.8,570.4Z" fill="url(#gmid)" opacity="1.0" stroke="none"/>
<path d="M138.1,570.4C138.0,571.6 137.6,572.8 137.1,573.8C136.7,574.7 136.0,575.5 135.4,576.0C134.8,576.6 134.1,576.9 133.4,577.0C132.7,577.2 132.0,577.2 131.4,576.9C130.7,576.7 130.0,576.3 129.5,575.7C129.0,575.0 128.5,574.1 128.2,573.0C127.9,572.0 127.8,570.7 127.9,569.6C128.0,568.4 128.4,567.2 128.9,566.2C129.3,565.3 130.0,564.5 130.6,564.0C131.2,563.4 131.9,563.1 132.6,563.0C133.3,562.8 134.0,562.8 134.6,563.1C135.3,563.3 136.0,563.7 136.5,564.3C137.0,565.0 137.5,565.9 137.8,567.0C138.1,568.0 138.2,569.3 138.1,570.4Z" fill="none" stroke="#444" stroke-width="0.4" opacity="0.55"/>
<path d="M137.0,570.4C136.9,571.3 136.6,572.2 136.3,573.0C135.9,573.7 135.4,574.4 134.9,574.8C134.4,575.3 133.9,575.6 133.3,575.7C132.8,575.8 132.2,575.8 131.7,575.6C131.2,575.4 130.6,575.1 130.2,574.5C129.8,574.0 129.4,573.2 129.2,572.4C129.0,571.6 128.9,570.6 129.0,569.6C129.1,568.7 129.4,567.8 129.7,567.0C130.1,566.3 130.6,565.6 131.1,565.2C131.6,564.7 132.1,564.4 132.7,564.3C133.2,564.2 133.8,564.2 134.3,564.4C134.8,564.6 135.4,564.9 135.8,565.5C136.2,566.0 136.6,566.8 136.8,567.6C137.0,568.4 137.1,569.4 137.0,570.4Z" fill="none" stroke="#444" stroke-width="0.4" opacity="0.66"/>
<path d="M136.0,570.3C135.9,570.9 135.7,571.7 135.5,572.2C135.2,572.8 134.8,573.3 134.5,573.6C134.1,574.0 133.6,574.2 133.2,574.3C132.8,574.4 132.4,574.4 132.0,574.2C131.6,574.1 131.2,573.8 130.9,573.4C130.6,573.0 130.3,572.4 130.2,571.8C130.0,571.2 129.9,570.4 130.0,569.7C130.1,569.1 130.3,568.3 130.5,567.8C130.8,567.2 131.2,566.7 131.5,566.4C131.9,566.0 132.4,565.8 132.8,565.7C133.2,565.6 133.6,565.6 134.0,565.8C134.4,565.9 134.8,566.2 135.1,566.6C135.4,567.0 135.7,567.6 135.8,568.2C136.0,568.8 136.1,569.6 136.0,570.3Z" fill="none" stroke="#444" stroke-width="0.4" opacity="0.78"/>
<path d="M135.0,570.2C134.9,570.6 134.8,571.1 134.6,571.5C134.5,571.9 134.2,572.2 134.0,572.4C133.7,572.7 133.4,572.8 133.2,572.9C132.9,573.0 132.6,572.9 132.3,572.8C132.1,572.7 131.8,572.5 131.6,572.3C131.4,572.0 131.2,571.6 131.1,571.2C131.0,570.8 131.0,570.3 131.0,569.8C131.1,569.4 131.2,568.9 131.4,568.5C131.5,568.1 131.8,567.8 132.0,567.6C132.3,567.3 132.6,567.2 132.8,567.1C133.1,567.0 133.4,567.1 133.7,567.2C133.9,567.3 134.2,567.5 134.4,567.7C134.6,568.0 134.8,568.4 134.9,568.8C135.0,569.2 135.0,569.7 135.0,570.2Z" fill="none" stroke="#444" stroke-width="0.4" opacity="0.89"/>
<path d="M134.0,570.1C134.0,570.3 133.9,570.6 133.8,570.7C133.7,570.9 133.6,571.1 133.5,571.2C133.4,571.3 133.2,571.4 133.1,571.5C132.9,571.5 132.8,571.5 132.7,571.4C132.5,571.4 132.4,571.3 132.3,571.1C132.2,571.0 132.1,570.8 132.1,570.6C132.0,570.4 132.0,570.1 132.0,569.9C132.0,569.7 132.1,569.4 132.2,569.3C132.3,569.1 132.4,568.9 132.5,568.8C132.6,568.7 132.8,568.6 132.9,568.5C133.1,568.5 133.2,568.5 133.3,568.6C133.5,568.6 133.6,568.7 133.7,568.9C133.8,569.0 133.9,569.2 133.9,569.4C134.0,569.6 134.0,569.9 134.0,570.1Z" fill="none" stroke="#444" stroke-width="0.4" opacity="1.00"/>
<path d="M154.9,570.8C154.9,571.9 154.5,573.1 154.0,574.1C153.5,575.0 152.7,575.9 151.9,576.5C151.1,577.1 150.1,577.5 149.1,577.7C148.2,577.9 147.2,577.9 146.2,577.7C145.3,577.6 144.3,577.2 143.4,576.6C142.6,576.0 141.8,575.1 141.3,574.1C140.8,573.2 140.5,571.9 140.5,570.8C140.5,569.7 140.9,568.5 141.4,567.5C141.9,566.6 142.7,565.7 143.5,565.1C144.3,564.5 145.3,564.1 146.3,563.9C147.2,563.7 148.2,563.7 149.2,563.9C150.1,564.0 151.1,564.4 152.0,565.0C152.8,565.6 153.6,566.5 154.1,567.5C154.6,568.4 154.9,569.7 154.9,570.8Z" fill="url(#gdark)" opacity="1.0" stroke="none"/>
<path d="M155.3,570.8C155.2,572.0 154.9,573.3 154.3,574.3C153.8,575.3 152.9,576.1 152.1,576.8C151.2,577.4 150.2,577.8 149.2,578.0C148.2,578.3 147.2,578.3 146.2,578.1C145.2,577.9 144.1,577.5 143.2,576.9C142.4,576.3 141.5,575.3 141.0,574.3C140.5,573.3 140.1,572.0 140.1,570.8C140.2,569.6 140.5,568.3 141.1,567.3C141.6,566.3 142.5,565.5 143.3,564.8C144.2,564.2 145.2,563.8 146.2,563.6C147.2,563.3 148.2,563.3 149.2,563.5C150.2,563.7 151.3,564.1 152.2,564.7C153.0,565.3 153.9,566.3 154.4,567.3C154.9,568.3 155.3,569.6 155.3,570.8Z" fill="none" stroke="#111" stroke-width="0.45" opacity="0.55"/>
<path d="M154.2,570.8C154.2,571.8 153.8,572.9 153.4,573.8C153.0,574.6 152.2,575.4 151.5,576.0C150.8,576.5 149.9,576.9 149.0,577.1C148.2,577.3 147.2,577.3 146.4,577.1C145.5,577.0 144.6,576.6 143.8,576.1C143.1,575.5 142.4,574.7 141.9,573.8C141.5,572.9 141.2,571.8 141.2,570.8C141.2,569.8 141.6,568.7 142.0,567.8C142.4,567.0 143.2,566.2 143.9,565.6C144.6,565.1 145.5,564.7 146.4,564.5C147.2,564.3 148.2,564.3 149.0,564.5C149.9,564.6 150.8,565.0 151.6,565.5C152.3,566.1 153.0,566.9 153.5,567.8C153.9,568.7 154.2,569.8 154.2,570.8Z" fill="none" stroke="#111" stroke-width="0.45" opacity="0.66"/>
<path d="M153.1,570.8C153.1,571.6 152.8,572.6 152.5,573.3C152.1,574.0 151.5,574.7 150.9,575.2C150.3,575.6 149.5,576.0 148.8,576.1C148.1,576.3 147.3,576.3 146.6,576.2C145.8,576.0 145.1,575.7 144.4,575.2C143.8,574.7 143.2,574.1 142.9,573.3C142.5,572.6 142.3,571.6 142.3,570.8C142.3,570.0 142.6,569.0 142.9,568.3C143.3,567.6 143.9,566.9 144.5,566.4C145.1,566.0 145.9,565.6 146.6,565.5C147.3,565.3 148.1,565.3 148.8,565.4C149.6,565.6 150.3,565.9 151.0,566.4C151.6,566.9 152.2,567.5 152.5,568.3C152.9,569.0 153.1,570.0 153.1,570.8Z" fill="none" stroke="#111" stroke-width="0.45" opacity="0.78"/>
<path d="M152.0,570.8C152.0,571.5 151.8,572.2 151.6,572.8C151.3,573.4 150.8,574.0 150.3,574.3C149.8,574.7 149.2,575.0 148.6,575.1C148.0,575.3 147.4,575.3 146.8,575.2C146.2,575.0 145.6,574.8 145.1,574.4C144.6,574.0 144.1,573.4 143.8,572.8C143.5,572.2 143.4,571.5 143.4,570.8C143.4,570.1 143.6,569.4 143.8,568.8C144.1,568.2 144.6,567.6 145.1,567.3C145.6,566.9 146.2,566.6 146.8,566.5C147.4,566.3 148.0,566.3 148.6,566.4C149.2,566.6 149.8,566.8 150.3,567.2C150.8,567.6 151.3,568.2 151.6,568.8C151.9,569.4 152.0,570.1 152.0,570.8Z" fill="none" stroke="#111" stroke-width="0.45" opacity="0.89"/>
<path d="M151.0,570.8C151.0,571.3 150.9,571.9 150.6,572.3C150.4,572.8 150.1,573.2 149.7,573.5C149.3,573.8 148.9,574.0 148.4,574.2C148.0,574.3 147.4,574.3 147.0,574.2C146.5,574.1 146.1,573.8 145.7,573.5C145.3,573.2 145.0,572.8 144.7,572.3C144.5,571.9 144.4,571.3 144.4,570.8C144.4,570.3 144.5,569.7 144.8,569.3C145.0,568.8 145.3,568.4 145.7,568.1C146.1,567.8 146.5,567.6 147.0,567.4C147.4,567.3 148.0,567.3 148.4,567.4C148.9,567.5 149.3,567.8 149.7,568.1C150.1,568.4 150.4,568.8 150.7,569.3C150.9,569.7 151.0,570.3 151.0,570.8Z" fill="none" stroke="#111" stroke-width="0.45" opacity="1.00"/>
<ellipse cx="147.7" cy="570.8" rx="4.6" ry="5.2" fill="none" stroke="#000" stroke-width="1.7" opacity="0.8"/>
<ellipse cx="148" cy="571" rx="1.6" ry="2.4" fill="#fff"/>
<ellipse cx="106.2" cy="569" rx="1.2" ry="6" fill="#555" opacity="0.6"/>
<ellipse cx="166.8" cy="567.7" rx="1" ry="6.5" fill="#555" opacity="0.6"/>
<text x="107.00" y="536.10" font-size="8.3" fill="#222" textLength="15.90" lengthAdjust="spacingAndGlyphs">30.9</text>
<text x="166.00" y="536.10" font-size="8.3" text-anchor="end" fill="#222" textLength="15.90" lengthAdjust="spacingAndGlyphs">69.1</text>
<text x="26.30" y="588.75" font-size="10.8" fill="#2a2a2a" transform="rotate(-90 26.30 588.75)" textLength="14.50" lengthAdjust="spacingAndGlyphs">SSC</text>
<text x="35.00" y="599.40" font-size="10.8" fill="#2a2a2a" textLength="18.00" lengthAdjust="spacingAndGlyphs">TCRβ</text>
<line x1="60.40" y1="596.40" x2="164.50" y2="596.40" stroke="#222" stroke-width="1" />
<path d="M166.50,596.40l-3.4,-1.5v3z" fill="#222" stroke="none" stroke-width="1" />
<path d="M30.5,392.4H13V545.2H29" fill="none" stroke="#1f4e8c" stroke-width="0.9" stroke-dasharray="2.7 1.5"/>
<path d="M32,545.2l-3.3,-1.5v3z" fill="#1f4e8c" stroke="none" stroke-width="1" />
<line x1="79.20" y1="436.00" x2="79.20" y2="448.00" stroke="#1f4e8c" stroke-width="0.9" stroke-dasharray="2.7 1.5"/>
<path d="M79.2,451.2l-1.5,-3.3h3z" fill="#1f4e8c" stroke="none" stroke-width="1" />
<text x="8.00" y="617.60" font-size="12" font-weight="700" fill="#231f20">P</text>
<text x="86.25" y="617.50" font-size="10.3" font-style="italic" fill="#231f20" textLength="29.25" lengthAdjust="spacingAndGlyphs">Cdc73</text>
<text x="27.30" y="693.6" font-size="9.2" fill="#3a3a3a" transform="rotate(-90 27.30 693.6)" textLength="69" lengthAdjust="spacingAndGlyphs">Relative expression</text>
<rect x="57.80" y="649.30" width="5.60" height="45.00" fill="#3aaa35" />
<line x1="60.60" y1="649.30" x2="60.60" y2="642.30" stroke="#2f8f2c" stroke-width="0.8" />
<line x1="58.40" y1="642.30" x2="62.80" y2="642.30" stroke="#2f8f2c" stroke-width="0.9" />
<rect x="64.50" y="664.00" width="5.60" height="30.30" fill="#f7941d" />
<line x1="67.30" y1="664.00" x2="67.30" y2="657.30" stroke="#e07f10" stroke-width="0.8" />
<line x1="65.10" y1="657.30" x2="69.50" y2="657.30" stroke="#e07f10" stroke-width="0.9" />
<text x="69.90" y="656.10" font-size="8" fill="#3a3a3a" transform="rotate(-90 69.90 656.10)" textLength="8" lengthAdjust="spacingAndGlyphs">ns</text>
<rect x="81.20" y="649.80" width="5.60" height="44.50" fill="#3aaa35" />
<line x1="84.00" y1="649.80" x2="84.00" y2="648.50" stroke="#2f8f2c" stroke-width="0.8" />
<line x1="81.80" y1="648.50" x2="86.20" y2="648.50" stroke="#2f8f2c" stroke-width="0.9" />
<rect x="87.60" y="687.30" width="5.60" height="7.00" fill="#f7941d" />
<line x1="90.40" y1="687.30" x2="90.40" y2="686.60" stroke="#e07f10" stroke-width="0.8" />
<line x1="88.20" y1="686.60" x2="92.60" y2="686.60" stroke="#e07f10" stroke-width="0.9" />
<text x="94.60" y="685.40" font-size="9.5" fill="#3a3a3a" transform="rotate(-90 94.60 685.40)" textLength="13.6" lengthAdjust="spacingAndGlyphs">****</text>
<rect x="104.50" y="649.80" width="5.60" height="44.50" fill="#3aaa35" />
<line x1="107.30" y1="649.80" x2="107.30" y2="645.50" stroke="#2f8f2c" stroke-width="0.8" />
<line x1="105.10" y1="645.50" x2="109.50" y2="645.50" stroke="#2f8f2c" stroke-width="0.9" />
<rect x="111.20" y="687.30" width="5.60" height="7.00" fill="#f7941d" />
<line x1="114.00" y1="687.30" x2="114.00" y2="685.50" stroke="#e07f10" stroke-width="0.8" />
<line x1="111.80" y1="685.50" x2="116.20" y2="685.50" stroke="#e07f10" stroke-width="0.9" />
<text x="118.20" y="684.30" font-size="9.5" fill="#3a3a3a" transform="rotate(-90 118.20 684.30)" textLength="13.6" lengthAdjust="spacingAndGlyphs">****</text>
<rect x="128.70" y="649.80" width="5.60" height="44.50" fill="#3aaa35" />
<line x1="131.50" y1="649.80" x2="131.50" y2="646.00" stroke="#2f8f2c" stroke-width="0.8" />
<line x1="129.30" y1="646.00" x2="133.70" y2="646.00" stroke="#2f8f2c" stroke-width="0.9" />
<rect x="135.00" y="690.50" width="5.60" height="3.80" fill="#f7941d" />
<line x1="137.80" y1="690.50" x2="137.80" y2="689.80" stroke="#e07f10" stroke-width="0.8" />
<line x1="135.60" y1="689.80" x2="140.00" y2="689.80" stroke="#e07f10" stroke-width="0.9" />
<text x="142.00" y="688.60" font-size="9.5" fill="#3a3a3a" transform="rotate(-90 142.00 688.60)" textLength="13.6" lengthAdjust="spacingAndGlyphs">****</text>
<line x1="51.25" y1="624.60" x2="51.25" y2="694.80" stroke="#000" stroke-width="1" />
<line x1="49.95" y1="694.30" x2="150.00" y2="694.30" stroke="#000" stroke-width="1" />
<line x1="48.25" y1="627.20" x2="51.25" y2="627.20" stroke="#000" stroke-width="0.9" />
<text x="45.05" y="630.40" font-size="9.6" text-anchor="end" fill="#3a3a3a" textLength="10.80" lengthAdjust="spacingAndGlyphs">1.5</text>
<line x1="48.25" y1="649.30" x2="51.25" y2="649.30" stroke="#000" stroke-width="0.9" />
<text x="45.05" y="652.50" font-size="9.6" text-anchor="end" fill="#3a3a3a" textLength="4.30" lengthAdjust="spacingAndGlyphs">1</text>
<line x1="48.25" y1="671.80" x2="51.25" y2="671.80" stroke="#000" stroke-width="0.9" />
<text x="45.05" y="675.00" font-size="9.6" text-anchor="end" fill="#3a3a3a" textLength="10.80" lengthAdjust="spacingAndGlyphs">0.5</text>
<line x1="48.25" y1="694.30" x2="51.25" y2="694.30" stroke="#000" stroke-width="0.9" />
<text x="45.05" y="697.50" font-size="9.6" text-anchor="end" fill="#3a3a3a" textLength="4.30" lengthAdjust="spacingAndGlyphs">0</text>
<text x="66.45" y="701.10" font-size="9.2" fill="#231f20" text-anchor="end" transform="rotate(-45 66.45 701.10)" textLength="24.5" lengthAdjust="spacingAndGlyphs">DN2b</text>
<line x1="75.00" y1="694.30" x2="75.00" y2="697.30" stroke="#000" stroke-width="0.9" />
<text x="90.20" y="701.10" font-size="9.2" fill="#231f20" text-anchor="end" transform="rotate(-45 90.20 701.10)" textLength="24.5" lengthAdjust="spacingAndGlyphs">DN3a</text>
<line x1="98.75" y1="694.30" x2="98.75" y2="697.30" stroke="#000" stroke-width="0.9" />
<text x="113.95" y="701.10" font-size="9.2" fill="#231f20" text-anchor="end" transform="rotate(-45 113.95 701.10)" textLength="24.5" lengthAdjust="spacingAndGlyphs">DN3b</text>
<line x1="122.50" y1="694.30" x2="122.50" y2="697.30" stroke="#000" stroke-width="0.9" />
<text x="137.70" y="701.10" font-size="9.2" fill="#231f20" text-anchor="end" transform="rotate(-45 137.70 701.10)" textLength="18.5" lengthAdjust="spacingAndGlyphs">DN4</text>
<line x1="146.25" y1="694.30" x2="146.25" y2="697.30" stroke="#000" stroke-width="0.9" />
<rect x="57.00" y="726.80" width="4.40" height="4.40" fill="#3aaa35" />
<text x="64.60" y="731.40" font-size="8.6" fill="#333" textLength="24.40" lengthAdjust="spacingAndGlyphs">LckCre</text>
<rect x="99.50" y="726.80" width="4.40" height="4.40" fill="#f7941d" />
<text x="107.60" y="731.40" font-size="8.6" fill="#333" textLength="36.40" lengthAdjust="spacingAndGlyphs">Cdc73Δ/Δ</text>
<text x="189.50" y="617.60" font-size="12" font-weight="700" fill="#231f20">Q</text>
<text x="273.00" y="617.50" font-size="10.3" font-style="italic" fill="#231f20" textLength="22.50" lengthAdjust="spacingAndGlyphs">Hes1</text>
<text x="211.50" y="693.6" font-size="9.2" fill="#3a3a3a" transform="rotate(-90 211.50 693.6)" textLength="69" lengthAdjust="spacingAndGlyphs">Relative expression</text>
<rect x="241.20" y="648.30" width="5.60" height="46.00" fill="#3aaa35" />
<line x1="244.00" y1="648.30" x2="244.00" y2="648.00" stroke="#2f8f2c" stroke-width="0.8" />
<line x1="241.80" y1="648.00" x2="246.20" y2="648.00" stroke="#2f8f2c" stroke-width="0.9" />
<rect x="248.00" y="664.50" width="5.60" height="29.80" fill="#f7941d" />
<line x1="250.80" y1="664.50" x2="250.80" y2="656.30" stroke="#e07f10" stroke-width="0.8" />
<line x1="248.60" y1="656.30" x2="253.00" y2="656.30" stroke="#e07f10" stroke-width="0.9" />
<text x="253.40" y="655.10" font-size="8" fill="#3a3a3a" transform="rotate(-90 253.40 655.10)" textLength="8" lengthAdjust="spacingAndGlyphs">ns</text>
<rect x="264.50" y="649.30" width="5.60" height="45.00" fill="#3aaa35" />
<line x1="267.30" y1="649.30" x2="267.30" y2="647.50" stroke="#2f8f2c" stroke-width="0.8" />
<line x1="265.10" y1="647.50" x2="269.50" y2="647.50" stroke="#2f8f2c" stroke-width="0.9" />
<rect x="271.20" y="665.80" width="5.60" height="28.50" fill="#f7941d" />
<line x1="274.00" y1="665.80" x2="274.00" y2="664.50" stroke="#e07f10" stroke-width="0.8" />
<line x1="271.80" y1="664.50" x2="276.20" y2="664.50" stroke="#e07f10" stroke-width="0.9" />
<text x="278.20" y="663.30" font-size="9.5" fill="#3a3a3a" transform="rotate(-90 278.20 663.30)" textLength="10.2" lengthAdjust="spacingAndGlyphs">***</text>
<rect x="288.00" y="649.30" width="5.60" height="45.00" fill="#3aaa35" />
<line x1="290.80" y1="649.30" x2="290.80" y2="645.80" stroke="#2f8f2c" stroke-width="0.8" />
<line x1="288.60" y1="645.80" x2="293.00" y2="645.80" stroke="#2f8f2c" stroke-width="0.9" />
<rect x="294.50" y="656.30" width="5.60" height="38.00" fill="#f7941d" />
<line x1="297.30" y1="656.30" x2="297.30" y2="654.30" stroke="#e07f10" stroke-width="0.8" />
<line x1="295.10" y1="654.30" x2="299.50" y2="654.30" stroke="#e07f10" stroke-width="0.9" />
<text x="301.50" y="653.10" font-size="9.5" fill="#3a3a3a" transform="rotate(-90 301.50 653.10)" textLength="3.4" lengthAdjust="spacingAndGlyphs">*</text>
<rect x="311.30" y="649.30" width="5.60" height="45.00" fill="#3aaa35" />
<line x1="314.10" y1="649.30" x2="314.10" y2="645.00" stroke="#2f8f2c" stroke-width="0.8" />
<line x1="311.90" y1="645.00" x2="316.30" y2="645.00" stroke="#2f8f2c" stroke-width="0.9" />
<rect x="318.00" y="679.50" width="5.60" height="14.80" fill="#f7941d" />
<line x1="320.80" y1="679.50" x2="320.80" y2="674.50" stroke="#e07f10" stroke-width="0.8" />
<line x1="318.60" y1="674.50" x2="323.00" y2="674.50" stroke="#e07f10" stroke-width="0.9" />
<text x="325.00" y="673.30" font-size="9.5" fill="#3a3a3a" transform="rotate(-90 325.00 673.30)" textLength="10.2" lengthAdjust="spacingAndGlyphs">***</text>
<line x1="235.50" y1="624.60" x2="235.50" y2="694.80" stroke="#000" stroke-width="1" />
<line x1="234.20" y1="694.30" x2="332.50" y2="694.30" stroke="#000" stroke-width="1" />
<line x1="232.50" y1="627.20" x2="235.50" y2="627.20" stroke="#000" stroke-width="0.9" />
<text x="229.30" y="630.40" font-size="9.6" text-anchor="end" fill="#3a3a3a" textLength="10.80" lengthAdjust="spacingAndGlyphs">1.5</text>
<line x1="232.50" y1="649.30" x2="235.50" y2="649.30" stroke="#000" stroke-width="0.9" />
<text x="229.30" y="652.50" font-size="9.6" text-anchor="end" fill="#3a3a3a" textLength="4.30" lengthAdjust="spacingAndGlyphs">1</text>
<line x1="232.50" y1="671.80" x2="235.50" y2="671.80" stroke="#000" stroke-width="0.9" />
<text x="229.30" y="675.00" font-size="9.6" text-anchor="end" fill="#3a3a3a" textLength="10.80" lengthAdjust="spacingAndGlyphs">0.5</text>
<line x1="232.50" y1="694.30" x2="235.50" y2="694.30" stroke="#000" stroke-width="0.9" />
<text x="229.30" y="697.50" font-size="9.6" text-anchor="end" fill="#3a3a3a" textLength="4.30" lengthAdjust="spacingAndGlyphs">0</text>
<text x="250.70" y="701.10" font-size="9.2" fill="#231f20" text-anchor="end" transform="rotate(-45 250.70 701.10)" textLength="24.5" lengthAdjust="spacingAndGlyphs">DN2b</text>
<line x1="259.25" y1="694.30" x2="259.25" y2="697.30" stroke="#000" stroke-width="0.9" />
<text x="274.45" y="701.10" font-size="9.2" fill="#231f20" text-anchor="end" transform="rotate(-45 274.45 701.10)" textLength="24.5" lengthAdjust="spacingAndGlyphs">DN3a</text>
<line x1="283.00" y1="694.30" x2="283.00" y2="697.30" stroke="#000" stroke-width="0.9" />
<text x="298.20" y="701.10" font-size="9.2" fill="#231f20" text-anchor="end" transform="rotate(-45 298.20 701.10)" textLength="24.5" lengthAdjust="spacingAndGlyphs">DN3b</text>
<line x1="306.75" y1="694.30" x2="306.75" y2="697.30" stroke="#000" stroke-width="0.9" />
<text x="321.95" y="701.10" font-size="9.2" fill="#231f20" text-anchor="end" transform="rotate(-45 321.95 701.10)" textLength="18.5" lengthAdjust="spacingAndGlyphs">DN4</text>
<line x1="330.50" y1="694.30" x2="330.50" y2="697.30" stroke="#000" stroke-width="0.9" />
<rect x="240.00" y="726.80" width="4.40" height="4.40" fill="#3aaa35" />
<text x="247.60" y="731.40" font-size="8.6" fill="#333" textLength="24.40" lengthAdjust="spacingAndGlyphs">LckCre</text>
<rect x="283.00" y="726.80" width="4.40" height="4.40" fill="#f7941d" />
<text x="291.10" y="731.40" font-size="8.6" fill="#333" textLength="36.40" lengthAdjust="spacingAndGlyphs">Cdc73Δ/Δ</text>
<text x="372.00" y="617.60" font-size="12" font-weight="700" fill="#231f20">R</text>
<text x="455.50" y="617.50" font-size="10.3" font-style="italic" fill="#231f20" textLength="18.30" lengthAdjust="spacingAndGlyphs">Myc</text>
<text x="391.50" y="693.6" font-size="9.2" fill="#3a3a3a" transform="rotate(-90 391.50 693.6)" textLength="69" lengthAdjust="spacingAndGlyphs">Relative expression</text>
<rect x="421.80" y="649.30" width="5.60" height="45.00" fill="#3aaa35" />
<line x1="424.60" y1="649.30" x2="424.60" y2="647.00" stroke="#2f8f2c" stroke-width="0.8" />
<line x1="422.40" y1="647.00" x2="426.80" y2="647.00" stroke="#2f8f2c" stroke-width="0.9" />
<rect x="428.50" y="655.50" width="5.60" height="38.80" fill="#f7941d" />
<line x1="431.30" y1="655.50" x2="431.30" y2="650.80" stroke="#e07f10" stroke-width="0.8" />
<line x1="429.10" y1="650.80" x2="433.50" y2="650.80" stroke="#e07f10" stroke-width="0.9" />
<text x="433.90" y="649.60" font-size="8" fill="#3a3a3a" transform="rotate(-90 433.90 649.60)" textLength="8" lengthAdjust="spacingAndGlyphs">ns</text>
<rect x="445.00" y="649.30" width="5.60" height="45.00" fill="#3aaa35" />
<line x1="447.80" y1="649.30" x2="447.80" y2="645.80" stroke="#2f8f2c" stroke-width="0.8" />
<line x1="445.60" y1="645.80" x2="450.00" y2="645.80" stroke="#2f8f2c" stroke-width="0.9" />
<rect x="451.80" y="660.80" width="5.60" height="33.50" fill="#f7941d" />
<line x1="454.60" y1="660.80" x2="454.60" y2="659.30" stroke="#e07f10" stroke-width="0.8" />
<line x1="452.40" y1="659.30" x2="456.80" y2="659.30" stroke="#e07f10" stroke-width="0.9" />
<text x="458.80" y="658.10" font-size="9.5" fill="#3a3a3a" transform="rotate(-90 458.80 658.10)" textLength="6.8" lengthAdjust="spacingAndGlyphs">**</text>
<rect x="468.70" y="649.30" width="5.60" height="45.00" fill="#3aaa35" />
<line x1="471.50" y1="649.30" x2="471.50" y2="646.80" stroke="#2f8f2c" stroke-width="0.8" />
<line x1="469.30" y1="646.80" x2="473.70" y2="646.80" stroke="#2f8f2c" stroke-width="0.9" />
<rect x="475.30" y="665.80" width="5.60" height="28.50" fill="#f7941d" />
<line x1="478.10" y1="665.80" x2="478.10" y2="661.30" stroke="#e07f10" stroke-width="0.8" />
<line x1="475.90" y1="661.30" x2="480.30" y2="661.30" stroke="#e07f10" stroke-width="0.9" />
<text x="482.30" y="660.10" font-size="9.5" fill="#3a3a3a" transform="rotate(-90 482.30 660.10)" textLength="6.8" lengthAdjust="spacingAndGlyphs">**</text>
<rect x="492.00" y="649.30" width="5.60" height="45.00" fill="#3aaa35" />
<line x1="494.80" y1="649.30" x2="494.80" y2="645.80" stroke="#2f8f2c" stroke-width="0.8" />
<line x1="492.60" y1="645.80" x2="497.00" y2="645.80" stroke="#2f8f2c" stroke-width="0.9" />
<rect x="498.80" y="677.00" width="5.60" height="17.30" fill="#f7941d" />
<line x1="501.60" y1="677.00" x2="501.60" y2="675.00" stroke="#e07f10" stroke-width="0.8" />
<line x1="499.40" y1="675.00" x2="503.80" y2="675.00" stroke="#e07f10" stroke-width="0.9" />
<text x="505.80" y="673.80" font-size="9.5" fill="#3a3a3a" transform="rotate(-90 505.80 673.80)" textLength="10.2" lengthAdjust="spacingAndGlyphs">***</text>
<line x1="415.50" y1="624.60" x2="415.50" y2="694.80" stroke="#000" stroke-width="1" />
<line x1="414.20" y1="694.30" x2="512.50" y2="694.30" stroke="#000" stroke-width="1" />
<line x1="412.50" y1="627.20" x2="415.50" y2="627.20" stroke="#000" stroke-width="0.9" />
<text x="409.30" y="630.40" font-size="9.6" text-anchor="end" fill="#3a3a3a" textLength="10.80" lengthAdjust="spacingAndGlyphs">1.5</text>
<line x1="412.50" y1="649.30" x2="415.50" y2="649.30" stroke="#000" stroke-width="0.9" />
<text x="409.30" y="652.50" font-size="9.6" text-anchor="end" fill="#3a3a3a" textLength="4.30" lengthAdjust="spacingAndGlyphs">1</text>
<line x1="412.50" y1="671.80" x2="415.50" y2="671.80" stroke="#000" stroke-width="0.9" />
<text x="409.30" y="675.00" font-size="9.6" text-anchor="end" fill="#3a3a3a" textLength="10.80" lengthAdjust="spacingAndGlyphs">0.5</text>
<line x1="412.50" y1="694.30" x2="415.50" y2="694.30" stroke="#000" stroke-width="0.9" />
<text x="409.30" y="697.50" font-size="9.6" text-anchor="end" fill="#3a3a3a" textLength="4.30" lengthAdjust="spacingAndGlyphs">0</text>
<text x="430.70" y="701.10" font-size="9.2" fill="#231f20" text-anchor="end" transform="rotate(-45 430.70 701.10)" textLength="24.5" lengthAdjust="spacingAndGlyphs">DN2b</text>
<line x1="439.25" y1="694.30" x2="439.25" y2="697.30" stroke="#000" stroke-width="0.9" />
<text x="454.45" y="701.10" font-size="9.2" fill="#231f20" text-anchor="end" transform="rotate(-45 454.45 701.10)" textLength="24.5" lengthAdjust="spacingAndGlyphs">DN3a</text>
<line x1="463.00" y1="694.30" x2="463.00" y2="697.30" stroke="#000" stroke-width="0.9" />
<text x="478.20" y="701.10" font-size="9.2" fill="#231f20" text-anchor="end" transform="rotate(-45 478.20 701.10)" textLength="24.5" lengthAdjust="spacingAndGlyphs">DN3b</text>
<line x1="486.75" y1="694.30" x2="486.75" y2="697.30" stroke="#000" stroke-width="0.9" />
<text x="501.95" y="701.10" font-size="9.2" fill="#231f20" text-anchor="end" transform="rotate(-45 501.95 701.10)" textLength="18.5" lengthAdjust="spacingAndGlyphs">DN4</text>
<line x1="510.50" y1="694.30" x2="510.50" y2="697.30" stroke="#000" stroke-width="0.9" />
<rect x="420.50" y="726.80" width="4.40" height="4.40" fill="#3aaa35" />
<text x="428.10" y="731.40" font-size="8.6" fill="#333" textLength="24.40" lengthAdjust="spacingAndGlyphs">LckCre</text>
<rect x="463.00" y="726.80" width="4.40" height="4.40" fill="#f7941d" />
<text x="471.10" y="731.40" font-size="8.6" fill="#333" textLength="36.40" lengthAdjust="spacingAndGlyphs">Cdc73Δ/Δ</text>
<rect x="0" y="0" width="520" height="1" fill="#555"/><rect x="0" y="740" width="520" height="1" fill="#4a4a4a"/><rect x="0" y="0" width="0.75" height="741" fill="#444"/><rect x="519.15" y="0" width="0.85" height="741" fill="#555"/>
</svg>
</body></html>
